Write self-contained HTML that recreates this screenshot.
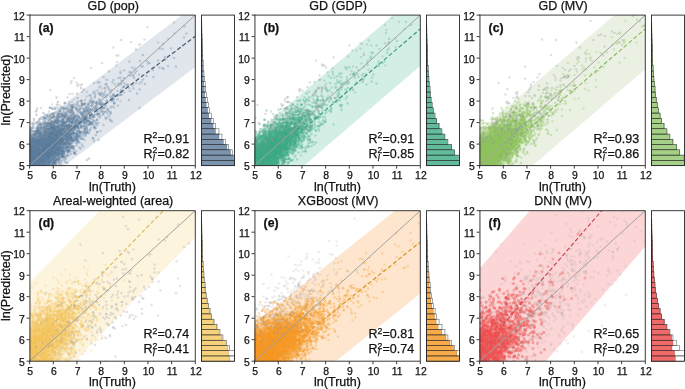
<!DOCTYPE html><html><head><meta charset="utf-8"><style>html,body{margin:0;padding:0;background:#fff;overflow:hidden}svg{display:block;will-change:transform}text{font-family:"Liberation Sans", sans-serif;stroke:#111;stroke-width:0.25px}</style></head><body>
<svg width="685" height="389" viewBox="0 0 685 389">
<rect width="685" height="389" fill="#fff"/>
<clipPath id="c0"><rect x="29.60" y="15.10" width="165.70" height="150.50"/></clipPath>
<g clip-path="url(#c0)">
<polygon points="5.9,147.8 219.0,-12.6 219.0,49.3 5.9,209.8" fill="#e1e5ec"/>
<line x1="5.93" y1="178.80" x2="195.30" y2="36.21" stroke="#44576b" stroke-width="1.20" stroke-dasharray="4.2,2.3"/>
<path d="M162 202h0m19-2h0m2 6h0m11 0h0m-69 10h0m2 6h0m49 0h0m-89 4h0m32 4h0m5-3h0m5 4h0m1 0h0m2-3h0m3 2h0m28-1h0m16-4h0m-80 7h0m9 1h0m23 2h0m9-3h0m32 5h0m-106 9h0m43-5h0m5 5h0m4-4h0m8 4h0m3 0h0m5-6h0m10 4h0m12 2h0m15-6h0m8 2h0m-129 11h0m18-5h0m20 7h0m5-4h0m3-3h0m3 3h0m4 2h0m14-1h0m2-2h0m4 0h0m4-1h0m2 1h0m0 0h0m7 4h0m-81 4h0m6 1h0m16 4h0m4 0h0m2-7h0m7 2h0m15-1h0m4 0h0m6 0h0m0-1h0m6 6h0m0 0h0m7 1h0m14-4h0m3-3h0m4 0h0m-89 10h0m2 5h0m4-2h0m4-2h0m10 3h0m0-3h0m14-2h0m0 5h0m5 1h0m4-6h0m1 3h0m1 3h0m9-2h0m9 2h0m0 0h0m5-6h0m9 3h0m14 0h0m-86 11h0m8-6h0m0 6h0m5-6h0m0 6h0m6 0h0m2-6h0m0 6h0m5-1h0m4 1h0m3-4h0m1 0h0m0 4h0m0-1h0m1-1h0m2-2h0m2 3h0m1-3h0m3 4h0m1-1h0m0-6h0m1 1h0m0 1h0m3-2h0m2 6h0m2 1h0m5-5h0m6 3h0m0-1h0m5-3h0m4 2h0m18 1h0m9 2h0m-113 9h0m5-6h0m3 5h0m2-1h0m0 1h0m2 0h0m2-5h0m0-1h0m2 4h0m6 0h0m2-1h0m0 3h0m2 1h0m2-4h0m1-3h0m1 4h0m2-1h0m1 3h0m1-5h0m5 5h0m3-5h0m2 5h0m3-4h0m0-1h0m5 6h0m0-2h0m1 2h0m4-2h0m3-5h0m2 4h0m1-2h0m3 3h0m3 2h0m14-2h0m2-3h0m1 5h0m-86 8h0m0-5h0m0 2h0m0 3h0m1 0h0m1 0h0m1-1h0m1 0h0m3 0h0m2 1h0m0-6h0m0 0h0m1 2h0m0 4h0m0-3h0m1 3h0m2 0h0m0-3h0m3 3h0m0 0h0m0-2h0m1 2h0m1-1h0m1-1h0m0 2h0m0-3h0m1 1h0m1 2h0m4-4h0m1-2h0m1 6h0m1-7h0m1 6h0m0-4h0m2 4h0m1-2h0m0 3h0m1-2h0m1-4h0m3 4h0m2-1h0m1 3h0m4 0h0m1-1h0m0-1h0m2 2h0m0-4h0m0 1h0m7 2h0m0-1h0m2-3h0m2-2h0m3 7h0m0-6h0m5-1h0m1 5h0m2-2h0m3 2h0m1 1h0m4 1h0m5-2h0m0-3h0m10 4h0m4-1h0m-95 9h0m1 0h0m1 0h0m1-2h0m0 2h0m1-3h0m0 1h0m2-3h0m2 6h0m2-4h0m0-3h0m3 0h0m1 2h0m1-1h0m0 5h0m1 1h0m0-1h0m1-3h0m0-3h0m1 1h0m0 6h0m1-4h0m0 4h0m1-2h0m0 2h0m0-5h0m2 1h0m0 0h0m3-1h0m4 0h0m1 5h0m5-2h0m0 2h0m1-6h0m4 2h0m2-3h0m0 6h0m2-6h0m6 2h0m0 5h0m1-3h0m0-1h0m0-3h0m2 6h0m6-4h0m1-2h0m1 4h0m0 1h0m8-5h0m0 6h0m2-3h0m2 3h0m7-6h0m4 7h0m2-3h0m-86 7h0m7 3h0m1 0h0m1-2h0m0 1h0m2 2h0m3-7h0m5 1h0m2 3h0m0 2h0m0-2h0m1 0h0m0-1h0m2-1h0m0 4h0m1-5h0m1 6h0m1 0h0m1 0h0m2-7h0m0 0h0m2 6h0m1 0h0m4-5h0m4 3h0m0 1h0m1-1h0m3-1h0m1 1h0m0 3h0m2-1h0m3-2h0m3 1h0m4-5h0m1 2h0m0 3h0m7-5h0m9 1h0m-77 8h0m1 6h0m0-5h0m1 1h0m2 2h0m0 1h0m2-3h0m2-2h0m0 4h0m0-1h0m1-1h0m2 4h0m1-2h0m0-5h0m3 1h0m2 0h0m0 2h0m2 3h0m2-5h0m1 5h0m2-4h0m1 0h0m2 1h0m0-3h0m2 0h0m2 5h0m2 1h0m1 1h0m2-4h0m0-1h0m0-1h0m0 5h0m1 0h0m5-3h0m1-1h0m4 4h0m2-5h0m1-1h0m2 0h0m1 4h0m0-3h0m1-1h0m1 1h0m3 4h0m0-3h0m6 5h0m-64 6h0m0-1h0m1-4h0m0 6h0m3-3h0m2-2h0m1 4h0m0 1h0m0 0h0m2-1h0m0-5h0m1 0h0m1 0h0m2 4h0m2 0h0m1 2h0m2 0h0m3-4h0m0 1h0m1-3h0m0 1h0m1-1h0m3 6h0m1-3h0m1-2h0m2 5h0m2-3h0m3-2h0m1 5h0m0-6h0m2 4h0m7 0h0m3-2h0m3-1h0m2-1h0m4 0h0m1 7h0m1-2h0m2-4h0m22 4h0m2 1h0m-81 6h0m2-2h0m0 5h0m3-4h0m1 1h0m0 1h0m1-2h0m0-2h0m1 3h0m0-4h0m0 3h0m1-2h0m3 3h0m6-2h0m2 1h0m2 0h0m1 0h0m0-2h0m1 2h0m0-1h0m1-1h0m1 4h0m1-4h0m8 0h0m2-1h0m0 5h0m2-5h0m4 2h0m2 4h0m0 0h0m5-3h0m19 0h0m-72 9h0m1-2h0m0 1h0m6-3h0m0 2h0m3-2h0m2 0h0m2 3h0m1-1h0m0 1h0m5-3h0m1 0h0m7 1h0m5 1h0m23 0h0" stroke="#57799a" stroke-opacity="0.33" stroke-width="5.2" stroke-linecap="round" fill="none" transform="scale(.5)"/>
<path d="M155 209h0m-12 11h0m29-4h0m-78 14h0m14 1h0m39-5h0m63-2h0m-120 12h0m7-2h0m15 5h0m7-5h0m11-2h0m9 4h0m2 0h0m44-3h0m-87 13h0m4-1h0m12-3h0m3-2h0m23 3h0m6-1h0m2-1h0m19 2h0m-91 11h0m30 0h0m2-5h0m15 1h0m2 1h0m2-2h0m5 5h0m9 1h0m6-6h0m8 5h0m-93 2h0m3 7h0m3 0h0m5 0h0m3-4h0m0 3h0m7-3h0m15 0h0m6 3h0m10-5h0m1 4h0m1-4h0m3 6h0m1-2h0m4 1h0m3-1h0m1-1h0m3-2h0m7 2h0m3-2h0m1 1h0m3-2h0m2 3h0m27 1h0m-123 6h0m1 4h0m14-1h0m3 0h0m4-3h0m3 3h0m1-6h0m0 2h0m3 1h0m2 1h0m0 0h0m0-2h0m3 5h0m2-4h0m0 0h0m6 3h0m1 1h0m6-1h0m5-1h0m1-5h0m5 6h0m3-5h0m1 2h0m6 3h0m0-3h0m0 1h0m8 0h0m16 0h0m2-3h0m12-1h0m10 0h0m4 3h0m-120 12h0m12-3h0m4 3h0m1 0h0m7-5h0m1-1h0m1 1h0m0 4h0m2-2h0m2 0h0m0 0h0m4 1h0m10 1h0m1-1h0m3-2h0m3 3h0m5 1h0m1-1h0m3-2h0m2-3h0m0-1h0m7 0h0m1 6h0m13 1h0m1-7h0m6 5h0m12-5h0m4 0h0m-104 10h0m6-1h0m4 3h0m0 0h0m2 1h0m1-2h0m1-1h0m0 1h0m1-1h0m1-1h0m1 3h0m0 1h0m2-2h0m1 3h0m2-4h0m0-1h0m0 5h0m1 1h0m1-7h0m3 5h0m2 0h0m3 2h0m2-3h0m5 1h0m0-3h0m1 5h0m7-6h0m1 2h0m0-1h0m0-1h0m4 1h0m0-1h0m1 1h0m0-2h0m4 5h0m1 1h0m1-3h0m1-2h0m1 4h0m3-5h0m1 0h0m9 7h0m16-2h0m1 0h0m0-1h0m7-4h0m4 4h0m-105 5h0m6 5h0m1-4h0m1 2h0m0 2h0m0-1h0m3 1h0m2-3h0m0-3h0m1 2h0m0 3h0m2 2h0m1-1h0m0 0h0m3 0h0m0 1h0m3-1h0m1-6h0m4 3h0m0 4h0m1-6h0m0-1h0m2 3h0m2 3h0m0 0h0m1-1h0m1-4h0m0 6h0m0-1h0m0-4h0m2 5h0m3-6h0m2 1h0m0 1h0m0 2h0m1 2h0m4-7h0m3 5h0m0 1h0m1 1h0m3-6h0m1 0h0m1 6h0m1-5h0m1 2h0m0 2h0m2-3h0m1 3h0m1-3h0m1-3h0m12 5h0m6 2h0m8-6h0m-89 13h0m1 0h0m2-5h0m1-1h0m0 7h0m2-1h0m0-5h0m0 1h0m2 2h0m3-1h0m3 1h0m1-1h0m1-2h0m1 6h0m3-3h0m1 2h0m1-2h0m1-1h0m2 4h0m0-6h0m0 0h0m1-1h0m1 0h0m1 2h0m0-2h0m1 7h0m6 0h0m1-7h0m2 2h0m0 2h0m0-4h0m2 0h0m2 3h0m0-2h0m6 4h0m2-3h0m1-1h0m5-1h0m0 3h0m0 4h0m1-1h0m1 0h0m0-5h0m1 1h0m1-1h0m2 2h0m5-3h0m9 7h0m5-7h0m6 6h0m-89 2h0m0 0h0m1 5h0m1-1h0m0 2h0m1 1h0m3-3h0m0-2h0m1 1h0m1-2h0m6 3h0m0 1h0m0 1h0m0-2h0m1-1h0m0 1h0m2 0h0m1-3h0m0 4h0m2-2h0m4-2h0m0 6h0m0-6h0m1 4h0m0 2h0m1-6h0m1 1h0m1 2h0m1 2h0m0-6h0m2 7h0m0-3h0m1 2h0m4 1h0m0-1h0m1 0h0m1 1h0m1-1h0m0 0h0m0 0h0m4-4h0m0 3h0m2-3h0m1 0h0m2 1h0m1 3h0m1-1h0m1 2h0m3-7h0m4 7h0m1-1h0m1 1h0m0-4h0m3 1h0m0 0h0m2 2h0m10-2h0m2 3h0m-76 2h0m1 2h0m3-3h0m1 1h0m0-1h0m2 0h0m1 3h0m4 4h0m0-7h0m0 5h0m4-4h0m0-1h0m1 2h0m1 2h0m0-1h0m1 0h0m0 1h0m0 2h0m4-3h0m5-1h0m3 5h0m1-1h0m5-4h0m0 2h0m0-4h0m1 0h0m1 2h0m1 3h0m1-1h0m0 1h0m0-5h0m2 7h0m0-4h0m1-1h0m1 0h0m3 2h0m2-3h0m4 6h0m2-5h0m1 5h0m-57 6h0m1 1h0m0-4h0m1 5h0m0-5h0m1-1h0m3 1h0m0 5h0m1-6h0m0 5h0m5-4h0m1-1h0m1 6h0m2-7h0m0 1h0m1 5h0m2 1h0m3-1h0m2 1h0m0-2h0m0 0h0m0 1h0m1-6h0m3 3h0m2 1h0m1-3h0m1 3h0m4 2h0m0-6h0m5 1h0m6 2h0m1 4h0m0-5h0m8 4h0m1-1h0m8-5h0m-66 9h0m0 6h0m1-3h0m0-4h0m1 3h0m2 1h0m0 0h0m1 3h0m1-2h0m0-5h0m2 0h0m1 2h0m3 5h0m1-5h0m2 0h0m1-2h0m0 6h0m3-3h0m1-1h0m0-2h0m1 1h0m4 2h0m2-3h0m2 0h0m2 7h0m3-3h0m0 1h0m3 0h0m1 2h0m0-2h0m2-5h0m2 7h0m5-4h0m4 3h0m4-6h0m-54 11h0m3-3h0m3 3h0m2-1h0m3-1h0m4-1h0m1 1h0m0 1h0m1-1h0m7 1h0m2-2h0m1 2h0m2-1h0" stroke="#57799a" stroke-opacity="0.33" stroke-width="5.2" stroke-linecap="round" fill="none" transform="scale(.5)"/>
<path d="M129 206h0m34-4h0m-19 13h0m-40 1h0m15 7h0m25-1h0m26 1h0m-61 3h0m4-1h0m4 3h0m1-4h0m7 6h0m2-3h0m-40 12h0m28-6h0m12 6h0m19 0h0m6-2h0m16 2h0m1-4h0m2 2h0m23 2h0m-91 3h0m9 0h0m7 5h0m4-6h0m8 5h0m7-5h0m26 0h0m10 5h0m1-4h0m-94 6h0m8 6h0m2-5h0m1 3h0m11-4h0m4 7h0m2-2h0m8-2h0m0 2h0m3 2h0m7-2h0m8 2h0m2 0h0m6-4h0m8 1h0m5-1h0m-78 10h0m16-1h0m6 3h0m3-5h0m2 5h0m0-2h0m3 1h0m6-3h0m0-2h0m2 5h0m5-6h0m4 5h0m2-1h0m11 3h0m1-7h0m2 7h0m-82 3h0m12 3h0m5-3h0m0 0h0m1 2h0m4 1h0m7 1h0m0 1h0m1-3h0m4-4h0m4 1h0m1 0h0m5 0h0m2 1h0m3 3h0m2-2h0m3-2h0m2 4h0m5 0h0m0-3h0m1 3h0m4 1h0m3-2h0m3 2h0m1-2h0m0 2h0m3-5h0m0-1h0m6 6h0m2-5h0m0 5h0m0-3h0m4-1h0m-91 6h0m0 2h0m3-2h0m5 3h0m2 2h0m4-2h0m2 4h0m0-2h0m2 1h0m3-4h0m1 2h0m4 0h0m0-3h0m1-1h0m4 7h0m1-1h0m1-3h0m1 3h0m0-3h0m1 3h0m8-4h0m0 0h0m1 1h0m1-2h0m1-1h0m0 6h0m5-2h0m1-2h0m1-1h0m2 0h0m2-1h0m1 2h0m0-2h0m2 7h0m3-4h0m1 4h0m2-1h0m1-2h0m2 3h0m3-6h0m4 0h0m1 4h0m3-2h0m4 0h0m1 0h0m-91 10h0m5 2h0m1-5h0m8 1h0m1 0h0m1-2h0m1 4h0m0-5h0m1 4h0m3-2h0m1 2h0m2 2h0m0-4h0m4 2h0m1 2h0m3-4h0m4-1h0m1 5h0m5-5h0m1 1h0m1 0h0m7-2h0m1 5h0m1-2h0m4-1h0m2 1h0m3 1h0m6-2h0m1 3h0m1-4h0m2 1h0m1-2h0m3 3h0m8 0h0m3 0h0m17-1h0m-104 7h0m1 1h0m0-1h0m1 5h0m1 0h0m1 0h0m1-5h0m1 1h0m1 3h0m1 0h0m0-1h0m0 1h0m1-4h0m0-1h0m1 4h0m0 3h0m8-2h0m1-2h0m0 4h0m1-4h0m1-2h0m0 6h0m0-5h0m1 4h0m1-4h0m0 2h0m1-2h0m3 5h0m0-4h0m1 0h0m2 0h0m1-1h0m2-2h0m0 4h0m1-3h0m1-1h0m0 1h0m1-1h0m2 5h0m1-4h0m1-1h0m2 0h0m0 0h0m1 1h0m4 0h0m5 1h0m1 3h0m1 1h0m0 0h0m1-5h0m3 5h0m1-3h0m0-3h0m9 6h0m1-1h0m-68 10h0m4-5h0m1 3h0m5-3h0m1-2h0m0 3h0m0 2h0m2-1h0m5 3h0m0-7h0m1 7h0m1 0h0m2-1h0m0 1h0m2-3h0m0-1h0m1-2h0m1 1h0m2-2h0m0 4h0m2 1h0m1 0h0m1-2h0m2 2h0m1-1h0m0-3h0m1 1h0m1 2h0m0 1h0m1 1h0m1-1h0m0-5h0m7 1h0m0 2h0m2 3h0m0-6h0m2 7h0m1-3h0m4 3h0m0-3h0m1-3h0m5 6h0m4-6h0m8 0h0m-74 8h0m3-1h0m4 1h0m3 2h0m0-3h0m3 1h0m1 2h0m1 3h0m2-1h0m3 0h0m0 2h0m1-1h0m0 1h0m1-1h0m0-3h0m0-1h0m1 5h0m1-6h0m2 2h0m2 3h0m2-1h0m2 2h0m0-4h0m2 3h0m0-5h0m1-1h0m2 7h0m3-5h0m0 4h0m5 0h0m2-2h0m0-2h0m0 1h0m1-3h0m0 5h0m3 1h0m9-1h0m3-4h0m36 1h0m-99 8h0m0-1h0m1 6h0m1-2h0m2 2h0m1 0h0m3 0h0m0-2h0m2-1h0m0 0h0m1 1h0m2-2h0m0-2h0m2-1h0m1 6h0m1-6h0m1 6h0m2-1h0m1 0h0m0-5h0m4 4h0m1-1h0m0 2h0m3-1h0m3 3h0m1-1h0m1-3h0m0 2h0m1 1h0m1-4h0m1 1h0m0 4h0m0 0h0m4-6h0m1-1h0m1 2h0m2-1h0m1 2h0m0 4h0m14-6h0m1 6h0m7-2h0m1-2h0m6-2h0m-73 12h0m1-4h0m0 5h0m1-4h0m0 4h0m1 0h0m0-2h0m1 1h0m2-2h0m1 1h0m1 1h0m0 1h0m2-5h0m0 0h0m4 6h0m0-6h0m4 5h0m0-5h0m0 4h0m3 1h0m0-4h0m2-2h0m3 0h0m1 5h0m0-5h0m1 6h0m5-5h0m5-1h0m7 3h0m1 2h0m10 0h0m3 2h0m8-2h0m3 0h0m-71 3h0m1 0h0m1 3h0m1 0h0m0-3h0m1 2h0m0-2h0m1 4h0m1-4h0m1 2h0m1-1h0m0 3h0m1-3h0m3 0h0m0 5h0m0 0h0m2 0h0m3-2h0m1-2h0m11 3h0m2-1h0m1-1h0m4 3h0m2-1h0m5-2h0m7 1h0m3-3h0m1 0h0m2 5h0m-57 5h0m2 1h0m2-4h0m1 3h0m4 0h0m0-3h0m2 4h0m1-1h0m0-3h0m3 3h0m3 1h0m9-2h0m5-2h0m6 1h0m10-1h0m3 4h0" stroke="#57799a" stroke-opacity="0.33" stroke-width="5.2" stroke-linecap="round" fill="none" transform="scale(.5)"/>
<path d="M223 181h0m-123 35h0m114 2h0m-108 9h0m10 2h0m2-1h0m15 0h0m30-4h0m13 3h0m-91 10h0m15 2h0m6-4h0m8 3h0m0-4h0m2 5h0m2-4h0m25-3h0m21 7h0m0-4h0m1 1h0m1 1h0m21-2h0m-95 11h0m7-4h0m1 5h0m4-2h0m4 0h0m9-3h0m6 3h0m1 2h0m3-4h0m7-3h0m10 3h0m5 0h0m18 3h0m-111 5h0m10 0h0m13 4h0m23 0h0m10-2h0m2 0h0m9-5h0m3 7h0m2-1h0m5-4h0m6 3h0m2 0h0m14 1h0m27-6h0m3 1h0m-134 7h0m22 6h0m5-3h0m1-3h0m6 3h0m2-3h0m0 2h0m3 4h0m0-1h0m2 1h0m1 1h0m20-3h0m3-1h0m1 0h0m2 0h0m20-2h0m17 6h0m13-3h0m-112 4h0m13 3h0m17 2h0m3-1h0m2-4h0m0 3h0m7 1h0m1-4h0m1 3h0m2 0h0m0-1h0m5-2h0m4 1h0m2-1h0m0 0h0m7 4h0m6 0h0m0 2h0m1-2h0m2-4h0m2 0h0m16 5h0m47-5h0m-145 10h0m7-2h0m2 6h0m0-1h0m6-2h0m2 1h0m1 3h0m5-2h0m2-3h0m5 2h0m0 1h0m0-1h0m0-2h0m5 4h0m11-1h0m1-4h0m1 4h0m3 2h0m0-5h0m0-1h0m0 4h0m1-3h0m5 3h0m4 0h0m5 2h0m1-4h0m6 1h0m11-1h0m4-2h0m1 3h0m2 2h0m2-3h0m0-1h0m7 4h0m-99 2h0m1 2h0m2 1h0m2 2h0m10-4h0m1 5h0m0 1h0m2-6h0m1 2h0m1 1h0m0-4h0m0 2h0m1-2h0m5 4h0m1-1h0m0-1h0m0-2h0m0 1h0m1 6h0m0-6h0m0 4h0m0-1h0m1-4h0m1 4h0m2 2h0m5-2h0m1-4h0m0 5h0m1 2h0m1-2h0m0 1h0m1-5h0m5 1h0m1 5h0m2-2h0m0 0h0m1 0h0m1-3h0m0 4h0m2-1h0m3-5h0m0 4h0m3 0h0m4-1h0m1 1h0m0 0h0m4-3h0m2 5h0m1 0h0m3-4h0m0 0h0m1 2h0m-74 4h0m3 3h0m1 2h0m2 2h0m1-1h0m1-5h0m3 3h0m1-4h0m0 0h0m2 3h0m4 3h0m5 0h0m1-6h0m0 3h0m1 4h0m0-4h0m1 3h0m4-2h0m3 0h0m0 0h0m1-1h0m0 0h0m1-2h0m1 5h0m2 1h0m2-7h0m1 0h0m1 3h0m1-2h0m0 3h0m10-4h0m1 1h0m4 2h0m3 2h0m5 0h0m1-5h0m3 6h0m7-6h0m5 5h0m3 1h0m1-5h0m6 5h0m-94 9h0m1-6h0m1 0h0m0 0h0m4-1h0m1 5h0m0-3h0m1 3h0m1-4h0m0 5h0m1-2h0m0-1h0m1 0h0m3 2h0m1-3h0m7-2h0m2 2h0m1 5h0m0-4h0m3 2h0m2-4h0m0 0h0m0 6h0m0-1h0m3 1h0m0-4h0m4 4h0m1-3h0m0-3h0m1 0h0m0 3h0m3 3h0m2-4h0m1 2h0m0 2h0m2-7h0m3 3h0m0 3h0m0-3h0m3 0h0m2-1h0m3-2h0m6 3h0m2 1h0m8 1h0m10 1h0m13 1h0m-97 8h0m1-5h0m0 0h0m0 4h0m1-1h0m3-4h0m0 5h0m1-2h0m1 2h0m2-4h0m0 2h0m1 2h0m0-2h0m0 0h0m0 3h0m3-7h0m2 0h0m0 1h0m0 6h0m1-3h0m1 1h0m2 0h0m0-2h0m1 3h0m5 0h0m1 0h0m0-5h0m2 3h0m1-2h0m2 4h0m2 0h0m0 0h0m1-6h0m2 4h0m0 1h0m1-3h0m0 3h0m1 0h0m3 0h0m5 2h0m0-6h0m0 1h0m1 0h0m1-2h0m2 2h0m3-1h0m0 4h0m1-3h0m1-1h0m2 1h0m5-2h0m4 1h0m5 5h0m1-3h0m0 0h0m-66 6h0m1 6h0m0-2h0m2 1h0m0-6h0m0 6h0m2-2h0m1 0h0m2-3h0m1 4h0m0 1h0m2-3h0m1-2h0m0 5h0m1-3h0m0 1h0m1-4h0m2 6h0m0-5h0m0-1h0m3 3h0m2-1h0m1 1h0m4 0h0m0-2h0m1 2h0m2-2h0m2 3h0m5-2h0m0 0h0m5 5h0m0-2h0m1-3h0m6 0h0m6 4h0m2 1h0m-62 2h0m1 1h0m2 0h0m2 0h0m1 3h0m0-4h0m2 2h0m0 4h0m0-7h0m1 2h0m2-2h0m1 5h0m0-1h0m1 1h0m1-5h0m1 5h0m0 0h0m3 0h0m0-2h0m2-3h0m2 0h0m1 0h0m1 7h0m0-3h0m5 1h0m0-4h0m2 1h0m2 5h0m3-7h0m1 3h0m2 2h0m1-4h0m2-1h0m1 2h0m3-2h0m5 3h0m5 2h0m6 2h0m4-4h0m-65 9h0m1-1h0m4-1h0m1 1h0m2 1h0m1-1h0m0 2h0m0 1h0m2-6h0m1 4h0m3 0h0m3 1h0m1-5h0m0 0h0m2 3h0m0-2h0m3 1h0m0 3h0m1-3h0m4-1h0m3 0h0m1 6h0m1-7h0m5 0h0m1 7h0m4-5h0m1 0h0m4-1h0m0 2h0m1 4h0m7-5h0m5 4h0m-63 2h0m3 2h0m1 0h0m1 1h0m1 1h0m3-2h0m0 0h0m0-2h0m2 1h0m3-1h0m1 1h0m1-1h0m0 1h0m1 2h0m1-3h0m3 1h0m4 0h0m2 2h0m24 0h0" stroke="#57799a" stroke-opacity="0.33" stroke-width="5.2" stroke-linecap="round" fill="none" transform="scale(.5)"/>
<path d="M248 156h0m-61 47h0m-73 6h0m8 5h0m13-1h0m58-5h0m-55 15h0m2-3h0m3-4h0m28 0h0m-48 11h0m7 4h0m12-6h0m-74 13h0m25-3h0m12 0h0m2 0h0m18 4h0m1-6h0m9 1h0m14-1h0m10 2h0m-58 11h0m10-5h0m1 5h0m3 1h0m12 0h0m9-7h0m6 5h0m2-2h0m13-3h0m1 2h0m-92 13h0m10-3h0m4-3h0m3 1h0m0 3h0m13-2h0m7 3h0m1-1h0m1-3h0m2-1h0m8 5h0m13-1h0m9-3h0m0 4h0m1-4h0m5 4h0m13 1h0m16-2h0m16 2h0m-122 1h0m6 6h0m2-2h0m1-2h0m0 4h0m6-2h0m5 0h0m0 3h0m6-1h0m4-1h0m1-3h0m2 1h0m0-1h0m5 2h0m3 1h0m0 0h0m0-3h0m3-1h0m0 5h0m12 1h0m2-4h0m3-1h0m7 4h0m2-3h0m22 0h0m2 4h0m-100 5h0m12 3h0m5 0h0m4-2h0m6 1h0m2-5h0m1 0h0m5 2h0m2 2h0m3-2h0m2-1h0m5 1h0m0 0h0m4-1h0m8 3h0m0-2h0m6 4h0m0-2h0m0-3h0m5-1h0m1 3h0m2-3h0m9 2h0m-87 5h0m4 5h0m3-5h0m4 3h0m2 1h0m6-3h0m1 1h0m2 2h0m1-1h0m0 2h0m0-5h0m6 5h0m5 1h0m0-5h0m2 1h0m0-2h0m1 7h0m3-3h0m0 1h0m1-3h0m2-1h0m2 5h0m3-2h0m5 1h0m1 1h0m0 0h0m2 0h0m1 0h0m1-6h0m2 1h0m0 0h0m4 6h0m0-4h0m0-1h0m0 2h0m2 1h0m1-2h0m2-2h0m4 4h0m1-4h0m5 6h0m10-4h0m11-2h0m6 4h0m5 0h0m-112 6h0m6-3h0m0 2h0m1-1h0m1 6h0m1 0h0m1-3h0m3-1h0m2 0h0m2 3h0m0-4h0m2-2h0m1 0h0m0 5h0m0 0h0m1-4h0m3 1h0m0 2h0m1-2h0m2-2h0m2 7h0m0-6h0m0 0h0m8 5h0m1-3h0m1-1h0m4 5h0m1-5h0m0 4h0m3-5h0m0 5h0m1-1h0m2-3h0m0-2h0m1 7h0m1-2h0m1-5h0m1 7h0m0-2h0m1 1h0m1-3h0m5-3h0m1 1h0m0 6h0m4-5h0m2 2h0m1-1h0m3 0h0m9-3h0m14 0h0m7 2h0m-100 7h0m0 5h0m0 0h0m1-2h0m0 1h0m2 1h0m2-5h0m0 5h0m0-5h0m1 0h0m1 0h0m2 5h0m1-1h0m0-2h0m2 1h0m1-4h0m5 0h0m0 1h0m3 3h0m1-1h0m1-3h0m2 6h0m1-4h0m0 2h0m1 0h0m0 1h0m0-4h0m3 6h0m1-4h0m1-1h0m0 3h0m1-2h0m1-3h0m0 2h0m1 0h0m2 1h0m1-2h0m4 3h0m1-1h0m1 1h0m3 0h0m0 0h0m2 0h0m3-3h0m1 6h0m1-3h0m0-3h0m1 1h0m1-1h0m10 6h0m5-6h0m1-1h0m11 6h0m1-3h0m5 1h0m8-1h0m-102 12h0m1-4h0m1 2h0m1 2h0m1-1h0m2-1h0m0-2h0m2 1h0m0-4h0m1 3h0m1-3h0m1 0h0m1 6h0m2-1h0m0 1h0m5 1h0m1-6h0m1 1h0m0 2h0m1 2h0m2 0h0m0-4h0m3 1h0m0 4h0m2-3h0m1-2h0m0 1h0m1 1h0m1 2h0m1-3h0m3 4h0m0-5h0m2 2h0m2 1h0m0 2h0m3-5h0m0 4h0m2-1h0m11 2h0m5-2h0m2-2h0m2-1h0m1 5h0m4-5h0m4 3h0m2 0h0m2 1h0m1 1h0m10-7h0m7 2h0m-94 8h0m1 3h0m0-2h0m2 2h0m4-2h0m1-1h0m2 3h0m1-2h0m0-2h0m2 5h0m1-1h0m1 2h0m0-7h0m0 6h0m1-3h0m0 3h0m3-3h0m1 2h0m1 2h0m2-2h0m2-2h0m1 2h0m5-1h0m0 2h0m2-5h0m0 0h0m3 4h0m4 0h0m5 2h0m3-7h0m1 6h0m2-2h0m1-4h0m5 3h0m6 4h0m9-2h0m4-3h0m8 5h0m-85 5h0m2-3h0m1 2h0m1 2h0m2-2h0m3 1h0m0 1h0m1-5h0m0 0h0m2 4h0m1-1h0m1 2h0m3 0h0m0 1h0m3 0h0m2-1h0m1-1h0m0-2h0m2 0h0m1 2h0m1-1h0m1-2h0m5 6h0m2-1h0m3-3h0m5 3h0m3-6h0m1 5h0m1-5h0m8 1h0m9 5h0m1-1h0m2-2h0m-69 8h0m2 2h0m1-2h0m0 1h0m4 1h0m1 0h0m3-3h0m0 4h0m0-3h0m1 1h0m1-1h0m1 2h0m1 0h0m2-1h0m0 1h0m2-1h0m0-1h0m0-1h0m1-2h0m2 4h0m0-2h0m1 3h0m1-4h0m0 0h0m0 0h0m1 2h0m5-1h0m6 0h0m1 5h0m2 0h0m1-1h0m4 1h0m2-3h0m7 0h0m2-4h0m3 4h0m2 1h0m7 1h0m-68 4h0m2-2h0m0 6h0m2 1h0m3-6h0m1 4h0m1 0h0m0-5h0m1 0h0m3 4h0m0-3h0m1 5h0m0 0h0m1-5h0m2-1h0m0 0h0m0 7h0m2-5h0m0 3h0m1-1h0m1 0h0m0-2h0m3 4h0m1 1h0m0-1h0m2-3h0m1 0h0m1 1h0m1-1h0m7-1h0m1 4h0m4-6h0m2 7h0m3-3h0m4-2h0m9-1h0m10 3h0m-70 4h0m5 0h0m0 3h0m5-1h0m1 0h0m2-1h0m1-1h0m13 3h0" stroke="#57799a" stroke-opacity="0.33" stroke-width="5.2" stroke-linecap="round" fill="none" transform="scale(.5)"/>
<path d="M215 173h0m-16 15h0m-99 27h0m10 0h0m55-5h0m-93 13h0m33-5h0m24-1h0m15 4h0m11 0h0m13-2h0m28-2h0m-65 14h0m1-6h0m1 1h0m19 5h0m11-5h0m-75 9h0m14 0h0m20 0h0m4 2h0m3-2h0m5 3h0m4-3h0m10 2h0m2-4h0m4 1h0m-78 10h0m13 1h0m5 2h0m2-1h0m20-4h0m5-1h0m7 6h0m3 0h0m1-4h0m10 1h0m1 1h0m10-1h0m4 1h0m40 1h0m-120 3h0m12 4h0m2 2h0m0-6h0m3 6h0m1-5h0m0 3h0m7 2h0m2 0h0m8-4h0m5 2h0m5 0h0m11-1h0m5-1h0m4-1h0m6 4h0m7-1h0m-96 3h0m2 4h0m8 3h0m2 0h0m2-7h0m2 0h0m16 5h0m6-3h0m0 3h0m6-4h0m4 2h0m1-1h0m6 4h0m1 0h0m2-2h0m1-4h0m4 4h0m5-3h0m55-1h0m-124 15h0m13-3h0m2 2h0m1 1h0m2-6h0m3 2h0m1 1h0m0-4h0m10 7h0m2-5h0m3 1h0m2-1h0m1-2h0m5 5h0m4-2h0m3-2h0m0 3h0m2-2h0m5-2h0m6 2h0m2 2h0m2 1h0m0 1h0m1 0h0m7-1h0m5 1h0m0 0h0m0-4h0m3 5h0m9-5h0m-101 9h0m5 4h0m0-1h0m5-1h0m1-2h0m3 2h0m4 0h0m13-2h0m1 3h0m2-6h0m2 5h0m3-1h0m7 1h0m1 1h0m1 1h0m1-6h0m1 5h0m2-6h0m3 1h0m1-1h0m4 3h0m0-3h0m8 4h0m2-1h0m3 4h0m7-6h0m16 5h0m6-5h0m33 3h0m-129 6h0m2 0h0m2-1h0m1 2h0m1-2h0m1 4h0m3 2h0m1-7h0m0 3h0m2 1h0m0-2h0m7-1h0m1 0h0m8 1h0m1 1h0m2 2h0m2-4h0m1 2h0m1-3h0m0 0h0m2 1h0m0 5h0m1-4h0m2-2h0m1 3h0m2-1h0m0 2h0m2-4h0m6 1h0m4 4h0m1-5h0m1 2h0m1-1h0m3 1h0m7 5h0m3-1h0m1-4h0m2 1h0m0 1h0m1 2h0m1-4h0m-83 12h0m2-1h0m1-4h0m3 6h0m1 0h0m0-5h0m6 0h0m2 4h0m2-2h0m1-4h0m1 6h0m2-6h0m2 2h0m2 2h0m0-4h0m0 4h0m3 3h0m0-3h0m1-3h0m1 2h0m1-2h0m3 2h0m0 0h0m5 4h0m1-2h0m0-5h0m1 3h0m1 1h0m2 3h0m0-7h0m1 7h0m1-2h0m1 2h0m4-6h0m0-1h0m4 7h0m2-1h0m1-6h0m0 1h0m2 5h0m0-1h0m2-5h0m1 6h0m2 1h0m6-7h0m-71 9h0m1 2h0m1 1h0m4 1h0m0 0h0m2-2h0m0 0h0m1 0h0m1 1h0m4 1h0m2-4h0m0-1h0m0 3h0m2 3h0m0-2h0m0 1h0m3-2h0m0-2h0m1 6h0m2-4h0m0 1h0m0 1h0m0 2h0m2-6h0m1 1h0m1 1h0m0 4h0m3-4h0m0 3h0m1-2h0m2-3h0m0 2h0m3 2h0m0-4h0m0 4h0m1-4h0m1 6h0m5-1h0m1-1h0m0-2h0m1 4h0m0-1h0m3-2h0m1-1h0m0-3h0m1 1h0m2 0h0m0 4h0m2-2h0m1 0h0m2 0h0m1 4h0m0-5h0m5-1h0m1-1h0m1 3h0m1 2h0m4-5h0m3 6h0m17-5h0m5 0h0m-96 12h0m2 1h0m0-6h0m1 3h0m1-1h0m1-1h0m2 5h0m1-4h0m1 5h0m0-1h0m0-3h0m1 2h0m0-3h0m1 1h0m2-2h0m0 5h0m2-4h0m0 2h0m1-4h0m2 7h0m0-4h0m1-2h0m1 1h0m0 0h0m3-2h0m1 7h0m1 0h0m3-3h0m8 1h0m1-5h0m1 3h0m1 0h0m2-1h0m7-1h0m1 2h0m1 0h0m1 0h0m8-2h0m2 1h0m4 2h0m9 1h0m0-1h0m17 0h0m-91 6h0m2 3h0m1-2h0m1 3h0m3-6h0m1 6h0m0-2h0m1 3h0m1-1h0m2 1h0m0-3h0m1 2h0m0 0h0m1-6h0m2 6h0m1-6h0m0 0h0m0 2h0m1 5h0m0-3h0m2 3h0m1-4h0m1-2h0m0 0h0m0 3h0m0 1h0m3 1h0m0-1h0m1-4h0m1-1h0m1 1h0m1 3h0m2 1h0m0-2h0m1 4h0m3-5h0m1 1h0m1-2h0m1 4h0m1-1h0m4-4h0m4 0h0m15 0h0m2 0h0m16 6h0m3-6h0m-83 13h0m2 1h0m2-6h0m0 5h0m1-3h0m1 1h0m2-2h0m0 0h0m2 2h0m1 3h0m2-1h0m1-3h0m2-2h0m0 7h0m1-5h0m0 5h0m1 0h0m3-2h0m0-1h0m1 3h0m0-5h0m0-2h0m1 7h0m0-4h0m1-1h0m1 0h0m2-1h0m0 3h0m1 1h0m0 1h0m3-6h0m0 5h0m2-2h0m0 0h0m0 3h0m2 0h0m0-5h0m7 4h0m3-3h0m1-1h0m5 2h0m1-2h0m5 5h0m16-5h0m-73 8h0m0 5h0m2-3h0m3 4h0m0-4h0m2 4h0m0-6h0m1 3h0m3 0h0m1 3h0m1-6h0m1 2h0m2 3h0m1-4h0m1-1h0m3-1h0m3 1h0m2 0h0m4 5h0m7-6h0m0 5h0m6-3h0m1 0h0m-42 7h0m2 3h0m1-2h0m2-2h0m3 0h0m2 0h0m2 1h0m1 1h0m4 0h0m4-1h0m9-1h0" stroke="#57799a" stroke-opacity="0.33" stroke-width="5.2" stroke-linecap="round" fill="none" transform="scale(.5)"/>
<path d="M143 211h0m6-2h0m28 1h0m-44 8h0m26 4h0m17-5h0m3 2h0m12 3h0m-92 6h0m3 0h0m41-1h0m4 1h0m25 1h0m-75 10h0m17-4h0m21 3h0m8 0h0m31 1h0m0-7h0m-79 14h0m14 1h0m3-2h0m5-2h0m2 1h0m21 2h0m14-6h0m22 2h0m10-2h0m-136 8h0m3 5h0m5-1h0m23-2h0m7 0h0m12 0h0m2 3h0m2-4h0m3 6h0m28-4h0m7 0h0m-82 12h0m14 0h0m2-6h0m4 5h0m7 1h0m5 0h0m1-6h0m2 1h0m4-2h0m7 5h0m3-4h0m3 4h0m4 1h0m16-3h0m2 2h0m16-3h0m20-1h0m-96 11h0m4-3h0m8 0h0m1-1h0m5 0h0m7 7h0m4-5h0m1-2h0m1 1h0m1 4h0m0-1h0m1 1h0m1-5h0m0 5h0m1 1h0m3 1h0m2-1h0m1-4h0m0 1h0m1 3h0m4 1h0m0-5h0m2 2h0m2 3h0m6-2h0m2-4h0m0 4h0m1-3h0m0 2h0m1 3h0m1-5h0m4 3h0m15-1h0m17 1h0m3-5h0m-123 10h0m8 3h0m3 1h0m6-5h0m1 0h0m0 2h0m3 2h0m2 2h0m10-4h0m2 3h0m0-1h0m2-4h0m4 3h0m0 0h0m2-1h0m6-1h0m5 5h0m7-5h0m2 4h0m1-4h0m1 1h0m0 1h0m3 2h0m6-1h0m2-1h0m1 1h0m1-4h0m1 6h0m1-4h0m2-3h0m1 2h0m9 5h0m-93 1h0m1 2h0m2-2h0m0 7h0m1 0h0m5-4h0m0 2h0m2-1h0m0 3h0m1-3h0m3-2h0m3 4h0m4-5h0m2 0h0m0 6h0m3-2h0m2-1h0m1 2h0m0-4h0m3 5h0m0-1h0m1-2h0m3 2h0m1-5h0m0 6h0m2-7h0m3 2h0m0-1h0m4 3h0m1-2h0m1-1h0m1 3h0m3 2h0m2-1h0m8-1h0m1 2h0m2-1h0m3 2h0m3-3h0m9 1h0m16-5h0m-97 8h0m1 3h0m0 4h0m2 0h0m4-2h0m6 2h0m1-4h0m0 0h0m3 3h0m6-2h0m2 2h0m0 1h0m0-6h0m1 3h0m1 2h0m2-4h0m0 2h0m2 0h0m2-4h0m2 7h0m0-5h0m1 0h0m1 2h0m0-2h0m3 1h0m1-1h0m0 1h0m2-1h0m0 2h0m1 1h0m2-4h0m0 3h0m0 2h0m0-4h0m2 1h0m1 1h0m3-2h0m0 5h0m3-6h0m7 4h0m2 2h0m1-1h0m6-5h0m2 6h0m-72 6h0m0-4h0m0 1h0m4 0h0m1 1h0m0 4h0m2-6h0m3 5h0m0 1h0m2-2h0m1-5h0m1 4h0m2-1h0m0 4h0m2-7h0m0 2h0m1 2h0m3 3h0m2-5h0m1 5h0m1 0h0m0-2h0m1-4h0m3-1h0m1 3h0m3 0h0m0-2h0m1 2h0m2-2h0m1 2h0m1-3h0m3 1h0m1 6h0m1 0h0m1-3h0m0-3h0m0 1h0m5-2h0m0 0h0m1 2h0m1 5h0m0-1h0m2-6h0m8 4h0m1 2h0m3-5h0m3 5h0m5 1h0m12-3h0m1-1h0m-87 11h0m2 1h0m1-4h0m0-3h0m0 4h0m1-4h0m0 7h0m1-1h0m4 0h0m0-1h0m2 0h0m1-1h0m1-1h0m1 2h0m2 0h0m2 0h0m3-4h0m0 0h0m2 5h0m0-5h0m2 3h0m1-2h0m0 4h0m1-5h0m1 1h0m1-2h0m2 5h0m0-1h0m3 1h0m1-5h0m1 1h0m0 4h0m1-3h0m0-1h0m1-1h0m1 1h0m0 5h0m1-3h0m4 2h0m1-3h0m0 3h0m0-3h0m2 4h0m1-3h0m2-3h0m1 2h0m0-2h0m2 7h0m2-2h0m3-3h0m13 0h0m6 0h0m-78 11h0m0-5h0m0 6h0m1-3h0m1 0h0m0 4h0m1-6h0m1-1h0m0 4h0m1 1h0m2-4h0m1 0h0m1 3h0m1-2h0m0 5h0m0-4h0m5-2h0m0 0h0m0 6h0m1-2h0m0-5h0m3 0h0m1 0h0m1 2h0m1 0h0m1-1h0m0 5h0m0 0h0m1-6h0m0 4h0m3-1h0m0 1h0m1 3h0m1-3h0m0 1h0m4-5h0m0 5h0m1-5h0m0 3h0m4 1h0m11-3h0m6 6h0m4-7h0m2 1h0m1 0h0m3-1h0m13 3h0m-75 5h0m1 1h0m2-1h0m2 2h0m2-1h0m0 2h0m0 1h0m1 1h0m4 0h0m2 2h0m0-5h0m1 4h0m1-6h0m1 3h0m4-2h0m3 5h0m1-1h0m0 2h0m1-1h0m1-5h0m4 4h0m0-2h0m1 2h0m1-2h0m1 0h0m0 2h0m1-1h0m1-2h0m7 2h0m2-1h0m1 0h0m6-2h0m0 0h0m5 3h0m1-2h0m-59 11h0m0 2h0m1 0h0m1-6h0m2 6h0m4-7h0m0 2h0m0 1h0m2 0h0m0 3h0m4-3h0m0 4h0m0 0h0m1-3h0m4-2h0m0 2h0m1-2h0m2 4h0m1-5h0m1 5h0m1-5h0m1 0h0m1 5h0m0-1h0m1 1h0m3-5h0m3 1h0m11 0h0m2-2h0m6 3h0m9 3h0m-63 2h0m3 0h0m2 4h0m1 0h0m1-4h0m0 0h0m0 3h0m0-1h0m2-2h0m3 1h0m2 0h0m3 3h0m0-2h0m4 1h0m1 1h0m0-1h0m7 1h0m6-1h0" stroke="#57799a" stroke-opacity="0.33" stroke-width="5.2" stroke-linecap="round" fill="none" transform="scale(.5)"/>
<path d="M143 212h0m1-1h0m4 3h0m25-1h0m36 2h0m-100 3h0m17-1h0m33 2h0m10 0h0m-63 10h0m19 2h0m14-7h0m5 7h0m-34 3h0m6 4h0m25-1h0m-68 9h0m5-4h0m8 4h0m18-2h0m23 1h0m5 0h0m3-3h0m0-1h0m0 2h0m1 0h0m4-1h0m4 3h0m33-3h0m-82 9h0m8 4h0m0-4h0m2 1h0m1 3h0m9-4h0m3 2h0m1 1h0m12-2h0m21-4h0m15 4h0m-90 10h0m13-3h0m6 1h0m4 3h0m9-7h0m0 2h0m0 4h0m3-4h0m0 2h0m11-4h0m1 4h0m2-2h0m13 1h0m10-3h0m-97 13h0m9-1h0m9 1h0m3-3h0m6 2h0m4-3h0m4 6h0m0-6h0m5-1h0m1 3h0m1 4h0m2-3h0m5 3h0m1-4h0m1-2h0m3 4h0m1 2h0m6-5h0m1 2h0m0-2h0m1 0h0m5 0h0m9 0h0m10 1h0m4 0h0m5-1h0m16-2h0m-113 14h0m4 1h0m18 0h0m5 0h0m3-4h0m11-1h0m4 3h0m1 0h0m0-3h0m0 0h0m4 2h0m2 2h0m0 1h0m0-5h0m1 3h0m1-2h0m0 3h0m1-1h0m3-2h0m3 4h0m3-3h0m1-4h0m1 3h0m0 4h0m2 0h0m4-1h0m12-3h0m9 1h0m12-1h0m30 2h0m-135 6h0m2 4h0m1 0h0m1-4h0m3 0h0m3 2h0m1 0h0m4-4h0m2 3h0m0-2h0m0 3h0m6-1h0m0-2h0m4 5h0m2 0h0m1 0h0m1-3h0m1-4h0m0 3h0m0-2h0m1 6h0m1-5h0m2 2h0m2-4h0m0 6h0m1-6h0m0 6h0m2-2h0m0-3h0m1 4h0m0 0h0m1-2h0m2 3h0m1 0h0m0-6h0m1 6h0m0 0h0m0-2h0m2 0h0m0-2h0m1 0h0m1 5h0m3-7h0m0 7h0m1-3h0m0 1h0m3-4h0m9 3h0m0-4h0m4 5h0m3-1h0m1-1h0m0 1h0m1-4h0m2 7h0m9-2h0m1-3h0m20 3h0m-108 4h0m1-1h0m2 5h0m3-1h0m0 2h0m1-4h0m0 1h0m4 2h0m0-5h0m1 6h0m0-1h0m3 1h0m1 0h0m0-6h0m0 3h0m1 0h0m1 4h0m1-7h0m1 1h0m0 3h0m3 0h0m0 2h0m0-3h0m0 1h0m1 2h0m0-1h0m0-4h0m4 6h0m0-6h0m5 6h0m2 0h0m2 0h0m2-3h0m0 2h0m1-5h0m3 0h0m1 2h0m0-2h0m2 1h0m5 3h0m1 2h0m0-3h0m0-1h0m1 3h0m4 0h0m0-1h0m3 2h0m3-7h0m0 4h0m0 0h0m1-4h0m2 3h0m9 2h0m1 1h0m3-5h0m1 6h0m7-6h0m1 2h0m-86 12h0m3-5h0m1 3h0m0-4h0m0 4h0m2 2h0m1-1h0m3-4h0m0 2h0m1-1h0m2 0h0m2-2h0m2 5h0m1-6h0m0 7h0m1 0h0m6-3h0m1-1h0m1 4h0m1-2h0m1-2h0m2-1h0m0 3h0m0-2h0m2 1h0m1 1h0m0-1h0m2 2h0m2-3h0m1-3h0m1 7h0m4-2h0m1-1h0m2-1h0m2-2h0m0 6h0m1-1h0m0-6h0m1 6h0m1 1h0m1-3h0m2 3h0m0-4h0m1-2h0m3-1h0m1 0h0m2 4h0m3-1h0m10 4h0m6-3h0m-84 9h0m0-5h0m3 5h0m0-3h0m1 3h0m0 1h0m1-6h0m1 2h0m1-2h0m1 7h0m0-7h0m0 3h0m4 2h0m2-5h0m0 3h0m1-2h0m1 0h0m1 2h0m1-3h0m2 0h0m0 4h0m1-4h0m2 6h0m3 0h0m0-6h0m1 2h0m0-1h0m1 3h0m1 2h0m1-5h0m1 3h0m1-3h0m0 4h0m1-3h0m1-2h0m1 0h0m1 5h0m0-4h0m1 0h0m2 6h0m5-5h0m2-1h0m1 6h0m2-7h0m0 2h0m8 3h0m4-3h0m6 4h0m0-3h0m7 3h0m1-5h0m2-1h0m-77 11h0m2 3h0m2-5h0m2 4h0m1-4h0m0 2h0m1-3h0m1 3h0m1 4h0m0-2h0m1-3h0m5 4h0m1 1h0m1 0h0m0-4h0m1-1h0m1 3h0m2 0h0m1 1h0m1-2h0m1-4h0m1 3h0m0 1h0m1-3h0m1 0h0m1 5h0m2-6h0m0 7h0m3-3h0m0-3h0m1 1h0m8 5h0m0-4h0m1 3h0m1-2h0m1 2h0m1-6h0m1 3h0m3 4h0m1-2h0m9-2h0m2 1h0m10-3h0m-73 12h0m1-2h0m0 3h0m1-3h0m2 3h0m2-4h0m0 2h0m0 2h0m2-5h0m4 3h0m1 2h0m0-3h0m0-2h0m1 3h0m0-3h0m2 3h0m1 0h0m1-4h0m3 7h0m0-5h0m0 4h0m1-4h0m1 4h0m1-6h0m0 1h0m0 6h0m1-2h0m1-2h0m2 0h0m0 1h0m2-2h0m2-2h0m2 4h0m1 1h0m0-2h0m2 1h0m0 0h0m1 3h0m1-7h0m1 0h0m0 3h0m1-1h0m1 3h0m8 1h0m6-6h0m14 1h0m54-1h0m-124 12h0m0 3h0m3-1h0m0-6h0m1 3h0m0 4h0m1-2h0m0 0h0m1 0h0m0-1h0m1-3h0m1 0h0m1 4h0m1-2h0m0-1h0m2 1h0m1-2h0m4 5h0m0-3h0m2 2h0m0-3h0m0 2h0m2-2h0m2-2h0m0 5h0m0-3h0m1 5h0m0-6h0m0 4h0m1-3h0m5 0h0m5-1h0m5 4h0m0-1h0m31-1h0m-71 8h0m0-3h0m3 2h0m6-1h0m10-1h0m1 0h0m4 0h0m1 0h0" stroke="#57799a" stroke-opacity="0.33" stroke-width="5.2" stroke-linecap="round" fill="none" transform="scale(.5)"/>
<path d="M155 196h0m-39 8h0m23 5h0m5 6h0m-23 3h0m16-1h0m-22 13h0m10 1h0m56-1h0m5 1h0m8-2h0m-103 7h0m3-4h0m10 3h0m8 4h0m17-4h0m1-1h0m14 4h0m1-2h0m2 2h0m10-3h0m15-1h0m-67 9h0m3 2h0m1-1h0m16 0h0m21 2h0m6-4h0m2-2h0m6 3h0m-80 12h0m3-6h0m1 6h0m4-7h0m5 5h0m4 0h0m0 2h0m2-7h0m1 5h0m6 2h0m3-3h0m1 0h0m5 1h0m9-5h0m1 3h0m3-3h0m2 3h0m5 1h0m3 1h0m19-4h0m3 1h0m2 3h0m-105 8h0m5 2h0m3-1h0m11 0h0m7-5h0m9 0h0m8 6h0m2-5h0m1 2h0m4-4h0m2 2h0m6 4h0m5-5h0m1 6h0m3-6h0m0 0h0m7 2h0m2 1h0m5 0h0m7-3h0m9 6h0m-87 7h0m9-6h0m5 6h0m1-1h0m1-3h0m8-2h0m1 2h0m6 4h0m1 0h0m0-6h0m1 7h0m3-7h0m2 5h0m6 2h0m2-6h0m1 1h0m1-1h0m4 0h0m3 1h0m4 2h0m10 1h0m28-1h0m3-4h0m-106 15h0m1 0h0m2-5h0m2 1h0m0 1h0m15 3h0m1 0h0m13-6h0m1 5h0m1 0h0m7-3h0m0-3h0m5 6h0m1 1h0m0-3h0m2-1h0m1 4h0m4 0h0m1-1h0m4-3h0m4 2h0m4 2h0m2-5h0m5 3h0m11-3h0m1-1h0m-97 14h0m6 0h0m1-2h0m2-4h0m1 2h0m1 4h0m1-2h0m2-3h0m3-1h0m3 6h0m1-2h0m1-5h0m4 3h0m1 4h0m2-1h0m0 0h0m6-1h0m6 0h0m1-4h0m5 1h0m0 2h0m0 1h0m8 0h0m3 0h0m1-5h0m5 3h0m3 3h0m14-4h0m10 5h0m5-6h0m-97 12h0m4-2h0m0-2h0m1 6h0m1-6h0m2 1h0m2 0h0m0-1h0m2 3h0m1 3h0m1-3h0m3-1h0m0-1h0m3-1h0m0 1h0m0 3h0m1 0h0m1 1h0m0-6h0m3 7h0m0-1h0m1-5h0m4 4h0m2 1h0m1-5h0m2-1h0m3 7h0m4 0h0m4-4h0m1 1h0m1 3h0m1-6h0m1 5h0m0-3h0m2-1h0m4-1h0m0 4h0m2 2h0m0-7h0m1 3h0m2-2h0m0 2h0m5 0h0m0 4h0m8 0h0m2-3h0m5-2h0m3 3h0m12 2h0m-95 4h0m4 4h0m0 0h0m0-5h0m2 4h0m0-1h0m3-4h0m0 5h0m2-3h0m1 2h0m0-1h0m0-2h0m1-2h0m1 4h0m2-1h0m0 1h0m4 0h0m0-2h0m1 4h0m0 1h0m1-7h0m4 6h0m1 1h0m0 0h0m3-7h0m1 4h0m0-2h0m2 3h0m0-5h0m1 5h0m1-4h0m2 3h0m2-1h0m0-2h0m1 0h0m0 2h0m2-3h0m2 3h0m2-2h0m1-1h0m3 6h0m0-4h0m1 5h0m0-6h0m5 3h0m0-4h0m1 0h0m0 2h0m1 5h0m4-6h0m3 0h0m1 2h0m0 3h0m23 1h0m2-7h0m-89 15h0m1-1h0m3-6h0m0 7h0m0-4h0m3 4h0m0-6h0m0 3h0m1-1h0m4-1h0m2-2h0m1 7h0m0-3h0m2 0h0m2 3h0m0-2h0m1 1h0m4-6h0m0 1h0m0 4h0m2-3h0m1 2h0m0-4h0m4 0h0m2 3h0m1 4h0m0-7h0m1 3h0m0 3h0m6 1h0m0-7h0m0 2h0m1 2h0m0-1h0m1-1h0m4-1h0m5 4h0m0-2h0m0 4h0m2-7h0m2 1h0m0 2h0m8 2h0m3-1h0m2-4h0m26 2h0m-99 6h0m3 3h0m2 1h0m1 1h0m0 1h0m1-1h0m4 2h0m1-6h0m0 5h0m0-1h0m1 1h0m0-2h0m0 3h0m1 0h0m0-5h0m0 4h0m1-6h0m1 6h0m0-4h0m0 1h0m1-1h0m0 3h0m1 1h0m1-3h0m3 1h0m0-1h0m3 1h0m1-1h0m0-1h0m2 1h0m1-2h0m1 4h0m5-1h0m0 0h0m0-4h0m1 6h0m1 0h0m0-3h0m3-1h0m0 4h0m1-2h0m4 0h0m1 0h0m3-1h0m1-2h0m2 4h0m3 2h0m0 0h0m1-2h0m4-2h0m9 1h0m7-3h0m-75 9h0m1 3h0m2-3h0m1 1h0m0 3h0m0 0h0m1 1h0m4-5h0m1 3h0m0 2h0m0-6h0m0 1h0m2 1h0m0-2h0m0 2h0m2 4h0m1-4h0m1 2h0m2-5h0m1 0h0m0 7h0m0-6h0m1 2h0m1 1h0m2-1h0m2-2h0m1 2h0m0-3h0m1 2h0m0-1h0m1 3h0m1 3h0m1-4h0m3 2h0m7 0h0m1-5h0m0 5h0m1-1h0m1-2h0m3 2h0m8 3h0m3-2h0m2-2h0m-60 7h0m2-2h0m1 5h0m2 2h0m1-1h0m0-4h0m2 2h0m0 0h0m2 1h0m1 2h0m1-7h0m2 6h0m1-6h0m2 0h0m1 4h0m1 2h0m1-6h0m0 5h0m2-3h0m0-2h0m0 6h0m1-3h0m5-1h0m1 4h0m2-1h0m3 2h0m2-6h0m1-1h0m1 0h0m1 7h0m0-2h0m1-4h0m22 2h0m5-1h0m-66 7h0m0 2h0m2-1h0m3 2h0m5 0h0m0-3h0m2 2h0m5-3h0m7 2h0m4 0h0m21-2h0" stroke="#57799a" stroke-opacity="0.33" stroke-width="5.2" stroke-linecap="round" fill="none" transform="scale(.5)"/>
<path d="M189 183h0m-31 29h0m-85 18h0m57-4h0m17-2h0m-68 14h0m22-1h0m20-4h0m47 3h0m-89 11h0m17-1h0m7 1h0m4-3h0m18-3h0m2 1h0m25 4h0m39 1h0m-127 8h0m17 0h0m7 0h0m11-7h0m2 6h0m7-4h0m3 4h0m18 0h0m1 1h0m3-1h0m1-4h0m0 3h0m29 2h0m31-5h0m-132 6h0m11 7h0m2-5h0m13 0h0m1 5h0m2 0h0m0-3h0m1-1h0m3 0h0m0 4h0m4-6h0m6 3h0m1-3h0m3 0h0m8 1h0m1 3h0m2-2h0m7 0h0m2 4h0m1-7h0m15 4h0m0-1h0m-84 11h0m6-1h0m1 2h0m11-4h0m1-2h0m1 5h0m3 0h0m0-1h0m0 0h0m6-5h0m2 6h0m3-1h0m7-2h0m1-3h0m1 3h0m0 4h0m1 0h0m5-2h0m3 1h0m0-1h0m6-4h0m0 3h0m4 3h0m13-6h0m3 3h0m0 1h0m-86 7h0m6 0h0m1 3h0m0-5h0m3 4h0m4-1h0m3-5h0m2 3h0m3 2h0m2 1h0m1 1h0m3 0h0m3-1h0m2-4h0m1 1h0m1 0h0m2 3h0m0-2h0m0 0h0m3-4h0m0 2h0m0 1h0m1 4h0m1-4h0m1 2h0m0 0h0m3-5h0m1 4h0m2-1h0m1 0h0m2 2h0m0-2h0m2-1h0m1 3h0m1-3h0m2 3h0m0-1h0m6-3h0m1 4h0m7-4h0m1 4h0m2 2h0m1-1h0m8-2h0m3 1h0m21-1h0m-108 4h0m1 3h0m3 2h0m3-2h0m3 2h0m1 2h0m1-3h0m0 2h0m0 1h0m5-5h0m0 2h0m2 0h0m2 3h0m4-5h0m2 1h0m2-1h0m0 3h0m0 0h0m1 0h0m0 2h0m1 0h0m0-2h0m0-1h0m3 3h0m2-5h0m3-1h0m1-1h0m1 7h0m3-3h0m1 1h0m0 1h0m1 1h0m1-4h0m3 0h0m7-1h0m2 3h0m1-2h0m2 2h0m1-4h0m2 4h0m1 0h0m1 2h0m0-7h0m2 1h0m0 5h0m2 0h0m1-5h0m5 4h0m2-1h0m8-2h0m1 5h0m3-5h0m-94 11h0m7-1h0m1 1h0m4-3h0m1 4h0m0 0h0m2-4h0m1-1h0m1 4h0m5-3h0m3 1h0m4-1h0m1 4h0m1-5h0m1-1h0m0 4h0m3 2h0m3-3h0m0-1h0m1-2h0m1 5h0m2-1h0m3-2h0m1-1h0m3 6h0m1-2h0m3-5h0m1 3h0m1 3h0m1-3h0m1 1h0m3-2h0m7 4h0m3-3h0m2 0h0m10 3h0m-82 8h0m1-1h0m0 0h0m1-2h0m1 4h0m1-1h0m0-6h0m1 7h0m0-3h0m0-3h0m4-1h0m2 7h0m0-4h0m0 4h0m2-4h0m0-2h0m0 4h0m1-5h0m1 3h0m0-1h0m3-2h0m3 3h0m1 2h0m0-1h0m0-4h0m1 4h0m1 3h0m4 0h0m1-6h0m2 1h0m1 5h0m1 0h0m0-6h0m1 3h0m0 0h0m1-3h0m1-1h0m2 7h0m1-4h0m0 3h0m2-6h0m5 4h0m0 0h0m1-2h0m6 2h0m1 3h0m5-6h0m2 3h0m2-4h0m4 3h0m4-1h0m1-1h0m6 0h0m4 3h0m-82 11h0m0-6h0m0 4h0m1 1h0m2-6h0m1 4h0m0-2h0m1 5h0m0 0h0m1-4h0m1-1h0m0 4h0m1-1h0m1-4h0m1-1h0m1 3h0m0 3h0m0-5h0m0 3h0m1 3h0m1-5h0m3 3h0m0 2h0m1-1h0m0-5h0m1-1h0m2 6h0m0-2h0m1 1h0m3-1h0m0 3h0m3-1h0m1-4h0m2 4h0m3-6h0m1 0h0m2 3h0m1-3h0m0 4h0m1 0h0m2-3h0m1-1h0m1 3h0m1-2h0m2 2h0m1-3h0m3 5h0m6-4h0m3 1h0m0 1h0m7-1h0m5 1h0m3-2h0m8 5h0m6-6h0m14 4h0m-98 11h0m1-2h0m3-2h0m1-3h0m1 2h0m1 4h0m2-3h0m1 1h0m1 0h0m1-1h0m1 0h0m1-3h0m1 4h0m2 1h0m0 1h0m2 0h0m1-5h0m1 1h0m0-1h0m1 2h0m0-3h0m1 7h0m3 0h0m0-1h0m0-2h0m2 3h0m3-5h0m0-1h0m0 2h0m2-2h0m0 4h0m1-4h0m2 1h0m0 4h0m3-2h0m0 2h0m1-6h0m2 4h0m2 2h0m1-6h0m0 2h0m1 0h0m15 5h0m0-1h0m0 0h0m3-5h0m1 4h0m5-5h0m5 0h0m4 3h0m-77 12h0m1-3h0m0 3h0m1-6h0m0 4h0m4-5h0m0 4h0m2 0h0m3-3h0m1 3h0m0-2h0m1-2h0m1 5h0m3-3h0m0 1h0m0-2h0m1 1h0m3 0h0m1 4h0m1 0h0m5-4h0m0 1h0m1 3h0m0-4h0m2 5h0m1-4h0m4-1h0m2-2h0m0 5h0m1-1h0m1-4h0m2 6h0m12-3h0m-58 12h0m0-5h0m2-2h0m3 0h0m1 5h0m2 0h0m0-3h0m3-1h0m0 0h0m0 1h0m1 1h0m0-2h0m3 1h0m0-1h0m1 3h0m0-3h0m0 6h0m2-3h0m0 0h0m0 0h0m5-4h0m2 6h0m3-5h0m1-1h0m1 4h0m2-2h0m3-2h0m2 3h0m3 1h0m1-2h0m3 0h0m11 1h0m3 4h0m-57 1h0m3 0h0m1 2h0m0 0h0m9-2h0m1 1h0m5 0h0m0-1h0m3 3h0" stroke="#57799a" stroke-opacity="0.33" stroke-width="5.2" stroke-linecap="round" fill="none" transform="scale(.5)"/>
<path d="M218 143h0m30-2h0m-21 19h0m18 3h0m34 4h0m-68 2h0m26 2h0m8 4h0m-50 6h0m45 5h0m1 3h0m-77 17h0m49-5h0m45-1h0m-83 13h0m8-1h0m25-2h0m4 1h0m16 4h0m-59 7h0m5-2h0m5-2h0m5 2h0m13-2h0m-30 13h0m31-3h0m1-3h0m-108 14h0m39-5h0m20-2h0m16 7h0m0-4h0m12 2h0m4 1h0m-72 6h0m34 2h0m10-6h0m2 6h0m5-1h0m-53 5h0m22 5h0m3-1h0m14-2h0m-45 6h0m6 3h0m4 0h0m3 1h0m20-5h0m16 1h0m50 4h0m-102 3h0m19 4h0m5-5h0m3 4h0m3 0h0m6 1h0m25-3h0m9 0h0m-64 11h0m4-2h0m9 2h0m22-5h0m2 2h0m15-1h0m-36 13h0m5-6h0m18 0h0m4 2h0m-29 9h0m13-1h0m-12 8h0m1 4h0m2-2h0m6-3h0m-16 12h0m10 1h0m-16 6h0m11 4h0" stroke="#57799a" stroke-opacity="0.30" stroke-width="5.2" stroke-linecap="round" fill="none" transform="scale(.5)"/>
<path d="M373 67h0m-54 30h0m-39 25h0m6 11h0m33 2h0m-58 16h0m17-2h0m-41 18h0m11 6h0m-31 4h0m-63 10h0m36 1h0m0 7h0m22-1h0m9-2h0m2 6h0m-53 9h0m11-4h0m5 1h0m8 7h0m15-2h0m15 4h0m-33 4h0m17-1h0m9 6h0m-56 4h0m15 3h0m46-4h0m-86 8h0m22 0h0m14 3h0m-26 9h0m17-2h0m3-1h0m16 5h0m3-2h0m3-3h0m6-2h0m-71 12h0m26 3h0m2-7h0m29 1h0m-62 13h0m4-3h0m16-3h0m35 2h0m-74 10h0m13-1h0m4 4h0m17-1h0m7-1h0m5 0h0m3-3h0m-36 13h0m7-5h0m12 1h0m2-3h0m0 5h0m1 1h0m21 1h0m-44 5h0m5 3h0m4-7h0m2 4h0m12 3h0m4-2h0m15 2h0m-18 8h0m31-2h0m-52 9h0m-24 2h0m11 1h0m22 2h0m-29 12h0m34 0h0" stroke="#57799a" stroke-opacity="0.30" stroke-width="5.2" stroke-linecap="round" fill="none" transform="scale(.5)"/>
<path d="M369 53h0m-97 46h0m70-2h0m-11 22h0m-49 14h0m-23 11h0m11 2h0m-29 9h0m45 4h0m-14 7h0m-16 6h0m-94 4h0m19 15h0m46 7h0m1-6h0m-67 22h0m7-5h0m10 6h0m24-7h0m-70 9h0m11 3h0m17-3h0m8 5h0m20-3h0m4-1h0m9 0h0m-48 12h0m28 5h0m5-1h0m25 1h0m-98 6h0m16 4h0m5-1h0m7-4h0m9 3h0m5 0h0m6-1h0m21 3h0m0 0h0m-64 4h0m22 3h0m4 1h0m11-1h0m5-4h0m3 4h0m15-2h0m-85 12h0m25-1h0m7-3h0m9 0h0m34-1h0m11 3h0m-73 8h0m1 1h0m37-4h0m13 5h0m-48 14h0m9 3h0m3-6h0m14 5h0m5-6h0m4 2h0m-32 7h0m9 1h0m15 4h0m5-1h0m5 0h0m18-4h0m-46 12h0m9-1h0m0-1h0m-32 11h0m23-5h0m17 4h0m-45 12h0m24 0h0" stroke="#57799a" stroke-opacity="0.30" stroke-width="5.2" stroke-linecap="round" fill="none" transform="scale(.5)"/>
<path d="M399 50h0m-103 94h0m-59 12h0m56-4h0m14 2h0m-77 15h0m36 2h0m-47 9h0m24 0h0m-57 6h0m19 1h0m21 3h0m4 1h0m18-6h0m-69 19h0m6-1h0m-22 5h0m25 6h0m14-5h0m5 0h0m-29 14h0m16-2h0m12-5h0m10 3h0m-74 12h0m4-3h0m23-1h0m11-3h0m3 2h0m0 1h0m14 1h0m18-1h0m-91 5h0m14 6h0m11-3h0m8-2h0m43 2h0m-62 9h0m15-1h0m6 0h0m65 0h0m-102 9h0m29-3h0m18 2h0m4 4h0m5-7h0m5 0h0m7 5h0m-69 4h0m6 3h0m11-3h0m7 4h0m11-1h0m1-4h0m-56 10h0m5-2h0m21 2h0m5 4h0m22-2h0m40-4h0m-88 9h0m6 5h0m2-4h0m27 1h0m7 0h0m4 3h0m-61 5h0m97-1h0m-52 6h0m-38 9h0m29 5h0m6-4h0m-38 13h0m24-4h0m8 0h0m-27 10h0m6-3h0m18-1h0m-37 11h0m2-1h0m15 15h0" stroke="#57799a" stroke-opacity="0.30" stroke-width="5.2" stroke-linecap="round" fill="none" transform="scale(.5)"/>
<path d="M330 114h0m6 18h0m-30 8h0m-44 5h0m-37 20h0m17 3h0m11 2h0m14 7h0m-70 9h0m24-1h0m18 5h0m4-6h0m-8 8h0m-70 18h0m38-1h0m33 2h0m-100 12h0m10-7h0m58 6h0m-63 2h0m25 2h0m30 2h0m-55 10h0m28-5h0m51 6h0m-109 5h0m22 1h0m28 1h0m13-4h0m17 0h0m-66 7h0m23 3h0m4-1h0m2 0h0m1 2h0m1-3h0m1-2h0m6 3h0m-56 6h0m3 4h0m23 1h0m1-4h0m7 4h0m4-6h0m6 5h0m-62 10h0m2-4h0m11 0h0m7 3h0m3 0h0m6 0h0m5-4h0m9 3h0m28-2h0m-76 6h0m3 2h0m10 0h0m25 1h0m1-3h0m11 2h0m17-1h0m5 5h0m5-7h0m-65 14h0m10 1h0m15-4h0m10-3h0m21 5h0m45-5h0m-104 14h0m9-6h0m23 0h0m5 1h0m6 5h0m-38 3h0m40 4h0m-48 8h0m17 1h0m8-2h0m-3 7h0m-12 5h0m7 5h0" stroke="#57799a" stroke-opacity="0.30" stroke-width="5.2" stroke-linecap="round" fill="none" transform="scale(.5)"/>
<path d="M279 89h0m47-1h0m22 28h0m-52 11h0m20-6h0m-43 21h0m-32 4h0m26 6h0m1 4h0m-80 10h0m11 9h0m11 8h0m25-1h0m44-3h0m-100 12h0m23-2h0m24 2h0m1-3h0m-15 4h0m17 1h0m-29 13h0m28 1h0m-107 15h0m8-5h0m24 2h0m3-1h0m9-1h0m7 6h0m14-2h0m10-3h0m-41 13h0m11-4h0m12-1h0m9 5h0m-49 7h0m22 0h0m37-5h0m-85 10h0m10 0h0m59 2h0m-76 8h0m25-1h0m8-1h0m5 4h0m0-1h0m6-5h0m2-1h0m20 1h0m36 1h0m-99 13h0m9-1h0m9 1h0m2 0h0m5 0h0m9-4h0m28-1h0m-25 8h0m2 0h0m10-2h0m-53 12h0m38 2h0m10 0h0m-29 3h0m2 2h0m8 3h0m10-4h0m26-2h0m-75 12h0m24 9h0m19 0h0m-33 6h0m11 2h0m2-2h0m19-2h0m-37 11h0m4-4h0m2 0h0m-4 10h0m10-2h0m-19 19h0" stroke="#57799a" stroke-opacity="0.30" stroke-width="5.2" stroke-linecap="round" fill="none" transform="scale(.5)"/>
<path d="M368 75h0m-109 48h0m93 10h0m-25 5h0m-120 16h0m-11 11h0m47-4h0m40 3h0m-41 18h0m-33 6h0m-26 8h0m7-4h0m32 3h0m1 0h0m-66 8h0m13-3h0m23 3h0m8 0h0m16 0h0m7-2h0m-41 11h0m19-1h0m-50 7h0m21 4h0m9-3h0m-56 12h0m37-2h0m41-5h0m3 5h0m12 2h0m-102 2h0m39 4h0m12-5h0m11 4h0m-30 4h0m21 0h0m0 5h0m1 0h0m9 0h0m5-1h0m8 2h0m-41 4h0m22 0h0m0 3h0m14 0h0m-95 9h0m41-2h0m13 0h0m2-4h0m31 5h0m10-4h0m-58 7h0m0 0h0m23 3h0m18-3h0m3 2h0m-72 8h0m7 2h0m1 3h0m12-3h0m12 2h0m2-1h0m14-4h0m14-1h0m-43 13h0m8 1h0m14-5h0m-40 21h0m12-3h0m6 2h0m3-3h0m10-2h0m25 1h0m-62 9h0m13-1h0m-11 11h0m28-3h0m-30 14h0m13-3h0m18-1h0" stroke="#57799a" stroke-opacity="0.30" stroke-width="5.2" stroke-linecap="round" fill="none" transform="scale(.5)"/>
<path d="M325 98h0m-26 28h0m-30 11h0m16 14h0m-36 16h0m-36 1h0m43 1h0m-49 22h0m8-1h0m8 11h0m6 4h0m-66 7h0m2-4h0m39 7h0m3-7h0m14 7h0m-84 4h0m54-2h0m13 0h0m-86 11h0m4 0h0m51-1h0m5-1h0m4 5h0m8-2h0m30-5h0m1 3h0m-105 9h0m28 1h0m7-2h0m11 2h0m6-4h0m5-1h0m7 3h0m35 0h0m-102 10h0m14-5h0m23 7h0m21-2h0m-79 10h0m11-6h0m22 2h0m24 1h0m28-3h0m-38 7h0m1 6h0m6 1h0m-55 8h0m4-4h0m4 1h0m37 2h0m0-6h0m4 6h0m9 1h0m4-2h0m7-2h0m13-2h0m19 5h0m-58 8h0m5 1h0m3-5h0m1 4h0m28-6h0m-66 11h0m16-2h0m4-1h0m30 5h0m-55 4h0m23 0h0m5-1h0m12 0h0m-35 13h0m-10 4h0m9 4h0m13 3h0m9 2h0m-42 10h0m11 5h0" stroke="#57799a" stroke-opacity="0.30" stroke-width="5.2" stroke-linecap="round" fill="none" transform="scale(.5)"/>
<path d="M266 150h0m-56 26h0m50 6h0m-58 3h0m72 2h0m-161 8h0m114 4h0m-58 8h0m20-1h0m8 1h0m2-4h0m0-3h0m26 1h0m-79 10h0m7 4h0m32-6h0m7 6h0m-73 7h0m57-1h0m31 2h0m6 0h0m-123 7h0m69-5h0m6 6h0m3-7h0m-80 10h0m51 5h0m7-3h0m25-1h0m2 0h0m39 3h0m-96 8h0m53 0h0m3-3h0m1-2h0m3 0h0m3 4h0m-77 6h0m36-1h0m16 2h0m7 3h0m8-1h0m-72 4h0m4 3h0m16-4h0m5 4h0m19-2h0m16-3h0m13 6h0m4-4h0m-52 6h0m2 5h0m54-3h0m-65 8h0m2 5h0m19 0h0m4-3h0m14 0h0m2-3h0m5-1h0m-71 9h0m17 0h0m6 1h0m14 2h0m10-4h0m-35 12h0m1-2h0m6 1h0m6-2h0m13 0h0m33 6h0m-68 6h0m28-4h0m4 6h0m29-1h0m-51 5h0m11 1h0m-18 9h0m3-2h0m18 3h0m9-2h0m54 1h0m-76 8h0m-7 10h0m14 1h0" stroke="#57799a" stroke-opacity="0.30" stroke-width="5.2" stroke-linecap="round" fill="none" transform="scale(.5)"/>
<path d="M366 91h0m-80 19h0m8 12h0m-30 13h0m61 1h0m-77 38h0m42-6h0m-32 8h0m-58 14h0m43 0h0m-44 9h0m6-6h0m19 4h0m11 2h0m-105 7h0m24-1h0m22 2h0m17-1h0m0-1h0m11 0h0m9-2h0m16 4h0m-77 8h0m40-3h0m7-3h0m-25 10h0m8 2h0m12 1h0m85-6h0m-131 15h0m16-2h0m30-2h0m7 4h0m5-3h0m-80 9h0m11-2h0m10-1h0m1 5h0m20-7h0m1 5h0m20-4h0m-75 13h0m9-2h0m5 0h0m28-1h0m1 1h0m0 0h0m8-1h0m2 0h0m54-2h0m-110 13h0m27-5h0m14 5h0m11 1h0m22-7h0m-56 9h0m10 2h0m14-3h0m6 6h0m32-6h0m-86 15h0m5 0h0m25-4h0m19 3h0m6-6h0m8 4h0m-27 4h0m11 7h0m-42 5h0m30 1h0m-15 6h0m-28 12h0m37 0h0m-34 2h0m0 3h0m12-1h0m37 0h0m-65 25h0" stroke="#57799a" stroke-opacity="0.30" stroke-width="5.2" stroke-linecap="round" fill="none" transform="scale(.5)"/>
<path d="M234 124h0m-79 48h0m49 5h0m-69 18h0m50 6h0m-66 9h0m19-1h0m-28 9h0m70 10h0m-50 7h0m12 1h0m-70 11h0m19-3h0m49 8h0m-63 6h0m9 1h0m8 2h0m-38 7h0" stroke="#8c9096" stroke-opacity="0.28" stroke-width="5.2" stroke-linecap="round" fill="none" transform="scale(.5)"/>
<path d="M182 136h0m59 7h0m-29 16h0m29 9h0m-68 25h0m-28 21h0m9-5h0m9 8h0m-59 11h0m28 2h0m-49 4h0m-15 8h0m21 0h0m26-1h0m-51 28h0m27-1h0m-41 44h0m10 23h0" stroke="#8c9096" stroke-opacity="0.28" stroke-width="5.2" stroke-linecap="round" fill="none" transform="scale(.5)"/>
<path d="M257 150h0m-115 16h0m58-1h0m-96 44h0m-6 14h0m2 8h0m44-2h0m-70 15h0m16 2h0m-6 9h0m-5 8h0m18-1h0m20-2h0m-56 10h0m23 1h0m9-6h0m43 12h0m-83 17h0m6 4h0" stroke="#8c9096" stroke-opacity="0.28" stroke-width="5.2" stroke-linecap="round" fill="none" transform="scale(.5)"/>
<path d="M242 80h0m20 4h0m-106 85h0m53 8h0m-45 7h0m-49 30h0m55-5h0m-88 7h0m60 5h0m-38 10h0m41-6h0m-64 20h0m18 1h0m-34 2h0m23 5h0m16 9h0m-35 12h0m11 20h0" stroke="#8c9096" stroke-opacity="0.28" stroke-width="5.2" stroke-linecap="round" fill="none" transform="scale(.5)"/>
<path d="M336 78h0m-20 7h0m-89 10h0m-63 74h0m4 11h0m6 4h0m-26 15h0m-4 5h0m19-3h0m-18 11h0m11 10h0m-51 5h0m35 11h0m-81 6h0m38-3h0m38 16h0m-4 11h0m-68 5h0m89 1h0" stroke="#8c9096" stroke-opacity="0.28" stroke-width="5.2" stroke-linecap="round" fill="none" transform="scale(.5)"/>
<path d="M233 131h0m-80 34h0m-13 49h0m-66 2h0m20 13h0m14 2h0m7 0h0m-29 3h0m35-1h0m7 20h0m39-4h0m-88 9h0m35 0h0m-44 19h0m34-5h0m15 12h0" stroke="#8c9096" stroke-opacity="0.28" stroke-width="5.2" stroke-linecap="round" fill="none" transform="scale(.5)"/>
<path d="M289 79h0m-52 32h0m-94 51h0m24 17h0m-28 9h0m37 21h0m8-1h0m-65 11h0m15 3h0m10-1h0m-17 8h0m-46 8h0m54 2h0m11-5h0m-40 11h0m23 3h0m-38 12h0m16 10h0" stroke="#8c9096" stroke-opacity="0.28" stroke-width="5.2" stroke-linecap="round" fill="none" transform="scale(.5)"/>
<path d="M295 54h0m-62 57h0m-29 15h0m-8 38h0m-95 16h0m38 24h0m-11 10h0m42-6h0m8 0h0m-104 12h0m53-2h0m-10 8h0m-13 17h0m5-3h0m-19 12h0m37 13h0m-65 11h0m15 1h0m-16 7h0m21 12h0" stroke="#8c9096" stroke-opacity="0.28" stroke-width="5.2" stroke-linecap="round" fill="none" transform="scale(.5)"/>
<path d="M348 45h0m-200 111h0m67 4h0m-54 10h0m80 32h0m-105 22h0m19 1h0m-75 14h0m19-7h0m-37 15h0m49-3h0m22 17h0m30 2h0m-96 5h0m26 16h0m-36 8h0" stroke="#8c9096" stroke-opacity="0.28" stroke-width="5.2" stroke-linecap="round" fill="none" transform="scale(.5)"/>
<path d="M349 66h0m-148 106h0m-56 16h0m-31 29h0m30 2h0m57 2h0m-62 7h0m40-4h0m-33 11h0m8 8h0m-58 5h0m-38 14h0m23 1h0m11-4h0m4 4h0m15 12h0" stroke="#8c9096" stroke-opacity="0.28" stroke-width="5.2" stroke-linecap="round" fill="none" transform="scale(.5)"/>
</g>
<line x1="29.60" y1="165.60" x2="195.30" y2="15.10" stroke="#a2a2a2" stroke-width="1.0"/>
<path d="M29.15 15.10H195.30V165.60H29.15" fill="none" stroke="#262626" stroke-width="0.9"/>
<path d="M29.95 14.65V166.05" fill="none" stroke="#2a2a2a" stroke-width="0.95"/>
<path d="M29.60 165.60v3M29.60 165.60h-3M53.27 165.60v3M29.60 144.10h-3M76.94 165.60v3M29.60 122.60h-3M100.61 165.60v3M29.60 101.10h-3M124.29 165.60v3M29.60 79.60h-3M147.96 165.60v3M29.60 58.10h-3M171.63 165.60v3M29.60 36.60h-3M195.30 165.60v3M29.60 15.10h-3" stroke="#262626" stroke-width="0.9" fill="none"/>
<text x="30.20" y="179.00" font-size="10.4" text-anchor="middle" fill="#111">5</text>
<text x="24.70" y="170.00" font-size="10.4" text-anchor="end" fill="#111">5</text>
<text x="53.87" y="179.00" font-size="10.4" text-anchor="middle" fill="#111">6</text>
<text x="24.70" y="148.50" font-size="10.4" text-anchor="end" fill="#111">6</text>
<text x="77.54" y="179.00" font-size="10.4" text-anchor="middle" fill="#111">7</text>
<text x="24.70" y="127.00" font-size="10.4" text-anchor="end" fill="#111">7</text>
<text x="101.21" y="179.00" font-size="10.4" text-anchor="middle" fill="#111">8</text>
<text x="24.70" y="105.50" font-size="10.4" text-anchor="end" fill="#111">8</text>
<text x="124.89" y="179.00" font-size="10.4" text-anchor="middle" fill="#111">9</text>
<text x="24.70" y="84.00" font-size="10.4" text-anchor="end" fill="#111">9</text>
<text x="148.56" y="179.00" font-size="10.4" text-anchor="middle" fill="#111">10</text>
<text x="24.70" y="62.50" font-size="10.4" text-anchor="end" fill="#111">10</text>
<text x="172.23" y="179.00" font-size="10.4" text-anchor="middle" fill="#111">11</text>
<text x="24.70" y="41.00" font-size="10.4" text-anchor="end" fill="#111">11</text>
<text x="195.90" y="179.00" font-size="10.4" text-anchor="middle" fill="#111">12</text>
<text x="24.70" y="19.50" font-size="10.4" text-anchor="end" fill="#111">12</text>
<text x="113.15" y="9.50" font-size="12.5" text-anchor="middle" fill="#111">GD (pop)</text>
<text x="112.45" y="190.70" font-size="12.5" text-anchor="middle" fill="#111">ln(Truth)</text>
<text transform="translate(9.60 90.05) rotate(-90)" font-size="12.5" text-anchor="middle" fill="#111">ln(Predicted)</text>
<text x="38.60" y="31.50" font-size="12.2" font-weight="bold" fill="#111">(a)</text>
<text x="189.10" y="142.60" font-size="12.5" text-anchor="end" fill="#111">R<tspan font-size="8.7" dy="-4.6">2</tspan><tspan dy="4.6">=0.91</tspan></text>
<text x="189.10" y="157.80" font-size="12.5" text-anchor="end" fill="#111">R<tspan font-size="8.7" dy="-4.6">2</tspan><tspan font-size="8.7" font-style="italic" dx="-4.6" dy="7.4">l</tspan><tspan dx="2.7" dy="-2.8">=0.82</tspan></text>
<g fill="#7c94ae" stroke="#4e6379" stroke-width="0.4"><rect x="201.50" y="160.35" width="32.67" height="5.25"/><rect x="201.50" y="155.09" width="32.01" height="5.25"/><rect x="201.50" y="149.84" width="29.04" height="5.25"/><rect x="201.50" y="144.58" width="25.41" height="5.25"/><rect x="201.50" y="139.33" width="21.78" height="5.25"/><rect x="201.50" y="134.07" width="17.49" height="5.25"/><rect x="201.50" y="128.82" width="13.86" height="5.25"/><rect x="201.50" y="123.56" width="11.55" height="5.25"/><rect x="201.50" y="118.31" width="9.57" height="5.25"/><rect x="201.50" y="113.05" width="7.26" height="5.25"/><rect x="201.50" y="107.80" width="5.94" height="5.25"/><rect x="201.50" y="102.54" width="4.62" height="5.25"/><rect x="201.50" y="97.29" width="3.96" height="5.25"/><rect x="201.50" y="92.04" width="2.97" height="5.25"/><rect x="201.50" y="86.78" width="2.64" height="5.25"/><rect x="201.50" y="81.53" width="2.19" height="5.25"/><rect x="201.50" y="76.27" width="1.82" height="5.25"/><rect x="201.50" y="71.02" width="1.51" height="5.25"/><rect x="201.50" y="65.76" width="1.25" height="5.25"/><rect x="201.50" y="60.51" width="1.04" height="5.25"/><rect x="201.50" y="55.25" width="0.86" height="5.25"/><rect x="201.50" y="50.00" width="0.72" height="5.25"/><rect x="201.50" y="44.74" width="0.59" height="5.25"/><rect x="201.50" y="39.49" width="0.49" height="5.25"/><rect x="201.50" y="34.24" width="0.41" height="5.25"/><rect x="201.50" y="28.98" width="0.34" height="5.25"/></g>
<g fill="none" stroke="#2a2a2a" stroke-width="0.42"><rect x="201.50" y="160.35" width="33.00" height="5.25"/><rect x="201.50" y="155.09" width="33.00" height="5.25"/><rect x="201.50" y="149.84" width="30.69" height="5.25"/><rect x="201.50" y="144.58" width="27.06" height="5.25"/><rect x="201.50" y="139.33" width="24.09" height="5.25"/><rect x="201.50" y="134.07" width="20.46" height="5.25"/><rect x="201.50" y="128.82" width="17.49" height="5.25"/><rect x="201.50" y="123.56" width="13.86" height="5.25"/><rect x="201.50" y="118.31" width="12.21" height="5.25"/><rect x="201.50" y="113.05" width="9.90" height="5.25"/><rect x="201.50" y="107.80" width="8.25" height="5.25"/><rect x="201.50" y="102.54" width="6.93" height="5.25"/><rect x="201.50" y="97.29" width="5.94" height="5.25"/><rect x="201.50" y="92.04" width="4.95" height="5.25"/><rect x="201.50" y="86.78" width="4.29" height="5.25"/><rect x="201.50" y="81.53" width="3.63" height="5.25"/><rect x="201.50" y="76.27" width="2.97" height="5.25"/><rect x="201.50" y="71.02" width="2.48" height="5.25"/><rect x="201.50" y="65.76" width="1.98" height="5.25"/><rect x="201.50" y="60.51" width="1.65" height="5.25"/><rect x="201.50" y="55.25" width="1.32" height="5.25"/><rect x="201.50" y="50.00" width="1.09" height="5.25"/><rect x="201.50" y="44.74" width="0.89" height="5.25"/><rect x="201.50" y="39.49" width="0.73" height="5.25"/><rect x="201.50" y="34.24" width="0.59" height="5.25"/><rect x="201.50" y="28.98" width="0.46" height="5.25"/><rect x="201.50" y="23.73" width="0.38" height="5.25"/><rect x="201.50" y="18.47" width="0.32" height="5.25"/></g>
<rect x="201.50" y="15.10" width="33.00" height="150.50" fill="none" stroke="#262626" stroke-width="0.9"/>
<clipPath id="c1"><rect x="254.60" y="15.10" width="165.70" height="150.50"/></clipPath>
<g clip-path="url(#c1)">
<polygon points="230.9,154.3 444.0,-28.4 444.0,45.6 230.9,228.3" fill="#d3efe5"/>
<line x1="230.93" y1="191.27" x2="420.30" y2="28.90" stroke="#3b9a80" stroke-width="1.20" stroke-dasharray="4.2,2.3"/>
<path d="M576 204h0m5 8h0m22-2h0m-46 9h0m5-1h0m31 3h0m10 1h0m12 1h0m-61 8h0m63-4h0m-51 12h0m0-5h0m9-2h0m13 7h0m23 0h0m7-5h0m3 5h0m-61 1h0m11 4h0m24-3h0m1-1h0m3 2h0m7 3h0m8 2h0m-69 2h0m4-1h0m11 4h0m0 3h0m2-5h0m1 3h0m3 0h0m3 0h0m3 2h0m1-5h0m4 4h0m1-5h0m13 6h0m1-7h0m5 3h0m2 2h0m13-5h0m7 3h0m-92 10h0m15 2h0m5 0h0m1-7h0m2 0h0m4 7h0m0-1h0m1-3h0m4 0h0m0 4h0m1 0h0m6-2h0m1 2h0m2-4h0m2 2h0m8-1h0m0-3h0m4 3h0m1-3h0m16 0h0m9 0h0m3 1h0m1 1h0m-95 12h0m19-3h0m7-2h0m6 5h0m4-5h0m0-1h0m0 0h0m5 0h0m2 2h0m1-1h0m5 2h0m1 2h0m1 1h0m1-3h0m1 2h0m2-1h0m3-1h0m1 1h0m0 2h0m0-1h0m1 1h0m6-7h0m2 1h0m4 5h0m0-3h0m-80 9h0m1-1h0m6 1h0m1-4h0m11 4h0m4 3h0m9-7h0m0 2h0m1 4h0m1 0h0m1 0h0m2-1h0m2 1h0m2-2h0m4 3h0m1-7h0m8 6h0m0-3h0m2-3h0m2 3h0m11 3h0m4-3h0m0-3h0m9 3h0m8 2h0m7 2h0m2-5h0m10-1h0m-111 10h0m1 0h0m3 3h0m14-1h0m3-5h0m5 6h0m1-2h0m1-4h0m1 3h0m2 3h0m1-5h0m3-1h0m1 6h0m1 0h0m2-6h0m1 4h0m0-3h0m1 2h0m5 1h0m0-4h0m2 7h0m1-5h0m2-2h0m1 5h0m1-2h0m1-1h0m0 4h0m0 1h0m3-1h0m2-6h0m1 5h0m9-3h0m3 5h0m8-3h0m3-4h0m3 4h0m-80 8h0m5-2h0m3-1h0m2 6h0m1-7h0m3 0h0m1 2h0m1 1h0m1-3h0m1 0h0m3 6h0m2 0h0m0 0h0m0-6h0m2 1h0m5 3h0m0-2h0m0-1h0m2 2h0m3 4h0m2 0h0m1 0h0m0-3h0m1 2h0m1-6h0m1 0h0m4 1h0m0 0h0m0 0h0m4 4h0m0 2h0m4-2h0m3-5h0m1 0h0m3 6h0m1-4h0m13 3h0m0-5h0m3 5h0m-88 7h0m3 0h0m1-4h0m3 4h0m1-2h0m0 5h0m1-1h0m1 1h0m0-6h0m1 6h0m1-2h0m1 0h0m1-4h0m1 4h0m1 2h0m5-3h0m0 1h0m1-2h0m0 2h0m5-4h0m0-1h0m2 4h0m0-2h0m1 0h0m0-2h0m1 5h0m0 1h0m1-4h0m1-1h0m0 5h0m3 1h0m1-5h0m1-1h0m2 1h0m1 0h0m1 0h0m0 0h0m4 4h0m3 1h0m2-2h0m1 1h0m1 1h0m3-4h0m3 2h0m1 0h0m6-4h0m5 4h0m1-5h0m5 0h0m2 2h0m2-1h0m6 3h0m1 1h0m19 1h0m-110 3h0m1 2h0m0 3h0m2-1h0m0 1h0m1 0h0m5-2h0m1 2h0m2-3h0m3-3h0m0 2h0m6 4h0m2-2h0m2 1h0m1 2h0m0 0h0m1-3h0m1 0h0m1 2h0m0-4h0m1 0h0m2 3h0m0 2h0m2-6h0m0 5h0m4-3h0m0-3h0m1 4h0m1 1h0m1-1h0m0 0h0m1-2h0m1 2h0m1 1h0m2-2h0m3-3h0m4 5h0m1-2h0m1-3h0m2 3h0m1-1h0m1-2h0m1 1h0m4 3h0m1-3h0m0-1h0m3 7h0m-67 3h0m1 3h0m4-2h0m1 4h0m1 0h0m1-6h0m0 2h0m0-2h0m2 6h0m1-2h0m0 2h0m1-4h0m0 4h0m1-1h0m0 1h0m0-7h0m1 0h0m3 4h0m1-2h0m0-1h0m2 3h0m0-3h0m2 5h0m0-1h0m1 2h0m1-3h0m0-1h0m0-3h0m1 7h0m0-5h0m1 5h0m1-7h0m1 7h0m3-2h0m2-3h0m0-1h0m1 4h0m1 2h0m3-5h0m6-1h0m1 5h0m2 1h0m1-5h0m1 5h0m3-5h0m3 1h0m3 1h0m1 0h0m1 1h0m0-4h0m1 2h0m2 1h0m1-4h0m3 5h0m0-4h0m9 4h0m-76 4h0m1 5h0m0 1h0m0-4h0m0-2h0m4-1h0m0 1h0m3 1h0m4 4h0m2-5h0m0 3h0m1 1h0m0-5h0m1 4h0m2-1h0m0 2h0m1-5h0m4 2h0m1 2h0m2-4h0m1 7h0m3-4h0m1-2h0m2 3h0m0 3h0m3-3h0m1-4h0m0 1h0m1 3h0m2 0h0m6-2h0m0 5h0m0-4h0m1 2h0m4-5h0m3 6h0m10-5h0m16 1h0m-81 9h0m0 3h0m3-2h0m4-2h0m0 1h0m1 0h0m0 0h0m3 4h0m1-3h0m2-3h0m1 6h0m0-6h0m0 5h0m0-4h0m3 4h0m1-4h0m0 4h0m1-4h0m3 1h0m0-1h0m0 2h0m1-4h0m0 0h0m5 6h0m0-3h0m0 0h0m0-3h0m3 2h0m4-1h0m3-1h0m3 7h0m1-7h0m0 1h0m7-1h0m1 4h0m1-2h0m1 0h0m22 0h0m-75 8h0m0-1h0m1 1h0m1 2h0m1-3h0m0 0h0m5 2h0m2-2h0m2 0h0m2-1h0m1 0h0m5 2h0m3 1h0m4-2h0m5 0h0m0 0h0m2 0h0m10 0h0" stroke="#3aa884" stroke-opacity="0.35" stroke-width="5.2" stroke-linecap="round" fill="none" transform="scale(.5)"/>
<path d="M654 181h0m-8 18h0m-35 5h0m7-2h0m18-1h0m-41 8h0m-12 9h0m-12 13h0m8-4h0m7 4h0m32-6h0m-66 14h0m36 0h0m15-5h0m8-2h0m6 7h0m3 0h0m1 0h0m-70 5h0m21 3h0m2-1h0m2-6h0m15 7h0m3-1h0m0-5h0m5 1h0m6-2h0m-45 12h0m2-3h0m4 0h0m10 0h0m13 6h0m1-4h0m1 1h0m23-2h0m9 2h0m-81 5h0m1 1h0m13 5h0m8-4h0m2 4h0m10-6h0m5 4h0m3 1h0m15-4h0m5 5h0m13-5h0m1-2h0m2 5h0m-115 8h0m27-3h0m7 3h0m1-2h0m0 4h0m9-1h0m2-5h0m1 3h0m2 0h0m2-1h0m2 4h0m4-3h0m5 0h0m0 1h0m3-4h0m0 1h0m20-1h0m1 2h0m1-1h0m3 3h0m5-1h0m1-2h0m-87 7h0m3 4h0m2 0h0m0-2h0m14 3h0m2-2h0m5-4h0m0 3h0m1 4h0m2-5h0m2-2h0m1 2h0m6 1h0m3 3h0m8-6h0m0 7h0m3-2h0m0 0h0m3 2h0m1-3h0m1-4h0m2 7h0m2 0h0m2-6h0m3 1h0m10-2h0m2 1h0m12 2h0m2-2h0m-104 10h0m2 2h0m6 0h0m6 1h0m5 0h0m3-3h0m1 2h0m11-5h0m0 4h0m2-2h0m0 0h0m1 1h0m1-1h0m2 2h0m0 3h0m1-1h0m1 0h0m1-2h0m2-2h0m2-1h0m1 0h0m2-1h0m1 1h0m4 5h0m2-5h0m4 1h0m0 1h0m1-2h0m3 6h0m2-4h0m3 1h0m1-4h0m6 4h0m7-2h0m3 0h0m1 5h0m8-6h0m19 0h0m0 6h0m15-2h0m-130 7h0m5-2h0m0 1h0m4 3h0m6-3h0m3 1h0m0 3h0m1-1h0m0-1h0m2 0h0m1 1h0m1-1h0m4 1h0m0-5h0m2 0h0m1 4h0m4 0h0m1 1h0m0-4h0m0 0h0m5 1h0m0 3h0m1 1h0m1-2h0m1-5h0m1 4h0m0 1h0m1-1h0m1-3h0m1 6h0m1 0h0m1-1h0m0-2h0m1-4h0m2 1h0m2 5h0m1-2h0m1-1h0m2 2h0m1 0h0m4-2h0m0-3h0m1 3h0m2-1h0m2 0h0m1 0h0m1 0h0m2-2h0m8 1h0m7 4h0m3-5h0m3 2h0m8 4h0m-99 6h0m5-4h0m0 4h0m1-3h0m2 5h0m3-6h0m0 0h0m2 1h0m2 1h0m1 0h0m2-1h0m0 4h0m2-2h0m1 2h0m0 2h0m2-3h0m3-4h0m1 5h0m0 1h0m2-1h0m0 0h0m2-3h0m0 3h0m0 0h0m1-5h0m0 1h0m0 5h0m3 1h0m1-7h0m1 1h0m1 3h0m1 2h0m0-5h0m1 2h0m2-3h0m0 5h0m0-4h0m1 2h0m3-1h0m2 1h0m1-3h0m0 7h0m4-2h0m1-3h0m0 3h0m3 0h0m1 0h0m1-2h0m4 3h0m1-2h0m1-1h0m0 1h0m4-2h0m-71 13h0m1-7h0m0 2h0m0 1h0m1 3h0m0 0h0m0-1h0m0-3h0m1 4h0m1-4h0m1 0h0m0 3h0m1-1h0m1 0h0m2 2h0m0-1h0m2-2h0m3 2h0m0-5h0m1 7h0m0 0h0m2-7h0m1 4h0m1 1h0m1-4h0m1-1h0m0 2h0m2 0h0m1 4h0m1-5h0m3 2h0m2-1h0m4 3h0m0-3h0m2 1h0m1 3h0m2-1h0m0-3h0m1 3h0m0-1h0m1 3h0m1-4h0m1-2h0m1-1h0m3 0h0m1 7h0m1-5h0m0 0h0m2-2h0m5 1h0m4 2h0m4 2h0m8-1h0m-74 4h0m0 2h0m1-2h0m1 3h0m0 0h0m1 0h0m1-3h0m2 2h0m0-1h0m1 0h0m1 0h0m1 6h0m4-3h0m0-1h0m1 4h0m0 0h0m1-2h0m1-1h0m1-2h0m1 3h0m1-5h0m4 5h0m2 0h0m1-5h0m2 4h0m1-3h0m0 0h0m2-1h0m1 4h0m6 0h0m4-2h0m1-2h0m1 4h0m6-4h0m0 1h0m1 0h0m1 6h0m4-6h0m0 4h0m13 2h0m3-7h0m-71 11h0m2-1h0m2 4h0m1-3h0m3-3h0m1 7h0m1-4h0m2-2h0m0-1h0m0 2h0m0 3h0m1-2h0m4-2h0m0 1h0m1 0h0m2 4h0m0-6h0m2 0h0m2 4h0m1 3h0m0-4h0m0 2h0m0 2h0m2-2h0m4-5h0m1 0h0m3 2h0m0-2h0m1 4h0m1-2h0m6 0h0m2 4h0m3-6h0m2 7h0m5-5h0m3 0h0m4 1h0m2-3h0m3 3h0m-68 11h0m2-4h0m0 0h0m0 3h0m1 0h0m0 0h0m2-2h0m0-2h0m2 1h0m0 1h0m0 4h0m2-4h0m0-1h0m1 0h0m0 1h0m2-1h0m0 2h0m1-3h0m2-1h0m2 5h0m2 2h0m1-5h0m1-1h0m0 2h0m1 2h0m1-1h0m0 3h0m1-1h0m0 0h0m1-6h0m2 0h0m1 3h0m2 0h0m2-3h0m1 7h0m3-4h0m0-3h0m7 6h0m1-5h0m8-1h0m14 0h0m-65 10h0m1-2h0m2 1h0m10 2h0m0 0h0m4-2h0m1-1h0m1 3h0m1-1h0m0 0h0m3-1h0m0 2h0m8-3h0m3 1h0m13 1h0m17-2h0" stroke="#3aa884" stroke-opacity="0.35" stroke-width="5.2" stroke-linecap="round" fill="none" transform="scale(.5)"/>
<path d="M643 191h0m-51 23h0m-59 7h0m87 1h0m-32 2h0m3 7h0m16-5h0m6 5h0m10-5h0m-62 12h0m6 1h0m8-2h0m8-1h0m4 0h0m2 0h0m10 0h0m3 3h0m5-3h0m32-3h0m-66 10h0m0 2h0m18 0h0m7-3h0m7 4h0m41-5h0m-117 11h0m13 2h0m7-1h0m7-4h0m0 2h0m3-3h0m5 4h0m2 3h0m6-3h0m19-3h0m14 1h0m15 5h0m-96 8h0m4-5h0m20 4h0m8-1h0m8-2h0m2-1h0m8 2h0m2 0h0m1 2h0m4-4h0m0-1h0m5 3h0m8 2h0m0-6h0m1 2h0m10 1h0m-88 12h0m10-2h0m11 1h0m5-2h0m6-1h0m1-1h0m3 3h0m0 2h0m0 0h0m3-1h0m1-4h0m3-2h0m1 1h0m0 3h0m0-1h0m3 4h0m0 0h0m2-6h0m0 6h0m0-3h0m0-3h0m1 3h0m3 0h0m3 0h0m1 0h0m0 1h0m2-3h0m2 2h0m7-1h0m11-3h0m9 1h0m0 6h0m18-3h0m-115 10h0m8-5h0m1 6h0m7-3h0m4 3h0m5-7h0m0 2h0m2 4h0m2-4h0m1 5h0m8-6h0m0 1h0m3 4h0m1-5h0m0 0h0m1 0h0m3 4h0m1-5h0m1 2h0m0 2h0m3 2h0m1-3h0m1 1h0m2 0h0m3 0h0m3 0h0m3-2h0m0-2h0m4 3h0m4 0h0m18 0h0m11-3h0m-95 9h0m1 5h0m6-6h0m2 4h0m2 3h0m1-6h0m2 5h0m0-6h0m7 5h0m0-3h0m0-2h0m1 1h0m4 5h0m9-6h0m1 3h0m1 4h0m0 0h0m2-2h0m3-4h0m2-1h0m1 4h0m1 1h0m1 1h0m0-4h0m1 3h0m3-5h0m1 2h0m2 0h0m3 1h0m0-2h0m15 1h0m-86 9h0m1 3h0m5 1h0m2-4h0m1 3h0m1-3h0m0 1h0m1 1h0m1-5h0m5 6h0m2-3h0m3-1h0m0 5h0m3-4h0m2-1h0m0 5h0m1-1h0m1-5h0m2 3h0m2 0h0m1-3h0m1-1h0m0 3h0m1-3h0m1 4h0m5-4h0m1 2h0m0 4h0m0 0h0m0 0h0m0 1h0m3-3h0m0-4h0m3 5h0m0 2h0m1-3h0m2 0h0m2 2h0m1-6h0m4 4h0m2-4h0m2 0h0m6 1h0m2 6h0m9-7h0m10 0h0m1 4h0m4 0h0m-95 10h0m4-1h0m0 1h0m8-5h0m0 6h0m1-3h0m1-2h0m3-2h0m4 4h0m2 2h0m2-5h0m0 6h0m1-7h0m2 6h0m1-6h0m0 7h0m1-6h0m0 4h0m3-4h0m3 6h0m1-3h0m1-1h0m0 3h0m1-6h0m2 3h0m0 3h0m2-4h0m1 2h0m4 0h0m1 1h0m5-2h0m4 4h0m2-4h0m3 4h0m2-2h0m0-1h0m0-2h0m0 4h0m2 1h0m1-7h0m1 5h0m0-2h0m3 2h0m3-4h0m15 3h0m-89 5h0m1 6h0m2-5h0m1 4h0m2-2h0m1-1h0m0 1h0m1-3h0m0 6h0m0-7h0m5 6h0m1 0h0m0-2h0m3 1h0m1-4h0m1 6h0m0-3h0m2-3h0m2 3h0m0-3h0m5-1h0m1 7h0m1-6h0m0-1h0m0 6h0m0-3h0m1 2h0m0-1h0m1 0h0m2-2h0m1 3h0m2-3h0m0-2h0m2 0h0m3 4h0m1 0h0m1 1h0m0-1h0m2 3h0m0-6h0m2 4h0m3 2h0m1-7h0m3 3h0m0 1h0m3 2h0m0-1h0m2-3h0m0 0h0m4-1h0m1 0h0m3 4h0m3-4h0m5 3h0m8 0h0m6 3h0m-91 6h0m0-1h0m2 1h0m2-1h0m2 2h0m1-5h0m1 1h0m1 0h0m0 4h0m3-4h0m1 1h0m1 4h0m1-6h0m0 5h0m1 1h0m1-4h0m0 4h0m1-6h0m1 6h0m2-1h0m0-5h0m2 2h0m1 1h0m0-3h0m0 5h0m0-5h0m3 5h0m0-2h0m2 3h0m2-4h0m1-1h0m1 5h0m1-7h0m1 5h0m1-1h0m0-3h0m2-1h0m4 6h0m2-1h0m0-1h0m2 3h0m1-4h0m0 4h0m8-1h0m1-3h0m9-2h0m3 2h0m10 3h0m-78 2h0m1 7h0m0-3h0m1 0h0m2-3h0m0 1h0m1 2h0m1 2h0m0 0h0m1-3h0m2-1h0m1 1h0m0 1h0m0-3h0m1 3h0m1-2h0m1-2h0m1 5h0m0-2h0m0 3h0m1-5h0m0 5h0m2 0h0m0-5h0m2 5h0m1-6h0m0 6h0m3 0h0m1-4h0m0 4h0m1 0h0m0 1h0m2-1h0m1-4h0m2 1h0m2 3h0m0-3h0m1-2h0m5 0h0m1 3h0m2-4h0m3 1h0m6 1h0m3 0h0m2-2h0m1 2h0m11 3h0m1-4h0m-63 10h0m0 3h0m1-1h0m0-4h0m1 6h0m0-5h0m2 4h0m0-5h0m0-1h0m2 5h0m2 0h0m2-1h0m0-1h0m0 1h0m1 3h0m0-3h0m2 0h0m0 0h0m1 3h0m1-7h0m2 4h0m1-4h0m0 7h0m1-6h0m1 6h0m1-3h0m1-2h0m0 4h0m3-2h0m1-3h0m1 3h0m0 1h0m1 0h0m1-3h0m2 1h0m3 1h0m2-3h0m0 6h0m0-3h0m11 1h0m6 1h0m2 0h0m8-3h0m-68 7h0m9 0h0m2 1h0m0-2h0m0 2h0m1-3h0m1 3h0m4 0h0m2-1h0m3 1h0m1-3h0m2 2h0m0 1h0m1-1h0m5-2h0" stroke="#3aa884" stroke-opacity="0.35" stroke-width="5.2" stroke-linecap="round" fill="none" transform="scale(.5)"/>
<path d="M606 200h0m5 1h0m68 0h0m-70 13h0m30 0h0m-42 7h0m35-5h0m30 5h0m-96 9h0m15-5h0m2 6h0m9-7h0m9 4h0m21 2h0m21-2h0m-114 11h0m54 0h0m10-1h0m14-6h0m-50 8h0m12 5h0m14-1h0m2-4h0m11 6h0m4 1h0m-72 4h0m5 0h0m7-1h0m15-1h0m11 3h0m2-1h0m3 4h0m2-7h0m7 3h0m5 4h0m3-2h0m2-5h0m1 4h0m10 1h0m0 2h0m7-4h0m2-2h0m0 6h0m1-6h0m-70 13h0m4 1h0m8-6h0m1 0h0m1-1h0m2 4h0m9-4h0m6 0h0m3 2h0m2 0h0m2 3h0m2-1h0m15-1h0m7 2h0m9-5h0m-110 14h0m17-6h0m9 1h0m10-1h0m1 1h0m8 5h0m1 0h0m1-4h0m1 5h0m4-2h0m2-1h0m2 2h0m9 0h0m1-2h0m2 3h0m1-2h0m0-5h0m1 6h0m1-6h0m1 0h0m2 5h0m1-2h0m0 0h0m4 3h0m5 1h0m1-7h0m27 4h0m-111 10h0m17-6h0m5 0h0m1 3h0m1 4h0m4-7h0m2 4h0m5-2h0m0 0h0m1 1h0m2-2h0m0 6h0m1-1h0m2-2h0m0-4h0m2 2h0m1-2h0m0 6h0m3 0h0m1-3h0m0 4h0m1-7h0m6 6h0m3-6h0m1 3h0m0 3h0m0-6h0m2 5h0m0-2h0m0 1h0m6 3h0m3-6h0m3 1h0m0 2h0m1 3h0m1-7h0m11 7h0m1-1h0m2-5h0m1 0h0m2 1h0m3-2h0m-86 11h0m15-1h0m1-1h0m2 6h0m2 0h0m2-7h0m1 4h0m1-2h0m0 2h0m1 0h0m1 3h0m2-3h0m3 2h0m0-5h0m3-1h0m1 3h0m4 1h0m0 0h0m5 3h0m3-2h0m0 0h0m0-2h0m1-2h0m1 1h0m6 0h0m3-2h0m1 1h0m2 3h0m3-1h0m4 2h0m4-2h0m2-1h0m10-1h0m5-1h0m3 3h0m22 1h0m-117 8h0m5-2h0m1 1h0m0-1h0m1 5h0m2-3h0m1 2h0m3 1h0m1-5h0m0 2h0m0-3h0m0 1h0m1 0h0m1 4h0m1 1h0m1 0h0m2-2h0m1-1h0m1 0h0m0 3h0m2-3h0m0 2h0m3-2h0m0-2h0m1 4h0m2-1h0m2-3h0m2 0h0m1 5h0m4-5h0m2 3h0m0-5h0m3 7h0m1-5h0m0-2h0m0 5h0m0-1h0m1 0h0m0 2h0m2-2h0m6-2h0m6 2h0m1 0h0m7 2h0m-73 8h0m0-2h0m4-4h0m1 6h0m2 0h0m0 1h0m1-2h0m1-4h0m1 0h0m1-1h0m3 5h0m1-1h0m3 0h0m1-2h0m0 1h0m0 4h0m3-2h0m2-4h0m1 1h0m0 4h0m0-6h0m2 3h0m1 1h0m1-2h0m1 1h0m0 0h0m1 0h0m4 4h0m0-2h0m2 1h0m1 1h0m1 0h0m0 0h0m0-1h0m0 1h0m3-2h0m0 0h0m1-1h0m0-2h0m0 1h0m2-3h0m1 3h0m0 4h0m1-6h0m2 3h0m0 3h0m2-5h0m1-1h0m1 4h0m0-3h0m2-1h0m2 5h0m0-5h0m1 2h0m2-1h0m3 1h0m3-1h0m7 3h0m8-2h0m-83 11h0m6 1h0m0-7h0m1 5h0m3-1h0m0-2h0m2-1h0m1 0h0m2-1h0m1 3h0m1-2h0m0 1h0m2-2h0m0 4h0m0 2h0m0-6h0m0 0h0m1 1h0m0 6h0m1-6h0m3 4h0m1-1h0m0 3h0m4-5h0m0 5h0m1-6h0m0 3h0m1 3h0m0-3h0m1-4h0m0 2h0m6 5h0m5-5h0m2 1h0m0-2h0m1 5h0m1 1h0m0-7h0m1 6h0m0-6h0m1 1h0m4 1h0m0-1h0m4 0h0m2 4h0m-60 10h0m3-2h0m0 0h0m1-2h0m1-1h0m1 3h0m1 0h0m0-5h0m1 3h0m1 2h0m1-3h0m1 0h0m0 1h0m1 3h0m0-2h0m3 2h0m2-2h0m0 3h0m0-5h0m0 4h0m1 0h0m2-4h0m0 1h0m0 3h0m0-5h0m0 2h0m1 2h0m2 1h0m0-6h0m2 5h0m0-1h0m1 1h0m1-2h0m1 4h0m1-7h0m0 2h0m0 1h0m0-3h0m2 3h0m1 4h0m2-5h0m0 1h0m3 1h0m2 0h0m1-2h0m1 4h0m0-2h0m0-4h0m1 0h0m2 5h0m5-1h0m1-2h0m0-2h0m11 5h0m-62 3h0m0 3h0m3-1h0m1-1h0m0 6h0m1-6h0m0 1h0m2 0h0m0 3h0m0-1h0m1-4h0m0 5h0m0 2h0m1-2h0m0 0h0m0-4h0m2 2h0m1-2h0m2 3h0m0 1h0m4-3h0m5 3h0m2-1h0m0 3h0m1-3h0m1-4h0m1 2h0m0 0h0m2 2h0m0-4h0m9 1h0m0 5h0m1-5h0m2 3h0m1 3h0m2 0h0m0-2h0m0-4h0m8 2h0m2 3h0m0-3h0m2 1h0m13 0h0m-70 7h0m1-3h0m2 1h0m0-1h0m1 0h0m0 6h0m1 0h0m2-2h0m0 1h0m1-3h0m0 2h0m2-3h0m1-1h0m2 0h0m2 5h0m3-5h0m0 2h0m1 4h0m0-2h0m0 3h0m0-5h0m1 3h0m0-4h0m1 5h0m2-3h0m2 0h0m2 0h0m1 4h0m0-1h0m2 0h0m6-6h0m1 5h0m1 2h0m1-4h0m0 1h0m3 1h0m2-3h0m3-2h0m1 2h0m-45 6h0m0 2h0m4 2h0m3-2h0m10 0h0m1-1h0m3 0h0m1 3h0m0-3h0m0 1h0m6 0h0m4 1h0m4-1h0m2 2h0m1-4h0m2 0h0m2 3h0" stroke="#3aa884" stroke-opacity="0.35" stroke-width="5.2" stroke-linecap="round" fill="none" transform="scale(.5)"/>
<path d="M613 187h0m-18 15h0m25 8h0m6 4h0m-57 3h0m6 0h0m29 2h0m17 4h0m-49 2h0m13 3h0m4 2h0m26-2h0m12 0h0m2 2h0m-59 7h0m10 2h0m6-2h0m14 0h0m1 0h0m7-5h0m4 5h0m0 1h0m5-6h0m1 3h0m2-2h0m19 1h0m-69 9h0m4 1h0m10 0h0m0 1h0m7 0h0m9-2h0m2 4h0m-67 5h0m6 1h0m13-1h0m2 3h0m17-4h0m16 4h0m1-1h0m8-2h0m7 2h0m5-6h0m-78 13h0m6 1h0m1-3h0m2 1h0m1-1h0m2 3h0m10 1h0m8 0h0m6-1h0m1 0h0m12-5h0m4 0h0m6 1h0m4 0h0m0 2h0m8-3h0m13 4h0m8-3h0m-88 11h0m1-3h0m7 3h0m2-4h0m1 4h0m2-5h0m6 7h0m7-4h0m1-3h0m0 4h0m3 3h0m1-4h0m4-1h0m1-2h0m0 2h0m4 2h0m3 2h0m0-3h0m1 0h0m8 1h0m3-3h0m4-1h0m3 6h0m1-6h0m-87 15h0m0-3h0m2 1h0m1-2h0m9-3h0m4 0h0m4 3h0m0 4h0m2-1h0m6-3h0m0 1h0m0 1h0m2-4h0m1 1h0m2-1h0m1 5h0m2-3h0m7-2h0m4 6h0m1-1h0m1 1h0m6-5h0m2-1h0m2 4h0m3 1h0m3-6h0m2 3h0m1 2h0m3 1h0m2-5h0m0 6h0m5-5h0m7 3h0m1 0h0m-89 5h0m4 1h0m0 0h0m11 0h0m0 0h0m4 2h0m2 2h0m2-6h0m1 2h0m1-2h0m5 6h0m2-4h0m1 2h0m1 1h0m1-3h0m2 1h0m3 1h0m0-5h0m0 1h0m3 2h0m0 1h0m4 3h0m2-2h0m2-2h0m0-3h0m1 7h0m10 0h0m6-2h0m4 0h0m5 1h0m5 1h0m-90 3h0m4 3h0m3 0h0m1-4h0m3 6h0m0-6h0m8 4h0m2 1h0m0-3h0m0 3h0m3-4h0m0 5h0m1-4h0m2-2h0m4-1h0m0 7h0m1-1h0m1-3h0m0 2h0m0-4h0m1 6h0m0-6h0m1 6h0m0-4h0m1 2h0m1-1h0m1-1h0m0 4h0m1-3h0m2 0h0m0-2h0m2 5h0m1-1h0m1-5h0m8 5h0m1-1h0m1-4h0m1 1h0m3 2h0m0-4h0m0 6h0m1-5h0m1-1h0m1 5h0m2-4h0m1 5h0m1-2h0m0-1h0m0 1h0m1 2h0m10-4h0m2 1h0m1 0h0m11-3h0m5 0h0m20 6h0m-114 9h0m1-1h0m1-5h0m6 1h0m0 5h0m5-4h0m1 2h0m0-2h0m2 2h0m1 2h0m0-5h0m1 5h0m0-4h0m2-3h0m3 4h0m2-2h0m0 3h0m4-4h0m0 3h0m2 3h0m1-6h0m1 1h0m1-1h0m0-1h0m3 7h0m2-6h0m2 2h0m4 0h0m0 0h0m0 3h0m1-5h0m1 6h0m0-3h0m2-1h0m4-3h0m4 6h0m3-1h0m0 1h0m5-6h0m3 3h0m1-2h0m0-1h0m2 2h0m31 5h0m-103 6h0m2-3h0m0-2h0m1 7h0m1-3h0m0 2h0m1-1h0m0-4h0m5 3h0m1 2h0m1 0h0m2 0h0m0-6h0m2 4h0m1 0h0m5 0h0m1-4h0m1 2h0m0 3h0m2-1h0m1-1h0m0 3h0m1-4h0m1 1h0m3 0h0m0 3h0m2-1h0m0-2h0m0 4h0m4-4h0m0-3h0m3 1h0m0 1h0m1-2h0m3 6h0m1 1h0m1-6h0m2 0h0m1-1h0m0 4h0m1-1h0m3-1h0m7 1h0m5 3h0m6-5h0m2 5h0m-76 2h0m2 0h0m0 0h0m2 0h0m1 3h0m0 3h0m2-5h0m4 6h0m3-5h0m1 0h0m1 1h0m1-3h0m1 5h0m0-2h0m1 4h0m1-3h0m0-1h0m0-2h0m6 3h0m1-1h0m2-2h0m0 3h0m0-3h0m2 5h0m2-3h0m1-1h0m2 5h0m2-3h0m0 1h0m0-4h0m3 0h0m0 6h0m0-6h0m1-1h0m4 4h0m1-4h0m1 1h0m0 6h0m3-3h0m6-1h0m0 1h0m4-2h0m1-1h0m2-1h0m7 1h0m2 5h0m3 0h0m18 1h0m-94 1h0m1 1h0m1 1h0m0 3h0m0 2h0m1-2h0m6-4h0m1 3h0m1-3h0m1 5h0m2-1h0m1 1h0m3-1h0m0-4h0m0 6h0m1-2h0m1-1h0m1-2h0m2-2h0m1 3h0m1 4h0m0-5h0m0 5h0m1-6h0m2 1h0m3 2h0m2 2h0m0-6h0m3 0h0m0 3h0m1 3h0m1-2h0m1 1h0m1-4h0m2-1h0m5 7h0m1-4h0m3 3h0m0-5h0m0 3h0m1 1h0m0-3h0m16-1h0m-68 8h0m1 5h0m0-6h0m0 5h0m1-5h0m1 5h0m0-2h0m2 4h0m1-2h0m0-3h0m3 4h0m0 0h0m1-4h0m0 0h0m0 4h0m0-4h0m1 0h0m0 0h0m0 2h0m1-1h0m1 0h0m0 0h0m0-1h0m0-2h0m1 5h0m2-2h0m1-1h0m0 1h0m1-1h0m2-1h0m0 6h0m1-1h0m2-1h0m1-3h0m1 5h0m2-3h0m3-4h0m0 7h0m1-2h0m0-2h0m0-3h0m3 5h0m3-4h0m5 0h0m3 5h0m5-6h0m-50 11h0m3-1h0m3-1h0m1 1h0m3 1h0m2-3h0m3 2h0m0 1h0m1 0h0m2-3h0m2 2h0m4-1h0m0-1h0m1 0h0m0 0h0m1 1h0m2 2h0m1-1h0m1 0h0m3-2h0m43 0h0" stroke="#3aa884" stroke-opacity="0.35" stroke-width="5.2" stroke-linecap="round" fill="none" transform="scale(.5)"/>
<path d="M665 144h0m-30 55h0m23 4h0m-64 11h0m30-1h0m-45 8h0m10-3h0m-13 8h0m9 1h0m2 4h0m4-4h0m6 3h0m10-5h0m-38 14h0m-3 7h0m9 1h0m4-1h0m7 1h0m3-3h0m40-4h0m-84 10h0m8 5h0m8-2h0m10-1h0m6 3h0m7-7h0m9 3h0m3 3h0m7-2h0m34 0h0m4-2h0m-102 7h0m6 6h0m1 0h0m1-2h0m3 0h0m10-4h0m1 2h0m6 2h0m3 0h0m1 2h0m0-2h0m6 1h0m6-4h0m4 4h0m0-4h0m1-2h0m0 0h0m4 4h0m3 2h0m1-4h0m-94 9h0m38-3h0m1 4h0m2 3h0m1-6h0m7 2h0m4-1h0m1 3h0m0-2h0m2 3h0m1-4h0m1 0h0m2 1h0m0-3h0m1 4h0m1 2h0m0-5h0m0 3h0m1 1h0m10 2h0m0-7h0m1 4h0m1-1h0m9 1h0m3 0h0m6-2h0m9 1h0m-94 11h0m5 1h0m8-6h0m7 3h0m2 3h0m18-2h0m4-3h0m1 2h0m4-3h0m1-1h0m10 2h0m3 1h0m5-2h0m6 0h0m8 2h0m-86 7h0m13-2h0m3 7h0m5-2h0m0 1h0m2-6h0m3 4h0m3 1h0m0 2h0m1 0h0m3-2h0m4 2h0m1 0h0m5-4h0m2 1h0m2 0h0m3 0h0m1 3h0m0 0h0m0-3h0m0 3h0m0-7h0m3 0h0m3 5h0m2 1h0m5-2h0m0-4h0m1 6h0m0-3h0m0-2h0m6 1h0m5 5h0m17-6h0m0 5h0m8-5h0m-106 7h0m4 6h0m0-2h0m5 0h0m3 2h0m2-4h0m2 3h0m3 0h0m2-3h0m4 4h0m0-5h0m0 6h0m9 0h0m0-5h0m1 5h0m0 0h0m0-3h0m3 2h0m2 1h0m1-3h0m1-4h0m2 1h0m0 0h0m2 0h0m1 1h0m0 5h0m0-3h0m1-4h0m0 6h0m1-3h0m2 4h0m1 0h0m0-3h0m1-3h0m1 6h0m0 0h0m2-4h0m0 0h0m1 4h0m1-6h0m1 6h0m2-3h0m0 2h0m0-4h0m4-2h0m2 3h0m4-2h0m2 5h0m1 1h0m5-1h0m1 1h0m1-5h0m2 0h0m20-1h0m-100 12h0m1 2h0m2-4h0m3 1h0m1-1h0m0 2h0m2-5h0m0 1h0m3 6h0m5-5h0m2 5h0m1-2h0m1-2h0m2-2h0m1 4h0m0 2h0m1-7h0m0 7h0m0-7h0m1 5h0m0-4h0m0 4h0m2 2h0m1-1h0m1-6h0m0 1h0m3 3h0m0-1h0m1-3h0m0 1h0m0 3h0m2-1h0m1 1h0m0 0h0m1-1h0m2 1h0m1-3h0m0 2h0m2 1h0m3 1h0m1-4h0m0-1h0m2 6h0m2-3h0m0 1h0m1 0h0m0 3h0m0-3h0m8 1h0m6 0h0m2-4h0m3 2h0m6 1h0m6 0h0m16-3h0m-102 14h0m1-6h0m2 5h0m1 0h0m2-3h0m1 2h0m1-1h0m2-4h0m0 7h0m2-6h0m1 4h0m2-2h0m2 1h0m1 3h0m1-4h0m1 2h0m0-3h0m1-2h0m1 2h0m1 3h0m1-4h0m1 0h0m1 6h0m2-1h0m0-4h0m2-2h0m0 0h0m3 3h0m1-2h0m0 4h0m0 1h0m2-4h0m5 0h0m0 0h0m2 3h0m1-2h0m2-3h0m3 0h0m2 2h0m6-1h0m1 5h0m2-6h0m0 0h0m3 7h0m2 0h0m8-3h0m11-1h0m-85 7h0m1-1h0m3 3h0m1 2h0m1-1h0m0-4h0m2 4h0m1-4h0m0 4h0m1 1h0m2-6h0m1 2h0m0 4h0m1-2h0m1 2h0m0-2h0m3 3h0m0-7h0m2 4h0m0 0h0m0-1h0m3-1h0m0-1h0m4 0h0m1-1h0m6 0h0m0 5h0m2-1h0m1-1h0m2 2h0m1-4h0m0 1h0m2 4h0m0 0h0m1-6h0m1 4h0m0 3h0m2-2h0m1-2h0m1 4h0m0 0h0m1-2h0m5 0h0m2-1h0m11 1h0m1-1h0m0 1h0m-67 8h0m0-5h0m1 2h0m1 3h0m0-3h0m1 3h0m2 0h0m3 0h0m1 0h0m2-4h0m2 6h0m0-4h0m1-3h0m3 3h0m1-2h0m0 3h0m1-4h0m1 7h0m1-4h0m1-3h0m0 0h0m1 4h0m0 2h0m0 0h0m2-3h0m0-2h0m0 0h0m1 4h0m1 0h0m4-5h0m2 1h0m0 5h0m1-6h0m0 6h0m0-3h0m4-3h0m6 4h0m4-1h0m4-1h0m3 5h0m0-2h0m8 2h0m22-7h0m-85 14h0m0-3h0m1 3h0m1 0h0m1-4h0m1 3h0m0-3h0m0 5h0m1-1h0m0-6h0m1 5h0m2 1h0m1-6h0m2 0h0m2 7h0m2-6h0m1-1h0m0 5h0m2-5h0m1 2h0m0 5h0m0-1h0m0-3h0m1 1h0m0 0h0m1-3h0m3 0h0m1 6h0m1-7h0m6 6h0m0 0h0m1-5h0m1 2h0m2 1h0m1-4h0m0 5h0m3-3h0m0 4h0m3 1h0m2-7h0m0 3h0m0-3h0m1 7h0m4-4h0m-51 7h0m0-1h0m9 2h0m1-2h0m0 1h0m0-1h0m0 1h0m1 2h0m3-1h0m1-1h0m0 0h0m0-1h0m2 0h0m2-1h0m0 3h0m4-2h0m3-1h0m0 3h0m4 1h0m2-1h0m2 0h0" stroke="#3aa884" stroke-opacity="0.35" stroke-width="5.2" stroke-linecap="round" fill="none" transform="scale(.5)"/>
<path d="M586 210h0m17-1h0m32 3h0m-36 11h0m12-3h0m-59 17h0m23 1h0m25-2h0m3-2h0m6 3h0m2 2h0m1 0h0m1-2h0m-84 3h0m20 5h0m9 0h0m4-5h0m16 5h0m4 2h0m2 0h0m11-7h0m2 0h0m11 2h0m2 3h0m2 0h0m17 0h0m22-1h0m-132 4h0m9 2h0m25 3h0m8-4h0m1 3h0m11 1h0m22-1h0m3 3h0m1-7h0m24 7h0m7-5h0m-92 11h0m0-1h0m14-1h0m1 1h0m5 1h0m10-5h0m9 3h0m0 2h0m1-1h0m2 2h0m2-1h0m1 0h0m1 2h0m0-6h0m4 0h0m3 2h0m0 4h0m12-4h0m20 1h0m-105 8h0m1 3h0m9-3h0m4 0h0m0-4h0m6 5h0m3-5h0m1 3h0m4-2h0m3-1h0m1 5h0m2-5h0m6 3h0m1 3h0m1-4h0m0 5h0m1-3h0m2 0h0m5-2h0m0 0h0m2 1h0m1-2h0m3 5h0m6-4h0m1-2h0m2 4h0m5-3h0m1-1h0m2 0h0m1 6h0m4-1h0m17-3h0m-92 10h0m5-4h0m3 1h0m0 6h0m3-3h0m3-3h0m2 4h0m5 0h0m3-3h0m2 5h0m0-2h0m0-4h0m1 3h0m0 1h0m2-3h0m1 4h0m2-2h0m3-2h0m1-2h0m2 1h0m5 0h0m1 4h0m1 1h0m5-5h0m2 2h0m4 4h0m7 0h0m1 0h0m0-4h0m13 1h0m4-1h0m-96 11h0m1-1h0m7-5h0m1 4h0m1-2h0m1 3h0m1-2h0m4 4h0m0-6h0m1 5h0m1 1h0m2 0h0m0-6h0m6 6h0m0-2h0m1-3h0m0 4h0m2-3h0m1-2h0m1 5h0m0-3h0m3 2h0m0-4h0m1 6h0m1-2h0m1-4h0m3 0h0m3 3h0m1-2h0m1 5h0m1-4h0m4-1h0m2-1h0m4 6h0m0-5h0m2 4h0m1-4h0m1-1h0m0 2h0m1 2h0m0-5h0m2 0h0m0 4h0m2-3h0m1 3h0m0 2h0m2-3h0m0 2h0m12-3h0m2 1h0m0-2h0m4 0h0m4 3h0m-95 8h0m2-3h0m1-1h0m6 6h0m2 0h0m3-6h0m2 6h0m2-2h0m0-3h0m1 0h0m1-1h0m1 7h0m3-5h0m0 5h0m0-5h0m2 0h0m0 0h0m0-1h0m3 4h0m2-2h0m1 3h0m0 0h0m0-6h0m0 2h0m1 3h0m1 0h0m4-1h0m6 1h0m2-1h0m0 1h0m1-3h0m4 0h0m2 2h0m1-2h0m2 3h0m2-5h0m1 5h0m3-1h0m0 3h0m1-1h0m2 1h0m2-7h0m1 0h0m1 6h0m2-2h0m1-1h0m1 0h0m3 0h0m3-1h0m3 1h0m3 1h0m1-1h0m5 4h0m11-2h0m-102 7h0m1 1h0m7-1h0m1 1h0m1 2h0m0 0h0m1-4h0m3 1h0m1-3h0m0 6h0m1-4h0m1-1h0m1-2h0m1 0h0m1 4h0m0 3h0m3-5h0m3 0h0m0-1h0m0-1h0m2 2h0m1 4h0m1-1h0m3 1h0m4 1h0m2-5h0m0 4h0m2-6h0m0 2h0m3 2h0m2-2h0m2 1h0m0 1h0m0-3h0m2 1h0m2 1h0m0 4h0m3-3h0m6 0h0m3-3h0m2 1h0m3 0h0m8-1h0m34 6h0m-111 2h0m0 3h0m2 2h0m4-5h0m0 0h0m0 1h0m1-2h0m1 4h0m1-4h0m1 7h0m0-2h0m0-3h0m1-1h0m1 2h0m1-2h0m0 4h0m0-2h0m5 4h0m0-5h0m0 5h0m2 0h0m0-2h0m2-3h0m2 0h0m1 0h0m0 3h0m0-5h0m2 0h0m1 6h0m0-6h0m0 1h0m1 2h0m0-1h0m1-1h0m1 2h0m0-2h0m0 0h0m0 3h0m1 3h0m1-5h0m1-2h0m2 4h0m1 3h0m1-2h0m1-3h0m8 3h0m0 0h0m0-3h0m1-2h0m4 5h0m1 2h0m1-1h0m3 0h0m0-1h0m4 2h0m1-6h0m4 3h0m1-2h0m9-2h0m20 1h0m-97 13h0m1-1h0m0-4h0m1 0h0m0 3h0m3 3h0m1-1h0m1-5h0m1-1h0m0 5h0m0 1h0m0 0h0m1-1h0m2-2h0m0 4h0m2-3h0m1 3h0m1-4h0m0 3h0m1-4h0m1-2h0m0 4h0m0-2h0m0 5h0m1-5h0m3-2h0m1 7h0m1-7h0m1 1h0m2 1h0m1 2h0m2 2h0m0 0h0m1-4h0m1 0h0m1-2h0m1 2h0m0 3h0m0 2h0m2-6h0m3 5h0m1 0h0m2-1h0m1-1h0m7-1h0m3-2h0m1 4h0m1-4h0m1 0h0m3 2h0m4-1h0m17 2h0m-78 11h0m2-5h0m0 5h0m0-3h0m1-3h0m0 3h0m1-3h0m1 4h0m0-2h0m1 1h0m2 2h0m1 1h0m0-4h0m1 1h0m2 3h0m0-7h0m1 6h0m3-4h0m0 0h0m1 2h0m1 3h0m2-3h0m1 1h0m3-4h0m0 3h0m2-3h0m3-1h0m1 5h0m0-1h0m1-2h0m0 2h0m0-2h0m1 2h0m0-3h0m3 4h0m4-4h0m2 5h0m0-4h0m0 3h0m2-2h0m7 3h0m1 1h0m2-4h0m23 2h0m-74 3h0m3 0h0m2 3h0m1 3h0m1-4h0m0 0h0m7-1h0m1 0h0m0 2h0m1 4h0m1-3h0m5 3h0m2-3h0m1 0h0m1-3h0m0 0h0m1 4h0m0 1h0m2-4h0m0 3h0m4-2h0m2-2h0m2 2h0m1 3h0m1-3h0m0-3h0m3 6h0m5-1h0m2-3h0m3 2h0m6 0h0m-59 5h0m0 2h0m1-3h0m2 0h0m0 0h0m2 2h0m0 1h0m2 0h0m1-1h0m1-2h0m4 0h0m1 2h0m3-2h0m11 2h0m0 0h0m4-1h0m11 1h0m8-1h0m4 2h0m1-1h0m7-2h0" stroke="#3aa884" stroke-opacity="0.35" stroke-width="5.2" stroke-linecap="round" fill="none" transform="scale(.5)"/>
<path d="M662 197h0m-63 5h0m-2 20h0m9-5h0m-32 10h0m22 3h0m15-1h0m2-3h0m-60 10h0m13 2h0m13-2h0m5 0h0m1 0h0m0 3h0m11-5h0m2 4h0m33-2h0m14-2h0m-91 13h0m0 0h0m5-3h0m3 2h0m11 0h0m1-3h0m9 4h0m0-1h0m0-6h0m1 4h0m5-4h0m7 5h0m11 2h0m-71 4h0m6 1h0m14-4h0m3 4h0m4 1h0m12-4h0m1 2h0m3 3h0m14-2h0m5 3h0m2-3h0m3 0h0m5 3h0m16-4h0m-113 11h0m19 0h0m5 0h0m10-3h0m4 2h0m2 0h0m1-5h0m1 6h0m6-5h0m3 2h0m5 2h0m1-3h0m4-1h0m0 3h0m0 3h0m3-5h0m9 5h0m1-5h0m2 5h0m1-3h0m2 1h0m7 2h0m14-6h0m-98 11h0m15 0h0m3 1h0m3-4h0m0 5h0m9 0h0m7-2h0m3 2h0m3-3h0m6 4h0m1 0h0m0-4h0m0-2h0m6 1h0m2 0h0m4 0h0m3 4h0m4-5h0m1 1h0m1 3h0m1-5h0m1 6h0m3 0h0m16-5h0m3 6h0m-96 6h0m9-3h0m3 0h0m2 4h0m6-2h0m2 3h0m4-2h0m0-4h0m1 2h0m0 4h0m3-7h0m3 6h0m4-2h0m1 3h0m1-2h0m3-4h0m1 5h0m2-6h0m3 6h0m3-4h0m3-1h0m0-1h0m1 4h0m6-2h0m2 4h0m1-2h0m1-1h0m7-3h0m0 7h0m3-4h0m10-2h0m1 0h0m1-1h0m19 7h0m-110 6h0m6-5h0m2 7h0m4 0h0m0-2h0m2-1h0m1-3h0m4 4h0m8-2h0m0-3h0m2 0h0m1 6h0m5-6h0m2 1h0m0 3h0m2-3h0m6 2h0m8 4h0m1-5h0m1 0h0m1-2h0m1 0h0m9 0h0m1 3h0m2-2h0m1 4h0m0-2h0m1 1h0m1 2h0m3-6h0m0 3h0m0-2h0m0 2h0m8 2h0m12-1h0m-98 6h0m0 2h0m5 2h0m1 0h0m2 0h0m0-3h0m0 0h0m2 2h0m1-5h0m0 6h0m2 1h0m1-5h0m1 5h0m0-2h0m1-1h0m1 0h0m0 0h0m0 0h0m0 3h0m2-1h0m0-1h0m4 2h0m0 0h0m0 0h0m1-5h0m0 5h0m2-5h0m2 2h0m1-1h0m3-3h0m0 6h0m1-2h0m2-2h0m3 1h0m0 0h0m1 0h0m4 3h0m3-1h0m1 1h0m1 0h0m1 0h0m3-4h0m1 1h0m2-3h0m0 4h0m2-4h0m15 5h0m4-2h0m3-2h0m29 4h0m4-1h0m-116 4h0m1 4h0m1-4h0m1 1h0m0-1h0m1 6h0m0-3h0m1 2h0m1-2h0m2-3h0m0 0h0m1 2h0m4-1h0m2 2h0m1-3h0m4 2h0m1 3h0m2 0h0m3-2h0m0-3h0m1 1h0m2 0h0m3 0h0m0 6h0m2 0h0m0-6h0m3 0h0m1 1h0m0 5h0m1-7h0m0 2h0m1 5h0m0-1h0m0 0h0m0-6h0m3 3h0m0 2h0m0-2h0m1 0h0m1 2h0m3 0h0m2-5h0m2 1h0m1 0h0m0 6h0m2-3h0m2 1h0m0 2h0m3-6h0m3 3h0m6-3h0m3-1h0m0 0h0m0 4h0m5-2h0m7 4h0m1-6h0m2 0h0m-84 8h0m3 3h0m2 4h0m0-6h0m2 4h0m0 2h0m4 0h0m0-2h0m3-5h0m3 6h0m0 1h0m1-7h0m0 5h0m1 2h0m0 0h0m1-2h0m1 0h0m1 0h0m3-4h0m2 5h0m4 1h0m1-3h0m1-4h0m1 1h0m1 6h0m3-3h0m2 2h0m0 0h0m1-4h0m3-2h0m1 5h0m1-3h0m1-1h0m2 1h0m2-2h0m3 6h0m3 0h0m3 1h0m6-5h0m0 3h0m5-5h0m1 2h0m12-2h0m-87 12h0m2-4h0m1 2h0m1 4h0m1-3h0m1-3h0m1 5h0m3-3h0m5 5h0m1 0h0m1-7h0m3 2h0m0 0h0m2 3h0m0-1h0m2 1h0m0-4h0m2 4h0m0 2h0m1 0h0m0-1h0m0-4h0m2 0h0m3 1h0m1-3h0m0 7h0m1-4h0m1 3h0m0-6h0m1 1h0m2-1h0m0 7h0m3-7h0m1 0h0m2 0h0m2 0h0m1 4h0m3 3h0m4-3h0m5-4h0m7 2h0m5 5h0m-71 2h0m1 5h0m4-5h0m1 0h0m0 4h0m1-4h0m1 6h0m0-1h0m0-4h0m0 5h0m1-1h0m0-1h0m0-5h0m2 4h0m1 1h0m2-1h0m3-2h0m1 5h0m0-4h0m1-1h0m0-1h0m1 4h0m0 2h0m0-6h0m1-1h0m0 2h0m2 5h0m2-4h0m1 3h0m1-5h0m0 4h0m1 1h0m0 0h0m0-2h0m9 2h0m1-4h0m2 1h0m0 2h0m0-1h0m1 2h0m11-5h0m0 4h0m0 1h0m1-3h0m14-2h0m1 3h0m0 1h0m14-4h0m-82 10h0m0-2h0m1 6h0m2-6h0m0 0h0m1 6h0m0-2h0m1-1h0m0 1h0m2-5h0m5 3h0m1 3h0m1-5h0m0 2h0m2-1h0m0 4h0m0-5h0m1 2h0m0 1h0m1 3h0m1-5h0m4 0h0m2 2h0m1 1h0m6-1h0m3 0h0m4 2h0m2-3h0m2 1h0m2-1h0m5-3h0m13 6h0m7-2h0m-71 4h0m1 4h0m0-4h0m1 0h0m3 3h0m0-1h0m4 1h0m0-3h0m2 1h0m0 0h0m2-1h0m1 2h0m3-1h0m0 2h0m0-2h0m1-1h0m1 3h0m4-3h0m3 2h0m17-1h0m12 2h0m11-3h0" stroke="#3aa884" stroke-opacity="0.35" stroke-width="5.2" stroke-linecap="round" fill="none" transform="scale(.5)"/>
<path d="M631 213h0m-49 9h0m0-3h0m33 2h0m-34 8h0m17-2h0m7 4h0m13-2h0m-61 10h0m29-5h0m13 1h0m5 3h0m0-5h0m14 6h0m10-3h0m6-1h0m-67 12h0m18-1h0m1 0h0m2 0h0m10-5h0m-56 8h0m15 5h0m5 0h0m5-2h0m4 3h0m1-2h0m8 1h0m0 1h0m0-4h0m3-3h0m11 3h0m11 4h0m31-3h0m-109 9h0m4-4h0m16 4h0m5-4h0m8 0h0m0 5h0m8-6h0m1 5h0m6 2h0m4-5h0m7 3h0m3-2h0m0 4h0m1-4h0m3 2h0m0 2h0m2-5h0m3-2h0m20 5h0m1 2h0m2-6h0m-95 8h0m3 4h0m9-3h0m3 3h0m10-1h0m6-1h0m4 0h0m2 4h0m0-6h0m1 1h0m8 2h0m1 0h0m2-2h0m1-1h0m7 0h0m1 6h0m6-7h0m17 3h0m-101 7h0m14 3h0m2-1h0m2 2h0m1-4h0m4 3h0m3-4h0m1 0h0m1 1h0m0 1h0m2 3h0m1 0h0m1 0h0m7-6h0m2 2h0m0 2h0m2 1h0m2-4h0m1 5h0m10-1h0m0 0h0m1-2h0m3 3h0m2 0h0m1-4h0m4 4h0m0 1h0m0-4h0m2-1h0m1 3h0m2 1h0m3-5h0m0 2h0m1 0h0m8 3h0m18 1h0m12 0h0m-111 2h0m7 2h0m7-2h0m0 4h0m1-4h0m1 4h0m12-1h0m0 3h0m0-2h0m1 0h0m2-1h0m0-4h0m1 2h0m2 2h0m1 0h0m3 3h0m2-1h0m0 0h0m1 0h0m1-3h0m3 3h0m1-5h0m0-1h0m0 7h0m1-7h0m5 5h0m0-1h0m4-1h0m4-1h0m4 5h0m2-6h0m5 4h0m0-3h0m1 5h0m10-4h0m1-2h0m10-1h0m-98 11h0m2 4h0m1-6h0m1 6h0m3 0h0m1-4h0m4-3h0m2 6h0m9-6h0m1 3h0m0-3h0m1 1h0m2 2h0m2 4h0m2-6h0m1 2h0m1 0h0m3 4h0m0-3h0m0-1h0m1 3h0m3-1h0m1-2h0m1 2h0m0-2h0m4 0h0m0 2h0m1-3h0m3-2h0m1 5h0m2-2h0m3 2h0m2 1h0m2 0h0m0 1h0m1-6h0m2 6h0m4-3h0m2 2h0m1-6h0m8 4h0m2 1h0m4-1h0m-79 7h0m1 2h0m0 0h0m2 0h0m0 2h0m2-7h0m1 5h0m0 0h0m1-3h0m0 0h0m1 4h0m2-5h0m3 0h0m1 6h0m0-2h0m2 2h0m4-3h0m1 0h0m1 1h0m2-1h0m1 1h0m2 1h0m0-1h0m3-2h0m0 2h0m2-2h0m2 1h0m1 0h0m2 1h0m1 0h0m3 1h0m0-6h0m1 2h0m1 5h0m1-5h0m2 1h0m2 2h0m3 2h0m2-6h0m8 4h0m5-4h0m3 0h0m2 1h0m3 1h0m0-1h0m-81 10h0m2 0h0m0 1h0m2 0h0m0-1h0m2 3h0m1-6h0m1 6h0m4-1h0m1-2h0m0 2h0m1-3h0m2 4h0m0-2h0m1 1h0m1-5h0m0 1h0m3 3h0m0-3h0m0 3h0m1 2h0m0 0h0m0-2h0m2-3h0m4 5h0m0-2h0m3 1h0m1-1h0m0-1h0m2 0h0m0-3h0m3 3h0m0 1h0m4-3h0m3 3h0m5-2h0m1 4h0m3-7h0m4 4h0m1-4h0m0 0h0m1 1h0m2 5h0m3-2h0m0-4h0m1 3h0m3-1h0m4 0h0m-74 6h0m0 3h0m1-3h0m0 6h0m3-1h0m0-3h0m0 0h0m0 4h0m1-6h0m1 0h0m1 0h0m0 4h0m3 1h0m0 0h0m1-4h0m0 1h0m2-1h0m1-1h0m1 4h0m0-3h0m3 2h0m0 3h0m0 1h0m2-7h0m1 3h0m0-2h0m1 2h0m3-1h0m1-1h0m1 0h0m1 1h0m2-1h0m1 3h0m1 2h0m2-3h0m1-1h0m1 0h0m2 4h0m1-3h0m0-1h0m0 5h0m0 0h0m0-4h0m1-1h0m2-2h0m0 0h0m1 1h0m1 6h0m3-7h0m2 1h0m0-1h0m0 2h0m4 1h0m1-2h0m3 5h0m0-4h0m0-1h0m7-1h0m-62 10h0m2-2h0m1 4h0m0 3h0m1-7h0m0 0h0m2 4h0m1 3h0m2-6h0m1 4h0m1-3h0m1 3h0m1-2h0m0 2h0m1 2h0m3-4h0m0 4h0m2-4h0m3-2h0m1 1h0m1-1h0m1-1h0m2 1h0m1 2h0m5-3h0m0 4h0m0-4h0m1 1h0m1 2h0m3 2h0m1 2h0m1-1h0m1-6h0m-43 9h0m1 4h0m2 1h0m0 1h0m0-3h0m1-1h0m2 2h0m0-1h0m0-3h0m2 4h0m0 1h0m3-5h0m0 6h0m1-7h0m1 5h0m1-2h0m0-2h0m1 6h0m0-7h0m3 1h0m1 6h0m1-3h0m0-1h0m0-2h0m2 1h0m0 0h0m0-2h0m2 4h0m1 2h0m0 1h0m2 0h0m2 0h0m1-7h0m0 2h0m1 2h0m2-1h0m0 1h0m1-4h0m1 6h0m6-6h0m0 7h0m2-3h0m3-1h0m11-3h0m6 1h0m-63 9h0m1 1h0m2-1h0m0-2h0m0 1h0m1 0h0m1 2h0m0 0h0m1-2h0m13 0h0m3 0h0m4 0h0m5 1h0m0-2h0m3 3h0m7-2h0m0-1h0m1 2h0" stroke="#3aa884" stroke-opacity="0.35" stroke-width="5.2" stroke-linecap="round" fill="none" transform="scale(.5)"/>
<path d="M613 199h0m42-3h0m-21 19h0m3-4h0m47-1h0m-82 9h0m13 2h0m-62 9h0m39-6h0m5 6h0m7-1h0m-40 10h0m6-1h0m9-4h0m2 3h0m9-1h0m6 1h0m8 0h0m11-5h0m-51 14h0m3-2h0m15 0h0m7 2h0m2-5h0m5 0h0m2 2h0m3-3h0m0 3h0m0 1h0m18 0h0m31-1h0m-105 8h0m19 4h0m1-2h0m12-5h0m3 4h0m24 1h0m39-5h0m-136 11h0m14-1h0m30 0h0m1 5h0m20-1h0m2-1h0m2-4h0m9 1h0m4-2h0m1 1h0m2 1h0m2-1h0m3 3h0m2-3h0m10 4h0m-89 6h0m6 4h0m1 0h0m2-7h0m2 6h0m7-6h0m5 4h0m13 2h0m3-6h0m2 0h0m1 4h0m1 2h0m6-2h0m1 2h0m0 1h0m6-7h0m2 2h0m1-1h0m2 1h0m0-1h0m8 2h0m1-3h0m0 5h0m4-2h0m6 0h0m-81 9h0m4-4h0m0 4h0m8-3h0m2 1h0m3 4h0m1-2h0m0 2h0m2-5h0m8 5h0m7-6h0m0 1h0m2-1h0m1 2h0m2 2h0m0 0h0m2 2h0m0-2h0m3-2h0m3-1h0m2 1h0m0 3h0m3-4h0m0-1h0m0 6h0m4-2h0m1 3h0m0-6h0m2 3h0m1 3h0m0-7h0m0 5h0m3-4h0m3 2h0m9 4h0m12-3h0m-98 4h0m3 5h0m1-4h0m7 5h0m5-2h0m0 0h0m0 3h0m5-1h0m1-3h0m7 4h0m1-3h0m0-1h0m2 4h0m1-6h0m3 3h0m1-3h0m2 5h0m1-1h0m1-5h0m1 0h0m0 1h0m2 1h0m2-2h0m4 1h0m0 3h0m1 0h0m1-2h0m1 4h0m5-6h0m1 3h0m2 1h0m6 1h0m2-1h0m1-4h0m0 0h0m4 6h0m3 1h0m2 0h0m2-3h0m-84 11h0m6-7h0m0 1h0m4 4h0m1 2h0m3-2h0m1-4h0m0-1h0m1 5h0m1 2h0m0-5h0m1 5h0m2-6h0m2-1h0m1 1h0m0 4h0m1-4h0m2 0h0m4 5h0m1-2h0m0 1h0m0 1h0m1 1h0m2-3h0m0 1h0m4-4h0m0 1h0m3-1h0m1 5h0m1-3h0m2 4h0m2-5h0m0 0h0m1 0h0m0-1h0m3 2h0m0-3h0m5 1h0m1-1h0m2 3h0m6 1h0m1-3h0m1-1h0m1 7h0m9-6h0m10 1h0m1 4h0m5-4h0m-96 10h0m1 3h0m3-2h0m7-1h0m1 3h0m1 0h0m1-3h0m1-2h0m0 3h0m2 2h0m0-2h0m1-2h0m2 0h0m1 3h0m3-6h0m1 0h0m0 1h0m0 4h0m0-2h0m1 3h0m0-6h0m3 0h0m4 4h0m0 3h0m4-6h0m1 4h0m0-4h0m0 5h0m1-2h0m3 0h0m1 2h0m1-5h0m0 5h0m0 0h0m0-5h0m2 5h0m2-4h0m4 1h0m0 3h0m0-5h0m0 0h0m1 5h0m0-4h0m0 1h0m5-1h0m2 3h0m1-2h0m2-3h0m2 2h0m4 0h0m3 3h0m1-4h0m11 3h0m11-4h0m-93 14h0m1 0h0m1-5h0m3 5h0m0-6h0m1 7h0m0 0h0m1-2h0m0 2h0m1-5h0m2 4h0m0-4h0m0-1h0m3 2h0m2 4h0m1-2h0m1-3h0m0 5h0m0-1h0m1 1h0m0-3h0m0-2h0m3 2h0m0 2h0m0-1h0m0 2h0m1-6h0m1 2h0m1-1h0m2-1h0m0 2h0m1 4h0m4-2h0m2 1h0m1-4h0m0 3h0m2 0h0m2-2h0m5 4h0m0 0h0m2-5h0m1 4h0m2-5h0m2 1h0m2 0h0m3 3h0m3-3h0m0 2h0m9 2h0m2-6h0m3 7h0m4-6h0m-78 11h0m2 2h0m2 0h0m0-3h0m0 0h0m5 2h0m1-4h0m0 3h0m0-1h0m2-3h0m1 6h0m0 1h0m0-4h0m2-2h0m1 5h0m0-2h0m2-1h0m1 2h0m0-3h0m1 3h0m0-3h0m0 4h0m3-6h0m1 5h0m0 0h0m0-2h0m1-1h0m0-1h0m2 0h0m3 0h0m4 3h0m0-1h0m2 1h0m2-1h0m9 1h0m1 0h0m0 1h0m2 1h0m2-2h0m0 0h0m2 3h0m0-2h0m4-2h0m1 4h0m4-3h0m15 3h0m-81 2h0m1 2h0m3 1h0m0 2h0m2-5h0m4 2h0m0 1h0m1 3h0m0-6h0m0 1h0m0 5h0m2 0h0m2-4h0m0 0h0m1 1h0m2 2h0m0 1h0m3 0h0m1-5h0m3 4h0m1 0h0m1-6h0m1 7h0m0-6h0m0 1h0m1-2h0m1 0h0m8 7h0m1-5h0m1 3h0m1 1h0m8-5h0m2 1h0m0 4h0m1-6h0m2 4h0m-54 9h0m2-2h0m0 2h0m2-3h0m0 0h0m1-1h0m0 1h0m2-2h0m1 4h0m1 1h0m0-3h0m0 5h0m1 0h0m1-6h0m2 3h0m0-3h0m1 2h0m0-2h0m1 2h0m1 2h0m1 2h0m3 0h0m2 0h0m1-2h0m1-2h0m0-3h0m1 2h0m4-2h0m1 1h0m1 4h0m2-5h0m2 1h0m1 2h0m1 3h0m6 1h0m2-7h0m1 5h0m5-1h0m6 3h0m10-3h0m1 2h0m-67 3h0m1-1h0m8 0h0m4 0h0m1 3h0m1-2h0m1 0h0m0 2h0m2-3h0m7 3h0m20 0h0m1-3h0m1 1h0" stroke="#3aa884" stroke-opacity="0.35" stroke-width="5.2" stroke-linecap="round" fill="none" transform="scale(.5)"/>
<path d="M777 87h0m-70 61h0m40 1h0m-90 3h0m29 15h0m39-3h0m-82 11h0m34 5h0m13 7h0m-61 19h0m4 0h0m-18 3h0m2 13h0m-3 3h0m24 3h0m-17 10h0m9-4h0m-47 12h0m16-2h0m-26 9h0m6 2h0m10-5h0m36 4h0m-51 6h0m25 3h0m20-3h0m10-2h0m-56 7h0m22 4h0m2-3h0m-42 11h0m4-2h0m14 3h0m11 0h0m2-5h0m3 5h0m8-3h0m-57 5h0m18 4h0m3 12h0m-10 20h0m4 2h0m0-5h0" stroke="#3aa884" stroke-opacity="0.30" stroke-width="5.2" stroke-linecap="round" fill="none" transform="scale(.5)"/>
<path d="M822 50h0m-57 76h0m-75 9h0m19 10h0m1 6h0m21-3h0m-62 7h0m-9 11h0m17-2h0m4 3h0m-56 25h0m28 7h0m-14 13h0m11-3h0m4 1h0m4 11h0m-22 14h0m-57 7h0m14 5h0m21 7h0m1-2h0m24 0h0m-56 5h0m16 1h0m5 0h0m2 1h0m-35 10h0m11-3h0m10 3h0m-21 8h0m-1 3h0m8 4h0m-28 4h0m5 0h0m-4 22h0m4-1h0m7 5h0m-18 10h0" stroke="#3aa884" stroke-opacity="0.30" stroke-width="5.2" stroke-linecap="round" fill="none" transform="scale(.5)"/>
<path d="M758 132h0m-84 21h0m35 2h0m-15 5h0m19 5h0m-20 3h0m-2 11h0m2 3h0m-58 17h0m32 8h0m-19 2h0m33 2h0m-86 12h0m50-1h0m18-5h0m-1 7h0m-29 11h0m-34 10h0m12-4h0m2-1h0m-11 8h0m17 4h0m1-2h0m-32 10h0m3-2h0m47 3h0m-72 3h0m4 2h0m9-1h0m10 3h0m25-3h0m-52 11h0m12 4h0m17 0h0m-33 14h0m11 9h0m0 2h0m12-1h0m-13 21h0m9 1h0m-30 3h0" stroke="#3aa884" stroke-opacity="0.30" stroke-width="5.2" stroke-linecap="round" fill="none" transform="scale(.5)"/>
<path d="M734 125h0m-40 10h0m41-5h0m-18 10h0m-11 8h0m-17 17h0m-5 9h0m-52 7h0m51-2h0m23 1h0m-30 7h0m-31 7h0m16 5h0m-15 8h0m-2 6h0m-48 3h0m58 1h0m-53 7h0m25 6h0m24-3h0m-62 8h0m3 2h0m-15 6h0m2 2h0m43-5h0m-30 12h0m2 2h0m74-5h0m-88 13h0m15-1h0m15 2h0m-18 8h0m40 0h0m-90 4h0m75-3h0m-74 8h0m48 6h0m30-1h0m-41 4h0m-25 43h0m4-4h0" stroke="#3aa884" stroke-opacity="0.30" stroke-width="5.2" stroke-linecap="round" fill="none" transform="scale(.5)"/>
<path d="M743 105h0m31 1h0m-17 17h0m-60 43h0m-26 2h0m10 6h0m2-4h0m50-1h0m-33 12h0m-91 14h0m67-2h0m-29 8h0m-37 24h0m-29 12h0m20-3h0m29-2h0m21 7h0m-38 1h0m4 6h0m-9 3h0m-56 12h0m19-2h0m25-3h0m-15 22h0m3-1h0m4-5h0m6 5h0m2-5h0m-22 12h0m49 0h0m-50 7h0m0-1h0m-3 10h0m19-4h0m-41 27h0m4 3h0" stroke="#3aa884" stroke-opacity="0.30" stroke-width="5.2" stroke-linecap="round" fill="none" transform="scale(.5)"/>
<path d="M753 91h0m-7 15h0m-67 41h0m36 2h0m-40 16h0m6-3h0m-56 43h0m16 3h0m21 8h0m-61 10h0m17 4h0m-44 17h0m51 0h0m-53 8h0m4-1h0m32-1h0m22 1h0m-52 5h0m4 4h0m10-1h0m23-1h0m17 1h0m-51 8h0m-40 9h0m26-1h0m20-2h0m24-2h0m7-1h0m-74 7h0m1 15h0m57-2h0m5 2h0m-30 8h0m-6 8h0m-31 4h0m16 9h0m-8 6h0" stroke="#3aa884" stroke-opacity="0.30" stroke-width="5.2" stroke-linecap="round" fill="none" transform="scale(.5)"/>
<path d="M699 135h0m14 0h0m43-6h0m-29 29h0m-12 8h0m-62 12h0m26 0h0m17-2h0m-17 13h0m-59 6h0m14 6h0m11 0h0m21 3h0m-64 5h0m1 1h0m14 20h0m21-4h0m-28 8h0m40 0h0m-29 8h0m-57 12h0m11-2h0m32-3h0m-60 7h0m85 5h0m-72 6h0m11 0h0m-19 8h0m22 2h0m-14 8h0m23-2h0m-40 5h0m24 7h0m-20 23h0m-2 6h0m3 12h0" stroke="#3aa884" stroke-opacity="0.30" stroke-width="5.2" stroke-linecap="round" fill="none" transform="scale(.5)"/>
<path d="M794 82h0m-53 35h0m0-1h0m-58 31h0m10 17h0m-18 27h0m3 5h0m5-2h0m-10 10h0m22 3h0m-53 8h0m-46 4h0m19 0h0m10 3h0m12 0h0m8-5h0m-35 14h0m43-7h0m-59 11h0m24 1h0m12 2h0m1-1h0m-24 8h0m5-2h0m2 12h0m-24 3h0m47-1h0m-45 8h0m11 7h0m-54 14h0m7-3h0m4 2h0m-19 6h0m28-2h0m1 1h0m18-2h0m-24 14h0m47-5h0m-76 13h0m51-6h0m-13 14h0m-7 4h0m9 3h0" stroke="#3aa884" stroke-opacity="0.30" stroke-width="5.2" stroke-linecap="round" fill="none" transform="scale(.5)"/>
<path d="M778 78h0m-3 22h0m-33 13h0m27 10h0m-107 33h0m32-1h0m50 0h0m-1 8h0m10 4h0m-61 30h0m2-4h0m-49 18h0m35 0h0m-51 12h0m-9 5h0m-34 10h0m25-6h0m21 5h0m5 1h0m-48 2h0m-37 8h0m37 7h0m8 0h0m-39 10h0m15 4h0m15-1h0m6 1h0m15-2h0m1 0h0m-55 12h0m36-2h0m24 1h0m-26 9h0m-29 7h0m4-3h0m8-2h0m4 2h0m-5 5h0m2 10h0m-38 20h0" stroke="#3aa884" stroke-opacity="0.30" stroke-width="5.2" stroke-linecap="round" fill="none" transform="scale(.5)"/>
<path d="M812 44h0m-104 105h0m9 5h0m-47 21h0m-11 6h0m15-1h0m4 4h0m-43 9h0m-6 9h0m54 18h0m-84 4h0m27 2h0m-23 13h0m-55 6h0m10 1h0m44-3h0m5 1h0m8-2h0m6-1h0m2 0h0m15 3h0m3 2h0m-52 4h0m10 4h0m21 0h0m26-5h0m-71 13h0m29-1h0m3-3h0m-40 9h0m11-2h0m24 0h0m-17 8h0m1 0h0m8 0h0m-29 8h0m4 12h0m11 2h0m43-3h0m5-3h0m-80 29h0m3-5h0m-1 13h0" stroke="#3aa884" stroke-opacity="0.30" stroke-width="5.2" stroke-linecap="round" fill="none" transform="scale(.5)"/>
<path d="M781 28h0m3 8h0m-63 50h0m13 3h0m-102 32h0m20 14h0m85 4h0m-98 21h0m58 4h0m-45 11h0m-52 3h0m44 3h0m61-4h0m-75 8h0m34 1h0m46-1h0m-78 20h0m-70 3h0m10 19h0m13 1h0m22 0h0m15 0h0m-65 7h0m10 12h0m4-5h0m-51 21h0m11 1h0m-18 16h0m19 6h0m13-6h0m15 36h0m-35 20h0" stroke="#8c9096" stroke-opacity="0.28" stroke-width="5.2" stroke-linecap="round" fill="none" transform="scale(.5)"/>
<path d="M791 77h0m-67 11h0m-11 13h0m46-3h0m-36 29h0m13-7h0m-91 11h0m58 11h0m-37 7h0m13 3h0m-27 15h0m-2 10h0m-7 8h0m-26 10h0m19-1h0m33 2h0m-84 13h0m2 14h0m-26 8h0m2-2h0m43 0h0m-61 15h0m4 2h0m16-6h0m32 4h0m-69 5h0m18 6h0m38 1h0m-26 9h0m-13 16h0m39 0h0m4 14h0m14 16h0m-36 11h0" stroke="#8c9096" stroke-opacity="0.28" stroke-width="5.2" stroke-linecap="round" fill="none" transform="scale(.5)"/>
<path d="M832 24h0m-89 67h0m48 3h0m-70 3h0m57 0h0m-54 54h0m1 2h0m-40 15h0m-41 11h0m-70 16h0m-4 8h0m71-2h0m8 1h0m-18 9h0m9 1h0m43 3h0m-100 1h0m32 8h0m-72 15h0m5 0h0m31-7h0m56 0h0m-90 8h0m-37 15h0m80-4h0m32 3h0m4-3h0m-87 6h0m-10 13h0m1 12h0m61 32h0" stroke="#8c9096" stroke-opacity="0.28" stroke-width="5.2" stroke-linecap="round" fill="none" transform="scale(.5)"/>
<path d="M773 60h0m-3 26h0m3 5h0m-77 22h0m-47 18h0m57 2h0m22 1h0m-54 26h0m-48 30h0m-10 10h0m-42 36h0m2-4h0m1 1h0m1 1h0m1 0h0m-61 12h0m18-3h0m-13 20h0m63 3h0m-82 10h0m62-3h0m-29 8h0m84-1h0m-91 13h0m8-4h0" stroke="#8c9096" stroke-opacity="0.28" stroke-width="5.2" stroke-linecap="round" fill="none" transform="scale(.5)"/>
<path d="M639 151h0m-7 32h0m-2 8h0m-50 14h0m-65 5h0m70-2h0m5 5h0m-48 10h0m30-7h0m65 7h0m-91 5h0m13-3h0m17 20h0m-69 3h0m84 14h0m0-5h0m19 1h0m-105 21h0m6-6h0m33 6h0m2-2h0m67-1h0m-107 21h0m85 4h0m-24 25h0" stroke="#8c9096" stroke-opacity="0.28" stroke-width="5.2" stroke-linecap="round" fill="none" transform="scale(.5)"/>
<path d="M798 44h0m-26 22h0m6 18h0m-113 53h0m61 24h0m-90 14h0m9 1h0m-51 18h0m33 4h0m-53 16h0m70 1h0m-74 4h0m0-1h0m22 1h0m8-3h0m-7 14h0m24-2h0m-81 17h0m57-5h0m-52 33h0m-28 17h0m18 35h0m18 7h0m-18 7h0" stroke="#8c9096" stroke-opacity="0.28" stroke-width="5.2" stroke-linecap="round" fill="none" transform="scale(.5)"/>
<path d="M738 81h0m-39 10h0m-32 24h0m104 16h0m-116 14h0m46 4h0m25-1h0m-97 16h0m21 8h0m-18 10h0m6-6h0m17 7h0m-37 1h0m-9 37h0m10 1h0m-11 3h0m26 11h0m-12 9h0m-81 10h0m9 3h0m-21 7h0m19-1h0m11 10h0m-34 24h0m51 13h0" stroke="#8c9096" stroke-opacity="0.28" stroke-width="5.2" stroke-linecap="round" fill="none" transform="scale(.5)"/>
<path d="M809 58h0m-104 43h0m23 9h0m37 3h0m-145 52h0m43 10h0m-6 17h0m14 5h0m-71 3h0m-34 10h0m44-1h0m-32 14h0m7-6h0m27 4h0m-17 15h0m-32 10h0m49-3h0m-78 12h0m26 1h0m15 1h0m-56 21h0m51 1h0m-67 4h0m11 1h0m1 9h0m3 10h0" stroke="#8c9096" stroke-opacity="0.28" stroke-width="5.2" stroke-linecap="round" fill="none" transform="scale(.5)"/>
<path d="M693 139h0m-53 20h0m43-4h0m-34 6h0m-51 19h0m7 1h0m-35 17h0m6-4h0m95 2h0m-63 9h0m25 2h0m-69 5h0m36 6h0m6 13h0m-57 2h0m98 12h0m-111 9h0m7-4h0m25 6h0m17 4h0m18-4h0m17 7h0m-108 1h0m68 0h0m5 12h0m-26 10h0m-17 5h0" stroke="#8c9096" stroke-opacity="0.28" stroke-width="5.2" stroke-linecap="round" fill="none" transform="scale(.5)"/>
<path d="M770 50h0m-42 57h0m-6 7h0m-77 15h0m-30 45h0m58 0h0m-73 9h0m36-5h0m-9 9h0m4 1h0m-56 16h0m66-2h0m-5 9h0m-62 7h0m62 2h0m-105 8h0m42-1h0m-62 9h0m39-3h0m29 5h0m-48 11h0m19 1h0m13 5h0m18-5h0m-27 10h0m57-4h0m-50 13h0m-30 12h0m-23 15h0m4 0h0m53 5h0" stroke="#8c9096" stroke-opacity="0.28" stroke-width="5.2" stroke-linecap="round" fill="none" transform="scale(.5)"/>
</g>
<line x1="254.60" y1="165.60" x2="420.30" y2="15.10" stroke="#a2a2a2" stroke-width="1.0"/>
<path d="M254.15 15.10H420.30V165.60H254.15" fill="none" stroke="#262626" stroke-width="0.9"/>
<path d="M254.95 14.65V166.05" fill="none" stroke="#2a2a2a" stroke-width="0.95"/>
<path d="M254.60 165.60v3M254.60 165.60h-3M278.27 165.60v3M254.60 144.10h-3M301.94 165.60v3M254.60 122.60h-3M325.61 165.60v3M254.60 101.10h-3M349.29 165.60v3M254.60 79.60h-3M372.96 165.60v3M254.60 58.10h-3M396.63 165.60v3M254.60 36.60h-3M420.30 165.60v3M254.60 15.10h-3" stroke="#262626" stroke-width="0.9" fill="none"/>
<text x="255.20" y="179.00" font-size="10.4" text-anchor="middle" fill="#111">5</text>
<text x="249.70" y="170.00" font-size="10.4" text-anchor="end" fill="#111">5</text>
<text x="278.87" y="179.00" font-size="10.4" text-anchor="middle" fill="#111">6</text>
<text x="249.70" y="148.50" font-size="10.4" text-anchor="end" fill="#111">6</text>
<text x="302.54" y="179.00" font-size="10.4" text-anchor="middle" fill="#111">7</text>
<text x="249.70" y="127.00" font-size="10.4" text-anchor="end" fill="#111">7</text>
<text x="326.21" y="179.00" font-size="10.4" text-anchor="middle" fill="#111">8</text>
<text x="249.70" y="105.50" font-size="10.4" text-anchor="end" fill="#111">8</text>
<text x="349.89" y="179.00" font-size="10.4" text-anchor="middle" fill="#111">9</text>
<text x="249.70" y="84.00" font-size="10.4" text-anchor="end" fill="#111">9</text>
<text x="373.56" y="179.00" font-size="10.4" text-anchor="middle" fill="#111">10</text>
<text x="249.70" y="62.50" font-size="10.4" text-anchor="end" fill="#111">10</text>
<text x="397.23" y="179.00" font-size="10.4" text-anchor="middle" fill="#111">11</text>
<text x="249.70" y="41.00" font-size="10.4" text-anchor="end" fill="#111">11</text>
<text x="420.90" y="179.00" font-size="10.4" text-anchor="middle" fill="#111">12</text>
<text x="249.70" y="19.50" font-size="10.4" text-anchor="end" fill="#111">12</text>
<text x="338.15" y="9.50" font-size="12.5" text-anchor="middle" fill="#111">GD (GDP)</text>
<text x="337.45" y="190.70" font-size="12.5" text-anchor="middle" fill="#111">ln(Truth)</text>
<text x="263.60" y="31.50" font-size="12.2" font-weight="bold" fill="#111">(b)</text>
<text x="414.10" y="142.60" font-size="12.5" text-anchor="end" fill="#111">R<tspan font-size="8.7" dy="-4.6">2</tspan><tspan dy="4.6">=0.91</tspan></text>
<text x="414.10" y="157.80" font-size="12.5" text-anchor="end" fill="#111">R<tspan font-size="8.7" dy="-4.6">2</tspan><tspan font-size="8.7" font-style="italic" dx="-4.6" dy="7.4">l</tspan><tspan dx="2.7" dy="-2.8">=0.85</tspan></text>
<g fill="#62bc9c" stroke="#3a8a6e" stroke-width="0.4"><rect x="426.50" y="160.35" width="33.00" height="5.25"/><rect x="426.50" y="155.09" width="32.01" height="5.25"/><rect x="426.50" y="149.84" width="28.05" height="5.25"/><rect x="426.50" y="144.58" width="25.08" height="5.25"/><rect x="426.50" y="139.33" width="20.79" height="5.25"/><rect x="426.50" y="134.07" width="18.15" height="5.25"/><rect x="426.50" y="128.82" width="14.85" height="5.25"/><rect x="426.50" y="123.56" width="12.54" height="5.25"/><rect x="426.50" y="118.31" width="10.23" height="5.25"/><rect x="426.50" y="113.05" width="7.92" height="5.25"/><rect x="426.50" y="107.80" width="6.60" height="5.25"/><rect x="426.50" y="102.54" width="5.28" height="5.25"/><rect x="426.50" y="97.29" width="4.29" height="5.25"/><rect x="426.50" y="92.04" width="3.63" height="5.25"/><rect x="426.50" y="86.78" width="3.01" height="5.25"/><rect x="426.50" y="81.53" width="2.50" height="5.25"/><rect x="426.50" y="76.27" width="2.08" height="5.25"/><rect x="426.50" y="71.02" width="1.72" height="5.25"/><rect x="426.50" y="65.76" width="1.43" height="5.25"/><rect x="426.50" y="60.51" width="1.19" height="5.25"/><rect x="426.50" y="55.25" width="0.99" height="5.25"/><rect x="426.50" y="50.00" width="0.82" height="5.25"/><rect x="426.50" y="44.74" width="0.68" height="5.25"/><rect x="426.50" y="39.49" width="0.56" height="5.25"/><rect x="426.50" y="34.24" width="0.47" height="5.25"/><rect x="426.50" y="28.98" width="0.39" height="5.25"/><rect x="426.50" y="23.73" width="0.32" height="5.25"/></g>
<g fill="none" stroke="#2a2a2a" stroke-width="0.42"><rect x="426.50" y="160.35" width="33.00" height="5.25"/><rect x="426.50" y="155.09" width="33.00" height="5.25"/><rect x="426.50" y="149.84" width="27.72" height="5.25"/><rect x="426.50" y="144.58" width="25.08" height="5.25"/><rect x="426.50" y="139.33" width="21.45" height="5.25"/><rect x="426.50" y="134.07" width="18.48" height="5.25"/><rect x="426.50" y="128.82" width="15.51" height="5.25"/><rect x="426.50" y="123.56" width="12.54" height="5.25"/><rect x="426.50" y="118.31" width="10.23" height="5.25"/><rect x="426.50" y="113.05" width="8.58" height="5.25"/><rect x="426.50" y="107.80" width="6.93" height="5.25"/><rect x="426.50" y="102.54" width="5.94" height="5.25"/><rect x="426.50" y="97.29" width="4.95" height="5.25"/><rect x="426.50" y="92.04" width="4.29" height="5.25"/><rect x="426.50" y="86.78" width="3.63" height="5.25"/><rect x="426.50" y="81.53" width="2.97" height="5.25"/><rect x="426.50" y="76.27" width="2.48" height="5.25"/><rect x="426.50" y="71.02" width="1.98" height="5.25"/><rect x="426.50" y="65.76" width="1.65" height="5.25"/><rect x="426.50" y="60.51" width="1.32" height="5.25"/><rect x="426.50" y="55.25" width="1.09" height="5.25"/><rect x="426.50" y="50.00" width="0.89" height="5.25"/><rect x="426.50" y="44.74" width="0.73" height="5.25"/><rect x="426.50" y="39.49" width="0.59" height="5.25"/><rect x="426.50" y="34.24" width="0.46" height="5.25"/><rect x="426.50" y="28.98" width="0.38" height="5.25"/><rect x="426.50" y="23.73" width="0.32" height="5.25"/></g>
<rect x="426.50" y="15.10" width="33.00" height="150.50" fill="none" stroke="#262626" stroke-width="0.9"/>
<clipPath id="c2"><rect x="479.60" y="15.10" width="165.70" height="150.50"/></clipPath>
<g clip-path="url(#c2)">
<polygon points="455.9,151.0 669.0,-31.7 669.0,48.7 455.9,231.4" fill="#eaf1e3"/>
<line x1="455.93" y1="191.16" x2="645.30" y2="28.80" stroke="#86b85a" stroke-width="1.10" stroke-dasharray="4.2,2.3"/>
<path d="M1054 207h0m-13 2h0m16 3h0m6 2h0m36-1h0m-77 5h0m10-2h0m7 2h0m6-1h0m-22 7h0m4 2h0m13 4h0m4-1h0m3 0h0m6-4h0m1 2h0m40 0h0m0 3h0m-86 3h0m2 6h0m18-6h0m15 4h0m2-1h0m4 0h0m-87 5h0m8 5h0m33-6h0m1 6h0m3-1h0m0-2h0m9-1h0m0 0h0m15-1h0m13 0h0m5 3h0m1-1h0m-84 12h0m28-5h0m5 5h0m10-3h0m4-2h0m0-1h0m1 0h0m2 3h0m1-1h0m12-2h0m1 4h0m3 2h0m6-7h0m1 1h0m5 5h0m3-4h0m3 0h0m7 3h0m4-2h0m-82 6h0m3 0h0m3 0h0m0 3h0m1 3h0m2-7h0m1 1h0m3 1h0m2-1h0m8 3h0m3 3h0m3-6h0m6 4h0m2-2h0m1-2h0m2-1h0m6 3h0m2 4h0m8-2h0m1-3h0m9 2h0m15 0h0m-94 5h0m2 2h0m0-1h0m6 4h0m4-4h0m1-2h0m3 1h0m5 3h0m0 1h0m5-1h0m0 0h0m1 1h0m0-5h0m2 7h0m2-7h0m8 7h0m4-7h0m2 7h0m4 0h0m0-4h0m0-2h0m3 3h0m3 1h0m3-4h0m4 5h0m0-1h0m5 1h0m11-4h0m5-2h0m-97 15h0m1-7h0m2 3h0m1 1h0m2 3h0m1 0h0m2-1h0m0-3h0m1 3h0m3-1h0m8 2h0m10-3h0m0-3h0m5-1h0m1 6h0m1 1h0m4-6h0m1 5h0m0-4h0m4 0h0m1 4h0m0 0h0m3-3h0m1 2h0m1-4h0m0-1h0m4 0h0m0 1h0m1 3h0m0 1h0m1-5h0m1 4h0m0 2h0m1 0h0m6-3h0m2 3h0m2-1h0m2-4h0m10 3h0m10-3h0m3 5h0m-94 6h0m0 1h0m0-5h0m4 4h0m1-2h0m0 3h0m1 1h0m1-1h0m5 1h0m1-6h0m1 2h0m0 2h0m0-3h0m0 4h0m1 2h0m1 0h0m1-5h0m2 3h0m2 0h0m1-2h0m0 3h0m2-1h0m0 1h0m3 0h0m0-6h0m0 3h0m2-3h0m3 3h0m0 0h0m2-3h0m3 5h0m2-1h0m0-3h0m0 1h0m0 2h0m2-2h0m1 0h0m2 3h0m2-4h0m1 1h0m0 3h0m0 2h0m1-4h0m3 4h0m2-2h0m5-4h0m0 1h0m3 4h0m0-6h0m3 2h0m6-1h0m0 4h0m1-2h0m0 4h0m1-4h0m6-1h0m5 3h0m6-1h0m10 0h0m-103 8h0m0-1h0m2-1h0m1 5h0m1-2h0m1 0h0m4 0h0m0 0h0m5 0h0m1-1h0m1-3h0m3 4h0m0-1h0m0-4h0m1 4h0m0 1h0m1 2h0m3-6h0m2 6h0m3-6h0m1 2h0m1-2h0m0 5h0m1-1h0m1-1h0m7-4h0m0 5h0m1 1h0m2 1h0m1-2h0m1 1h0m0-4h0m1 1h0m3 0h0m2 1h0m1-3h0m2 0h0m1 1h0m0-2h0m3 2h0m10 3h0m4-5h0m2 6h0m6-4h0m3 4h0m-84 8h0m1 1h0m2-7h0m0 6h0m2-2h0m1 3h0m2-4h0m1-3h0m0 1h0m1 3h0m1 0h0m2-3h0m0 5h0m1-2h0m0-3h0m1 2h0m0 4h0m3 0h0m0 0h0m2-5h0m0 1h0m0-2h0m2 1h0m0 0h0m1 0h0m1 2h0m0 0h0m0-1h0m1 2h0m1-2h0m2 1h0m1 0h0m2-3h0m2 6h0m0 0h0m1-7h0m1 1h0m1 3h0m1-4h0m0 2h0m0 5h0m2-5h0m0 4h0m1-2h0m0-1h0m1 4h0m2-2h0m1-2h0m1 0h0m1-3h0m2 1h0m1 2h0m2-2h0m0 6h0m1-4h0m1 4h0m4-6h0m9 4h0m1-1h0m1-4h0m2 5h0m3-4h0m1 2h0m3 1h0m6 0h0m8-3h0m7 2h0m-97 9h0m0 3h0m4-5h0m1 1h0m0 4h0m0 0h0m1-4h0m0-1h0m0 3h0m0 0h0m1 2h0m0-2h0m2-5h0m5 6h0m3-1h0m0 1h0m1-4h0m1 4h0m1 1h0m4 0h0m0-4h0m1-2h0m0 0h0m1 5h0m1-3h0m1 4h0m0-1h0m0-6h0m1 2h0m1-2h0m0 2h0m2 0h0m1 5h0m0-6h0m2 2h0m0 1h0m1-4h0m1 0h0m0 5h0m0 1h0m1-4h0m1-2h0m1 5h0m3-4h0m1 5h0m0-3h0m1 1h0m1 3h0m1-6h0m2 2h0m4 2h0m1-2h0m1 0h0m2-3h0m2 0h0m3 3h0m5-3h0m2 4h0m8-1h0m-78 11h0m1 0h0m2 0h0m0-6h0m2 6h0m1-5h0m2 3h0m2-2h0m1 5h0m1-1h0m1-6h0m1 4h0m1 3h0m0-1h0m1-3h0m2 2h0m0 2h0m1-4h0m0 0h0m0 2h0m2-5h0m2 2h0m1 3h0m1-5h0m1 7h0m1-3h0m1 1h0m1-1h0m1-2h0m3 5h0m2-1h0m0-6h0m2 7h0m2 0h0m1-3h0m2 3h0m0 0h0m2-3h0m0 3h0m4-2h0m0-2h0m3-3h0m0 1h0m7 3h0m2-1h0m3-3h0m0 3h0m6-2h0m3 3h0m2-1h0m0-2h0m-74 13h0m0-4h0m0 2h0m0 0h0m2-1h0m1 4h0m0-3h0m1-3h0m1 0h0m4 4h0m1-5h0m1 1h0m0 4h0m1 2h0m4-2h0m1-4h0m0 1h0m0 0h0m1 4h0m2-6h0m1 3h0m0 2h0m1-3h0m1 3h0m0-5h0m0 1h0m1 6h0m1-1h0m1-5h0m0-1h0m0 0h0m0 0h0m1 1h0m2 3h0m0 2h0m1-3h0m3 0h0m3 0h0m1-2h0m0 3h0m2 1h0m1-2h0m1-3h0m0 6h0m3-5h0m5 5h0m6 1h0m-55 6h0m2-4h0m0 5h0m1-3h0m1-1h0m1 2h0m0-4h0m3 0h0m1 0h0m1 7h0m2-3h0m0-3h0m3 6h0m0-1h0m2-4h0m0 1h0m4-1h0m2 0h0m2 4h0m0-1h0m1-1h0m2 0h0m1-4h0m0 4h0m5-2h0m3 5h0m7-6h0m0 0h0m5 4h0m2 2h0m6-1h0m-57 2h0m3 3h0m8 1h0m2-1h0m1 0h0m1-2h0m6 1h0m2 0h0m3-2h0m1 2h0m8 1h0m11-2h0" stroke="#8cc25c" stroke-opacity="0.36" stroke-width="5.2" stroke-linecap="round" fill="none" transform="scale(.5)"/>
<path d="M1018 206h0m16 1h0m-1 6h0m7 1h0m27 1h0m-82 2h0m105 4h0m-77 8h0m25 1h0m3-2h0m3 1h0m5-5h0m-63 14h0m20-5h0m2 2h0m4-1h0m29 4h0m0-1h0m4-4h0m5 4h0m25-1h0m1 0h0m11 2h0m-96 6h0m9-4h0m0 0h0m3 5h0m0-3h0m2-2h0m3 5h0m11-5h0m2 6h0m2-3h0m9 4h0m1-1h0m12-6h0m-74 15h0m7 0h0m4-4h0m8 4h0m3-6h0m0 6h0m1-7h0m13 0h0m2 7h0m2-1h0m9 0h0m5 0h0m12-1h0m3 0h0m4 1h0m39-2h0m-124 4h0m0 4h0m10-1h0m15 4h0m6-1h0m2-2h0m11-4h0m2 6h0m1 0h0m12-1h0m3-4h0m9 0h0m2 2h0m4 2h0m4-4h0m28-1h0m0 5h0m24-2h0m-125 11h0m4-3h0m10-2h0m2 0h0m1 1h0m3 1h0m4 1h0m0-1h0m2 4h0m7-3h0m1-2h0m1-1h0m2 0h0m3 5h0m3-6h0m2 1h0m1 3h0m0-3h0m2 2h0m7 3h0m0-3h0m1 0h0m5 4h0m3-3h0m3 0h0m0 2h0m3-4h0m4 0h0m3-2h0m5 2h0m2 3h0m1-1h0m-91 8h0m10 0h0m1 2h0m0-3h0m1-1h0m3 4h0m0 1h0m1 0h0m0-1h0m1-5h0m0 2h0m0 2h0m2-2h0m4 4h0m1 0h0m0-5h0m2 5h0m1-2h0m2-4h0m0 2h0m3 4h0m5-2h0m1-2h0m1 1h0m2-2h0m3-2h0m1 7h0m4-7h0m0 1h0m6 2h0m3 4h0m1 0h0m3-4h0m1 2h0m1 2h0m2-7h0m2 0h0m11 7h0m1-3h0m-91 7h0m6 4h0m1 0h0m1-7h0m1 7h0m2-4h0m2 0h0m3 4h0m4-4h0m0 4h0m4-2h0m3-2h0m5-2h0m1 3h0m0-4h0m5 5h0m4 0h0m4-1h0m2-3h0m1 4h0m1 2h0m1-2h0m2 0h0m1-4h0m1 1h0m1 2h0m2 1h0m0 2h0m0-4h0m2-1h0m3 2h0m1-3h0m0 6h0m1-5h0m7 5h0m1-5h0m5 2h0m1-3h0m9 2h0m2 1h0m2 0h0m25-2h0m-113 11h0m3-5h0m1 6h0m5-1h0m1-2h0m3-1h0m1 2h0m1 1h0m1 2h0m0-4h0m1 1h0m1-1h0m2 3h0m0-5h0m0 2h0m2 2h0m3-1h0m2-2h0m0 4h0m1-4h0m1 1h0m2 2h0m2 0h0m2-4h0m0 4h0m0-3h0m2-2h0m1 7h0m1-6h0m1 5h0m2-2h0m3-3h0m2 6h0m1-3h0m8 1h0m3 2h0m6-6h0m1 3h0m1 2h0m6-6h0m2 4h0m3-3h0m-80 8h0m3 6h0m1-6h0m2 3h0m0 2h0m0-5h0m3 6h0m2-7h0m0 4h0m1 1h0m1-2h0m2 2h0m0-1h0m0-2h0m5 4h0m2 1h0m1-1h0m1-3h0m0 2h0m0-2h0m0 1h0m1 3h0m1 0h0m2 0h0m0-1h0m0-6h0m1 3h0m2-3h0m2 0h0m1 3h0m3-1h0m1 4h0m1-6h0m1 3h0m1-2h0m0 4h0m5-2h0m4 0h0m0-2h0m1 4h0m1 0h0m0 0h0m1-4h0m2 0h0m0 3h0m2 3h0m1 0h0m0-7h0m0 4h0m17-4h0m7 1h0m-82 9h0m0-2h0m2 5h0m2-4h0m0 4h0m2-3h0m1 0h0m0 0h0m3-1h0m0 4h0m1-3h0m1 3h0m2-2h0m0 4h0m0-7h0m1 5h0m1 0h0m3 2h0m3 0h0m0-4h0m1-2h0m2 1h0m0 1h0m3 1h0m1-1h0m0-3h0m2 3h0m1-2h0m0 3h0m2-4h0m0 5h0m2-2h0m0 2h0m0-2h0m1 0h0m1 2h0m1-3h0m0 5h0m2-2h0m0 0h0m0 1h0m0 1h0m3-4h0m3-3h0m2 3h0m0-2h0m0 0h0m1-1h0m1 3h0m2 3h0m3-5h0m1 2h0m0 4h0m1-1h0m0-2h0m1-3h0m2 5h0m3-2h0m1-2h0m9 2h0m-76 5h0m1 5h0m0-3h0m0 0h0m0 1h0m1-1h0m3 1h0m0 0h0m1-1h0m2-2h0m1 5h0m1-1h0m1 2h0m0-1h0m1-4h0m0 3h0m5 2h0m0-4h0m0 2h0m2-2h0m0 4h0m1-7h0m1 2h0m1 2h0m1-4h0m1 7h0m1-5h0m2 1h0m0 2h0m0 1h0m0-4h0m1 5h0m1-4h0m0 2h0m1-2h0m3 2h0m2-2h0m0 2h0m1 1h0m0-1h0m0 2h0m2-5h0m0 1h0m0 3h0m1-1h0m2-3h0m5-2h0m0 5h0m3-2h0m1-3h0m13 7h0m1-7h0m20 1h0m2 0h0m-83 8h0m2 5h0m0-1h0m2 2h0m2-5h0m0 4h0m0-2h0m0-1h0m1 2h0m0-2h0m1-1h0m1 4h0m1-6h0m1 0h0m0 7h0m0-7h0m2 3h0m0-2h0m4 5h0m0 0h0m1-2h0m0-2h0m1 3h0m1-5h0m0 5h0m0-3h0m1-1h0m0 1h0m2 0h0m0 4h0m1-4h0m2 5h0m0-6h0m1 1h0m2 5h0m1-6h0m1 6h0m2-7h0m5 0h0m2 2h0m0-2h0m1 3h0m9 4h0m14-1h0m2-3h0m-69 11h0m1-2h0m0 1h0m0-4h0m1 6h0m1 0h0m0 0h0m6-3h0m0-3h0m2 5h0m1-1h0m1 0h0m0-2h0m1 4h0m0-6h0m2 0h0m0-1h0m4 6h0m1-6h0m1 0h0m1 0h0m2 4h0m1 1h0m0 1h0m1-4h0m1 0h0m1-1h0m1 0h0m7 6h0m0-7h0m2 7h0m3-7h0m0 0h0m-40 12h0m0-4h0m1 2h0m1 1h0m1-2h0m2 2h0m1-1h0m2-2h0m4 1h0m1 0h0m2 0h0m14 1h0m1 0h0m2-1h0" stroke="#8cc25c" stroke-opacity="0.36" stroke-width="5.2" stroke-linecap="round" fill="none" transform="scale(.5)"/>
<path d="M1097 196h0m-50 14h0m14 5h0m8 0h0m-15 6h0m-68 5h0m21-1h0m7 1h0m14-1h0m6 3h0m11 3h0m2-5h0m22 0h0m1 5h0m-88 8h0m8-2h0m18 0h0m15 1h0m0-4h0m4 2h0m6 3h0m12-2h0m1 2h0m1-6h0m3 6h0m-27 6h0m3 0h0m0-4h0m4 1h0m3 2h0m4 3h0m5 0h0m0 0h0m45-3h0m-119 9h0m14 2h0m6-1h0m2-5h0m8-1h0m3 1h0m1-1h0m0 2h0m4-2h0m3 7h0m2-3h0m1 1h0m11-1h0m1-1h0m1 2h0m9-1h0m4 1h0m5-1h0m2-4h0m5 0h0m16 2h0m-105 9h0m9 0h0m2 1h0m7-3h0m2 2h0m2-1h0m5 4h0m3 0h0m1-5h0m2 5h0m1 0h0m0-5h0m2-1h0m1 5h0m2-1h0m2-1h0m0 3h0m1-1h0m7-4h0m1-1h0m1 1h0m2-1h0m6 3h0m7 1h0m1 2h0m1-1h0m1-3h0m5 4h0m9-1h0m0-2h0m2 2h0m3-3h0m7 4h0m4-5h0m-107 14h0m15-2h0m0-2h0m15-2h0m1 1h0m0 2h0m1 0h0m0-1h0m1 2h0m0 0h0m1 0h0m1 1h0m12-6h0m2 1h0m1 0h0m1-1h0m2 0h0m0 4h0m2-2h0m0 2h0m3-1h0m1-1h0m4 2h0m0 0h0m5-1h0m1-3h0m3 6h0m0 1h0m10-3h0m0 1h0m16 1h0m3-4h0m1 2h0m1 3h0m4-5h0m-100 6h0m6 4h0m4 3h0m2-6h0m3 6h0m5-6h0m3 1h0m0 3h0m1 1h0m2-2h0m2 0h0m5-1h0m3 3h0m1 1h0m0-4h0m2-1h0m2 3h0m1-1h0m2 2h0m1 0h0m3 0h0m1-1h0m2-3h0m0 3h0m1-2h0m1 4h0m1-2h0m1-5h0m0 4h0m0-3h0m8 5h0m17 1h0m-80 5h0m4 3h0m8-4h0m1-1h0m0 2h0m1-3h0m0 5h0m1 0h0m3-4h0m1 5h0m2-6h0m3 2h0m3 2h0m1 2h0m1 0h0m0-7h0m2 0h0m0 7h0m0-2h0m1-4h0m0 1h0m0 3h0m1-4h0m0-1h0m4 2h0m0 3h0m1-3h0m0-2h0m0 7h0m2-7h0m1 3h0m6-1h0m2 0h0m2-1h0m0 0h0m1 0h0m0 1h0m6 0h0m0 4h0m1-1h0m1-1h0m1-1h0m1-1h0m4-1h0m0 1h0m5 0h0m2-1h0m2 5h0m3-5h0m7-1h0m-87 14h0m0 0h0m1-2h0m2 1h0m0 1h0m2-6h0m2 3h0m2 0h0m1 2h0m2-4h0m1 4h0m4-3h0m3 4h0m0-1h0m0-1h0m0 1h0m0-3h0m3 0h0m1 1h0m1 3h0m1-4h0m1 5h0m0-5h0m0 0h0m1 1h0m1-2h0m1 1h0m1 0h0m0 2h0m2 2h0m4-5h0m0 5h0m1 0h0m1 0h0m3-6h0m1 0h0m1 2h0m2 0h0m3 4h0m2-4h0m4-1h0m3 3h0m8 2h0m5 0h0m9-3h0m13-3h0m1 1h0m-102 14h0m0-5h0m1 1h0m0 4h0m0 0h0m4-7h0m0 1h0m4 6h0m1-1h0m0 1h0m2-7h0m0 1h0m3 1h0m0-1h0m2 5h0m1 0h0m1-6h0m1 3h0m0 4h0m5-4h0m0-2h0m1-1h0m1 6h0m2 0h0m1 0h0m0-6h0m0 3h0m1-2h0m0 4h0m1 2h0m0-4h0m0-3h0m1 2h0m1 5h0m2-4h0m0 2h0m1 0h0m0-5h0m2 3h0m0-3h0m2 6h0m1-5h0m2 4h0m3-3h0m2 4h0m3-1h0m2-4h0m1 6h0m5-1h0m1 0h0m0-4h0m4 2h0m5-2h0m1-2h0m0 6h0m5-6h0m3 5h0m2 2h0m-80 5h0m0-3h0m0 2h0m1-2h0m2-1h0m1 0h0m5 1h0m1 0h0m0 3h0m2 3h0m0-6h0m1 2h0m2 4h0m2-6h0m1 4h0m3-4h0m0-1h0m2 5h0m1-2h0m4-1h0m0 1h0m3-3h0m0 7h0m0-4h0m1-3h0m0 4h0m1 3h0m1 0h0m1-4h0m0 4h0m1-2h0m2 1h0m1 0h0m2-2h0m2 0h0m1 2h0m2-1h0m0-5h0m8 0h0m2 6h0m1-2h0m1-3h0m7 5h0m17-1h0m14-4h0m-96 9h0m1 1h0m1-1h0m2 1h0m0-1h0m1 1h0m1-1h0m1-1h0m1 6h0m0-4h0m0-2h0m4 5h0m0-5h0m3 6h0m0-5h0m0 4h0m1-2h0m1 2h0m1-3h0m1 4h0m1-3h0m1 1h0m0-3h0m1 4h0m1-1h0m1 0h0m4-1h0m2-1h0m1-2h0m0 2h0m2 1h0m2-3h0m0-1h0m1 2h0m4 0h0m4-2h0m2 0h0m5 5h0m5-4h0m4 6h0m7-1h0m4 1h0m-71 5h0m1-2h0m1 5h0m0-3h0m1 3h0m0-3h0m1-2h0m1 0h0m1 2h0m2 2h0m0-3h0m1-3h0m0 4h0m0-1h0m0 3h0m0-6h0m1 0h0m1 4h0m1 1h0m0-3h0m1 1h0m1 4h0m0-2h0m2 1h0m0-1h0m2-3h0m2-2h0m0 5h0m1-4h0m1 6h0m1-6h0m0-1h0m0 6h0m1-1h0m2-4h0m2 3h0m1-1h0m1-2h0m0 6h0m1-1h0m1-2h0m0 0h0m1-3h0m2 2h0m0 3h0m3-4h0m1 4h0m2-5h0m0 5h0m4-4h0m4 0h0m6 0h0m0-2h0m11 7h0m1-3h0m-68 9h0m0-4h0m3-1h0m0 7h0m1-6h0m1 3h0m0-3h0m0 6h0m1-5h0m0 3h0m1-1h0m0 0h0m1 3h0m1-4h0m1 4h0m1-2h0m7-3h0m0-2h0m0 7h0m1-6h0m1 5h0m4-6h0m0 4h0m3 3h0m2-4h0m1-2h0m2 5h0m5 0h0m1-4h0m1 4h0m1-5h0m2 0h0m1 0h0m5 6h0m10-1h0m14 1h0m-68 1h0m7 3h0m2-1h0m1 2h0m2-2h0m5-2h0m3 3h0m1-3h0m8 3h0m2-3h0m1 1h0m1 0h0m11 0h0m8 0h0m7 0h0" stroke="#8cc25c" stroke-opacity="0.36" stroke-width="5.2" stroke-linecap="round" fill="none" transform="scale(.5)"/>
<path d="M1064 196h0m30 0h0m-64 6h0m-6 12h0m26-3h0m-28 9h0m-11 8h0m1 4h0m3 4h0m11 0h0m-33 6h0m19-1h0m12 1h0m4-1h0m1 1h0m2 1h0m53-2h0m-119 14h0m27-6h0m11 0h0m6 2h0m10 1h0m0-4h0m3 2h0m8-1h0m12 2h0m12 1h0m5 3h0m7-4h0m10 0h0m-91 8h0m5-1h0m2 5h0m3-2h0m10-2h0m0-2h0m1-1h0m3 4h0m0-1h0m2 1h0m3-4h0m0 3h0m0 0h0m5-3h0m0 7h0m0-3h0m4 0h0m0 3h0m9-3h0m1 1h0m22-1h0m26-3h0m-115 11h0m8-4h0m0 4h0m1 0h0m1 0h0m1 3h0m10-2h0m2-3h0m1 1h0m1 2h0m7-2h0m2-3h0m5 1h0m0 0h0m1 1h0m1 3h0m0 2h0m2-1h0m1-3h0m7 2h0m3 1h0m0 1h0m0 0h0m5-2h0m3-1h0m3-2h0m5 2h0m7 1h0m4 2h0m31-2h0m-126 9h0m12 1h0m0-4h0m2 4h0m2-1h0m1-6h0m5 7h0m1-3h0m0 0h0m1 1h0m4-1h0m1-2h0m0-2h0m1 0h0m1 7h0m3-2h0m1 2h0m0-2h0m0-5h0m1 5h0m2 0h0m2-2h0m0-2h0m1 3h0m1 1h0m2 1h0m1-6h0m1 6h0m0-6h0m2 1h0m1-1h0m3 1h0m2 5h0m3 0h0m0-1h0m1-3h0m1 2h0m0-1h0m1 0h0m1-3h0m8 0h0m6 2h0m8 2h0m7 2h0m0-6h0m18 5h0m-109 5h0m1 2h0m8 1h0m0 1h0m5-1h0m1-2h0m1 0h0m3 3h0m1 0h0m1-3h0m1-2h0m0 5h0m1-4h0m5 4h0m2-2h0m6 2h0m10-6h0m1 4h0m1-3h0m1 1h0m0-2h0m0 4h0m1 2h0m1-2h0m2 3h0m1-5h0m1 1h0m0-3h0m2 5h0m1-5h0m3 3h0m2 1h0m2-1h0m1-1h0m3 0h0m7-1h0m18 5h0m10 1h0m-105 7h0m0-4h0m0-1h0m6 6h0m1-2h0m1-2h0m2-2h0m0 4h0m1-3h0m1 2h0m1-2h0m1-2h0m2 6h0m1 1h0m3-3h0m1 1h0m1 0h0m0-3h0m4 1h0m1 4h0m0-6h0m0 2h0m3 4h0m0 0h0m2-5h0m0-2h0m1 6h0m2 0h0m1-6h0m1 6h0m1-1h0m0 0h0m1-1h0m0-3h0m0 4h0m0 2h0m1-7h0m1 6h0m1-6h0m0 2h0m3-1h0m2 4h0m2-4h0m5 3h0m1-1h0m1 4h0m1-5h0m0 0h0m1 3h0m3-3h0m2 1h0m3-3h0m0 2h0m0 2h0m1 0h0m7 0h0m1 0h0m11-3h0m3 6h0m32-5h0m-119 8h0m2 4h0m1-6h0m2 1h0m1 6h0m0-7h0m2 0h0m0 3h0m0-1h0m0 1h0m2-1h0m1 1h0m2 1h0m2 2h0m1-6h0m1 1h0m0 2h0m1 4h0m7-5h0m0 3h0m1-4h0m0 5h0m2-6h0m3 6h0m0 0h0m0-5h0m1 3h0m1-4h0m0 3h0m1 3h0m3-4h0m1 4h0m1 0h0m1-1h0m2-5h0m0 4h0m2-3h0m0 0h0m3-1h0m0 7h0m6-1h0m1 1h0m3-7h0m1 5h0m1-1h0m2 3h0m9-1h0m2-6h0m8 0h0m14 7h0m-94 8h0m0-4h0m1-3h0m4 3h0m0 1h0m1-2h0m4-1h0m1 0h0m0 5h0m2-4h0m1-1h0m1 1h0m2 0h0m1 5h0m0-7h0m1 4h0m0 1h0m0 0h0m2-3h0m1 4h0m0-4h0m2-1h0m0 1h0m1 1h0m0 2h0m0-2h0m0 3h0m1-2h0m4-3h0m2-1h0m0 6h0m2-5h0m0 4h0m1-5h0m0 0h0m3 5h0m2 2h0m0-7h0m0 4h0m2-1h0m0 2h0m3-5h0m3 6h0m0-5h0m1 3h0m2 0h0m0 2h0m0 0h0m0-3h0m1-2h0m5 1h0m2 1h0m1-2h0m2 1h0m6-1h0m1 1h0m14-2h0m20 3h0m-105 10h0m2-2h0m0-1h0m2 2h0m1 1h0m0-3h0m0 4h0m5-5h0m3-1h0m0 4h0m2 3h0m0-3h0m0 2h0m2-5h0m2 2h0m1-3h0m3 4h0m3-4h0m1 7h0m1-6h0m0 4h0m2-3h0m0-2h0m1 0h0m1 6h0m3 0h0m0-2h0m2-2h0m0-1h0m1 3h0m0 1h0m2-4h0m2 6h0m2-5h0m0-1h0m0 2h0m3 1h0m0-3h0m0-1h0m2 3h0m2 0h0m2 3h0m7-5h0m-60 9h0m0-2h0m3 7h0m0-5h0m0 2h0m3-2h0m3-2h0m0 1h0m1 4h0m1 1h0m1-3h0m0-2h0m1 6h0m2-3h0m0 0h0m1 2h0m0 1h0m0-6h0m0-1h0m0 3h0m1 2h0m1-4h0m0 0h0m2-1h0m0 4h0m2 1h0m0-3h0m3-2h0m0 1h0m1 2h0m0-2h0m2 5h0m1-1h0m0 0h0m1-4h0m2 6h0m0-6h0m1 0h0m1-1h0m3 0h0m0 2h0m1 4h0m1-5h0m2 1h0m0-1h0m2 3h0m1-4h0m0 6h0m6 0h0m12-2h0m2-1h0m17 0h0m-81 11h0m0-6h0m2 4h0m1-1h0m1 1h0m0 2h0m2-4h0m1 2h0m0-2h0m1 5h0m1-7h0m1 7h0m1-5h0m1 2h0m1-1h0m1 0h0m1 3h0m0-6h0m1 6h0m1-6h0m2 7h0m1-7h0m1 1h0m2 3h0m0 3h0m3-2h0m1 2h0m1-7h0m1 3h0m3 2h0m0-2h0m1-3h0m2 7h0m8-2h0m0-1h0m5-1h0m3-3h0m1 7h0m3-5h0m17 0h0m-68 6h0m0 0h0m6 0h0m0 3h0m0 1h0m4-2h0m1-2h0m2 2h0m3 0h0m0-1h0m0 1h0m1-2h0m11 2h0m21-1h0" stroke="#8cc25c" stroke-opacity="0.36" stroke-width="5.2" stroke-linecap="round" fill="none" transform="scale(.5)"/>
<path d="M1089 179h0m-7 15h0m-45 10h0m45-2h0m-53 9h0m22 0h0m4 4h0m1-7h0m25 4h0m-59 6h0m16 4h0m36-1h0m-68 10h0m15 0h0m5-1h0m31-2h0m-73 6h0m22 3h0m29-5h0m7 5h0m46-4h0m-94 7h0m1 6h0m15-3h0m5-3h0m1 7h0m2-4h0m2 4h0m18-5h0m5-2h0m3 5h0m3 1h0m0-5h0m9 4h0m0 2h0m4-2h0m1-3h0m12 4h0m-96 7h0m11-3h0m0-1h0m10 6h0m1-1h0m6-3h0m5 2h0m8-4h0m0 4h0m1-5h0m1 1h0m11 1h0m8-2h0m15 5h0m7 1h0m10-6h0m-111 9h0m3 6h0m12 0h0m9 0h0m2 0h0m1-6h0m5 2h0m1-1h0m0 5h0m1-2h0m1-5h0m7 0h0m1 4h0m2 2h0m0-4h0m4 4h0m1 0h0m2 0h0m2-5h0m1 4h0m3 0h0m1-5h0m1 6h0m6-3h0m1 2h0m3 2h0m7-1h0m4-4h0m6 3h0m1-3h0m3 4h0m1-1h0m-100 7h0m7 0h0m14-2h0m3 5h0m1-1h0m0 1h0m9-7h0m0 2h0m1 3h0m1-4h0m1-1h0m2 2h0m4 3h0m4-5h0m2 6h0m4 0h0m2-3h0m1 2h0m1-1h0m3-3h0m4 1h0m3 4h0m0 1h0m3-5h0m2 2h0m12 0h0m5-1h0m2 0h0m0 0h0m2 4h0m15-6h0m34 0h0m-141 9h0m2 1h0m1-2h0m1-1h0m2 4h0m0-4h0m3 6h0m1 1h0m2-3h0m2 3h0m4-2h0m2-2h0m2 4h0m4-2h0m0-5h0m0 7h0m1-3h0m0-4h0m3 5h0m3-2h0m1-2h0m0 6h0m6-1h0m4-1h0m0-2h0m1-1h0m3 4h0m0-2h0m1 2h0m0-4h0m2 3h0m4 1h0m2-6h0m0 2h0m3-2h0m0 1h0m2 4h0m4-3h0m3-2h0m4 5h0m1-3h0m7-2h0m3 7h0m7-6h0m5 0h0m-96 14h0m3-1h0m5-6h0m1 6h0m5 1h0m4-2h0m4 1h0m0 1h0m1-1h0m3 1h0m0-6h0m0 4h0m1-5h0m3 3h0m1-1h0m1 1h0m1-1h0m0 3h0m2 2h0m2 0h0m0-3h0m10 1h0m0 0h0m0-4h0m1 1h0m1 4h0m0 0h0m2 0h0m3-2h0m4 0h0m1 0h0m1 3h0m1-7h0m4 7h0m2-6h0m2 0h0m8 0h0m1 5h0m0-6h0m0 1h0m4 0h0m1 2h0m1 1h0m18 0h0m-104 8h0m0-4h0m1 0h0m1 6h0m2-5h0m1 1h0m5 1h0m0 3h0m3 0h0m1-6h0m1 1h0m1 1h0m6-2h0m0 5h0m0 1h0m0 1h0m2-3h0m1-2h0m0-2h0m1 0h0m2 7h0m1-4h0m2 0h0m1 4h0m1-3h0m0 3h0m1-7h0m1 5h0m2-2h0m0 4h0m0-6h0m2-1h0m0 5h0m2 1h0m1-2h0m2-1h0m1 3h0m0 1h0m2-2h0m2-1h0m0-1h0m1-3h0m1 6h0m0-2h0m1 3h0m2-7h0m2 3h0m1 1h0m2 1h0m0-5h0m1 5h0m1-1h0m10-1h0m2 4h0m1-7h0m13 2h0m22-2h0m-112 12h0m0 3h0m1 0h0m1-1h0m2 0h0m3-2h0m0 2h0m0-6h0m0 5h0m1 2h0m1-7h0m1 3h0m1 4h0m1 0h0m2-6h0m0 1h0m1 5h0m2-7h0m2 2h0m2-2h0m1 5h0m0 1h0m1 0h0m0-1h0m0 1h0m1-5h0m0 2h0m0 4h0m2-2h0m1-1h0m0-3h0m0 6h0m1 0h0m2-6h0m0 2h0m2 2h0m1-2h0m1-1h0m0 2h0m0-4h0m0 4h0m2 1h0m3-1h0m1 2h0m1-2h0m1-3h0m2 3h0m0 3h0m2-7h0m1 3h0m2-3h0m3 6h0m1 0h0m1-4h0m2 3h0m1-4h0m1-1h0m1 6h0m0-1h0m1-4h0m1 4h0m1 1h0m6-2h0m13-3h0m0 5h0m-79 7h0m0-4h0m1 5h0m0-6h0m2 4h0m0 3h0m1-2h0m1 1h0m2-2h0m1 3h0m1-3h0m0 0h0m1 0h0m0 2h0m1 1h0m2-1h0m0-3h0m0-2h0m1 4h0m0-4h0m0 2h0m0 4h0m1-5h0m0 5h0m1-7h0m0 4h0m2 3h0m1-7h0m1 0h0m1 1h0m1 5h0m0-1h0m0 2h0m1-6h0m0 0h0m0 3h0m1 3h0m0-1h0m1-3h0m1 0h0m2 4h0m0-5h0m1-2h0m0 7h0m2-5h0m2 1h0m1 2h0m4-4h0m0 0h0m2 0h0m0 6h0m0-6h0m1 6h0m2 0h0m0 0h0m2-3h0m2-1h0m4 4h0m0-5h0m3-2h0m4 7h0m1-5h0m1 5h0m-62 4h0m0 1h0m1 0h0m0 3h0m1-7h0m0 3h0m4 1h0m0-1h0m1 2h0m3-2h0m1 2h0m1-2h0m1-2h0m1 6h0m0-5h0m1 2h0m1-2h0m1 3h0m0-5h0m1 3h0m3-1h0m6 4h0m0-6h0m1 2h0m2-1h0m0 3h0m0-2h0m1 1h0m1 1h0m1-1h0m1 1h0m2 1h0m1-3h0m0-1h0m2 6h0m0-6h0m1 1h0m1-2h0m8 6h0m3-5h0m6 5h0m1 1h0m3-3h0m1-4h0m4 7h0m7-6h0m-74 11h0m1-3h0m1 4h0m1-1h0m0-4h0m1 0h0m1 5h0m1-2h0m3-1h0m0-1h0m0-1h0m1 2h0m1-1h0m0 1h0m1 2h0m0-3h0m3 0h0m0-1h0m1 6h0m3-4h0m1 4h0m0-1h0m0-1h0m1-4h0m1 5h0m0-1h0m3-4h0m2 4h0m1 3h0m1-6h0m1 1h0m2-2h0m0 1h0m1 2h0m3 2h0m3-3h0m1 2h0m0-1h0m2-1h0m1 5h0m2-3h0m20-4h0m-65 15h0m0-5h0m1 4h0m1-5h0m0 3h0m0 0h0m1 0h0m1-3h0m1 5h0m0-6h0m1 4h0m0 3h0m4-7h0m0 1h0m1 2h0m0 2h0m0-2h0m0 3h0m0-4h0m1-2h0m1 6h0m0-6h0m0 1h0m2 4h0m2 2h0m0 0h0m0 0h0m1-3h0m1 1h0m0-5h0m3 4h0m3 2h0m2-4h0m2-1h0m4-1h0m1 6h0m4-3h0m0 4h0m1-4h0m2-3h0m8 0h0m19 0h0m-68 11h0m2-3h0m1 0h0m1 4h0m1-4h0m1 0h0m4 3h0m0-3h0m3 0h0m0 1h0m0-1h0m5 3h0m3-2h0m0 0h0m3 2h0m2 0h0m5-2h0m4 1h0m8-1h0m5 2h0m14 0h0m4-3h0" stroke="#8cc25c" stroke-opacity="0.36" stroke-width="5.2" stroke-linecap="round" fill="none" transform="scale(.5)"/>
<path d="M1082 207h0m-69 8h0m18-1h0m36-5h0m2 6h0m4 0h0m-70 1h0m2 4h0m25-3h0m24 1h0m1 2h0m7-4h0m-44 12h0m1 3h0m7-6h0m6 4h0m66 2h0m8-3h0m-80 4h0m0 6h0m28-6h0m-95 8h0m7 5h0m35-5h0m3 3h0m11-2h0m11 0h0m4-1h0m2 6h0m36-6h0m14 6h0m-96 3h0m4 5h0m7-2h0m1 1h0m2-3h0m7 1h0m9 4h0m0-2h0m4-3h0m1 3h0m12 0h0m7-5h0m10 6h0m-72 5h0m3 3h0m1-3h0m0 4h0m2-1h0m0-3h0m3-2h0m9 0h0m1 2h0m2-1h0m15 4h0m2 1h0m3 0h0m0-1h0m4 0h0m4 1h0m1-3h0m14 1h0m1 1h0m2-3h0m20 2h0m12-4h0m-115 13h0m5-3h0m8 2h0m4-1h0m6-2h0m2 5h0m0 0h0m1 0h0m1-5h0m3-2h0m2 1h0m3 3h0m2 1h0m1 1h0m3-6h0m0 0h0m1 4h0m0-1h0m4 1h0m1 0h0m2 2h0m0-2h0m0 0h0m3 3h0m0-1h0m2-1h0m4-4h0m1 3h0m0-1h0m6 1h0m1 0h0m3-4h0m5 7h0m7-2h0m-87 9h0m3-2h0m4-1h0m8 0h0m0-3h0m4 5h0m1 0h0m0 0h0m2-2h0m0-1h0m13-2h0m1 0h0m0 5h0m3-2h0m2-3h0m2 1h0m2 2h0m3 1h0m1 0h0m6-1h0m0 2h0m1 0h0m0 1h0m1-3h0m8-2h0m6 1h0m7 1h0m2-2h0m21 1h0m7-2h0m-113 12h0m2-1h0m3-2h0m5 5h0m4 0h0m0-2h0m1 0h0m2 1h0m3-4h0m3 6h0m1-7h0m2 7h0m1-3h0m0 3h0m0-6h0m3 5h0m0-5h0m3 4h0m1-1h0m0 0h0m0-2h0m0 2h0m1 2h0m4-5h0m3 0h0m0 2h0m2-1h0m1-1h0m2 3h0m1-3h0m1-1h0m4 5h0m0 2h0m1-3h0m3 0h0m0-2h0m3 3h0m0 2h0m1-3h0m1 2h0m2-6h0m1 5h0m7 2h0m8 0h0m2-2h0m0-1h0m4 0h0m-87 5h0m3 4h0m1-3h0m0-2h0m4 4h0m0 3h0m1-4h0m1 0h0m2-1h0m3-2h0m2 3h0m4 2h0m1-3h0m1 5h0m0 0h0m1-7h0m0 1h0m1 2h0m4 2h0m1-1h0m0 3h0m2-2h0m0-2h0m6-2h0m0 2h0m2 3h0m1-1h0m0-4h0m0 2h0m1-3h0m1 0h0m2 0h0m0 1h0m2 2h0m5 2h0m3 1h0m1-4h0m2-1h0m1 0h0m2 4h0m1-1h0m3 3h0m0-3h0m6 3h0m2-2h0m4 0h0m3-3h0m7-2h0m1 4h0m14-2h0m-100 10h0m1-1h0m2-1h0m0-1h0m1 3h0m1 3h0m3-2h0m0 2h0m2-3h0m0 3h0m2-5h0m2 3h0m1 1h0m0-1h0m0-3h0m0 0h0m2 4h0m0-3h0m0-2h0m0 1h0m0 3h0m4 0h0m2-5h0m0 2h0m1 0h0m0-1h0m2 3h0m0 0h0m0-3h0m1 4h0m0 0h0m0-2h0m1 0h0m1 0h0m1 0h0m1 0h0m1 4h0m2-5h0m1-1h0m0 6h0m1-2h0m2 0h0m1-3h0m2-2h0m1 4h0m0-2h0m0 4h0m2-3h0m3 2h0m0-4h0m2 0h0m0 2h0m1 2h0m1 1h0m5-2h0m0-2h0m4 5h0m7-6h0m2 1h0m0 2h0m3-3h0m5-1h0m11 3h0m-90 11h0m0-6h0m0 5h0m1 2h0m1 0h0m1-5h0m2 2h0m0-4h0m1 0h0m1 3h0m1-2h0m2 0h0m0 4h0m1-3h0m1 4h0m3-3h0m0 1h0m1 2h0m0-2h0m1 2h0m2-2h0m0-1h0m0-3h0m1 6h0m1-5h0m1 6h0m0-7h0m0 2h0m6 3h0m1-2h0m0 4h0m1-1h0m0-4h0m1 4h0m0 1h0m1-2h0m1-1h0m1 1h0m0 2h0m1-1h0m1 1h0m1-7h0m1 4h0m0-2h0m2 5h0m2-5h0m3-1h0m1 1h0m1 4h0m1 0h0m1-3h0m3 1h0m5-3h0m0 3h0m9-1h0m5 0h0m4 3h0m0-2h0m2-3h0m8 6h0m-82 8h0m0-5h0m1 4h0m0-2h0m1-2h0m0-2h0m0 0h0m1 7h0m1-3h0m1 1h0m2-5h0m0 3h0m1-3h0m3 4h0m1 0h0m1-4h0m0 2h0m0 0h0m1 3h0m0-2h0m2 3h0m1-6h0m0 3h0m1 1h0m1-4h0m1 6h0m1-1h0m0-4h0m0 0h0m1 0h0m0 4h0m0-4h0m1 2h0m2-3h0m2 4h0m0-2h0m0 4h0m1-6h0m1 7h0m3-5h0m1 4h0m1 0h0m0-6h0m1 2h0m1-2h0m3 0h0m2 2h0m3 3h0m2-3h0m1-2h0m1 2h0m1-2h0m3 1h0m14 3h0m14 3h0m-83 4h0m1 3h0m3-1h0m0-4h0m1 6h0m1-6h0m0 2h0m0 3h0m1 0h0m1-2h0m1-4h0m2 2h0m5 5h0m1-3h0m0 2h0m3-2h0m5-2h0m0-2h0m1 4h0m2 0h0m2 3h0m0-3h0m3 2h0m0-6h0m1 4h0m1 0h0m2-4h0m0 7h0m0-2h0m1-3h0m0 1h0m1-3h0m1 1h0m0 4h0m1 1h0m4-4h0m8-2h0m5 2h0m7-1h0m0 5h0m2-3h0m4 1h0m-70 8h0m1 2h0m2-3h0m1-2h0m0 5h0m3-6h0m0 1h0m1 3h0m0-1h0m1-1h0m0-1h0m1 3h0m1-2h0m0-1h0m2 0h0m0 2h0m1 1h0m1-1h0m0-2h0m0 3h0m1-4h0m4 5h0m1-2h0m0 1h0m0-4h0m0 3h0m0 1h0m3-4h0m5 4h0m1 0h0m0-3h0m1 0h0m1 1h0m0 2h0m1 0h0m1 1h0m0-3h0m5 1h0m4 1h0m7 3h0m-51 1h0m2 4h0m1-4h0m1 0h0m0 0h0m0 2h0m0-1h0m8 2h0m2 1h0m3-3h0m1 2h0m6 1h0m0 0h0m10-2h0m5-1h0m8-1h0m11 1h0" stroke="#8cc25c" stroke-opacity="0.36" stroke-width="5.2" stroke-linecap="round" fill="none" transform="scale(.5)"/>
<path d="M1066 206h0m20-4h0m-21 6h0m-21 15h0m3-6h0m13 5h0m-60 5h0m30-3h0m10 4h0m20 2h0m-50 5h0m9-1h0m24-2h0m0 1h0m2 6h0m9-5h0m1-2h0m17 4h0m-87 10h0m10 1h0m3-5h0m6 3h0m3-4h0m5 0h0m8 2h0m13-1h0m7-2h0m0 5h0m1 1h0m6-2h0m-82 4h0m21 4h0m11 0h0m4 0h0m7-4h0m11 4h0m0-4h0m2 2h0m11 1h0m5 0h0m8 4h0m1-7h0m6 3h0m11 2h0m-82 5h0m7 5h0m14-5h0m1-1h0m5-1h0m7 2h0m3 1h0m3 3h0m2-5h0m0 3h0m2 2h0m14-5h0m8 4h0m-90 8h0m10 0h0m1 2h0m0-2h0m13-5h0m1 2h0m1 5h0m7-5h0m0 2h0m1-2h0m1 3h0m0-4h0m3 1h0m5-1h0m2 2h0m2-3h0m1 7h0m1-2h0m4-1h0m1-2h0m0 5h0m0 0h0m1-6h0m0 5h0m0-1h0m3 2h0m2-3h0m8-2h0m1-2h0m4 0h0m1 7h0m1-4h0m1 0h0m1 3h0m62-2h0m-145 5h0m3 2h0m5 3h0m5 1h0m6-2h0m2-2h0m2 0h0m5 2h0m2-3h0m2 4h0m5-4h0m0 3h0m1-4h0m0 5h0m1 0h0m0 1h0m1-7h0m0 4h0m0-1h0m0 3h0m1-3h0m1-2h0m5 4h0m1 1h0m0-4h0m1-1h0m1 6h0m4-5h0m3 0h0m0 0h0m0-1h0m1 4h0m2-4h0m1 4h0m1 2h0m1-5h0m0 0h0m2-1h0m7 5h0m3-1h0m0-3h0m2 0h0m6 2h0m24 3h0m-105 1h0m6 6h0m2-3h0m3-1h0m1 0h0m0 4h0m1-2h0m1-2h0m1 4h0m1-3h0m3-3h0m1 5h0m1-4h0m1 6h0m0-5h0m3-1h0m0 0h0m1-1h0m1 6h0m1-4h0m2 5h0m3-6h0m2 4h0m3-3h0m0 3h0m2-2h0m0 1h0m1-1h0m1 4h0m2-3h0m1-4h0m0 5h0m2-3h0m0-2h0m2 2h0m2 4h0m0 1h0m2-3h0m0-2h0m1 3h0m2-1h0m2 1h0m3 1h0m0-1h0m2 2h0m12-1h0m5-3h0m7 0h0m10 0h0m1-3h0m9 0h0m7 0h0m-116 11h0m7 3h0m2-1h0m0 1h0m0-3h0m2-3h0m3 5h0m0-4h0m3 4h0m2 0h0m1 2h0m0-6h0m3 1h0m1 4h0m0 0h0m0-2h0m1 2h0m1-1h0m0-5h0m1 4h0m1-1h0m0 3h0m2-5h0m0-1h0m2 7h0m1-5h0m0-2h0m6 7h0m0 0h0m2-6h0m1 6h0m1-6h0m0 0h0m1 4h0m3-1h0m3 3h0m2-3h0m2-3h0m2 0h0m3 4h0m0 0h0m5-2h0m1 4h0m0-7h0m8 1h0m3 4h0m4-5h0m3 2h0m1 0h0m2 3h0m-87 3h0m1 1h0m0 2h0m1 4h0m0-4h0m4 3h0m1-5h0m1 1h0m2 5h0m1-4h0m1-2h0m1 2h0m0-3h0m0 5h0m1 1h0m0-6h0m1 7h0m0-5h0m1 5h0m2-2h0m1 1h0m3-3h0m1 0h0m1-3h0m2 4h0m2 3h0m3-3h0m1 1h0m1-1h0m2-2h0m0-2h0m1 4h0m1 3h0m2-2h0m7-5h0m2 4h0m3-2h0m1 5h0m1-6h0m3 5h0m1-1h0m2 2h0m0-6h0m2 4h0m8 1h0m4-4h0m1 1h0m10-3h0m5 4h0m1 0h0m-87 11h0m0-1h0m1-4h0m0-1h0m0 5h0m1 1h0m0-4h0m1 3h0m0-2h0m1 3h0m1-1h0m1-1h0m0 1h0m2-2h0m0-1h0m0 2h0m1 1h0m1 0h0m0 0h0m0-2h0m1 2h0m1 1h0m0-4h0m0 1h0m2 1h0m2-2h0m1 2h0m0-4h0m1 3h0m1 0h0m1 1h0m0 2h0m1-4h0m3-2h0m0 4h0m0 2h0m2-3h0m1-2h0m0 2h0m0 3h0m3 0h0m1-7h0m1 6h0m0-2h0m1-3h0m3 6h0m1-7h0m1 7h0m0 0h0m2-6h0m1 3h0m2 0h0m0-2h0m3 2h0m0 3h0m0-3h0m1-3h0m2 0h0m3 4h0m1-2h0m0 0h0m1 2h0m2-4h0m1 3h0m5-4h0m1 2h0m6 0h0m12-1h0m-84 13h0m2-3h0m1-1h0m1-2h0m1 6h0m0-3h0m1-2h0m1 3h0m1 1h0m1 0h0m0-1h0m5-3h0m1 1h0m0-2h0m0 1h0m3 5h0m2-2h0m1 3h0m1-3h0m1 0h0m0-4h0m0 5h0m2-4h0m1 5h0m1-3h0m2-3h0m0 6h0m0-1h0m2-5h0m0 7h0m1-7h0m1 4h0m4-1h0m1 4h0m1-1h0m0-3h0m1 0h0m1-2h0m3 5h0m1 0h0m3 1h0m2 0h0m3-7h0m0 4h0m16-4h0m6 0h0m17 3h0m-92 9h0m1 0h0m2 3h0m0-3h0m0 3h0m1-2h0m1-5h0m2 5h0m2-4h0m0 1h0m0-1h0m0 1h0m2-2h0m1 7h0m7 0h0m1-6h0m3 1h0m5 4h0m4-4h0m2 0h0m0 0h0m1 2h0m0-4h0m1 1h0m3 1h0m4 0h0m4 2h0m0 2h0m0-2h0m3 1h0m2 2h0m1-2h0m9-5h0m5 1h0m5 0h0m20 5h0m-90 2h0m4 0h0m1 3h0m0 0h0m1 0h0m2 3h0m1 0h0m1 0h0m1 1h0m0-5h0m2 5h0m1-5h0m1-1h0m1 2h0m1-1h0m1-2h0m1 2h0m0 2h0m2 3h0m4-7h0m3 7h0m1 0h0m3 0h0m1-5h0m0-1h0m1 4h0m4 1h0m4-4h0m6 0h0m25-1h0m-74 10h0m2-1h0m1-1h0m3 1h0m1 0h0m1 0h0m2 0h0m1 1h0m1 0h0m2-2h0m0 1h0m2-1h0m2-1h0m1 1h0m4 2h0m1 0h0m14 0h0m3 0h0m18-3h0" stroke="#8cc25c" stroke-opacity="0.36" stroke-width="5.2" stroke-linecap="round" fill="none" transform="scale(.5)"/>
<path d="M1039 210h0m29 3h0m-34 6h0m7 3h0m45-1h0m-57 7h0m1-2h0m-29 12h0m19-6h0m26 7h0m0-3h0m2 0h0m12 1h0m9-5h0m13 6h0m-66 9h0m8-2h0m4 0h0m10 1h0m11 1h0m3-1h0m8-3h0m23-2h0m-100 14h0m2-3h0m4 2h0m3-4h0m1 4h0m1-4h0m1 2h0m12 2h0m1 1h0m0 0h0m15-5h0m0-1h0m3 6h0m7 0h0m7-5h0m12 5h0m15-2h0m-109 3h0m17 1h0m5 0h0m2 2h0m6-3h0m2 5h0m1-4h0m4 6h0m2 0h0m6-3h0m2 3h0m3 0h0m0-2h0m1 0h0m6 1h0m0-4h0m2 3h0m2-1h0m0 1h0m4 0h0m5 1h0m1 1h0m8-5h0m3-1h0m1 3h0m73 0h0m-161 11h0m1-7h0m1 6h0m10-5h0m15-1h0m1 1h0m1 6h0m8-3h0m7-2h0m2 2h0m1-1h0m1-3h0m0 2h0m3 5h0m0-3h0m0-1h0m1 3h0m8-2h0m3 3h0m1-5h0m15 3h0m7-3h0m4 0h0m1-2h0m1 1h0m15 5h0m42 0h0m-147 4h0m13 4h0m6 0h0m3 1h0m1-7h0m6 0h0m1 6h0m2 0h0m1-3h0m4 4h0m0-3h0m3-3h0m2 2h0m4-1h0m5-1h0m1-1h0m0 3h0m1 0h0m1 3h0m0-4h0m7 0h0m2 0h0m0 0h0m0 3h0m9-5h0m1 2h0m2-1h0m6 1h0m2 1h0m13 2h0m9-3h0m4 1h0m-111 8h0m0 1h0m2-1h0m4 1h0m5 0h0m0-1h0m2 2h0m0 0h0m1-2h0m5 2h0m1-1h0m1 3h0m1-6h0m0 6h0m0-2h0m3 2h0m1-4h0m0 1h0m1-4h0m2 5h0m0-5h0m2 3h0m2 3h0m1 1h0m1 0h0m0-4h0m1 1h0m1-1h0m2 4h0m1 0h0m1-5h0m2 5h0m1-1h0m0-6h0m1 6h0m3-1h0m0 0h0m1-1h0m0 2h0m1-6h0m1 0h0m0 0h0m2 4h0m0-1h0m2 4h0m1-1h0m1-1h0m0-3h0m1-2h0m0 7h0m8-7h0m9 1h0m2 6h0m0-6h0m1 3h0m0 3h0m1-1h0m5-5h0m1 2h0m2-2h0m3 5h0m-92 6h0m1 2h0m2-6h0m2 2h0m2 0h0m1-2h0m2 5h0m2 0h0m0-2h0m1 2h0m0-2h0m1 4h0m7-6h0m1 0h0m2 5h0m1-5h0m4-1h0m1 1h0m0 3h0m4-3h0m2 5h0m1-1h0m1 0h0m1-5h0m0 7h0m1-7h0m0 1h0m5 1h0m0-1h0m0 0h0m2 4h0m4-3h0m0 5h0m0-7h0m0 3h0m1 1h0m5 0h0m0 3h0m4-3h0m0-2h0m4 5h0m1-3h0m4 3h0m1-5h0m3 4h0m-74 4h0m5 1h0m1 4h0m1 0h0m1-3h0m1-2h0m0 2h0m1-3h0m4 6h0m0-7h0m1 1h0m0 2h0m3 1h0m0 1h0m0 2h0m0-7h0m1 4h0m0 1h0m1 2h0m0-7h0m2 0h0m0 6h0m1 0h0m1-1h0m0-4h0m4 3h0m1 0h0m0-2h0m1 1h0m2-3h0m1 4h0m0 1h0m1 2h0m2-5h0m6 0h0m0 1h0m1 4h0m1-5h0m0 1h0m0 0h0m1-1h0m0-2h0m0 3h0m2 1h0m0 3h0m1-3h0m1 3h0m1-5h0m0 2h0m3 0h0m2-3h0m0 4h0m2-5h0m0 3h0m0 3h0m2-2h0m0 0h0m0-4h0m1 6h0m6 1h0m1-1h0m2-6h0m1 1h0m0 2h0m2 2h0m2-4h0m4 3h0m-79 6h0m1 2h0m1 3h0m0-6h0m1 6h0m1 0h0m2-5h0m0 0h0m0 0h0m2 3h0m1 0h0m1 0h0m0 2h0m1-7h0m2 1h0m2 4h0m1 2h0m0-1h0m1-1h0m3 2h0m1-4h0m3 1h0m3-3h0m1 3h0m0-2h0m0 0h0m1 1h0m2 2h0m2-3h0m0 5h0m0 0h0m1-1h0m0-4h0m1 5h0m0-4h0m3 4h0m1 0h0m2-5h0m0 4h0m1-6h0m0 0h0m2 4h0m3-1h0m3 0h0m1 4h0m2-6h0m2 4h0m1-5h0m0 2h0m5 2h0m4 1h0m5 2h0m1-7h0m-70 11h0m1 2h0m1-2h0m1 4h0m1-5h0m0 1h0m4 2h0m0 2h0m0-6h0m1 3h0m1 3h0m1-6h0m0 5h0m0-4h0m0 1h0m2-1h0m0 4h0m1-4h0m2-1h0m0 2h0m0-1h0m0-2h0m4 1h0m0 4h0m0-3h0m2-1h0m0 4h0m1 2h0m1-6h0m2 4h0m0-1h0m1 3h0m2-3h0m1-4h0m1 2h0m1 0h0m1 4h0m1-4h0m0 0h0m4 4h0m1-6h0m2 0h0m1 6h0m0-5h0m2 0h0m1 2h0m1-1h0m1 2h0m4 3h0m0-5h0m11 0h0m2 2h0m3-2h0m1 1h0m1 1h0m-70 6h0m1 5h0m1-4h0m1 4h0m1-2h0m0-2h0m1 4h0m0-2h0m1 2h0m2 0h0m6 0h0m1-6h0m1 3h0m1 3h0m0 0h0m2 0h0m0-4h0m1-3h0m1 1h0m0 6h0m0-7h0m0 6h0m0-5h0m1 2h0m1 2h0m1-1h0m1-3h0m3 0h0m1 2h0m0-1h0m2 3h0m1 2h0m2 0h0m4-1h0m1-6h0m2 3h0m2 3h0m0-6h0m2 0h0m1 7h0m2-2h0m1-3h0m9-1h0m18 5h0m7-3h0m-83 11h0m1-4h0m2-1h0m1 1h0m4 4h0m0 1h0m1-7h0m0 6h0m2-2h0m1 0h0m2-3h0m0 1h0m0 1h0m1 0h0m1-3h0m0 5h0m5-2h0m2 1h0m2 0h0m0 3h0m1-6h0m0 3h0m1-2h0m0-1h0m1 1h0m4 5h0m2-3h0m3 1h0m1-1h0m0 0h0m2-2h0m2 1h0m1 1h0m1-1h0m1-3h0m10 4h0m3-4h0m2 4h0m-59 6h0m3 2h0m1-1h0m4-2h0m1 0h0m0 0h0m2 0h0m1 1h0m2-1h0m1 2h0m3-2h0m0 0h0m3 2h0m11-1h0m3-2h0" stroke="#8cc25c" stroke-opacity="0.36" stroke-width="5.2" stroke-linecap="round" fill="none" transform="scale(.5)"/>
<path d="M1077 180h0m33 26h0m-57 4h0m2 4h0m10-6h0m-37 13h0m14-4h0m-8 8h0m12 2h0m10 1h0m12 3h0m-76 7h0m28 0h0m4-1h0m7-4h0m2-1h0m4 6h0m26-4h0m13-1h0m-100 14h0m31-6h0m26-1h0m8 3h0m4-2h0m4 2h0m3 1h0m-53 8h0m4 1h0m6-3h0m1 5h0m3-1h0m7-6h0m4 2h0m5 2h0m9-4h0m1 4h0m3-2h0m8 2h0m2-3h0m26 1h0m1 2h0m6-1h0m-117 6h0m9 4h0m4-5h0m2 1h0m2 0h0m2 4h0m0-4h0m0 4h0m7-5h0m11 1h0m0 6h0m3 0h0m6-7h0m1 1h0m2 5h0m9-3h0m7 2h0m3 0h0m4-5h0m13 2h0m4 5h0m6-1h0m-95 5h0m1-1h0m8 5h0m3-5h0m1-2h0m1 4h0m0-4h0m3 7h0m4-4h0m4 4h0m0-2h0m2 1h0m4-4h0m0-2h0m4 2h0m3 3h0m0-3h0m1 4h0m0-5h0m4 1h0m8 3h0m1 1h0m3-1h0m7 1h0m3-2h0m0 0h0m3-1h0m2 2h0m6 1h0m6 1h0m19 0h0m-118 3h0m1 4h0m2-1h0m12-2h0m0 4h0m4-1h0m5-6h0m3 5h0m1-1h0m3 2h0m0-5h0m2 5h0m1-2h0m3 1h0m0 0h0m1-3h0m2 0h0m8 5h0m2-6h0m1 6h0m2-4h0m0 4h0m1 0h0m7-5h0m1 0h0m1 2h0m1-1h0m5 4h0m3 0h0m1-7h0m3 6h0m3-4h0m5 3h0m7 1h0m7-1h0m2 1h0m8-3h0m-107 6h0m2 6h0m6 0h0m2-5h0m2 1h0m1 4h0m3-2h0m8 2h0m1-4h0m1-2h0m0 6h0m1-7h0m2 0h0m4 4h0m1 3h0m0-3h0m1-1h0m0 4h0m0-3h0m2-3h0m2 3h0m0-1h0m1 3h0m0-2h0m3 1h0m0-4h0m1 5h0m0 1h0m3-4h0m1 2h0m2-1h0m2 0h0m2 2h0m2-5h0m1 6h0m4-4h0m3 4h0m0-6h0m2 1h0m0 0h0m0-2h0m1 5h0m1-5h0m8 7h0m0-4h0m16 2h0m3-5h0m10 3h0m10 4h0m5-7h0m-116 15h0m1-4h0m1 0h0m1 2h0m0 2h0m0-3h0m2 0h0m1 0h0m3 2h0m3-4h0m2 5h0m1-7h0m3 4h0m4 2h0m4-4h0m1 0h0m1-2h0m0 2h0m2 3h0m0-4h0m2 4h0m1-5h0m0 7h0m4-7h0m1 4h0m0 3h0m2-4h0m0 2h0m1-2h0m2 3h0m1-5h0m2 1h0m1 2h0m2 0h0m3-2h0m3 0h0m2 2h0m1 3h0m0-2h0m1-2h0m2 2h0m6-5h0m7 0h0m4 0h0m1 7h0m2-3h0m-86 8h0m1 0h0m1-4h0m4 0h0m0 3h0m1-2h0m0 3h0m1 2h0m2-2h0m2 3h0m1-4h0m1-2h0m0 1h0m0 3h0m1-3h0m1-2h0m1 7h0m0-7h0m1 6h0m1 1h0m1-4h0m0 2h0m0-5h0m3 4h0m0 3h0m0-6h0m1 3h0m0-1h0m0 4h0m2-4h0m1 4h0m3 0h0m0-4h0m2-1h0m2 0h0m1-2h0m0 0h0m1 3h0m1 1h0m3 2h0m2 1h0m2-5h0m3 2h0m1-3h0m1 4h0m0-1h0m4-3h0m4 6h0m4-2h0m2 2h0m2-6h0m3 6h0m8-6h0m7 6h0m-84 3h0m1 3h0m1-2h0m2-3h0m3 3h0m6 3h0m1-6h0m3 6h0m1-3h0m0-1h0m1 4h0m0-2h0m2-4h0m0 3h0m0-2h0m0 3h0m3 0h0m0 0h0m1 3h0m0-5h0m1 0h0m1-2h0m1 7h0m0-5h0m1 3h0m2 2h0m0 0h0m2-4h0m1 2h0m1-5h0m1 3h0m1-2h0m2 2h0m4 0h0m1-1h0m3-2h0m0 1h0m1 6h0m2-2h0m2-4h0m3 3h0m3-2h0m3 5h0m12-5h0m9 2h0m22-4h0m-104 12h0m0 3h0m0-4h0m6 0h0m1 3h0m0-4h0m1 1h0m0-1h0m0 0h0m1 4h0m0-5h0m1 3h0m2 3h0m1 0h0m0-5h0m1 4h0m4-6h0m0 6h0m1 1h0m0-4h0m1 0h0m0-1h0m0-1h0m0 1h0m3 4h0m3-6h0m5 2h0m2 1h0m0 4h0m0-4h0m1-1h0m3 3h0m0-3h0m4 5h0m2-5h0m1 2h0m1 2h0m1-2h0m3-4h0m1 7h0m3-2h0m6-5h0m4 1h0m-63 10h0m0-2h0m1 1h0m2 0h0m1 2h0m5-3h0m1 6h0m2 0h0m0-7h0m0 3h0m0-1h0m0 5h0m1-3h0m0 3h0m2-3h0m1-2h0m1 0h0m0-1h0m0 0h0m0 5h0m1-5h0m1 2h0m3-3h0m0 2h0m0 5h0m1-7h0m0 3h0m0 3h0m1-4h0m3-1h0m2 2h0m1 4h0m3-7h0m0 5h0m1-3h0m1 1h0m1 3h0m3-6h0m0 1h0m3 1h0m1 2h0m2 3h0m0-6h0m2-1h0m2 3h0m1-3h0m0 3h0m11-3h0m-60 8h0m0 4h0m0 2h0m1-2h0m3-2h0m0 4h0m2-2h0m2 0h0m2 1h0m5 2h0m0-4h0m3 1h0m1-2h0m2-2h0m1 3h0m1 2h0m2-2h0m0-2h0m0 3h0m2-1h0m3 2h0m2 0h0m4-2h0m1 2h0m0-3h0m0 1h0m8 2h0m9 0h0m0-2h0m-54 5h0m2 2h0m0-1h0m6 1h0m2-1h0m3 3h0m3-3h0m1 2h0m7-3h0m1 0h0m2 0h0m2 3h0m0-2h0m4 1h0m2 0h0m3-2h0m11 0h0" stroke="#8cc25c" stroke-opacity="0.36" stroke-width="5.2" stroke-linecap="round" fill="none" transform="scale(.5)"/>
<path d="M1110 190h0m-28 2h0m-23 29h0m-54 8h0m16-1h0m17 2h0m11-4h0m11 5h0m0-7h0m4 5h0m-67 10h0m4-4h0m18 4h0m9 0h0m17-7h0m-79 9h0m28 5h0m15-3h0m0 0h0m6 4h0m2-4h0m4-1h0m2 3h0m1-2h0m4 0h0m3 2h0m3-3h0m5 5h0m3-7h0m6 5h0m0 0h0m0-2h0m11-3h0m-85 8h0m8 4h0m5 1h0m0-3h0m15 2h0m1 2h0m10 1h0m2-6h0m2 2h0m0 4h0m4-3h0m8-3h0m2 3h0m5-3h0m7 4h0m1-5h0m9 1h0m5 0h0m-91 13h0m5 1h0m4-7h0m4 3h0m3-2h0m9 4h0m0-2h0m5 2h0m1-5h0m1 5h0m2 2h0m6-6h0m2 5h0m5 1h0m4-1h0m2-2h0m1-2h0m1 3h0m2 1h0m3-4h0m0 0h0m2 3h0m1-1h0m5-3h0m3-1h0m6 2h0m33 0h0m-115 7h0m5 4h0m2-4h0m8 2h0m4 3h0m7-1h0m2 2h0m1-7h0m0 0h0m3 0h0m3 4h0m0 3h0m1-5h0m0-2h0m1 7h0m0-3h0m1-1h0m1-2h0m2 1h0m0 3h0m0 0h0m16-4h0m0 1h0m1-2h0m3 4h0m1-4h0m7 7h0m4 0h0m5-5h0m9-1h0m2-1h0m-101 11h0m7 4h0m6-2h0m1-5h0m5 1h0m3 4h0m1 0h0m0-3h0m1 2h0m6 3h0m0 0h0m0-5h0m2 1h0m3-1h0m1 5h0m1-7h0m0 4h0m3 1h0m0-3h0m0 3h0m2-5h0m1 4h0m0 2h0m0-6h0m1 6h0m1-2h0m0 2h0m1-5h0m1 6h0m2 0h0m1-4h0m1 3h0m7-2h0m3 0h0m6 0h0m1-2h0m1 4h0m1 0h0m3 0h0m1-4h0m1 1h0m7 1h0m11-4h0m-87 8h0m2 3h0m3 3h0m6 1h0m1-4h0m2 3h0m2-6h0m4 1h0m2 0h0m1 5h0m0-4h0m1 4h0m1 1h0m0-5h0m5-2h0m1 6h0m1-3h0m1 1h0m2 0h0m2 1h0m0-5h0m0 6h0m3-4h0m0 5h0m0-7h0m0 7h0m2 0h0m0-7h0m1 0h0m0 2h0m1 2h0m1 0h0m0-1h0m1 1h0m0 0h0m1 1h0m1 2h0m2-6h0m2 4h0m4-1h0m5-2h0m2-2h0m5 5h0m0-4h0m6-1h0m5 1h0m1-1h0m4 2h0m9-2h0m-99 9h0m4-1h0m2 1h0m3 3h0m3-2h0m2 4h0m0 0h0m2-5h0m1 0h0m1 0h0m2 1h0m1-1h0m2 3h0m1-3h0m1 2h0m4-2h0m0 0h0m4 5h0m1-3h0m1 0h0m0-1h0m2 0h0m0 3h0m1-5h0m0 7h0m2 0h0m0-2h0m2 1h0m0-4h0m0 5h0m2-1h0m0-6h0m1 6h0m0-4h0m2 1h0m0-1h0m2 0h0m1 5h0m1-4h0m0-2h0m1-1h0m0 3h0m1-2h0m3 4h0m0 1h0m3-1h0m2-1h0m0-4h0m1 1h0m1 0h0m1 0h0m4 1h0m1 5h0m1-1h0m2-5h0m4 2h0m2 3h0m2-5h0m2 0h0m3 6h0m3-3h0m33 0h0m-120 5h0m1 4h0m5 1h0m0-1h0m0-3h0m5 2h0m1-4h0m0 7h0m1-5h0m0 2h0m0 3h0m2-5h0m0 3h0m3-1h0m2 2h0m0-5h0m1 2h0m0 1h0m2-2h0m1 0h0m3 2h0m0 0h0m1 3h0m0-1h0m1-1h0m0-2h0m1 4h0m2-4h0m1-3h0m0 6h0m2-1h0m0 0h0m0-5h0m0 4h0m1-3h0m2 0h0m1 3h0m0 0h0m1 1h0m2-2h0m1 4h0m0-7h0m0 1h0m3 6h0m0-5h0m1 0h0m0-1h0m1 1h0m1 1h0m5 0h0m6-1h0m1 3h0m4-4h0m12 5h0m7-5h0m-84 11h0m1-3h0m2 3h0m3-2h0m0 3h0m1 0h0m2-1h0m1 3h0m1-7h0m0 2h0m2-2h0m0 3h0m1-1h0m1-1h0m0 2h0m2 3h0m1 1h0m2-7h0m2 7h0m4-2h0m2 2h0m1-1h0m0-5h0m1 2h0m2 1h0m1-2h0m1 3h0m0-5h0m2 2h0m2 2h0m2-2h0m0 4h0m1-4h0m1 5h0m1-6h0m1 0h0m1 1h0m1 5h0m0-4h0m4-2h0m0 5h0m2 1h0m6-7h0m2 6h0m0-3h0m4-1h0m1-1h0m6 2h0m3 3h0m1-6h0m4 0h0m2 5h0m-81 4h0m1-1h0m0 7h0m3-1h0m1 1h0m2-6h0m4 2h0m0-1h0m0 3h0m4-1h0m0 1h0m0-1h0m2-2h0m1-2h0m0 5h0m1-1h0m2-3h0m0 3h0m0 2h0m5 0h0m1 1h0m0-2h0m1-3h0m3 5h0m1-1h0m0 0h0m1-3h0m1 4h0m2-1h0m0-1h0m7-5h0m1 0h0m0 4h0m0 2h0m2-6h0m3 3h0m2-1h0m7 0h0m2 5h0m4-4h0m-65 11h0m2-6h0m0 5h0m2 0h0m0-4h0m1 2h0m0-3h0m1 3h0m0-3h0m1 3h0m0-3h0m2 2h0m0 1h0m0 3h0m2-4h0m1 3h0m1-4h0m1 6h0m1-5h0m3-2h0m3 1h0m0 2h0m1-2h0m2 2h0m0 3h0m0-3h0m1 4h0m2-2h0m0 1h0m1-1h0m1-3h0m1 0h0m0 1h0m2 0h0m0 4h0m2-3h0m0 3h0m0-2h0m1-1h0m1-3h0m0 1h0m1 3h0m2-3h0m6 0h0m0 0h0m3-2h0m3 1h0m0 5h0m18-2h0m-67 6h0m2 1h0m1 3h0m1-3h0m2 3h0m0-2h0m0-4h0m1 2h0m0-1h0m1-1h0m0 0h0m3 7h0m0-4h0m1 1h0m0 2h0m2-1h0m0-5h0m1 5h0m0 0h0m1-2h0m0 1h0m1-4h0m0 3h0m3-3h0m1 1h0m0-1h0m1 6h0m0-6h0m2 7h0m0-5h0m1 4h0m1-2h0m3-3h0m5 6h0m2-5h0m2 4h0m1-3h0m9-1h0m15 3h0m-65 6h0m5-2h0m5 2h0m5-2h0m1 1h0m2-1h0m1 2h0m1-3h0m1 0h0m4 0h0m2 3h0m11 0h0m4-3h0m4 1h0m16-1h0m9 1h0" stroke="#8cc25c" stroke-opacity="0.36" stroke-width="5.2" stroke-linecap="round" fill="none" transform="scale(.5)"/>
<path d="M1233 87h0m-97 39h0m29 13h0m31 3h0m-62 32h0m5-3h0m-4 9h0m14 2h0m21-4h0m-57 8h0m-63 19h0m26-3h0m-11 19h0m1-1h0m74 0h0m-44 19h0m-73 5h0m3-3h0m24 4h0m3-2h0m26-3h0m-30 13h0m7-3h0m-20 10h0m48-3h0m-7 12h0m-60 4h0m6 4h0m29 5h0m-46 11h0m13-1h0m20 0h0m-27 5h0m-6 20h0" stroke="#8cc25c" stroke-opacity="0.30" stroke-width="5.2" stroke-linecap="round" fill="none" transform="scale(.5)"/>
<path d="M1251 42h0m22 43h0m-48 5h0m-18 44h0m-71 18h0m35 13h0m-47 15h0m53 1h0m-56 3h0m23 2h0m-63 29h0m31-2h0m55 4h0m-87 7h0m15 1h0m-52 16h0m6 3h0m13 0h0m-3 11h0m3-2h0m3 0h0m-70 7h0m27 3h0m19-1h0m-16 7h0m1 4h0m3 1h0m-13 13h0m11-2h0m2-2h0m4-1h0m1-1h0m-23 13h0m14-4h0m-11 11h0m-2 5h0m12-1h0m-37 21h0" stroke="#8cc25c" stroke-opacity="0.30" stroke-width="5.2" stroke-linecap="round" fill="none" transform="scale(.5)"/>
<path d="M1274 39h0m15 12h0m-51 33h0m10-1h0m-91 40h0m82 2h0m-126 55h0m9 3h0m18-2h0m-47 12h0m4 0h0m27 5h0m3-3h0m-6 12h0m9-5h0m-26 10h0m-60 4h0m68 7h0m12-4h0m-65 12h0m51-7h0m-83 17h0m31-1h0m11 8h0m-62 8h0m25 3h0m0-2h0m8 4h0m3-1h0m-29 10h0m3 0h0m25-4h0m14-2h0m6 5h0m-43 3h0m1 7h0m21-7h0m-56 9h0m42 6h0m-2 6h0m-20 5h0m-4 17h0m36-3h0m-27 8h0" stroke="#8cc25c" stroke-opacity="0.30" stroke-width="5.2" stroke-linecap="round" fill="none" transform="scale(.5)"/>
<path d="M1224 74h0m24 11h0m-55 19h0m-13 13h0m69-1h0m-52 9h0m-43 18h0m38 31h0m-93 12h0m2 1h0m-22 12h0m11-6h0m12 5h0m17 2h0m-37 13h0m15 4h0m-37 9h0m29-2h0m-42 21h0m16-3h0m19 3h0m-64 6h0m2 6h0m3 3h0m1 1h0m20-3h0m51 2h0m-81 8h0m38-2h0m-29 8h0m1 5h0m-6 4h0m7 3h0m2-5h0m-15 20h0m-1 4h0m39 4h0m-45 4h0m6 2h0m1-3h0" stroke="#8cc25c" stroke-opacity="0.30" stroke-width="5.2" stroke-linecap="round" fill="none" transform="scale(.5)"/>
<path d="M1284 53h0m-112 70h0m-8 8h0m-53 29h0m6 26h0m4 3h0m28 9h0m-17 8h0m-75 4h0m33 0h0m-61 20h0m27-5h0m19-1h0m6 4h0m7 2h0m-46 3h0m82-1h0m-85 13h0m3-2h0m39-1h0m-31 7h0m3 6h0m-27 8h0m22-7h0m32 5h0m-47 4h0m7 6h0m9-4h0m-42 8h0m39-1h0m2-2h0m-16 27h0m-28 7h0m-11 10h0m15 1h0m7 3h0m-23 13h0" stroke="#8cc25c" stroke-opacity="0.30" stroke-width="5.2" stroke-linecap="round" fill="none" transform="scale(.5)"/>
<path d="M1240 67h0m-5 19h0m-62 15h0m-19 26h0m28 21h0m-61 26h0m27-3h0m2 0h0m-27 9h0m34 17h0m-74 10h0m-29 12h0m35-3h0m27 2h0m-59 23h0m5 4h0m1-4h0m6 6h0m6-3h0m19 3h0m-65 7h0m-25 4h0m14 0h0m16-2h0m-23 13h0m16-4h0m17 3h0m0-3h0m26 1h0m-67 16h0m16 1h0m10 2h0m25-3h0m-22 13h0m-15 3h0m-19 21h0" stroke="#8cc25c" stroke-opacity="0.30" stroke-width="5.2" stroke-linecap="round" fill="none" transform="scale(.5)"/>
<path d="M1239 65h0m-50 70h0m2 10h0m-64 24h0m23 2h0m-47 9h0m16 1h0m25 0h0m-51 32h0m24-4h0m-68 13h0m-5 4h0m11-2h0m22 2h0m1-2h0m8 7h0m17 0h0m-69 8h0m28 8h0m25 0h0m9-2h0m-21 4h0m16 1h0m-53 7h0m12 0h0m2-1h0m22 3h0m-43 7h0m5 6h0m-8 8h0m1 3h0m0-2h0m-17 13h0m20-4h0m-29 8h0m7 1h0m10-2h0" stroke="#8cc25c" stroke-opacity="0.30" stroke-width="5.2" stroke-linecap="round" fill="none" transform="scale(.5)"/>
<path d="M1249 80h0m-21 19h0m-49 9h0m-11 27h0m4 4h0m-46 9h0m2 6h0m20 11h0m-29 25h0m-15 9h0m21-2h0m-39 18h0m7 3h0m6 3h0m-47 7h0m1 2h0m1 0h0m12 0h0m40-3h0m-58 7h0m29 5h0m-22 4h0m14 1h0m7 10h0m-39 2h0m6 7h0m-16 1h0m29 2h0m1 3h0m5-4h0m-39 13h0m15 0h0m14-5h0m-54 13h0m23 0h0m-11 4h0m-6 29h0m3 1h0m-9 15h0" stroke="#8cc25c" stroke-opacity="0.30" stroke-width="5.2" stroke-linecap="round" fill="none" transform="scale(.5)"/>
<path d="M1201 106h0m-75 30h0m23 14h0m-18 2h0m61 8h0m-82 17h0m11 5h0m-20 9h0m0-2h0m30 2h0m-94 7h0m55-4h0m24 5h0m1-5h0m-27 19h0m4-1h0m4 6h0m-60 7h0m12 14h0m22-1h0m-37 7h0m35-5h0m4 6h0m-55 8h0m-19 3h0m21 6h0m-24 7h0m69-1h0m-17 4h0m1 4h0m-60 4h0m33 6h0m7-6h0m20 3h0m-31 8h0m-15 20h0m3 1h0m28-1h0m-17 10h0m-20 9h0" stroke="#8cc25c" stroke-opacity="0.30" stroke-width="5.2" stroke-linecap="round" fill="none" transform="scale(.5)"/>
<path d="M1293 59h0m-54 26h0m-25 20h0m-33 10h0m-11 36h0m-21 20h0m-53 5h0m-13 30h0m47 2h0m-63 11h0m27-2h0m8 2h0m-74 6h0m18 6h0m12-2h0m7 1h0m37-6h0m4 1h0m-59 10h0m5-3h0m26 7h0m6-6h0m-23 9h0m33-2h0m11 3h0m-41 6h0m12 2h0m6-1h0m-83 12h0m39-4h0m-2 7h0m5 0h0m-37 7h0m21 0h0m7 4h0m-3 6h0m-1 9h0m-11 18h0m16-1h0m-19 17h0" stroke="#8cc25c" stroke-opacity="0.30" stroke-width="5.2" stroke-linecap="round" fill="none" transform="scale(.5)"/>
<path d="M1160 95h0m-30 45h0m4 16h0m-6 15h0m-113 7h0m77 9h0m28-3h0m-23 11h0m-40 10h0m36-3h0m-88 23h0m82 1h0m-70 12h0m-20 6h0m35-2h0m17 5h0m-34 5h0m56 3h0m-11 4h0m-93 19h0m47 30h0m-39 29h0" stroke="#8c9096" stroke-opacity="0.28" stroke-width="5.2" stroke-linecap="round" fill="none" transform="scale(.5)"/>
<path d="M1245 80h0m-87 36h0m-79 32h0m57 2h0m-86 7h0m78-2h0m-34 12h0m-16 5h0m-52 41h0m29-5h0m-21 24h0m-19 17h0m59 3h0m-84 10h0m14-2h0m12 0h0m-53 10h0m37 7h0m1 34h0m-4 10h0m-24 12h0" stroke="#8c9096" stroke-opacity="0.28" stroke-width="5.2" stroke-linecap="round" fill="none" transform="scale(.5)"/>
<path d="M1145 171h0m-59 9h0m4-3h0m59 1h0m-80 12h0m40-4h0m2 9h0m7-1h0m-104 9h0m5 26h0m61-3h0m-60 8h0m13 2h0m-40 8h0m-15 11h0m10-7h0m16 11h0m28 0h0m-1 6h0m-79 8h0m7 5h0m13-4h0m-11 9h0m4 1h0m-15 10h0m69 4h0m29-1h0m-30 20h0m5 15h0m-67 8h0" stroke="#8c9096" stroke-opacity="0.28" stroke-width="5.2" stroke-linecap="round" fill="none" transform="scale(.5)"/>
<path d="M1266 32h0m-22 58h0m-95 42h0m3 6h0m-133 17h0m104 1h0m15-3h0m-141 13h0m97 9h0m21-1h0m-11 2h0m-70 13h0m67 2h0m-77 34h0m-38 13h0m94 3h0m-118 14h0m49-6h0m52 0h0m-68 8h0m7 13h0m11 15h0m0 23h0m6 0h0m-17 29h0" stroke="#8c9096" stroke-opacity="0.28" stroke-width="5.2" stroke-linecap="round" fill="none" transform="scale(.5)"/>
<path d="M1222 28h0m-35 52h0m-85 30h0m-35 54h0m27 17h0m-83 8h0m48 3h0m32 3h0m-72 28h0m21-2h0m30-5h0m-38 20h0m14-2h0m17 5h0m-69 4h0m6-2h0m14 3h0m-41 11h0m38 6h0m12-3h0m-43 14h0m2 4h0m65-1h0m-62 12h0" stroke="#8c9096" stroke-opacity="0.28" stroke-width="5.2" stroke-linecap="round" fill="none" transform="scale(.5)"/>
<path d="M1280 43h0m-78 26h0m-49 16h0m52 24h0m1 2h0m-52 7h0m2-4h0m-106 19h0m61 22h0m25-1h0m-85 38h0m19 0h0m-13 15h0m28 10h0m-71 16h0m65 2h0m-50 7h0m-43 11h0m36-3h0m7 15h0m16 1h0m-80 7h0m56 14h0m48-2h0" stroke="#8c9096" stroke-opacity="0.28" stroke-width="5.2" stroke-linecap="round" fill="none" transform="scale(.5)"/>
<path d="M1224 63h0m-27 8h0m-113 8h0m28 1h0m26 62h0m-30 8h0m-73 34h0m21 1h0m48 5h0m-71 5h0m63 4h0m9-4h0m-53 18h0m37 0h0m-94 23h0m26-4h0m-37 14h0m6 0h0m43 12h0m2 4h0m-58 20h0m11 0h0m36-1h0m-17 19h0m8-3h0m21 7h0m-31 12h0m7-1h0" stroke="#8c9096" stroke-opacity="0.28" stroke-width="5.2" stroke-linecap="round" fill="none" transform="scale(.5)"/>
<path d="M1229 66h0m-19 6h0m-38 45h0m-110 52h0m-3 11h0m1-3h0m-28 9h0m-5 10h0m-14 10h0m3 1h0m55 8h0m-45 10h0m48 1h0m-34 6h0m47 2h0m-96 20h0m10 3h0m16 1h0m17 2h0m-39 10h0m35 4h0m-9 16h0m12 10h0" stroke="#8c9096" stroke-opacity="0.28" stroke-width="5.2" stroke-linecap="round" fill="none" transform="scale(.5)"/>
<path d="M1288 52h0m-79 41h0m-39 13h0m2 2h0m1 0h0m10 13h0m-42 18h0m-20 22h0m-59 12h0m24 13h0m-51 8h0m81 7h0m-82 15h0m6 15h0m-19 2h0m10 15h0m13 6h0m-35 12h0m12-1h0m20 4h0m-75 9h0m54-1h0m-58 14h0" stroke="#8c9096" stroke-opacity="0.28" stroke-width="5.2" stroke-linecap="round" fill="none" transform="scale(.5)"/>
<path d="M1181 42h0m54 26h0m-121 64h0m-39 23h0m55-2h0m-9 17h0m19 12h0m-46 4h0m17 34h0m-42 5h0m13 5h0m-18 4h0m20-1h0m14-1h0m-90 8h0m5 11h0m25 4h0m5-3h0m-13 5h0m23 1h0m-30 11h0m-49 6h0m44 4h0m56-3h0m-117 10h0m13-3h0" stroke="#8c9096" stroke-opacity="0.28" stroke-width="5.2" stroke-linecap="round" fill="none" transform="scale(.5)"/>
</g>
<line x1="479.60" y1="165.60" x2="645.30" y2="15.10" stroke="#a2a2a2" stroke-width="1.0"/>
<path d="M479.15 15.10H645.30V165.60H479.15" fill="none" stroke="#262626" stroke-width="0.9"/>
<path d="M479.95 14.65V166.05" fill="none" stroke="#2a2a2a" stroke-width="0.95"/>
<path d="M479.60 165.60v3M479.60 165.60h-3M503.27 165.60v3M479.60 144.10h-3M526.94 165.60v3M479.60 122.60h-3M550.61 165.60v3M479.60 101.10h-3M574.29 165.60v3M479.60 79.60h-3M597.96 165.60v3M479.60 58.10h-3M621.63 165.60v3M479.60 36.60h-3M645.30 165.60v3M479.60 15.10h-3" stroke="#262626" stroke-width="0.9" fill="none"/>
<text x="480.20" y="179.00" font-size="10.4" text-anchor="middle" fill="#111">5</text>
<text x="474.70" y="170.00" font-size="10.4" text-anchor="end" fill="#111">5</text>
<text x="503.87" y="179.00" font-size="10.4" text-anchor="middle" fill="#111">6</text>
<text x="474.70" y="148.50" font-size="10.4" text-anchor="end" fill="#111">6</text>
<text x="527.54" y="179.00" font-size="10.4" text-anchor="middle" fill="#111">7</text>
<text x="474.70" y="127.00" font-size="10.4" text-anchor="end" fill="#111">7</text>
<text x="551.21" y="179.00" font-size="10.4" text-anchor="middle" fill="#111">8</text>
<text x="474.70" y="105.50" font-size="10.4" text-anchor="end" fill="#111">8</text>
<text x="574.89" y="179.00" font-size="10.4" text-anchor="middle" fill="#111">9</text>
<text x="474.70" y="84.00" font-size="10.4" text-anchor="end" fill="#111">9</text>
<text x="598.56" y="179.00" font-size="10.4" text-anchor="middle" fill="#111">10</text>
<text x="474.70" y="62.50" font-size="10.4" text-anchor="end" fill="#111">10</text>
<text x="622.23" y="179.00" font-size="10.4" text-anchor="middle" fill="#111">11</text>
<text x="474.70" y="41.00" font-size="10.4" text-anchor="end" fill="#111">11</text>
<text x="645.90" y="179.00" font-size="10.4" text-anchor="middle" fill="#111">12</text>
<text x="474.70" y="19.50" font-size="10.4" text-anchor="end" fill="#111">12</text>
<text x="563.15" y="9.50" font-size="12.5" text-anchor="middle" fill="#111">GD (MV)</text>
<text x="562.45" y="190.70" font-size="12.5" text-anchor="middle" fill="#111">ln(Truth)</text>
<text x="488.60" y="31.50" font-size="12.2" font-weight="bold" fill="#111">(c)</text>
<text x="639.10" y="142.60" font-size="12.5" text-anchor="end" fill="#111">R<tspan font-size="8.7" dy="-4.6">2</tspan><tspan dy="4.6">=0.93</tspan></text>
<text x="639.10" y="157.80" font-size="12.5" text-anchor="end" fill="#111">R<tspan font-size="8.7" dy="-4.6">2</tspan><tspan font-size="8.7" font-style="italic" dx="-4.6" dy="7.4">l</tspan><tspan dx="2.7" dy="-2.8">=0.86</tspan></text>
<g fill="#a6d088" stroke="#5c8646" stroke-width="0.4"><rect x="651.50" y="160.35" width="33.00" height="5.25"/><rect x="651.50" y="155.09" width="32.34" height="5.25"/><rect x="651.50" y="149.84" width="28.38" height="5.25"/><rect x="651.50" y="144.58" width="25.08" height="5.25"/><rect x="651.50" y="139.33" width="21.45" height="5.25"/><rect x="651.50" y="134.07" width="18.15" height="5.25"/><rect x="651.50" y="128.82" width="15.18" height="5.25"/><rect x="651.50" y="123.56" width="12.54" height="5.25"/><rect x="651.50" y="118.31" width="10.23" height="5.25"/><rect x="651.50" y="113.05" width="8.58" height="5.25"/><rect x="651.50" y="107.80" width="6.93" height="5.25"/><rect x="651.50" y="102.54" width="5.61" height="5.25"/><rect x="651.50" y="97.29" width="4.62" height="5.25"/><rect x="651.50" y="92.04" width="3.96" height="5.25"/><rect x="651.50" y="86.78" width="3.29" height="5.25"/><rect x="651.50" y="81.53" width="2.73" height="5.25"/><rect x="651.50" y="76.27" width="2.26" height="5.25"/><rect x="651.50" y="71.02" width="1.88" height="5.25"/><rect x="651.50" y="65.76" width="1.56" height="5.25"/><rect x="651.50" y="60.51" width="1.29" height="5.25"/><rect x="651.50" y="55.25" width="1.07" height="5.25"/><rect x="651.50" y="50.00" width="0.89" height="5.25"/><rect x="651.50" y="44.74" width="0.74" height="5.25"/><rect x="651.50" y="39.49" width="0.61" height="5.25"/><rect x="651.50" y="34.24" width="0.51" height="5.25"/><rect x="651.50" y="28.98" width="0.42" height="5.25"/><rect x="651.50" y="23.73" width="0.35" height="5.25"/></g>
<g fill="none" stroke="#2a2a2a" stroke-width="0.42"><rect x="651.50" y="160.35" width="33.00" height="5.25"/><rect x="651.50" y="155.09" width="33.00" height="5.25"/><rect x="651.50" y="149.84" width="27.72" height="5.25"/><rect x="651.50" y="144.58" width="25.08" height="5.25"/><rect x="651.50" y="139.33" width="21.45" height="5.25"/><rect x="651.50" y="134.07" width="18.48" height="5.25"/><rect x="651.50" y="128.82" width="15.51" height="5.25"/><rect x="651.50" y="123.56" width="12.54" height="5.25"/><rect x="651.50" y="118.31" width="10.23" height="5.25"/><rect x="651.50" y="113.05" width="8.58" height="5.25"/><rect x="651.50" y="107.80" width="6.93" height="5.25"/><rect x="651.50" y="102.54" width="5.94" height="5.25"/><rect x="651.50" y="97.29" width="4.95" height="5.25"/><rect x="651.50" y="92.04" width="4.29" height="5.25"/><rect x="651.50" y="86.78" width="3.63" height="5.25"/><rect x="651.50" y="81.53" width="2.97" height="5.25"/><rect x="651.50" y="76.27" width="2.48" height="5.25"/><rect x="651.50" y="71.02" width="1.98" height="5.25"/><rect x="651.50" y="65.76" width="1.65" height="5.25"/><rect x="651.50" y="60.51" width="1.32" height="5.25"/><rect x="651.50" y="55.25" width="1.09" height="5.25"/><rect x="651.50" y="50.00" width="0.89" height="5.25"/><rect x="651.50" y="44.74" width="0.73" height="5.25"/><rect x="651.50" y="39.49" width="0.59" height="5.25"/><rect x="651.50" y="34.24" width="0.46" height="5.25"/><rect x="651.50" y="28.98" width="0.38" height="5.25"/><rect x="651.50" y="23.73" width="0.32" height="5.25"/></g>
<rect x="651.50" y="15.10" width="33.00" height="150.50" fill="none" stroke="#262626" stroke-width="0.9"/>
<clipPath id="c3"><rect x="29.60" y="210.70" width="165.70" height="150.50"/></clipPath>
<g clip-path="url(#c3)">
<polygon points="5.9,307.1 219.0,87.8 219.0,213.0 5.9,432.2" fill="#fdf4de"/>
<line x1="5.93" y1="372.55" x2="195.30" y2="177.68" stroke="#d9bd62" stroke-width="1.20" stroke-dasharray="4.2,2.3"/>
<path d="M140 549h0m20 18h0m34-3h0m-103 7h0m-10 12h0m43-1h0m10 1h0m28 2h0m11-1h0m7 5h0m-104 10h0m36-3h0m8-4h0m5 7h0m8-3h0m5-1h0m17 0h0m-83 12h0m17-1h0m6-1h0m3-2h0m13 3h0m1-1h0m17 1h0m2-2h0m37 1h0m14-4h0m-98 13h0m14-4h0m12 3h0m7 1h0m6-2h0m31 1h0m-67 9h0m12 1h0m1-7h0m9 0h0m0 7h0m7-1h0m2-2h0m1 1h0m3-2h0m13 1h0m2-2h0m7 0h0m7-2h0m3 4h0m14 3h0m6-3h0m7-2h0m-130 13h0m39-3h0m4 0h0m5 2h0m0-6h0m0 2h0m2 2h0m9 1h0m6 1h0m4-5h0m0 3h0m8 0h0m12-1h0m1 3h0m4-4h0m1 4h0m2-2h0m29 0h0m-100 8h0m1-4h0m3 4h0m19-3h0m2 6h0m2-5h0m2 3h0m1 0h0m10-4h0m1 6h0m5-2h0m9-4h0m2 5h0m7-5h0m5 5h0m9-4h0m-103 11h0m12-2h0m1 3h0m4-6h0m5 3h0m2-2h0m4-1h0m2 3h0m2-1h0m5 2h0m0 0h0m1-4h0m6 1h0m9 6h0m1-2h0m0 2h0m3-3h0m4-2h0m8-1h0m0 0h0m5 1h0m4 0h0m4-1h0m1 1h0m3 5h0m12-5h0m2-1h0m17 3h0m13 3h0m-127 8h0m4-5h0m9-1h0m5 6h0m11-5h0m0 1h0m6-3h0m5 3h0m0-1h0m0 2h0m5 1h0m3-1h0m4 2h0m1 1h0m5-2h0m0 2h0m1-2h0m6-2h0m0-2h0m2 3h0m3-3h0m4-1h0m4 2h0m18 1h0m3 4h0m-91 8h0m5-2h0m3 1h0m3-5h0m1 2h0m2 4h0m0-4h0m2 0h0m4 4h0m3-2h0m0-1h0m0-1h0m2 1h0m2-3h0m1 0h0m2 4h0m3-5h0m0 1h0m1-1h0m1 6h0m2-1h0m8 0h0m0 2h0m4-6h0m3 5h0m1-1h0m2-4h0m1 4h0m5-4h0m0 3h0m3-4h0m5 5h0m1 2h0m4-7h0m0 2h0m2 2h0m16 3h0m-105 6h0m1 2h0m0 0h0m2-6h0m4 0h0m6 5h0m4-6h0m0 5h0m2-4h0m0 5h0m5 1h0m0-7h0m0 6h0m0-5h0m2 4h0m6-3h0m3 1h0m3 0h0m1-2h0m2 0h0m2 0h0m5 6h0m0-7h0m2 1h0m1 3h0m4 0h0m3 2h0m3-3h0m7-1h0m1 1h0m2-1h0m1-1h0m1-1h0m7 5h0m6-5h0m2 0h0m1 3h0m8 0h0m14 3h0m-110 3h0m0 6h0m1-5h0m0 0h0m0 0h0m5 2h0m0 3h0m8-4h0m1 4h0m2 0h0m2-4h0m0 4h0m0-3h0m0 3h0m1-4h0m0-2h0m3-1h0m0 7h0m2-7h0m2 7h0m0-3h0m5 3h0m1-7h0m8 0h0m1 2h0m3 1h0m1-2h0m3 4h0m2 2h0m4-2h0m0 1h0m2-5h0m1 0h0m0-1h0m2 6h0m9 0h0m2-3h0m1 3h0m3-4h0m5 1h0m26 3h0m7-1h0m-113 9h0m1-1h0m4 1h0m0 0h0m1-3h0m5-3h0m4 6h0m0-5h0m2 5h0m1-5h0m0 3h0m0-1h0m0 4h0m3 0h0m4-3h0m7-3h0m0-1h0m0 1h0m2 4h0m3-2h0m3 3h0m5 1h0m2 0h0m0 0h0m1-7h0m1 5h0m1-3h0m2-1h0m4 4h0m5 2h0m5-5h0m7 5h0m2-3h0m1-3h0m4-1h0m1 4h0m6 0h0m8 2h0m18-6h0m-114 10h0m2 1h0m2 3h0m3 0h0m2 0h0m1-5h0m5 6h0m1 0h0m9-6h0m7 4h0m0 0h0m5-1h0m3 0h0m0-2h0m4-2h0m2 1h0m0 5h0m1-3h0m3 0h0m1 4h0m4-3h0m0 2h0m9-1h0m8-5h0m8 0h0m0 1h0m10 6h0m-90 8h0m2 0h0m0-2h0m0-1h0m1 0h0m6 0h0m0 0h0m3-3h0m1-1h0m1 7h0m0-2h0m1-5h0m2 5h0m16 0h0m2-4h0m5 4h0m1-3h0m0 3h0m1-2h0m2 2h0m0 0h0m2-3h0m0 4h0m7-4h0m3 2h0m23 1h0m13-4h0m-92 13h0m2 1h0m2-5h0m1 5h0m1-1h0m7 0h0m0 1h0m0-3h0m1 2h0m0-3h0m5-1h0m1-1h0m1 4h0m0-2h0m4-2h0m0 4h0m4 2h0m0-1h0m1-6h0m5 4h0m1-3h0m2 0h0m1 6h0m0-2h0m1 0h0m3 2h0m1-1h0m1 0h0m6 0h0m9-1h0m12 2h0m19 0h0m1-2h0m-92 5h0m1 1h0m0 3h0m5-2h0m2-1h0m3 2h0m2-2h0m3 2h0m0-1h0m1 3h0m0-4h0m0 2h0m2 1h0m1-5h0m2-1h0m9 1h0m2 4h0m7-3h0m1-2h0m1 1h0m10 4h0m0-2h0m16 4h0m-67 8h0m0 0h0m0-7h0m2 4h0m2-1h0m1 0h0m1-1h0m0 3h0m2-1h0m0 1h0m1 2h0m4 0h0m2 0h0m1 0h0m1-7h0m1 3h0m1 4h0m5-6h0m2 0h0m2-1h0m1 0h0m2 7h0m0-1h0m1-3h0m1 0h0m15 3h0m0-4h0m1 4h0m0-6h0m1 0h0m2 4h0m6 1h0m6 1h0m20-6h0m-82 11h0m0-3h0m8 3h0m6 0h0m19 0h0m6-1h0m46 1h0" stroke="#f3c14f" stroke-opacity="0.25" stroke-width="5.2" stroke-linecap="round" fill="none" transform="scale(.5)"/>
<path d="M131 539h0m45 0h0m-53 10h0m50-2h0m41 2h0m-107 6h0m88 12h0m7-5h0m-19 9h0m-30 11h0m32 1h0m22-5h0m-93 9h0m29-1h0m7-2h0m20 0h0m3 3h0m22 1h0m-81 7h0m11-2h0m-51 10h0m6-1h0m20-1h0m28 2h0m7-2h0m4-1h0m13 3h0m17-2h0m-99 14h0m21-6h0m30-1h0m3 1h0m3 2h0m58 1h0m1 1h0m5 1h0m-134 6h0m12-1h0m2-1h0m12 4h0m10-6h0m5 3h0m2 1h0m8-1h0m3 0h0m14 4h0m2-5h0m16-1h0m2 3h0m11-3h0m1 2h0m6-2h0m-101 12h0m2-4h0m3 4h0m5 1h0m7-4h0m2 4h0m21 1h0m5 0h0m10-5h0m4 4h0m3-2h0m6-1h0m1-1h0m1 3h0m3-4h0m1 3h0m3-3h0m5-1h0m1 4h0m2-2h0m24 0h0m-116 8h0m4 5h0m5-6h0m11 0h0m9 5h0m9-1h0m6 0h0m4 1h0m1-3h0m1 2h0m3-4h0m2 2h0m5-2h0m7 0h0m4 6h0m0-6h0m2 3h0m3-1h0m4 0h0m1 0h0m2 0h0m3 4h0m5-4h0m1 0h0m1 3h0m3-1h0m4 1h0m-97 8h0m14-1h0m11 2h0m1-7h0m3 2h0m1 1h0m3 3h0m2-3h0m1 0h0m2-3h0m0 1h0m4 3h0m4 3h0m2-2h0m1-4h0m1 0h0m6-1h0m2 6h0m1-6h0m1 7h0m8-7h0m3 2h0m0 3h0m5-2h0m4 0h0m4 2h0m6-2h0m6-1h0m18-1h0m-116 13h0m13 1h0m1 0h0m4-7h0m2 0h0m11 3h0m0 0h0m4-2h0m0 0h0m4 2h0m4 3h0m0-4h0m1 5h0m0-3h0m6-3h0m1 5h0m4 0h0m2-3h0m2-3h0m0 1h0m3 0h0m0 3h0m3-3h0m1 2h0m2-2h0m4 4h0m5-1h0m5 0h0m3-1h0m20 4h0m2-5h0m7 5h0m-118 6h0m4 1h0m6-2h0m9 3h0m5-3h0m1-1h0m3 4h0m8-4h0m3-3h0m3 2h0m2-1h0m1 1h0m3 4h0m1-2h0m0-4h0m4 6h0m3-4h0m5 4h0m1-4h0m0 2h0m1 0h0m1-2h0m0 0h0m1-1h0m0 1h0m5 3h0m4-4h0m5 1h0m14 3h0m4-4h0m22 2h0m1 2h0m-116 4h0m0 0h0m6 0h0m2-1h0m4 3h0m1-1h0m5 3h0m6-1h0m5-4h0m1 3h0m2-3h0m4 2h0m1 5h0m2 0h0m0-5h0m0 1h0m2 1h0m0-1h0m0-2h0m2 3h0m5 3h0m2-2h0m3-2h0m3 3h0m11-1h0m2-4h0m1 4h0m2-4h0m3 3h0m0-3h0m2 4h0m4-5h0m-85 11h0m6-2h0m2 6h0m8-5h0m1 5h0m1-4h0m1 3h0m1-3h0m1-2h0m3 4h0m0-2h0m2-3h0m0 1h0m3 4h0m2-3h0m1 2h0m2-3h0m4 6h0m4-1h0m7-6h0m5 6h0m9-2h0m0 1h0m9-5h0m17 5h0m16 2h0m17-2h0m-118 7h0m2 1h0m1-1h0m1-1h0m0-1h0m1 3h0m0-4h0m2 4h0m6-5h0m2 0h0m1 7h0m1-3h0m1-2h0m2 4h0m1-2h0m0-3h0m2-1h0m1 0h0m2 3h0m3-2h0m1 0h0m4 2h0m2 4h0m1-2h0m0-5h0m2 6h0m2-6h0m0 0h0m2 6h0m2-2h0m1-1h0m1-1h0m8 2h0m3 3h0m0-2h0m1 1h0m1-4h0m3 4h0m4-5h0m0 2h0m2 0h0m2-3h0m18 1h0m1 5h0m-95 4h0m1 5h0m0-3h0m1-3h0m1 5h0m3-2h0m1 2h0m1-3h0m7 4h0m3 0h0m1-7h0m3 7h0m0-7h0m0 4h0m1 3h0m0-4h0m1 0h0m1 0h0m0-1h0m3 1h0m0 1h0m2 1h0m6-1h0m1-3h0m1 1h0m0-1h0m8 3h0m4-3h0m3 1h0m3-1h0m2 6h0m4-3h0m18-4h0m-80 12h0m2-4h0m4 4h0m2 3h0m4-7h0m3 4h0m2-4h0m0 6h0m3-4h0m1 2h0m0 1h0m2 0h0m0 2h0m2-3h0m2-1h0m2 4h0m0-3h0m1-1h0m7-2h0m1 0h0m0 3h0m1-3h0m0 2h0m3-3h0m3 6h0m9 1h0m2-4h0m1-1h0m9-1h0m1 4h0m3 1h0m6 1h0m2-3h0m12-4h0m2 2h0m-92 8h0m3 2h0m5-3h0m1 2h0m1 1h0m2 1h0m0 2h0m1-7h0m2 4h0m0 2h0m0 1h0m1-2h0m1 2h0m0-7h0m1 3h0m3 2h0m11-1h0m0 2h0m0-6h0m5 2h0m1 0h0m5-2h0m8 6h0m1 0h0m2-6h0m7 2h0m6-1h0m8 3h0m-72 11h0m0-3h0m1-2h0m0 2h0m1 0h0m2-2h0m2 5h0m1 0h0m0-5h0m1 1h0m0 4h0m1-3h0m1 3h0m2-6h0m4 5h0m8 0h0m0 1h0m9-3h0m2 2h0m0-5h0m1 5h0m1 1h0m3-4h0m0 3h0m6-2h0m6 2h0m1-2h0m8 0h0m-64 10h0m1-5h0m1 3h0m1-1h0m1 1h0m1 2h0m4-4h0m2 2h0m7-3h0m7 0h0m0 5h0m0 1h0m2-6h0m2 3h0m3-4h0m1 1h0m3 4h0m3-1h0m6 1h0m1-3h0m3 1h0m5 3h0m0-3h0m2 4h0m7 0h0m18-5h0m0 0h0m4 0h0m-86 9h0m5 0h0m6-3h0m0 3h0m1-1h0m2 0h0m0-1h0m18 0h0m20 1h0m4-2h0m2 1h0m2 0h0m0 1h0m6-2h0" stroke="#f3c14f" stroke-opacity="0.25" stroke-width="5.2" stroke-linecap="round" fill="none" transform="scale(.5)"/>
<path d="M156 562h0m19 10h0m30 2h0m-91 2h0m33 4h0m-71 5h0m41-1h0m1 6h0m16-4h0m11 2h0m5-4h0m23 5h0m-56 8h0m0-5h0m23 0h0m2 2h0m56 0h0m-82 7h0m3 3h0m1-1h0m18-3h0m2 2h0m53 3h0m31-4h0m-163 14h0m35-2h0m18 0h0m1-4h0m0 4h0m23-1h0m13 1h0m5-4h0m5 0h0m10 3h0m1-4h0m0 7h0m5-1h0m9-3h0m-94 9h0m23 3h0m5-3h0m11-1h0m22 2h0m4-2h0m9 3h0m5-3h0m35-1h0m-137 6h0m2 7h0m10-4h0m6-1h0m6-1h0m13 2h0m9 2h0m1-5h0m8 0h0m6 0h0m7 3h0m11-3h0m5 2h0m4-1h0m18 4h0m-118 10h0m4 0h0m4-2h0m22 2h0m4-5h0m0-2h0m1 5h0m3-5h0m2 6h0m3 1h0m0-7h0m5 2h0m1-1h0m5 2h0m3-2h0m6 1h0m0 2h0m1-1h0m0 1h0m2-1h0m0 3h0m4-2h0m2 0h0m6 2h0m8-3h0m5-2h0m2 0h0m3 6h0m3-7h0m7 7h0m22-4h0m10 2h0m-144 5h0m1 3h0m14 0h0m6-2h0m4 0h0m1-3h0m2 0h0m4 6h0m11-5h0m0 6h0m3 0h0m1-5h0m2 1h0m5 4h0m0-1h0m2-6h0m0 1h0m7 3h0m17 0h0m4-2h0m7 4h0m25 0h0m27-4h0m-138 12h0m1-1h0m1-5h0m12 4h0m2-4h0m4 2h0m3 0h0m2-1h0m1 6h0m0-4h0m0-3h0m6 3h0m2-1h0m5 0h0m8 3h0m0-3h0m3 2h0m11-2h0m1 3h0m1-5h0m3 1h0m5 4h0m4-3h0m4-1h0m15 1h0m15 0h0m25-2h0m-138 15h0m3-5h0m1-2h0m9 4h0m1-4h0m1 5h0m2-1h0m2-3h0m2 4h0m3 0h0m3-4h0m4 2h0m0-1h0m14 4h0m3-3h0m1 3h0m2-6h0m1 2h0m0 4h0m3-4h0m1 2h0m0 3h0m0-7h0m4 5h0m2-3h0m0 5h0m3-3h0m7 0h0m13-3h0m9 0h0m-94 13h0m5-1h0m0-3h0m3 3h0m10-1h0m1 1h0m9-2h0m0 0h0m5 3h0m2-1h0m1-4h0m3 5h0m1 0h0m0 1h0m0 0h0m0 0h0m3-2h0m1 0h0m0-4h0m1 3h0m0 0h0m7 0h0m1 1h0m2 2h0m5-2h0m5 1h0m6-1h0m1-5h0m4 0h0m2 5h0m5 0h0m1 0h0m12 2h0m0-6h0m9 4h0m-107 8h0m6-1h0m8 1h0m0 0h0m0 1h0m3-3h0m1-3h0m1 1h0m1 5h0m3-1h0m1-1h0m1-2h0m7 4h0m3-3h0m1-2h0m2 3h0m0 3h0m4-5h0m0 4h0m2-2h0m2-3h0m3 4h0m0 2h0m0-6h0m2 1h0m0 2h0m3 3h0m0-3h0m5-4h0m5 1h0m2 2h0m0 3h0m5-4h0m5 3h0m5-1h0m0-4h0m4 2h0m69-2h0m-147 13h0m3 0h0m1-1h0m0-3h0m5 3h0m0-2h0m1 2h0m1-4h0m3 0h0m7 0h0m2 2h0m3-1h0m10 4h0m1 1h0m2-3h0m7 3h0m1-2h0m1-3h0m1-1h0m0 5h0m8-5h0m9 3h0m9-3h0m4 0h0m25 5h0m21-5h0m-129 13h0m2 1h0m3-6h0m4 4h0m1 2h0m1-6h0m3 6h0m1-1h0m3-4h0m0 5h0m3-2h0m0 3h0m5 0h0m1-3h0m0 3h0m1-4h0m0 1h0m1 3h0m0-6h0m0 3h0m17 0h0m1-2h0m3 0h0m3 1h0m9 0h0m1 3h0m2 1h0m0-3h0m4-3h0m0 4h0m1-5h0m0 3h0m4-3h0m7 1h0m-83 12h0m1-5h0m1 2h0m4 4h0m1-2h0m1 1h0m4-3h0m2 1h0m0-1h0m1 0h0m0-1h0m1 2h0m4 1h0m5 1h0m3-4h0m3-1h0m7 2h0m1 0h0m5 5h0m1-3h0m0 2h0m0-5h0m0 4h0m2 2h0m0-7h0m3 6h0m5-1h0m4 2h0m8-6h0m3-1h0m1 6h0m5-6h0m8 1h0m6 6h0m7-6h0m22 5h0m-112 2h0m6 1h0m1 2h0m0-2h0m2-1h0m1 3h0m0-3h0m2 5h0m1-3h0m0 0h0m1-1h0m3 1h0m1 2h0m3 3h0m1 0h0m2-6h0m1 4h0m1 0h0m3-1h0m4-3h0m2 3h0m2 2h0m13-3h0m0 4h0m10-2h0m29-1h0m1 2h0m-97 2h0m1 6h0m1-3h0m1 0h0m5 0h0m5-3h0m1 1h0m5-1h0m0 2h0m0 5h0m1-1h0m0 0h0m3-3h0m3 0h0m2 4h0m2-7h0m1 5h0m2-2h0m3 1h0m3 1h0m2-4h0m4 1h0m1 4h0m13-6h0m6 5h0m33-4h0m9 6h0m-107 7h0m1-5h0m2 3h0m0 3h0m0-2h0m0 1h0m3-2h0m2 0h0m9-1h0m1 2h0m0-4h0m2 6h0m2-3h0m1-1h0m2 2h0m1 1h0m1-4h0m0 1h0m2 2h0m2-5h0m1 6h0m2-1h0m1-5h0m3 2h0m0-1h0m4 5h0m0-6h0m2 7h0m4-1h0m5-6h0m0 4h0m12-3h0m25 3h0m-85 5h0m17 0h0m1 1h0m5 0h0m2 0h0m1-2h0m29 3h0m11-3h0" stroke="#f3c14f" stroke-opacity="0.25" stroke-width="5.2" stroke-linecap="round" fill="none" transform="scale(.5)"/>
<path d="M168 535h0m2 24h0m-37 7h0m11 1h0m2-3h0m61 11h0m-73 4h0m31 0h0m5 2h0m-94 7h0m56-2h0m3 5h0m3-3h0m6-1h0m1 4h0m5-6h0m-72 11h0m49 1h0m27-2h0m-83 11h0m24-2h0m1-2h0m24 1h0m3 2h0m3-4h0m14 6h0m2-2h0m18 2h0m-106 1h0m23 7h0m1-7h0m0 5h0m36 1h0m9-4h0m13 2h0m14-2h0m8 5h0m8-5h0m17 1h0m-103 7h0m2 1h0m9-3h0m3 4h0m3-1h0m4-1h0m1 3h0m3 0h0m17-4h0m2 3h0m15 0h0m6 3h0m0-1h0m12-4h0m3 5h0m2-3h0m30-3h0m-120 14h0m1-6h0m2 0h0m0 0h0m2 5h0m12-6h0m1 4h0m6 2h0m3 1h0m2 0h0m10-2h0m5-1h0m6 2h0m1-5h0m4 1h0m5 1h0m5 0h0m20 0h0m22 3h0m-128 4h0m14-1h0m16 3h0m2 0h0m9 3h0m0-3h0m6 0h0m14-4h0m3 4h0m0 0h0m1 2h0m5 0h0m3-1h0m3-3h0m2 4h0m2-3h0m21 0h0m17 0h0m-117 8h0m12 4h0m0-2h0m6 1h0m12-4h0m1 0h0m3 5h0m0-6h0m1 1h0m13-2h0m2 5h0m2 0h0m1 2h0m2-2h0m15 1h0m5-4h0m6 2h0m-64 6h0m4 0h0m5 2h0m4 2h0m2 0h0m5 0h0m1-1h0m3 2h0m3-7h0m6 0h0m3 5h0m0-3h0m0-2h0m3 5h0m1 1h0m3-4h0m3-2h0m7 1h0m0 4h0m1 0h0m1 2h0m2 0h0m1-1h0m1 0h0m1-1h0m3-2h0m1 3h0m0 0h0m1 1h0m1-3h0m4-4h0m1 3h0m1 0h0m8 3h0m17-2h0m-112 11h0m2 0h0m2-1h0m4-5h0m6 5h0m0 0h0m0 1h0m4-1h0m2-5h0m4 6h0m0-6h0m4 5h0m0-5h0m3 4h0m3-3h0m1 5h0m1 0h0m15-2h0m0 2h0m5-3h0m6 3h0m16-4h0m0-2h0m4 5h0m39-6h0m2 4h0m-120 4h0m2 2h0m4-2h0m1 0h0m8 2h0m2-1h0m6 6h0m5-6h0m0-1h0m1 6h0m2 1h0m1-5h0m0 2h0m3-4h0m4 2h0m0 0h0m2 2h0m2 3h0m1-6h0m0 3h0m2 0h0m2 2h0m3-1h0m2-3h0m2-1h0m7-1h0m1 5h0m1-3h0m1 4h0m4-4h0m2 5h0m1-4h0m1 3h0m4-1h0m2-3h0m0 2h0m2 3h0m5-2h0m1-1h0m12-3h0m1-1h0m5 3h0m11 4h0m-122 3h0m2 0h0m0 1h0m1-1h0m4-1h0m1 6h0m2-4h0m6-3h0m2 7h0m0-3h0m1 0h0m4 0h0m4-1h0m3 0h0m3 3h0m1-3h0m2 3h0m0-3h0m0 3h0m3-1h0m2-1h0m0-2h0m5 4h0m1 1h0m11-5h0m0 2h0m5-4h0m1 4h0m0-3h0m2 4h0m2-3h0m11 3h0m3 0h0m2-4h0m2 2h0m3-1h0m0-1h0m5 3h0m2-2h0m18 4h0m-107 3h0m5 1h0m1 1h0m4 3h0m0-3h0m5-3h0m2 1h0m0 2h0m3-2h0m7 3h0m1-4h0m2 1h0m5 1h0m0-1h0m1 4h0m5 0h0m2 1h0m3-4h0m1 3h0m0-4h0m8 1h0m1 3h0m0-3h0m3 2h0m5-1h0m3-1h0m1 2h0m17-2h0m12 0h0m-105 8h0m1 5h0m0 0h0m2-5h0m4 1h0m2 0h0m0 1h0m3 1h0m1-3h0m2 4h0m1 0h0m2 1h0m0 0h0m2-7h0m2 1h0m11 3h0m1-2h0m3 1h0m3-3h0m3 7h0m0-7h0m2 3h0m1-3h0m2 1h0m1 0h0m0 1h0m1 3h0m0-5h0m2 5h0m1 1h0m0-2h0m2 3h0m0-6h0m4 6h0m2-7h0m7 5h0m9 0h0m8-2h0m14 1h0m-97 10h0m1-1h0m0 2h0m1 0h0m0-7h0m3 3h0m3-2h0m0 2h0m7 4h0m2-3h0m1 3h0m3-1h0m0-5h0m1 6h0m0-5h0m3 5h0m1-5h0m3 3h0m0 0h0m0-5h0m1 1h0m2 5h0m2 0h0m0-6h0m2 4h0m2-4h0m0 6h0m1 0h0m2 0h0m3-4h0m9 1h0m18-1h0m-72 7h0m1 3h0m0-1h0m1-3h0m0 1h0m2 5h0m1 0h0m3-2h0m1-1h0m4-1h0m1 2h0m0-1h0m4-3h0m0 6h0m0 1h0m1-1h0m2-3h0m0 2h0m1-2h0m1 3h0m1-4h0m1 2h0m0-4h0m1 1h0m1 4h0m3 0h0m0-3h0m1 3h0m0-4h0m0 5h0m1-1h0m3 2h0m0-6h0m9 4h0m1-5h0m2 5h0m1 0h0m3-2h0m1 2h0m1 1h0m3-6h0m7 2h0m1 1h0m14-2h0m16 1h0m-94 10h0m3-1h0m0 0h0m1 4h0m1-6h0m0 6h0m5 0h0m1-1h0m2-6h0m3 5h0m0-3h0m1-1h0m0 4h0m3-4h0m0 5h0m1-3h0m1 2h0m9-1h0m0-4h0m0 3h0m2-3h0m2 5h0m1 2h0m0-7h0m0 2h0m6 5h0m1-1h0m1-1h0m0 0h0m2 2h0m2-7h0m3 6h0m2-2h0m15-2h0m-69 10h0m2-4h0m0 4h0m1-4h0m3 0h0m4 6h0m1-5h0m1 2h0m10 2h0m0 0h0m1-2h0m2 4h0m7-2h0m7 2h0m8-2h0m14-4h0m1 4h0m2-2h0m1-3h0m-49 10h0m5-1h0m1 2h0m1-2h0m53 1h0" stroke="#f3c14f" stroke-opacity="0.25" stroke-width="5.2" stroke-linecap="round" fill="none" transform="scale(.5)"/>
<path d="M175 550h0m-57 15h0m6 6h0m33-3h0m14 0h0m-89 14h0m95 0h0m-79 6h0m4-1h0m10 0h0m6 3h0m-43 8h0m9-3h0m15-3h0m27 4h0m24-3h0m0 2h0m6-1h0m17 2h0m22-1h0m-94 8h0m9 2h0m7-1h0m24-1h0m5 2h0m1 2h0m1-6h0m0 3h0m-26 7h0m14 2h0m12 2h0m1-1h0m10-2h0m1 0h0m-75 11h0m9-6h0m8 0h0m8 6h0m8-2h0m21-5h0m3 1h0m24 0h0m-114 11h0m1-2h0m18 3h0m5 2h0m18-4h0m1 3h0m2 1h0m2-6h0m2-1h0m1 6h0m1-3h0m2 3h0m9-2h0m5-2h0m0 1h0m0 4h0m10-7h0m5 3h0m3-3h0m0 6h0m1-2h0m5 3h0m2-2h0m43-2h0m10 3h0m-127 8h0m7 1h0m13-2h0m1-3h0m4 1h0m0-1h0m1 3h0m9 1h0m2-5h0m8 5h0m3-6h0m3 0h0m1 1h0m6 1h0m2 3h0m1-5h0m1 2h0m4 2h0m7 2h0m1-2h0m3 0h0m1-1h0m7 3h0m1-2h0m-89 8h0m16-3h0m2 0h0m8 3h0m3 1h0m4 0h0m1-3h0m0 5h0m2-7h0m0 0h0m0 7h0m2-5h0m3 1h0m1-1h0m6 5h0m4-2h0m5-2h0m6 0h0m16-3h0m12 7h0m3-4h0m-110 11h0m1 0h0m2-1h0m3 1h0m6 1h0m14-4h0m2 2h0m1-4h0m14 3h0m8 2h0m0 0h0m2-4h0m1 2h0m4-3h0m0 6h0m1-6h0m6 0h0m2 0h0m9 5h0m3-4h0m4-1h0m10 5h0m17-4h0m2 0h0m35 5h0m-144 8h0m1-2h0m2-1h0m14 3h0m1-1h0m1-6h0m3 4h0m2-1h0m4 4h0m3-5h0m0 0h0m2-2h0m0 0h0m1 6h0m5 1h0m2-1h0m1-1h0m0 0h0m5 1h0m0 0h0m2-4h0m12 2h0m2 3h0m4-7h0m1 0h0m2 0h0m0 4h0m1 2h0m4-6h0m13 1h0m2 6h0m33-5h0m-128 12h0m1 0h0m0-6h0m17 3h0m8-2h0m3 6h0m3-5h0m2 1h0m2-1h0m0 2h0m2 3h0m4-4h0m1 3h0m2-3h0m0 1h0m3-3h0m5 4h0m1-1h0m3-4h0m1 7h0m2-4h0m0 2h0m3-5h0m2 2h0m2 5h0m5-4h0m4 4h0m2-6h0m2 5h0m1-6h0m11 5h0m2-3h0m9-2h0m2 0h0m-103 14h0m2-3h0m2-1h0m3 2h0m2 2h0m0-2h0m3 1h0m1-4h0m3 2h0m1-3h0m0 7h0m0-1h0m2-3h0m2 2h0m0 1h0m4-3h0m1 4h0m5-1h0m0 0h0m2 1h0m0 0h0m2-6h0m1 0h0m3 1h0m1 2h0m5 0h0m3 0h0m1-2h0m0-1h0m5 6h0m1-6h0m2 0h0m3 0h0m0 2h0m11 1h0m5 1h0m3-1h0m17 0h0m42-1h0m-139 6h0m0 0h0m1 1h0m0 0h0m0 4h0m3 0h0m1-6h0m2 5h0m2 2h0m3 0h0m0-6h0m2 2h0m3-2h0m2 2h0m7 0h0m0 3h0m6-6h0m2 7h0m3-5h0m2-1h0m1 3h0m1-1h0m7 4h0m0-7h0m1 2h0m5 4h0m3-5h0m3 2h0m1 0h0m2 4h0m2-1h0m4 0h0m1-4h0m6 4h0m3-4h0m2-1h0m0-1h0m0 5h0m13-1h0m-91 6h0m3 0h0m1 4h0m1 1h0m1-6h0m2-1h0m3 5h0m3-5h0m1 4h0m0-3h0m1-1h0m1 1h0m2 1h0m1-2h0m2 1h0m1 5h0m3 1h0m0-7h0m6 4h0m3 0h0m0 3h0m2-1h0m1 0h0m3-6h0m1 7h0m1-3h0m1-3h0m6 2h0m5 2h0m6-4h0m16 3h0m7-4h0m2 0h0m26 3h0m-116 12h0m1 0h0m0-5h0m1 3h0m5 0h0m2-2h0m2-2h0m0-1h0m1 1h0m0 0h0m2 4h0m3 0h0m0-4h0m1 2h0m1-2h0m0 6h0m1-2h0m0-2h0m0 2h0m1-2h0m1 3h0m2-1h0m1-3h0m0 0h0m0-1h0m1 1h0m2 0h0m2-2h0m1 5h0m8-3h0m0 0h0m13-1h0m8 5h0m2-2h0m1-3h0m9 0h0m1 1h0m7 0h0m8 0h0m-85 13h0m0-2h0m3-4h0m3 3h0m1-4h0m5 3h0m0-2h0m0 2h0m4 4h0m1 0h0m1-4h0m0-1h0m2 5h0m2-4h0m1 1h0m11-1h0m0 2h0m1-5h0m3 5h0m8 0h0m0-3h0m8-1h0m2 2h0m6-2h0m-64 10h0m2 2h0m1 2h0m2-5h0m0 5h0m2-2h0m1-5h0m2 6h0m1-4h0m0-1h0m1 1h0m3-1h0m1 3h0m2-2h0m1-2h0m2 0h0m8 2h0m3 5h0m3-2h0m1 2h0m7-6h0m7 4h0m1-5h0m1 6h0m1-6h0m8 0h0m26 3h0m10-3h0m-95 8h0m1 6h0m1-2h0m9-3h0m1 1h0m1 4h0m1-5h0m1 5h0m6-5h0m0 6h0m2-7h0m2 3h0m7 1h0m1-4h0m1 3h0m0 2h0m4-2h0m8-1h0m5 4h0m2-6h0m8 0h0m4 3h0m21-3h0m-88 9h0m1 0h0m4 2h0m0-1h0m1-2h0m8 2h0m6-1h0m4 1h0m1-1h0m0 0h0m6 0h0m1 0h0m0 0h0m5 1h0m2-2h0m21 2h0" stroke="#f3c14f" stroke-opacity="0.25" stroke-width="5.2" stroke-linecap="round" fill="none" transform="scale(.5)"/>
<path d="M244 525h0m-173 42h0m63-4h0m22-1h0m92-1h0m-184 14h0m100-4h0m33 4h0m-58 1h0m-18 11h0m7-3h0m-7 13h0m81-5h0m-122 13h0m6-5h0m9 0h0m22 4h0m6-2h0m0 1h0m38 4h0m2-1h0m12-1h0m19-1h0m-98 10h0m3-1h0m6 2h0m0-2h0m0-5h0m8 1h0m1 2h0m4 1h0m10 2h0m5-4h0m8 4h0m11-2h0m18-3h0m17 4h0m2-3h0m-138 9h0m29 4h0m6-5h0m8 4h0m5-2h0m12 1h0m14 2h0m4-2h0m8-4h0m0 0h0m1 5h0m3-2h0m5 3h0m12-7h0m6 3h0m35-1h0m-125 11h0m7 1h0m1-2h0m18 3h0m8 0h0m15-3h0m0 3h0m15 0h0m11-5h0m3 3h0m-84 6h0m9 1h0m19 1h0m0-4h0m4 3h0m1-2h0m0 5h0m6-1h0m1 1h0m11-2h0m3 1h0m4 1h0m3-1h0m1-6h0m7 3h0m7 1h0m0 0h0m2 3h0m-91 7h0m26-1h0m4 1h0m5-2h0m3 3h0m2-1h0m1-6h0m0 6h0m1-6h0m0 0h0m2 7h0m21-1h0m0-1h0m1 1h0m4-6h0m1 2h0m5 5h0m9-4h0m0 0h0m6 1h0m-95 6h0m4-1h0m11 3h0m7-1h0m4 3h0m6-1h0m3-2h0m1 0h0m7 0h0m2 4h0m6-4h0m5 0h0m5-3h0m6 4h0m9 2h0m2-1h0m4-1h0m1-1h0m4 3h0m1-4h0m4 1h0m3-3h0m1 7h0m14-7h0m-106 15h0m0-3h0m1 0h0m2-4h0m1 3h0m8 1h0m1 2h0m2 1h0m0-3h0m3 1h0m1-2h0m3 0h0m0 3h0m1-4h0m0 2h0m2 2h0m1-6h0m1 4h0m1 0h0m1 3h0m1-3h0m0 1h0m1 1h0m2-1h0m0-4h0m1 3h0m0-3h0m2 4h0m0-1h0m8 2h0m1 0h0m3-4h0m3-2h0m1 7h0m3-1h0m8-6h0m3 3h0m9-2h0m0 3h0m2 3h0m20-1h0m14-6h0m-114 12h0m6-3h0m8 6h0m0-6h0m2 3h0m4 3h0m7 0h0m0-1h0m6-3h0m4 4h0m2-6h0m3 5h0m7-6h0m8 3h0m5-2h0m2 0h0m4 3h0m5 0h0m11 3h0m12-4h0m0 1h0m2-4h0m6 6h0m-97 9h0m12-6h0m1 4h0m6-1h0m2 2h0m3-5h0m0-1h0m0 1h0m4 0h0m1 5h0m0-2h0m1-3h0m0-1h0m0 2h0m1-1h0m2 6h0m1-6h0m1 1h0m0 2h0m1 0h0m1-1h0m3 0h0m0 1h0m4 3h0m1-6h0m2 3h0m6-1h0m1 3h0m2-5h0m22 4h0m5 0h0m0-5h0m3 2h0m28 3h0m-118 4h0m1 3h0m1-4h0m0 5h0m1-4h0m3 4h0m2 1h0m2-4h0m2-2h0m1 6h0m2-3h0m2-2h0m1 1h0m1 2h0m0 1h0m1-3h0m10-1h0m1 1h0m2-1h0m3 4h0m5-3h0m3 1h0m7 0h0m0 3h0m0-2h0m1-2h0m1 2h0m0 3h0m3-5h0m2 1h0m2-1h0m2 5h0m1-6h0m1 5h0m4-2h0m5 0h0m63-3h0m-140 11h0m2 3h0m2-5h0m5 4h0m1-4h0m1 4h0m1-1h0m1-3h0m4 3h0m0-5h0m1 4h0m2 2h0m2 0h0m0 1h0m1-7h0m1 1h0m7-1h0m1 7h0m0 0h0m2-5h0m0 2h0m0 2h0m1-2h0m0-1h0m0-1h0m1 1h0m0-1h0m6 0h0m3-2h0m3 5h0m0-3h0m2 1h0m0 2h0m4 2h0m3-2h0m3 1h0m0-4h0m6 3h0m3-1h0m7-3h0m7 6h0m12-7h0m19 2h0m1-2h0m-115 9h0m0 6h0m6-7h0m2 6h0m0 1h0m1-3h0m1-1h0m7 4h0m0 0h0m1-6h0m0 5h0m1 0h0m1 0h0m0-3h0m5-1h0m2 4h0m1-6h0m1 2h0m2-1h0m1 2h0m1 2h0m0 0h0m2-2h0m3-3h0m7 6h0m1 0h0m0 1h0m1-4h0m1-1h0m1-2h0m0 1h0m3 4h0m6-5h0m5 3h0m3 4h0m3-5h0m2 1h0m2 2h0m8-2h0m13 0h0m5 2h0m-100 8h0m2 1h0m3-2h0m0-1h0m0 4h0m1-1h0m0-4h0m3 1h0m7 1h0m2 2h0m1-4h0m4 1h0m1 2h0m5-4h0m4 1h0m3 3h0m1-4h0m1 5h0m0-5h0m3 3h0m4-4h0m0 6h0m1-5h0m2 5h0m9 1h0m4-1h0m28-2h0m-88 9h0m2 1h0m4 0h0m7 0h0m16-6h0m0 1h0m2 1h0m3 3h0m0-3h0m0 5h0m0-5h0m1 4h0m5-1h0m0-5h0m1 7h0m1 0h0m1 0h0m3 0h0m14-4h0m22 4h0m-83 2h0m4 0h0m0 1h0m0 4h0m1-2h0m0-4h0m0 0h0m1 5h0m2-5h0m5 1h0m1 6h0m3-3h0m2-2h0m1-1h0m0 2h0m2 2h0m4-2h0m6 2h0m0-1h0m6 2h0m5 1h0m1-1h0m4-5h0m0 3h0m4 0h0m3 2h0m0-2h0m2-2h0m23 0h0m-79 6h0m2 0h0m6 3h0m1-3h0m0 1h0m1 0h0m3-1h0m1 3h0m0-3h0m4 0h0m3 1h0m2 1h0m17-1h0m3 1h0m4 1h0m3-3h0m3 2h0" stroke="#f3c14f" stroke-opacity="0.25" stroke-width="5.2" stroke-linecap="round" fill="none" transform="scale(.5)"/>
<path d="M209 544h0m-56 12h0m31 11h0m-132 10h0m88 5h0m54 1h0m-70 6h0m11-1h0m-25 5h0m6 3h0m3 3h0m8-3h0m27-3h0m2 1h0m-53 8h0m1 5h0m11-6h0m25 2h0m2 4h0m1-5h0m19 2h0m26-3h0m-114 12h0m13 0h0m12 2h0m12-6h0m1 4h0m3-3h0m2 0h0m8 3h0m9 1h0m13-6h0m0 2h0m7 1h0m27 0h0m-100 12h0m5-2h0m9-3h0m7 4h0m13 0h0m12-2h0m10-4h0m2 5h0m0-1h0m2 1h0m0 0h0m11-4h0m-92 10h0m23 3h0m12-5h0m2 3h0m17-2h0m1 0h0m9 2h0m6-1h0m0 3h0m9 0h0m25-5h0m-89 9h0m1-2h0m7 4h0m9-1h0m0 1h0m2-1h0m6 1h0m3 2h0m4-1h0m2 1h0m2 0h0m6-4h0m7-1h0m6 3h0m10-1h0m2-2h0m13 1h0m12 2h0m7-3h0m-123 13h0m1 0h0m19 0h0m1 0h0m1-4h0m6-2h0m3 7h0m4-3h0m2 2h0m4-4h0m5 5h0m2-3h0m2 1h0m1 1h0m1-4h0m1 2h0m2-1h0m0 2h0m13-1h0m0 3h0m2-5h0m5-1h0m3-1h0m3 4h0m3 2h0m2-5h0m1 2h0m12 2h0m3-3h0m30-2h0m11 0h0m-140 15h0m7-7h0m0 4h0m4 2h0m0-6h0m2 3h0m3 2h0m1 1h0m3-6h0m2 7h0m1 0h0m2-2h0m2-4h0m8 4h0m4 2h0m1-4h0m2 2h0m1-2h0m1 4h0m1-6h0m0 4h0m2-2h0m3 4h0m2-6h0m3 5h0m1 0h0m3-2h0m1-3h0m4 4h0m5-4h0m16 5h0m6-1h0m-91 4h0m1 2h0m1 2h0m0 2h0m3-4h0m1-3h0m3 3h0m5 1h0m2 1h0m0-3h0m1-2h0m0 3h0m2-1h0m3-2h0m0 2h0m3 1h0m7-1h0m2-1h0m7 6h0m1-4h0m0 2h0m0 1h0m7-5h0m2 5h0m5-5h0m2 1h0m2 1h0m0 4h0m4-5h0m0 3h0m5-3h0m7 0h0m2 2h0m-81 11h0m3-1h0m1 0h0m3-3h0m2 3h0m4-6h0m1 3h0m9-1h0m1-1h0m12 6h0m4-6h0m1 1h0m0 5h0m4 0h0m1-7h0m1 7h0m4 0h0m2-6h0m2 3h0m3 1h0m3-3h0m0 4h0m3 0h0m0-1h0m0-1h0m4 1h0m5 2h0m2-7h0m4 6h0m3 0h0m0-3h0m8 1h0m5-4h0m-95 8h0m2 7h0m2-6h0m0-1h0m6 2h0m2 3h0m3-1h0m0 2h0m1-4h0m1 2h0m3 2h0m7-1h0m0-3h0m2 2h0m1-4h0m6 3h0m4 4h0m4-6h0m2-1h0m0 4h0m0 1h0m6 0h0m4-1h0m14 1h0m2-3h0m20 2h0m8 1h0m10-5h0m1 7h0m47-4h0m-154 11h0m2 0h0m0-4h0m0 2h0m4 2h0m1-5h0m0 0h0m0 2h0m2-2h0m4-1h0m4 1h0m2 2h0m0-1h0m1 0h0m1 3h0m0-4h0m1 5h0m1-2h0m0 0h0m4-4h0m3 7h0m1 0h0m5-6h0m1 1h0m4 3h0m1-2h0m1-1h0m0 4h0m2 1h0m12-5h0m5-2h0m2 3h0m5-2h0m4 3h0m8-4h0m-83 10h0m2 5h0m2-2h0m0-5h0m3 4h0m1 0h0m2-3h0m0 2h0m1 4h0m1-3h0m0-3h0m2 5h0m1-3h0m2 3h0m2 1h0m1-4h0m1 3h0m0-6h0m2 1h0m0 1h0m6 3h0m2-3h0m2 0h0m0 5h0m2-6h0m1 3h0m1-4h0m1 7h0m0-4h0m3 4h0m2-3h0m7 0h0m1 1h0m2-4h0m2 6h0m6-2h0m12-4h0m0 2h0m1 1h0m7 1h0m-82 9h0m0-3h0m0-2h0m1 2h0m1 2h0m0-3h0m8 0h0m1-2h0m0 2h0m1 2h0m1-2h0m0 5h0m0-7h0m0 4h0m9-4h0m1 2h0m4 2h0m2-1h0m6 0h0m7-3h0m0 6h0m1-3h0m0-3h0m8 7h0m2-2h0m0-2h0m8-3h0m8 1h0m7 0h0m14 3h0m-92 11h0m0-4h0m3 2h0m3-1h0m1 3h0m10-4h0m0-1h0m1 5h0m2-4h0m1 2h0m2-3h0m0 1h0m2 3h0m4-3h0m1 0h0m4 4h0m1-6h0m3 0h0m3 6h0m0-4h0m0 3h0m1-6h0m2 7h0m3 0h0m7-7h0m16 4h0m0-2h0m2 5h0m14-3h0m-86 6h0m1 4h0m0-4h0m0 5h0m0-3h0m2 1h0m0-1h0m2 0h0m1 2h0m4 0h0m0 1h0m0 0h0m3-2h0m0-3h0m3 5h0m2 0h0m1-5h0m2 5h0m3-1h0m3-1h0m10 0h0m2-3h0m2 3h0m1-2h0m2 3h0m0-5h0m6 5h0m4 0h0m1-5h0m1 5h0m16-4h0m8 4h0m0 0h0m1-2h0m-81 9h0m6 0h0m1-1h0m5-3h0m0 6h0m7 0h0m0 0h0m5-3h0m3-2h0m2 3h0m1-5h0m2 7h0m2 0h0m2-2h0m2-3h0m0 3h0m8-5h0m1 0h0m7 0h0m4 6h0m9-3h0m-63 5h0m11 1h0m2-1h0m1 1h0m2-1h0m4 2h0m10 1h0m9-1h0m0 0h0m17 1h0m37-3h0" stroke="#f3c14f" stroke-opacity="0.25" stroke-width="5.2" stroke-linecap="round" fill="none" transform="scale(.5)"/>
<path d="M218 551h0m-43 14h0m-60 17h0m36-3h0m3 3h0m21-2h0m-90 5h0m83 4h0m43 1h0m-87 8h0m22-5h0m18 5h0m-87 4h0m17 3h0m3-4h0m26 5h0m6 0h0m10-3h0m39 0h0m-110 10h0m18 1h0m22 0h0m6-3h0m1 3h0m19-4h0m15 2h0m2-2h0m12 2h0m14 0h0m38-3h0m-145 10h0m11-3h0m20 5h0m10-3h0m3 2h0m2 2h0m5-1h0m6-3h0m6-1h0m0 6h0m9-2h0m6-5h0m1 1h0m2-1h0m6 1h0m14 0h0m2 5h0m20-2h0m-135 10h0m5-2h0m6-3h0m24 6h0m14-6h0m2 4h0m1 1h0m2 1h0m6-1h0m0-2h0m0 2h0m6-1h0m8-2h0m15-1h0m14 2h0m7-2h0m-114 12h0m10-4h0m11 1h0m4 1h0m3-2h0m9 4h0m3-5h0m5 6h0m3-3h0m12 2h0m0-4h0m8-2h0m3 6h0m3-1h0m2 2h0m8-4h0m10 4h0m8-4h0m5-1h0m17 3h0m3-4h0m6-1h0m5 3h0m-125 6h0m9 6h0m13-5h0m1 5h0m9 0h0m3-4h0m2-2h0m3 5h0m14-4h0m5-2h0m15 7h0m4 0h0m18-4h0m-103 10h0m6 1h0m4 1h0m2-4h0m3 2h0m4-5h0m8 7h0m3-6h0m1 4h0m0-1h0m4-3h0m2-1h0m0 4h0m1 2h0m6-2h0m2-3h0m1-1h0m6 4h0m13 1h0m5-1h0m32-4h0m-113 15h0m3-2h0m1-3h0m1-1h0m0 6h0m7-7h0m3 4h0m2 1h0m3-3h0m6 1h0m4 3h0m3-2h0m1 1h0m3-3h0m2 4h0m3-4h0m3 5h0m4-5h0m4-2h0m1 2h0m6 5h0m2-2h0m1-5h0m3 7h0m1 0h0m1-4h0m10 2h0m5-5h0m3 1h0m10 0h0m6 6h0m20-5h0m-112 8h0m2 3h0m2 2h0m7-5h0m0 3h0m2-3h0m0-1h0m2 1h0m3 5h0m3-3h0m0-4h0m4 1h0m6 4h0m7 2h0m2-3h0m0 2h0m1-6h0m1 4h0m1-2h0m0 2h0m2 2h0m1-5h0m2 6h0m2-5h0m1 2h0m3 3h0m7-2h0m0 0h0m1-2h0m2 2h0m6-4h0m1 6h0m3-5h0m5-1h0m0 1h0m8-2h0m8 1h0m-103 8h0m3 1h0m2 2h0m1-3h0m2 5h0m3-6h0m6 7h0m0-1h0m1-6h0m1 2h0m1 2h0m0 0h0m2-3h0m1 4h0m6 2h0m0-1h0m0-4h0m2-2h0m2 7h0m4 0h0m3 0h0m2-1h0m2-3h0m2 0h0m8 4h0m0-5h0m1-2h0m3 7h0m2 0h0m5-6h0m4-1h0m1 5h0m2-4h0m4 5h0m18-2h0m-94 5h0m2 6h0m3-3h0m2-4h0m1 0h0m1 3h0m1 0h0m4 0h0m5 2h0m1 1h0m3-1h0m2 2h0m0-1h0m0 0h0m6-2h0m0 1h0m1 2h0m2-6h0m0-1h0m1 4h0m2-3h0m1 1h0m3 3h0m4-2h0m2-3h0m1 3h0m3-1h0m2-2h0m2 5h0m6-2h0m6 3h0m5 0h0m2-6h0m5 1h0m0-1h0m2 0h0m1 2h0m7-2h0m5 5h0m-96 6h0m5-2h0m0 6h0m0-6h0m1 1h0m1 4h0m1-1h0m2 0h0m3 1h0m1-1h0m3-4h0m2 2h0m1-3h0m3 6h0m0 1h0m3-4h0m4 4h0m1-5h0m2 0h0m1 0h0m1 3h0m2 2h0m0-6h0m4 6h0m1-5h0m2 1h0m2 1h0m3-4h0m3 4h0m7-1h0m0 0h0m0 3h0m3 1h0m2-4h0m3-1h0m3-1h0m0 4h0m4-4h0m10 1h0m4-2h0m10 1h0m-97 12h0m2-2h0m0 0h0m0 3h0m6 0h0m1-6h0m1 1h0m0 0h0m3 0h0m0 2h0m1 4h0m1-5h0m2 2h0m3 3h0m1-2h0m1-3h0m0-1h0m1 3h0m4-1h0m2 3h0m1-3h0m1 2h0m2-1h0m6-2h0m2 5h0m14-3h0m13 2h0m19-5h0m10 5h0m35-1h0m-132 3h0m1 4h0m0 3h0m1 0h0m2-2h0m1-1h0m1 0h0m0 1h0m1 0h0m1 1h0m7-2h0m2-4h0m3 4h0m0 3h0m2-3h0m0-2h0m11 2h0m1 2h0m1-2h0m12 2h0m0 0h0m0-2h0m4-1h0m3-2h0m11 1h0m2 0h0m21 0h0m4-1h0m22 3h0m-115 10h0m2-1h0m1 1h0m0-2h0m1 1h0m1-2h0m1 0h0m4 0h0m0 4h0m2-1h0m1 1h0m1 0h0m2 0h0m0-3h0m1 1h0m3-2h0m2-2h0m0 3h0m4 1h0m6-3h0m1 2h0m2 1h0m2 1h0m4-2h0m0 1h0m10-2h0m6 1h0m18 0h0m13-4h0m-87 8h0m1 5h0m2-5h0m0 3h0m2 3h0m4 0h0m3-4h0m0 5h0m2-1h0m0-1h0m3 2h0m1-5h0m1 5h0m5 0h0m5-4h0m2 2h0m3-3h0m2-1h0m2 2h0m0 0h0m1 1h0m2 2h0m1-5h0m9 6h0m-49 3h0m3 1h0m7-3h0m2 0h0m8 1h0m17-1h0m46 0h0" stroke="#f3c14f" stroke-opacity="0.25" stroke-width="5.2" stroke-linecap="round" fill="none" transform="scale(.5)"/>
<path d="M211 530h0m-4 16h0m-3 13h0m-48 5h0m64 10h0m-114 4h0m31-1h0m24 5h0m-56 9h0m66-4h0m9 4h0m-105 1h0m23 3h0m14 1h0m13 1h0m1 1h0m12 0h0m9-2h0m4 11h0m17-4h0m11-2h0m6 3h0m-135 10h0m12-5h0m18 4h0m10 1h0m13-3h0m5-3h0m9 6h0m5 0h0m3 0h0m18 0h0m6-5h0m2 3h0m26 3h0m-100 3h0m24 5h0m8-1h0m10-2h0m14 0h0m1 0h0m0 3h0m5-5h0m17-1h0m10 4h0m25-4h0m-141 9h0m11 2h0m5 1h0m13 2h0m2-1h0m2-4h0m3 3h0m0-1h0m1-2h0m2 1h0m6-2h0m9 0h0m0 3h0m1 3h0m3-1h0m6-6h0m6 0h0m12 0h0m5 5h0m14-1h0m18-2h0m-118 11h0m13-5h0m2 6h0m16-5h0m1 3h0m4 3h0m8-2h0m1 0h0m18-5h0m0 5h0m17-5h0m7 7h0m6-6h0m5 2h0m14-2h0m10 5h0m-120 9h0m12-5h0m3 3h0m3 2h0m3-1h0m2-4h0m3 0h0m15 1h0m0 2h0m19-1h0m13 0h0m7-4h0m1 5h0m0 1h0m0-5h0m41 6h0m5-5h0m-123 13h0m9-6h0m2 1h0m8 0h0m1 5h0m3-3h0m2 0h0m5 3h0m7 0h0m4-3h0m19-1h0m2 2h0m3 0h0m2-2h0m2 1h0m1-2h0m8-1h0m27 5h0m19-2h0m-119 6h0m1 2h0m2 1h0m5 2h0m3-2h0m5 0h0m1-3h0m6 1h0m1 3h0m5-5h0m4 2h0m1 1h0m2 2h0m1-3h0m1 1h0m4-1h0m2 1h0m8 1h0m7-1h0m5-1h0m0 1h0m3 0h0m8 1h0m4-2h0m1-3h0m3 2h0m0-2h0m13 3h0m11 1h0m4 2h0m-120 8h0m2 1h0m2-6h0m3 0h0m0 0h0m3 1h0m6 4h0m5 0h0m1-5h0m0 2h0m5 3h0m3 1h0m3-2h0m2-2h0m1-1h0m2 0h0m0 0h0m1-2h0m1 5h0m2-1h0m0 2h0m13-1h0m5-4h0m3 4h0m1-4h0m3 6h0m1-6h0m3 2h0m2 2h0m17-4h0m1 1h0m4 3h0m-97 5h0m5 3h0m1 1h0m4-4h0m6 2h0m1 0h0m3-2h0m1 1h0m0-1h0m1 1h0m1-2h0m0 0h0m3 0h0m1 2h0m4 3h0m1 0h0m1-3h0m0-2h0m4 6h0m4 0h0m0-7h0m1 4h0m2-1h0m1 1h0m0 1h0m1 0h0m1-2h0m2 2h0m3 2h0m1-1h0m7 0h0m1-1h0m1 2h0m9-2h0m0-5h0m0 1h0m4 5h0m3-4h0m1 0h0m5-1h0m6 0h0m14-1h0m-101 15h0m0-2h0m0 1h0m1 1h0m4-7h0m2 0h0m2 2h0m2 3h0m0-3h0m1-2h0m2 2h0m0 5h0m1-5h0m2-2h0m0 0h0m1 0h0m0 1h0m4 5h0m1-6h0m1 4h0m4-1h0m5-1h0m1-2h0m1 2h0m1 0h0m0-1h0m6-1h0m1 2h0m5 1h0m1 4h0m5-1h0m3 1h0m1-1h0m1-3h0m1-1h0m0 1h0m1-1h0m3-2h0m4 0h0m17 1h0m0 4h0m5-2h0m0-1h0m-91 7h0m0 2h0m1 3h0m3-6h0m5 0h0m1 1h0m4 6h0m0-6h0m0-1h0m2 5h0m1-2h0m2 1h0m1 0h0m0 3h0m3-1h0m3 0h0m0-6h0m1 4h0m2 3h0m1 0h0m0-4h0m3 2h0m0-5h0m3 0h0m1 6h0m1-5h0m1 0h0m2-1h0m6 3h0m0-2h0m1 3h0m1 2h0m1-4h0m1 0h0m1 5h0m7-1h0m0-1h0m0-2h0m5-1h0m29-2h0m-96 13h0m3-2h0m1-3h0m1 3h0m1 0h0m2 4h0m1-7h0m2 1h0m0 4h0m0 2h0m1 0h0m2-1h0m3 0h0m1-4h0m0 1h0m1 1h0m2 3h0m0-5h0m8-1h0m2 4h0m2 1h0m0-6h0m1 6h0m0-4h0m1-1h0m1 2h0m2 0h0m8-3h0m2 7h0m4-3h0m0 3h0m2-1h0m2-3h0m1-3h0m1 3h0m1 3h0m7-2h0m15-2h0m-81 9h0m1 2h0m4 2h0m1-5h0m1-2h0m0 0h0m1 2h0m1 5h0m1 0h0m0-3h0m0 1h0m5 0h0m0-5h0m2 1h0m1 0h0m1 5h0m2-1h0m0-2h0m3 4h0m2-6h0m3 5h0m0 1h0m4-6h0m3-1h0m8 5h0m2 0h0m1 1h0m1-1h0m7-4h0m4 3h0m11-1h0m4 2h0m14-1h0m-87 8h0m3-3h0m1 5h0m0-2h0m1 3h0m5-5h0m2 4h0m3-5h0m4 5h0m3-2h0m4-4h0m0 0h0m1 6h0m2 0h0m5-2h0m1 0h0m1-1h0m3 2h0m0-2h0m1 3h0m1-2h0m7 2h0m9-2h0m2 1h0m5 0h0m5 1h0m18 1h0m10-6h0m-96 8h0m1 0h0m0 3h0m3-2h0m1 5h0m1-6h0m0 5h0m1-4h0m6-1h0m0 0h0m2 4h0m0 0h0m3 1h0m2-5h0m14 1h0m0 4h0m2-5h0m4 2h0m6 0h0m5-1h0m13 5h0m31-3h0m-94 4h0m0 2h0m1 0h0m0 0h0m8 0h0m10-1h0m6 1h0m4-2h0m25 1h0" stroke="#f3c14f" stroke-opacity="0.25" stroke-width="5.2" stroke-linecap="round" fill="none" transform="scale(.5)"/>
<path d="M115 560h0m25 1h0m29 11h0m5 3h0m47-5h0m-103 8h0m21 0h0m5-1h0m31 2h0m38 2h0m-124 6h0m2 3h0m8-1h0m25 1h0m10 1h0m0-5h0m14 1h0m1 2h0m49-5h0m-52 12h0m6-2h0m18 3h0m38-1h0m-128 11h0m87-7h0m4 6h0m28-2h0m-105 11h0m3-3h0m3 0h0m43 1h0m7 0h0m-96 10h0m9-3h0m24-1h0m3 2h0m0-2h0m16 4h0m10 0h0m3-2h0m1 2h0m19-7h0m13 0h0m18 1h0m-115 9h0m16 2h0m3 1h0m1-1h0m4 2h0m15 0h0m17-1h0m16-2h0m9 2h0m5-1h0m3 2h0m4-4h0m10-2h0m8 7h0m5-6h0m16 4h0m-128 5h0m7-1h0m9 6h0m12 0h0m1-1h0m0 0h0m27 1h0m2-2h0m4 1h0m2 1h0m1-5h0m1 4h0m2 0h0m7-6h0m4 2h0m1 3h0m1-1h0m0 0h0m3 0h0m23-4h0m-109 13h0m9-2h0m1 1h0m6-4h0m0 6h0m2 0h0m13-2h0m3-2h0m18-1h0m17 2h0m2 4h0m5 0h0m5-1h0m9-5h0m7 1h0m30 2h0m-131 7h0m12 1h0m1-1h0m1-3h0m2 7h0m0-5h0m5 4h0m1-2h0m0-1h0m8-2h0m2 3h0m1 1h0m2-3h0m3-1h0m6 0h0m1-1h0m2 0h0m6 5h0m1-2h0m2-3h0m3 3h0m0 4h0m10-2h0m1 1h0m3-5h0m3 2h0m5 1h0m3-4h0m2 1h0m0 2h0m12-1h0m3 3h0m9 1h0m18-5h0m-129 9h0m4 0h0m3 3h0m6 1h0m1-6h0m4 3h0m0 3h0m9-4h0m4 3h0m1 1h0m1 0h0m1 1h0m4-1h0m1 0h0m4-6h0m1 4h0m2 3h0m5 0h0m2-5h0m5 1h0m1-1h0m0 5h0m15-3h0m3 2h0m9-3h0m1 2h0m0-2h0m3 2h0m8-2h0m2 3h0m-96 9h0m4-1h0m1 0h0m7-1h0m1 1h0m2 1h0m3-1h0m1 0h0m3-1h0m1-3h0m0 5h0m2 0h0m4-2h0m1-5h0m2 1h0m1 1h0m5 4h0m4-3h0m1 0h0m3-1h0m2 3h0m0 1h0m4-3h0m1 1h0m2-1h0m4 0h0m2-1h0m9 3h0m0 0h0m5-3h0m1 2h0m3-1h0m4-1h0m3 3h0m13 0h0m28-5h0m-132 15h0m1-2h0m1-5h0m0 1h0m3 3h0m3-3h0m2 0h0m2 2h0m1-1h0m0 2h0m0-2h0m2-1h0m0 2h0m3 1h0m3-2h0m5 0h0m1 1h0m2 3h0m2 0h0m4-2h0m1 3h0m4 0h0m0-2h0m3-3h0m1 0h0m1 2h0m1-2h0m1 5h0m0-4h0m3 4h0m8-3h0m2-1h0m5-2h0m5 0h0m27 5h0m47 1h0m-139 2h0m3 3h0m0 3h0m1-2h0m4-1h0m2-2h0m0-2h0m5 7h0m5-7h0m0 1h0m2 2h0m0 1h0m1 2h0m0 0h0m2-6h0m1 0h0m1 1h0m1 4h0m1-4h0m1 5h0m2-4h0m5 5h0m2-7h0m0 5h0m4 2h0m1-5h0m3-2h0m12 2h0m2 5h0m5-2h0m1-1h0m15-3h0m4 4h0m9-1h0m6-3h0m-106 13h0m2 0h0m10-5h0m3 3h0m5-1h0m1 2h0m2 2h0m3-5h0m0 2h0m1 0h0m5 0h0m1 3h0m0-4h0m1 1h0m6-2h0m4 0h0m1-1h0m4 0h0m1-1h0m6 2h0m1 5h0m5-2h0m2-2h0m3-3h0m1 2h0m2 1h0m10-3h0m-81 12h0m1 0h0m0-1h0m1-2h0m2 5h0m1 1h0m5-2h0m0-3h0m6 0h0m2 2h0m0 2h0m3 0h0m0-3h0m4 4h0m2 0h0m1 0h0m1-7h0m5 5h0m0-2h0m2 0h0m0 3h0m1 0h0m1-2h0m2 3h0m1-3h0m2 2h0m4-5h0m1 3h0m4 1h0m2 1h0m5-2h0m1 0h0m5 0h0m15-4h0m3 3h0m1 2h0m10 0h0m15-1h0m-109 5h0m1 2h0m1-3h0m0 4h0m1 2h0m1-2h0m1 2h0m3-5h0m0 0h0m0 1h0m4-2h0m6 0h0m2 0h0m2 6h0m2-5h0m0 4h0m1 2h0m5 0h0m0-5h0m5 4h0m1-5h0m1 2h0m3 1h0m0 3h0m3-3h0m1-2h0m4 2h0m1 2h0m0 0h0m4-5h0m6 6h0m4-3h0m5-2h0m3 2h0m1-1h0m14 1h0m2 0h0m14-4h0m-102 14h0m4 0h0m2-1h0m4 1h0m1-5h0m1 3h0m4 2h0m0 1h0m1-4h0m1 4h0m0-5h0m1 0h0m4-2h0m0 7h0m5 0h0m8-6h0m3 1h0m4 0h0m2 0h0m6 0h0m11 3h0m8-5h0m1 7h0m6-1h0m-77 3h0m2-1h0m0 6h0m4 1h0m4-6h0m3 5h0m0 0h0m6-2h0m5-4h0m0 2h0m2 1h0m0-3h0m1 0h0m1 1h0m0 5h0m1-6h0m5 7h0m5-3h0m6-3h0m2 3h0m3-2h0m1-2h0m8 1h0m10-1h0m4 1h0m-72 7h0m7 1h0m21 1h0m39-2h0" stroke="#f3c14f" stroke-opacity="0.25" stroke-width="5.2" stroke-linecap="round" fill="none" transform="scale(.5)"/>
<path d="M330 481h0m-98 53h0m2 23h0m-15 10h0m72 12h0m-65 11h0m8-1h0m-69 3h0m19 12h0m-27 8h0m67 0h0m-87 4h0m50 8h0m14 3h0m25 1h0m39 2h0m-74 4h0m-108 12h0m74-6h0m-8 31h0m36 0h0m35 2h0m-116 18h0m44-2h0m83 24h0" stroke="#8c9096" stroke-opacity="0.25" stroke-width="5.2" stroke-linecap="round" fill="none" transform="scale(.5)"/>
<path d="M278 439h0m39 40h0m51 15h0m-162 12h0m-2 38h0m43 3h0m62-2h0m-120 14h0m167-2h0m-68 17h0m-17 3h0m-15 15h0m8 6h0m-52 5h0m31 1h0m10 4h0m-20 9h0m-48 8h0m99 2h0m-58 28h0m19-3h0m7-2h0m-50 14h0m1 13h0m-60 8h0" stroke="#8c9096" stroke-opacity="0.25" stroke-width="5.2" stroke-linecap="round" fill="none" transform="scale(.5)"/>
<path d="M252 452h0m15 47h0m34 9h0m-130 13h0m90 26h0m-68 20h0m-21 5h0m60 0h0m66 2h0m-89 3h0m8 4h0m-38 16h0m106 0h0m-113 6h0m-51 7h0m47-2h0m12 0h0m123 2h0m-55 13h0m-18 11h0m-92 11h0m79 4h0m-68 37h0m-33 25h0m19-7h0" stroke="#8c9096" stroke-opacity="0.25" stroke-width="5.2" stroke-linecap="round" fill="none" transform="scale(.5)"/>
<path d="M255 503h0m50 55h0m0 6h0m-92 17h0m139 5h0m-65 11h0m-9 7h0m-72 10h0m27 4h0m51 0h0m-42 13h0m74 0h0m-45 2h0m-160 10h0m103 4h0m-37 7h0m40-4h0m10 5h0m-68 8h0m71-6h0m-91 14h0m-6 16h0m18-4h0m61 40h0" stroke="#8c9096" stroke-opacity="0.25" stroke-width="5.2" stroke-linecap="round" fill="none" transform="scale(.5)"/>
<path d="M298 511h0m-52 28h0m16 2h0m13 11h0m26 1h0m-41 11h0m1 18h0m-88 20h0m20 1h0m39 5h0m22 16h0m-48 11h0m53 0h0m-165 5h0m82 11h0m-45 10h0m54-5h0m-32 24h0m30 7h0m-111 7h0m26-1h0m27 2h0m18 21h0m40 9h0" stroke="#8c9096" stroke-opacity="0.25" stroke-width="5.2" stroke-linecap="round" fill="none" transform="scale(.5)"/>
<path d="M356 449h0m-98 57h0m51 23h0m-86 16h0m60 5h0m-78 2h0m155 20h0m-196 19h0m27-1h0m76-6h0m-1 14h0m-110 3h0m89 3h0m-33 7h0m9 19h0m39 1h0m-47 3h0m55 4h0m-96 4h0m7 0h0m5 2h0m0 10h0m-60 24h0m66 12h0m-94 35h0" stroke="#8c9096" stroke-opacity="0.25" stroke-width="5.2" stroke-linecap="round" fill="none" transform="scale(.5)"/>
<path d="M378 487h0m-126 51h0m6 8h0m-59 22h0m122 13h0m-229 5h0m102 9h0m42 0h0m-112 11h0m1 0h0m23 6h0m23 2h0m27-4h0m46 1h0m-96 6h0m15-1h0m73 5h0m-70 31h0m-53 8h0m82 1h0m5-4h0m-6 8h0m-43 41h0" stroke="#8c9096" stroke-opacity="0.25" stroke-width="5.2" stroke-linecap="round" fill="none" transform="scale(.5)"/>
<path d="M397 424h0m-44 99h0m-124 12h0m80 2h0m-81 22h0m76-2h0m-154 7h0m167-1h0m-74 23h0m-70 6h0m50 2h0m-106 17h0m106 4h0m10-5h0m-46 21h0m23 7h0m-73 6h0m88 1h0m-23 15h0m-97 13h0m-20 12h0m36-3h0m33 39h0" stroke="#8c9096" stroke-opacity="0.25" stroke-width="5.2" stroke-linecap="round" fill="none" transform="scale(.5)"/>
<path d="M256 458h0m-17 44h0m25 16h0m-15 10h0m-42 36h0m53 10h0m-81 5h0m1 3h0m56 1h0m-85 9h0m51 1h0m63 2h0m-117 16h0m66 7h0m-1 10h0m9-2h0m-35 13h0m-44 25h0m77 6h0m-52 3h0m44 3h0" stroke="#8c9096" stroke-opacity="0.25" stroke-width="5.2" stroke-linecap="round" fill="none" transform="scale(.5)"/>
<path d="M246 434h0m88 40h0m-173 15h0m82 35h0m74 21h0m-102 19h0m43-1h0m-50 16h0m60 1h0m-11 5h0m-97 8h0m89 0h0m21 1h0m11-2h0m-69 36h0m5 8h0m15 1h0m-81 3h0m-29 13h0m69-2h0m-17 28h0m-31 3h0m1 12h0m-34 11h0" stroke="#8c9096" stroke-opacity="0.25" stroke-width="5.2" stroke-linecap="round" fill="none" transform="scale(.5)"/>
</g>
<line x1="29.60" y1="361.20" x2="195.30" y2="210.70" stroke="#a2a2a2" stroke-width="1.0"/>
<path d="M29.15 210.70H195.30V361.20H29.15" fill="none" stroke="#262626" stroke-width="0.9"/>
<path d="M29.95 210.25V361.65" fill="none" stroke="#2a2a2a" stroke-width="0.95"/>
<path d="M29.60 361.20v3M29.60 361.20h-3M53.27 361.20v3M29.60 339.70h-3M76.94 361.20v3M29.60 318.20h-3M100.61 361.20v3M29.60 296.70h-3M124.29 361.20v3M29.60 275.20h-3M147.96 361.20v3M29.60 253.70h-3M171.63 361.20v3M29.60 232.20h-3M195.30 361.20v3M29.60 210.70h-3" stroke="#262626" stroke-width="0.9" fill="none"/>
<text x="30.20" y="374.60" font-size="10.4" text-anchor="middle" fill="#111">5</text>
<text x="24.70" y="365.60" font-size="10.4" text-anchor="end" fill="#111">5</text>
<text x="53.87" y="374.60" font-size="10.4" text-anchor="middle" fill="#111">6</text>
<text x="24.70" y="344.10" font-size="10.4" text-anchor="end" fill="#111">6</text>
<text x="77.54" y="374.60" font-size="10.4" text-anchor="middle" fill="#111">7</text>
<text x="24.70" y="322.60" font-size="10.4" text-anchor="end" fill="#111">7</text>
<text x="101.21" y="374.60" font-size="10.4" text-anchor="middle" fill="#111">8</text>
<text x="24.70" y="301.10" font-size="10.4" text-anchor="end" fill="#111">8</text>
<text x="124.89" y="374.60" font-size="10.4" text-anchor="middle" fill="#111">9</text>
<text x="24.70" y="279.60" font-size="10.4" text-anchor="end" fill="#111">9</text>
<text x="148.56" y="374.60" font-size="10.4" text-anchor="middle" fill="#111">10</text>
<text x="24.70" y="258.10" font-size="10.4" text-anchor="end" fill="#111">10</text>
<text x="172.23" y="374.60" font-size="10.4" text-anchor="middle" fill="#111">11</text>
<text x="24.70" y="236.60" font-size="10.4" text-anchor="end" fill="#111">11</text>
<text x="195.90" y="374.60" font-size="10.4" text-anchor="middle" fill="#111">12</text>
<text x="24.70" y="215.10" font-size="10.4" text-anchor="end" fill="#111">12</text>
<text x="113.15" y="205.10" font-size="12.5" text-anchor="middle" fill="#111">Areal-weighted (area)</text>
<text x="112.45" y="386.30" font-size="12.5" text-anchor="middle" fill="#111">ln(Truth)</text>
<text transform="translate(9.60 285.65) rotate(-90)" font-size="12.5" text-anchor="middle" fill="#111">ln(Predicted)</text>
<text x="38.60" y="227.10" font-size="12.2" font-weight="bold" fill="#111">(d)</text>
<text x="189.10" y="338.20" font-size="12.5" text-anchor="end" fill="#111">R<tspan font-size="8.7" dy="-4.6">2</tspan><tspan dy="4.6">=0.74</tspan></text>
<text x="189.10" y="353.40" font-size="12.5" text-anchor="end" fill="#111">R<tspan font-size="8.7" dy="-4.6">2</tspan><tspan font-size="8.7" font-style="italic" dx="-4.6" dy="7.4">l</tspan><tspan dx="2.7" dy="-2.8">=0.41</tspan></text>
<g fill="#f7d27c" stroke="#b09a5a" stroke-width="0.4"><rect x="201.50" y="355.95" width="28.38" height="5.25"/><rect x="201.50" y="350.69" width="27.06" height="5.25"/><rect x="201.50" y="345.44" width="26.40" height="5.25"/><rect x="201.50" y="340.18" width="24.09" height="5.25"/><rect x="201.50" y="334.93" width="20.46" height="5.25"/><rect x="201.50" y="329.67" width="17.49" height="5.25"/><rect x="201.50" y="324.42" width="15.18" height="5.25"/><rect x="201.50" y="319.16" width="12.21" height="5.25"/><rect x="201.50" y="313.91" width="9.57" height="5.25"/><rect x="201.50" y="308.65" width="8.25" height="5.25"/><rect x="201.50" y="303.40" width="6.60" height="5.25"/><rect x="201.50" y="298.14" width="5.28" height="5.25"/><rect x="201.50" y="292.89" width="4.29" height="5.25"/><rect x="201.50" y="287.64" width="3.30" height="5.25"/><rect x="201.50" y="282.38" width="2.74" height="5.25"/><rect x="201.50" y="277.13" width="2.27" height="5.25"/><rect x="201.50" y="271.87" width="1.89" height="5.25"/><rect x="201.50" y="266.62" width="1.57" height="5.25"/><rect x="201.50" y="261.36" width="1.30" height="5.25"/><rect x="201.50" y="256.11" width="1.08" height="5.25"/><rect x="201.50" y="250.85" width="0.90" height="5.25"/><rect x="201.50" y="245.60" width="0.74" height="5.25"/><rect x="201.50" y="240.34" width="0.62" height="5.25"/><rect x="201.50" y="235.09" width="0.51" height="5.25"/><rect x="201.50" y="229.84" width="0.42" height="5.25"/><rect x="201.50" y="224.58" width="0.35" height="5.25"/></g>
<g fill="none" stroke="#2a2a2a" stroke-width="0.42"><rect x="201.50" y="355.95" width="33.00" height="5.25"/><rect x="201.50" y="350.69" width="33.00" height="5.25"/><rect x="201.50" y="345.44" width="27.72" height="5.25"/><rect x="201.50" y="340.18" width="25.08" height="5.25"/><rect x="201.50" y="334.93" width="21.45" height="5.25"/><rect x="201.50" y="329.67" width="18.48" height="5.25"/><rect x="201.50" y="324.42" width="15.51" height="5.25"/><rect x="201.50" y="319.16" width="12.54" height="5.25"/><rect x="201.50" y="313.91" width="10.23" height="5.25"/><rect x="201.50" y="308.65" width="8.58" height="5.25"/><rect x="201.50" y="303.40" width="6.93" height="5.25"/><rect x="201.50" y="298.14" width="5.94" height="5.25"/><rect x="201.50" y="292.89" width="4.95" height="5.25"/><rect x="201.50" y="287.64" width="4.29" height="5.25"/><rect x="201.50" y="282.38" width="3.63" height="5.25"/><rect x="201.50" y="277.13" width="2.97" height="5.25"/><rect x="201.50" y="271.87" width="2.48" height="5.25"/><rect x="201.50" y="266.62" width="1.98" height="5.25"/><rect x="201.50" y="261.36" width="1.65" height="5.25"/><rect x="201.50" y="256.11" width="1.32" height="5.25"/><rect x="201.50" y="250.85" width="1.09" height="5.25"/><rect x="201.50" y="245.60" width="0.89" height="5.25"/><rect x="201.50" y="240.34" width="0.73" height="5.25"/><rect x="201.50" y="235.09" width="0.59" height="5.25"/><rect x="201.50" y="229.84" width="0.46" height="5.25"/><rect x="201.50" y="224.58" width="0.38" height="5.25"/><rect x="201.50" y="219.33" width="0.32" height="5.25"/></g>
<rect x="201.50" y="210.70" width="33.00" height="150.50" fill="none" stroke="#262626" stroke-width="0.9"/>
<clipPath id="c4"><rect x="254.60" y="210.70" width="165.70" height="150.50"/></clipPath>
<g clip-path="url(#c4)">
<polygon points="230.9,342.2 444.0,171.4 444.0,274.6 230.9,445.4" fill="#fde6cd"/>
<line x1="230.93" y1="393.84" x2="420.30" y2="241.96" stroke="#d4962c" stroke-width="1.20" stroke-dasharray="4.2,2.3"/>
<path d="M608 579h0m31 4h0m-10 13h0m-83 11h0m9 0h0m29-2h0m-4 10h0m29-3h0m-85 10h0m2-4h0m64 0h0m6 4h0m1-6h0m6 5h0m34-2h0m51 1h0m-187 5h0m51 3h0m32 3h0m0-7h0m16 6h0m3 1h0m21 0h0m17-1h0m-125 5h0m5 2h0m5-2h0m21 3h0m2-1h0m2 1h0m8 0h0m3-5h0m4 4h0m24-2h0m2 3h0m12-1h0m4-2h0m2 3h0m4 1h0m31-2h0m-130 4h0m2 5h0m10 1h0m18-1h0m9-3h0m1-3h0m12 4h0m11 2h0m0-3h0m8 4h0m5-3h0m0-3h0m8 3h0m5-4h0m15 3h0m24 3h0m11-6h0m-148 15h0m3-5h0m14-2h0m16 5h0m3-1h0m6-4h0m0 1h0m1-1h0m4 2h0m0 5h0m2 0h0m1-3h0m1-4h0m0 5h0m3-2h0m3-2h0m3 0h0m5 3h0m1 3h0m8-2h0m0-1h0m10 2h0m3-4h0m18-2h0m1 1h0m1 4h0m10-5h0m22 3h0m-137 11h0m0-1h0m1-2h0m5 2h0m10 1h0m4-4h0m13 0h0m2 5h0m1-3h0m2 1h0m5-3h0m3-1h0m5 1h0m0-2h0m1 1h0m2-1h0m3 2h0m3 3h0m1 0h0m3-4h0m12 4h0m4-4h0m1 2h0m2 3h0m1-5h0m6 6h0m3-7h0m4 5h0m6-5h0m5 1h0m3 3h0m-108 5h0m1 5h0m0-4h0m4 2h0m0 1h0m6 1h0m1 0h0m1 0h0m1 1h0m3 0h0m3-2h0m1 2h0m1-1h0m1 0h0m0-1h0m5 0h0m3-1h0m4 1h0m1 0h0m3-3h0m8 4h0m2-1h0m11-4h0m3 1h0m1-1h0m0 3h0m4 1h0m2 2h0m2-6h0m1 0h0m9 1h0m0-1h0m2 4h0m10-4h0m5 5h0m8-4h0m6 2h0m2-4h0m1 3h0m4 2h0m-131 3h0m1 7h0m6 0h0m4-5h0m0-2h0m2 7h0m1 0h0m5 0h0m3-2h0m0-2h0m1 3h0m2-6h0m1 2h0m3 2h0m1-3h0m0 2h0m1 2h0m0-2h0m1-2h0m3 3h0m0 3h0m0-5h0m1 4h0m4 0h0m0 1h0m1-1h0m1 1h0m0-2h0m1-2h0m1 2h0m0-2h0m0 2h0m1 1h0m4 1h0m1-3h0m2 3h0m1-7h0m5 6h0m1-1h0m9-3h0m4-2h0m2 4h0m1-3h0m2 2h0m3 1h0m3-1h0m1 1h0m4-1h0m1-1h0m1 5h0m7 0h0m3 0h0m0 0h0m9-4h0m-109 7h0m2 3h0m2-3h0m1 2h0m3-4h0m2 7h0m1-2h0m2-1h0m0-3h0m0 3h0m4 1h0m2 0h0m1 1h0m1-5h0m1 6h0m2-5h0m1-1h0m2 6h0m0-3h0m5-4h0m7 5h0m1 1h0m2-1h0m1 0h0m0-4h0m1 0h0m2 0h0m5-1h0m5 4h0m0 1h0m0 1h0m1-1h0m2-3h0m0 3h0m1 2h0m1 0h0m0-6h0m1 1h0m5-2h0m3 2h0m0 3h0m1-1h0m1 1h0m8 1h0m1-6h0m2 2h0m4 5h0m2-6h0m3 2h0m6 4h0m16-6h0m10 0h0m-123 11h0m2-4h0m2 5h0m0 1h0m2 1h0m1 0h0m1-6h0m4 3h0m0 1h0m1-5h0m0 3h0m1 0h0m1 2h0m2 1h0m1-4h0m1-2h0m2 0h0m2 2h0m1 4h0m1-3h0m0-3h0m1 2h0m1 5h0m2-1h0m0-3h0m2 0h0m1 3h0m1-5h0m2-1h0m0 5h0m2-5h0m0 2h0m1-2h0m1 3h0m0 4h0m1 0h0m4-5h0m1 4h0m1-3h0m1 0h0m0-2h0m2 1h0m2-2h0m1 5h0m0-2h0m2-1h0m2 0h0m3-1h0m2 0h0m2-1h0m1 2h0m2 0h0m0-2h0m3 4h0m8 2h0m0-2h0m5-4h0m15 6h0m-98 9h0m2 0h0m0-5h0m1 5h0m0-4h0m1 0h0m0 3h0m3-1h0m2 2h0m1-1h0m0-6h0m2 3h0m1-3h0m1 0h0m2 7h0m1-5h0m3 3h0m0-3h0m1-2h0m1 3h0m1 0h0m2 3h0m1-3h0m0-2h0m1 6h0m1-2h0m0 1h0m3-6h0m1 3h0m2 3h0m1 0h0m3-1h0m0 2h0m2-2h0m0 0h0m2 0h0m0 2h0m2-7h0m1 3h0m3 4h0m2-2h0m0-3h0m2 3h0m0 0h0m3 2h0m2-5h0m1 4h0m3-3h0m1 1h0m3 3h0m0-4h0m2-1h0m0-1h0m1 3h0m7 3h0m12-1h0m3-4h0m1 0h0m7-2h0m24 7h0m-118 2h0m0 3h0m2 3h0m0 0h0m1-6h0m1 1h0m0 3h0m1 0h0m4 1h0m1-2h0m1 1h0m2-5h0m1 4h0m1 1h0m1 1h0m2-2h0m0-4h0m0 7h0m0-7h0m1 7h0m0 0h0m3-1h0m1-4h0m1-2h0m2 4h0m3 2h0m3-5h0m0 2h0m1-1h0m2 3h0m1 2h0m2-6h0m2 2h0m1-1h0m0 0h0m1 3h0m0-5h0m1 6h0m2-3h0m2-2h0m1 2h0m0-3h0m0 2h0m1-1h0m2 4h0m1 2h0m1-6h0m8 1h0m3 2h0m0-1h0m3 0h0m1-3h0m4 1h0m0 4h0m5-5h0m10 3h0m5-2h0m14 0h0m1 6h0m-110 4h0m0-3h0m1 3h0m0 4h0m0-4h0m0-1h0m3 5h0m1-7h0m6 2h0m0 3h0m1-2h0m0 4h0m0-1h0m1-6h0m0 3h0m1 0h0m2 4h0m2-2h0m1 1h0m1-4h0m4-2h0m3 3h0m0-2h0m0 5h0m3-5h0m1 2h0m0-3h0m0 7h0m1 0h0m0-5h0m0 2h0m0-3h0m1 3h0m0 3h0m4-6h0m0 6h0m2-4h0m4-1h0m0-1h0m5-1h0m0 1h0m4 2h0m1 4h0m13-6h0m4 2h0m40 2h0m-108 9h0m1-1h0m2-3h0m2-1h0m1 5h0m1-2h0m0 2h0m3-2h0m1 1h0m2-4h0m0 1h0m1-1h0m0 0h0m0 4h0m1-2h0m1-2h0m0 2h0m1-1h0m2 3h0m2-1h0m4 0h0m1-4h0m0 7h0m2-4h0m1 0h0m6 2h0m4-5h0m2 7h0m1-1h0m1-5h0m3 4h0m14-3h0m3 4h0m5-4h0m9 1h0m1 0h0m-81 8h0m10-3h0m6 0h0m6 3h0m0-1h0m10-1h0m4 1h0m1-2h0m28 2h0m10-2h0m7 1h0" stroke="#f7961f" stroke-opacity="0.32" stroke-width="5.2" stroke-linecap="round" fill="none" transform="scale(.5)"/>
<path d="M590 603h0m7 4h0m29-1h0m10-5h0m54 0h0m-90 11h0m10-3h0m17 5h0m13-6h0m7 2h0m-117 13h0m0-4h0m21-1h0m45 1h0m12 0h0m7-3h0m6 5h0m27-4h0m27 3h0m-115 9h0m2 1h0m20 1h0m2-7h0m10 3h0m12 0h0m15 0h0m16 2h0m-63 8h0m18-3h0m28 5h0m-101 8h0m11-4h0m3 4h0m9-2h0m4-1h0m1 1h0m0 2h0m4-6h0m1 5h0m1-4h0m3-1h0m2 0h0m4-1h0m2 5h0m3-5h0m3 6h0m2-4h0m1 3h0m1-4h0m9 3h0m5-1h0m2 0h0m11-3h0m3 6h0m4-1h0m17 1h0m1-2h0m13-4h0m-128 12h0m2-3h0m3 2h0m11 4h0m4-5h0m17-2h0m6 0h0m2 3h0m2-3h0m9 5h0m10 0h0m0 2h0m9 0h0m3-1h0m0 1h0m2 0h0m3-4h0m3 0h0m7 1h0m33-3h0m-134 14h0m4 0h0m2-5h0m1 3h0m3 0h0m8 1h0m1-1h0m9-3h0m4 2h0m2-1h0m6 2h0m3 0h0m3 0h0m1 1h0m2-5h0m5 2h0m2-2h0m0 3h0m2 1h0m3 0h0m1 0h0m1 1h0m5-6h0m5 2h0m2 5h0m0-6h0m3 0h0m3 1h0m1 3h0m1-2h0m1 3h0m4 0h0m5-2h0m26 0h0m21-4h0m-133 8h0m2 6h0m11-6h0m2 3h0m4 2h0m2 2h0m0-6h0m4 2h0m2-1h0m0 2h0m3 3h0m0-5h0m0 3h0m3-2h0m0-1h0m2-2h0m0 5h0m5-1h0m6 1h0m1 1h0m1-1h0m0 1h0m5-3h0m5-2h0m1 2h0m0-2h0m6 0h0m5-1h0m5 0h0m7 2h0m10-2h0m4 1h0m5 0h0m3 6h0m18-4h0m-132 7h0m1 3h0m2-5h0m1 6h0m1-2h0m5 2h0m2-4h0m3-1h0m1 1h0m1 1h0m1-2h0m2 4h0m1 2h0m2 0h0m0-5h0m1 2h0m5 1h0m1 0h0m1 2h0m2 0h0m1-4h0m1 3h0m1-5h0m2 4h0m2-1h0m0-4h0m3 3h0m2-2h0m1 5h0m1 1h0m2-2h0m0 1h0m0 0h0m1-3h0m1-3h0m2 0h0m1 7h0m1-5h0m5 3h0m4 2h0m1-3h0m0 2h0m1-1h0m5-4h0m6 2h0m1 0h0m2-2h0m1 1h0m1 2h0m5-3h0m5 4h0m1 1h0m4-4h0m29 2h0m5-1h0m10-3h0m-141 10h0m5-1h0m3 1h0m1-2h0m0 1h0m3 5h0m0-6h0m0 4h0m4-3h0m3 3h0m1 3h0m0-7h0m0 1h0m2 0h0m2 5h0m3-4h0m0-1h0m1 1h0m3 0h0m0 3h0m0-4h0m1 5h0m4 1h0m0-5h0m1 4h0m1-4h0m0-2h0m0 0h0m3 1h0m2 4h0m1 0h0m0-5h0m1 1h0m0 3h0m2-2h0m2 5h0m0-2h0m0 2h0m2-1h0m1-5h0m6 5h0m1-2h0m3-4h0m2 4h0m3 2h0m3-1h0m1 2h0m8-6h0m0 3h0m2 3h0m3 0h0m15-5h0m2 5h0m22-3h0m7-2h0m-130 12h0m2 0h0m2-6h0m0 7h0m2-7h0m0 3h0m1-3h0m0 2h0m1 4h0m0-6h0m0 2h0m2-1h0m0-1h0m1 0h0m1 5h0m0-4h0m0 0h0m1 4h0m1 2h0m0-1h0m2-3h0m1-2h0m2 4h0m0-1h0m3 1h0m1-2h0m0 4h0m1-3h0m1-3h0m2 6h0m0-2h0m3-3h0m0-2h0m2 5h0m2 2h0m1-6h0m2 5h0m0-1h0m1 1h0m0-4h0m2-2h0m0 4h0m3 0h0m0 0h0m3 1h0m1-4h0m1 2h0m2 0h0m0 3h0m4-5h0m0 5h0m3-4h0m2 3h0m0 0h0m1-4h0m1 2h0m0-3h0m2 6h0m3-6h0m1 3h0m3-1h0m2-2h0m2 3h0m4 4h0m1-5h0m3 2h0m1 0h0m3 1h0m1 0h0m7-3h0m5 1h0m-97 8h0m0 1h0m1-1h0m2 4h0m1-4h0m1 0h0m2 4h0m0-4h0m1-2h0m2 2h0m2 2h0m1-2h0m2 4h0m1-3h0m0 3h0m3-2h0m2 2h0m1-5h0m1 3h0m1-4h0m0 5h0m1-2h0m0 2h0m0-2h0m4 0h0m3-3h0m0 6h0m0-6h0m0 4h0m2 0h0m2-5h0m3 2h0m2 1h0m2-2h0m1 4h0m0 2h0m1-7h0m4 0h0m0 5h0m1-2h0m0-2h0m0-1h0m1 6h0m1-4h0m8 3h0m1 2h0m4-7h0m8 2h0m0 0h0m3-2h0m8 2h0m1 5h0m1-1h0m7-6h0m5 4h0m8-3h0m19 0h0m5 1h0m-132 9h0m1 3h0m0 0h0m1-2h0m1 3h0m1-7h0m0 5h0m1-1h0m0-4h0m0 5h0m1 0h0m0-2h0m1 0h0m1 0h0m2 0h0m2 4h0m1-3h0m1-2h0m0-1h0m0-1h0m4 1h0m1 5h0m0-6h0m1 7h0m1-7h0m1 5h0m5 1h0m1-2h0m0 1h0m1-2h0m1-3h0m2 0h0m2 4h0m2 0h0m1-3h0m1 2h0m0-2h0m1-1h0m1 6h0m1 0h0m1 0h0m1-3h0m2-1h0m1 2h0m1-4h0m1 1h0m1 1h0m3 4h0m2-4h0m3 2h0m4 1h0m0-1h0m5-4h0m11 0h0m0 7h0m-76 5h0m1 1h0m3-5h0m2 7h0m0-1h0m0-4h0m2-2h0m0 1h0m1 6h0m2-7h0m0 7h0m1 0h0m0-2h0m2 0h0m0-3h0m3 0h0m1-1h0m0 2h0m4 3h0m0-4h0m1 5h0m1-3h0m0 3h0m1-3h0m1-2h0m1-2h0m1 6h0m1-4h0m1 5h0m5-7h0m0 3h0m1 2h0m1-3h0m0 1h0m3-3h0m2 5h0m1-4h0m3-1h0m0 7h0m6-6h0m1-1h0m3 3h0m0 4h0m7-7h0m6 4h0m6-3h0m10 0h0m10-1h0m-96 14h0m1-4h0m1 5h0m2-3h0m2-4h0m1 0h0m1 6h0m2-1h0m0-3h0m2 3h0m0-5h0m1 6h0m1-5h0m1 6h0m3-5h0m7 3h0m2-4h0m2 2h0m1 4h0m2-1h0m1-3h0m2 1h0m4-2h0m0-2h0m5 1h0m1 2h0m1 0h0m5 0h0m0-3h0m2 4h0m3-4h0m6 0h0m8 5h0m24-1h0m-89 4h0m1 1h0m10 1h0m6-1h0m6-1h0m6 1h0m5 0h0m0 1h0m16 1h0" stroke="#f7961f" stroke-opacity="0.32" stroke-width="5.2" stroke-linecap="round" fill="none" transform="scale(.5)"/>
<path d="M606 582h0m-56 23h0m49 1h0m82 1h0m-94 2h0m45 3h0m54 2h0m-77 3h0m2 3h0m6-2h0m1 0h0m37 4h0m-86 7h0m3-1h0m11-3h0m2 6h0m2-5h0m1 0h0m11-1h0m36 3h0m25-1h0m1 2h0m14-4h0m-153 12h0m5-2h0m30 0h0m8 3h0m8-4h0m1 0h0m2-2h0m5 3h0m2 1h0m7 1h0m9-4h0m4 2h0m8 3h0m1-1h0m15-5h0m48 1h0m-144 14h0m6-5h0m2 1h0m9-2h0m12 2h0m5 1h0m0 0h0m9 0h0m1-4h0m2 7h0m0 0h0m3-1h0m11 0h0m9 1h0m3-5h0m2 4h0m3-2h0m3 1h0m2-1h0m20 0h0m6 1h0m-118 7h0m9-3h0m3 6h0m1 0h0m2-7h0m6 0h0m5 2h0m5 4h0m1-2h0m3-1h0m5-3h0m2 5h0m7 2h0m2 0h0m3-4h0m2 2h0m2-1h0m2-4h0m2 6h0m0-3h0m8 3h0m10-5h0m1 3h0m13 0h0m9 1h0m16-4h0m12 6h0m-151 3h0m7-2h0m5 0h0m1 5h0m3 2h0m0-3h0m0 2h0m1-1h0m2-3h0m1 5h0m9 0h0m7-6h0m3 6h0m2-2h0m0-3h0m1 5h0m0-2h0m2-4h0m2-1h0m1 2h0m2 5h0m6-2h0m1 0h0m0-5h0m2 5h0m3-5h0m1 3h0m0 2h0m2-5h0m3 6h0m8-2h0m2-3h0m5 5h0m6-6h0m3 6h0m2-6h0m7 7h0m7-4h0m3 3h0m3-4h0m-112 8h0m8 3h0m4-2h0m5-2h0m0 3h0m4-4h0m0 1h0m2 6h0m4-3h0m3-2h0m1 3h0m0 2h0m3-3h0m1-4h0m0 2h0m1-1h0m1 1h0m2 4h0m5-4h0m1 3h0m0 0h0m1-1h0m6 0h0m0 1h0m1-3h0m4-1h0m0-1h0m0 1h0m0 6h0m2-4h0m0-3h0m1 1h0m2-1h0m1 5h0m2-1h0m2-4h0m2 1h0m1 0h0m2 4h0m2-2h0m1 2h0m4 2h0m0-5h0m5-1h0m0 4h0m1 0h0m2-2h0m0 4h0m2-4h0m1 2h0m3-3h0m1-2h0m3 7h0m1-3h0m1-4h0m28 4h0m0-3h0m-128 14h0m4 0h0m5-6h0m1 5h0m2-4h0m1 5h0m1-2h0m0-1h0m0 1h0m1-2h0m2-1h0m3 1h0m0-3h0m1 4h0m1 0h0m2 3h0m1-4h0m0-2h0m0 1h0m1 0h0m0 4h0m3-2h0m3-4h0m3 5h0m1-5h0m1 0h0m1 0h0m0 3h0m1 2h0m2-4h0m0 4h0m0-4h0m2 3h0m3 1h0m2-1h0m0-3h0m2 6h0m3-3h0m3 2h0m2-2h0m5-4h0m0 3h0m1 0h0m0 4h0m7-3h0m1 0h0m0 0h0m0 1h0m3 0h0m1-3h0m6 0h0m1-1h0m0 6h0m1-7h0m1 3h0m6 1h0m0 0h0m2 2h0m0 0h0m9-4h0m7 0h0m11 0h0m24 0h0m-143 6h0m1 2h0m3 4h0m2-2h0m3-2h0m2-2h0m2 6h0m1-5h0m2 6h0m0 0h0m0-2h0m2 0h0m2 0h0m0 0h0m2-3h0m1 1h0m1 0h0m1-1h0m1 1h0m1 3h0m1-1h0m3-4h0m0 0h0m1 0h0m1 3h0m3 0h0m2 3h0m0-1h0m0-4h0m4 5h0m0-1h0m0-4h0m2 3h0m6-2h0m2 0h0m1 3h0m1 1h0m0-3h0m3-4h0m1 0h0m8 5h0m2-3h0m2 2h0m3-1h0m2 0h0m1-2h0m0 4h0m2 0h0m7-1h0m9 0h0m2 1h0m7-4h0m5 4h0m11-2h0m-120 9h0m2 0h0m0-1h0m0-3h0m3 3h0m0 3h0m5-3h0m2-1h0m0 1h0m1-3h0m1 2h0m1 4h0m0-2h0m3-4h0m3 3h0m0 0h0m1-3h0m3 4h0m0-4h0m1 7h0m0 0h0m0-4h0m2-1h0m5-2h0m1 0h0m0 6h0m8-1h0m1-2h0m1-3h0m0 2h0m1 4h0m0-4h0m8 0h0m4 5h0m1-1h0m2-3h0m4 0h0m1-3h0m2 0h0m6 2h0m1 1h0m0 4h0m1 0h0m3 0h0m6-2h0m1-4h0m2 5h0m1-2h0m0-4h0m6 2h0m5 5h0m5-7h0m-105 8h0m1 3h0m0-1h0m1-2h0m1 7h0m2-2h0m0 0h0m0 1h0m0-4h0m1-2h0m0 1h0m1-1h0m3 3h0m0-1h0m1-1h0m1 4h0m1-5h0m1 3h0m0 0h0m0 4h0m1-7h0m2 7h0m0-2h0m0-4h0m4 0h0m0 6h0m1 0h0m0-4h0m0 3h0m0 1h0m0-3h0m2-4h0m1 0h0m1 3h0m1-1h0m4-2h0m1 5h0m3-4h0m2 2h0m1 3h0m0-5h0m1 4h0m1-4h0m1 6h0m1-7h0m4 7h0m2-3h0m1 3h0m1 0h0m2-5h0m0 2h0m1-3h0m0-1h0m0 3h0m1 4h0m0-3h0m2 3h0m4-7h0m4 0h0m7 7h0m1-5h0m2 1h0m8 2h0m12 2h0m6-1h0m-100 3h0m1 5h0m0 0h0m2 0h0m2-1h0m1-3h0m0 2h0m3-1h0m1 3h0m0-4h0m2 3h0m3-1h0m2 0h0m0 0h0m1-2h0m0 1h0m2 4h0m4 0h0m2 0h0m1-5h0m2-2h0m0 4h0m0 2h0m1 1h0m1-3h0m0-4h0m3 4h0m1 0h0m1-1h0m1-2h0m1 0h0m5 6h0m0 0h0m1-5h0m2 0h0m1 2h0m2 1h0m1-4h0m4 0h0m2-1h0m1 2h0m1 3h0m1-4h0m3 1h0m2-2h0m2 5h0m0-2h0m3-1h0m4 0h0m0 1h0m2 2h0m20-2h0m9 3h0m-104 2h0m0 6h0m0-6h0m0 1h0m2-1h0m0 4h0m1-3h0m0 2h0m5 2h0m1 0h0m0-4h0m1 0h0m4 0h0m1 3h0m1-1h0m0 0h0m2 1h0m1-3h0m0 5h0m3-4h0m1 5h0m2-6h0m5 4h0m0-3h0m1 1h0m0 1h0m3 1h0m1-1h0m1 0h0m1 1h0m1 2h0m0-7h0m2 6h0m0-4h0m5 4h0m0-4h0m2 3h0m5 0h0m1-1h0m3 1h0m3-3h0m3 3h0m1-3h0m6 3h0m0-4h0m4 5h0m6-1h0m5-4h0m0 4h0m3-4h0m2 1h0m12 1h0m-100 12h0m1-7h0m1 2h0m1 1h0m2 4h0m1 0h0m1-2h0m1-1h0m2 3h0m1-4h0m0 2h0m1-1h0m0 1h0m5-3h0m0 5h0m0-7h0m0 6h0m3-5h0m0 0h0m1 5h0m1-2h0m0-3h0m2-1h0m1 4h0m1-1h0m0 4h0m0-1h0m3 0h0m2-2h0m0-1h0m2 0h0m8 3h0m0 0h0m3-2h0m1-4h0m1 3h0m0-3h0m4 1h0m5 0h0m2 1h0m8 5h0m5-5h0m-63 9h0m2-3h0m3 0h0m5 3h0m3-1h0m7 0h0m3-2h0m0 1h0m3 0h0m18 1h0m22-2h0" stroke="#f7961f" stroke-opacity="0.32" stroke-width="5.2" stroke-linecap="round" fill="none" transform="scale(.5)"/>
<path d="M604 577h0m-23 18h0m4 4h0m64 2h0m10 1h0m-129 11h0m29-2h0m5-1h0m2 2h0m31 0h0m8 1h0m5-1h0m-65 9h0m23 2h0m58-3h0m19 3h0m-105 7h0m11 0h0m1 0h0m27 0h0m23-2h0m7 3h0m1-2h0m3 1h0m2-5h0m0 1h0m7 4h0m44-4h0m-141 13h0m19-2h0m1 2h0m21-6h0m3 1h0m0 4h0m12 0h0m6-5h0m4 6h0m9-3h0m11 1h0m9 0h0m13 0h0m-123 8h0m24-4h0m1 0h0m10-1h0m6 7h0m5 0h0m2-2h0m13 0h0m2-5h0m2 7h0m12-3h0m1-4h0m4 0h0m2 0h0m3 1h0m1 6h0m19-6h0m23 4h0m5 0h0m1 1h0m3-3h0m-135 7h0m6 5h0m12-2h0m0-1h0m2 0h0m3 2h0m2-1h0m2 2h0m4-1h0m4 1h0m1-6h0m7 6h0m2-1h0m0 1h0m2-1h0m0-2h0m1-3h0m2 6h0m1-2h0m2-2h0m8-2h0m5-1h0m1 3h0m2 3h0m3-1h0m3-5h0m2 3h0m1 4h0m1-3h0m20 2h0m29-1h0m-139 6h0m8-1h0m3-2h0m3 7h0m5-2h0m8 0h0m1-1h0m2 1h0m1-3h0m6 2h0m1 0h0m5 3h0m0-7h0m1 2h0m0-1h0m1 3h0m1 1h0m6 1h0m1 0h0m0-2h0m2-4h0m2 0h0m2 3h0m1-3h0m2 2h0m1 1h0m2-1h0m2 0h0m2 2h0m5 1h0m5 0h0m6 1h0m24 0h0m4-2h0m21-1h0m33 2h0m-168 7h0m6 0h0m1-2h0m1 2h0m1-1h0m10 3h0m1-5h0m1 2h0m8 1h0m4 3h0m4-7h0m0 6h0m2 1h0m1-1h0m1 1h0m4-5h0m1 3h0m1 2h0m0-5h0m3 0h0m0 4h0m3-2h0m6 2h0m6-5h0m0 3h0m2 0h0m2 2h0m3-3h0m0-1h0m2 1h0m1 1h0m1 3h0m1-3h0m0 1h0m1-3h0m4 4h0m1 1h0m4-7h0m2 2h0m7-2h0m13 7h0m1-2h0m3-2h0m20 4h0m-134 4h0m2 0h0m4 3h0m7-6h0m0 1h0m1 5h0m6-3h0m1-1h0m2 4h0m0-4h0m2 3h0m2-4h0m1 4h0m0-2h0m2 4h0m0-3h0m1 2h0m0-2h0m4-4h0m0 7h0m1-4h0m4 1h0m3-2h0m2 1h0m3-1h0m2-2h0m5 5h0m0 2h0m1-7h0m0 3h0m1 2h0m4-3h0m1 4h0m2-3h0m0 0h0m1 4h0m2-4h0m2 4h0m4-5h0m1 4h0m11-1h0m1-5h0m0 1h0m1 5h0m10-6h0m17 6h0m29-3h0m-143 12h0m7-4h0m0 2h0m4-5h0m3 7h0m1-4h0m2 3h0m0-4h0m2 4h0m3-2h0m1 2h0m0-5h0m6-1h0m1 4h0m1-4h0m0 1h0m1 3h0m1 0h0m2-3h0m0 6h0m2-6h0m0 0h0m1 0h0m1 5h0m2-3h0m0-2h0m0-1h0m1 5h0m2 0h0m1 1h0m0-5h0m0 5h0m1-5h0m1 3h0m0 1h0m2-1h0m0-2h0m4 1h0m3 1h0m1 1h0m3 0h0m3 0h0m2 1h0m1-5h0m1 2h0m0-2h0m2 1h0m1 1h0m2 1h0m2-3h0m0-1h0m0 2h0m0-1h0m1 0h0m3 6h0m0-3h0m6 0h0m4-1h0m12 2h0m5-3h0m13-1h0m13 4h0m-131 6h0m1 3h0m1 0h0m0-6h0m1 3h0m1 2h0m1 2h0m3-3h0m2 2h0m4-2h0m1-4h0m1 6h0m2-5h0m0 6h0m2-4h0m3 0h0m1 1h0m1 1h0m3-1h0m1 2h0m0 1h0m1-2h0m0 0h0m2-4h0m0 4h0m2 1h0m2-5h0m1 1h0m1 5h0m1 0h0m0-5h0m0-2h0m1 5h0m1 2h0m1-6h0m1 6h0m0-4h0m0-2h0m1 3h0m3 3h0m4-5h0m0 0h0m0 0h0m1-2h0m1 5h0m1-1h0m0 3h0m2-3h0m3-2h0m1 5h0m0-6h0m2 2h0m0 0h0m1-2h0m4-1h0m4 5h0m6-5h0m3 7h0m2-5h0m0 4h0m8-6h0m1 5h0m4-2h0m26-1h0m-122 12h0m0 1h0m1-7h0m2 3h0m4 0h0m2-1h0m5 5h0m0 0h0m1-6h0m1-1h0m3 5h0m0-2h0m1 1h0m4 3h0m1-7h0m0 3h0m2 4h0m0-3h0m1-4h0m0 2h0m1-1h0m1 2h0m0 2h0m1-2h0m0 0h0m1 0h0m1 3h0m0 1h0m0-2h0m2-4h0m0 2h0m1 4h0m5-6h0m0 4h0m1 2h0m1-6h0m0 2h0m2 2h0m0-4h0m0 0h0m1 0h0m0 5h0m0-6h0m1 6h0m1-3h0m6 3h0m0-4h0m1 0h0m2 2h0m1 3h0m1-5h0m2 5h0m2-2h0m1-4h0m4 3h0m2 0h0m1 1h0m0-3h0m4 4h0m3-5h0m2-1h0m7 2h0m7-1h0m8 5h0m-101 2h0m4 3h0m0 4h0m1-6h0m2-1h0m1 4h0m0-1h0m0-3h0m2 0h0m0 2h0m0 1h0m2 0h0m1-1h0m1 0h0m2 0h0m0 3h0m2 2h0m0-7h0m4 5h0m1 2h0m0-4h0m1 0h0m5 4h0m0-6h0m1 6h0m0-7h0m1 3h0m0 2h0m4 1h0m1-3h0m1-2h0m0 0h0m2 4h0m0 2h0m1-2h0m3-2h0m0 2h0m2 2h0m1-5h0m0 5h0m5-2h0m1-2h0m3-3h0m2 6h0m2-1h0m11-1h0m9-4h0m2 3h0m-78 12h0m1-3h0m0-2h0m2 4h0m0-2h0m1 0h0m2 1h0m0-5h0m1 7h0m1-7h0m0 5h0m1-3h0m1-1h0m1-1h0m2 5h0m0 0h0m0-5h0m3 4h0m1 3h0m0-4h0m0 1h0m1-4h0m0 2h0m5-1h0m2 6h0m0-5h0m2 5h0m1-5h0m0 1h0m2-2h0m1 5h0m0-4h0m3-2h0m1 4h0m8 3h0m0 0h0m9-6h0m1 0h0m4-1h0m1 2h0m1-1h0m4 6h0m6-5h0m3 4h0m0-3h0m20-3h0m-95 11h0m0-3h0m1 4h0m1-2h0m1 0h0m2-2h0m1 3h0m1-2h0m2 6h0m0 0h0m1-2h0m7-1h0m4 3h0m0-6h0m2 3h0m0 1h0m1 2h0m2-2h0m1 1h0m1-1h0m2-4h0m2 5h0m0-4h0m0 2h0m1 2h0m0-2h0m4-4h0m1 4h0m0-3h0m0-1h0m2 6h0m0-2h0m3-3h0m2 1h0m4 1h0m1 4h0m0-6h0m3 1h0m2 0h0m13-1h0m0 3h0m-69 4h0m1 1h0m1 0h0m1 1h0m8 0h0m1-1h0m2-1h0m3 0h0m7 0h0m3 0h0m1 2h0m2 1h0m4-2h0m2 2h0m1 0h0m2-1h0m10-2h0m5 2h0m0-2h0m33 2h0" stroke="#f7961f" stroke-opacity="0.32" stroke-width="5.2" stroke-linecap="round" fill="none" transform="scale(.5)"/>
<path d="M666 587h0m-41 12h0m15-1h0m-93 6h0m47 1h0m-36 9h0m19-4h0m45 0h0m21-1h0m3 6h0m-93 1h0m1 3h0m68-3h0m3 2h0m49 0h0m-139 10h0m6 1h0m3-5h0m28 6h0m8-4h0m0 5h0m1-5h0m1 1h0m6 2h0m2-4h0m5 2h0m1 3h0m0-1h0m3-4h0m7 1h0m38 2h0m26 3h0m-157 1h0m12 7h0m4-7h0m19 4h0m3 3h0m9-7h0m20 2h0m18 1h0m0-2h0m0-1h0m1 6h0m6-1h0m14 0h0m8 1h0m17-1h0m-131 5h0m13 5h0m17-2h0m8-1h0m1 2h0m3 1h0m2-1h0m0 0h0m13-4h0m0 0h0m26-1h0m4 0h0m30 0h0m3 5h0m1-1h0m15 0h0m-125 5h0m3-2h0m5 0h0m7 0h0m3 3h0m3 4h0m0-2h0m1 1h0m1-5h0m2-1h0m2 7h0m1-2h0m0 0h0m1 0h0m8-1h0m15-4h0m1 0h0m3 2h0m2-1h0m2 2h0m6 0h0m4-1h0m5-2h0m1 7h0m4 0h0m6-3h0m1-3h0m4 5h0m2-2h0m4-4h0m2 6h0m3-6h0m21 0h0m-140 11h0m13 1h0m4 1h0m1-3h0m0-2h0m7 2h0m4 1h0m0-2h0m1 4h0m0 0h0m1-3h0m1 1h0m2 2h0m11-5h0m2 4h0m4-3h0m4 0h0m8-1h0m4 6h0m4-5h0m2 4h0m1 2h0m1-2h0m1 0h0m2 2h0m0-6h0m2 4h0m1 2h0m1-5h0m3 1h0m4-3h0m4 0h0m1 6h0m2 0h0m23 1h0m9-3h0m-135 10h0m13 1h0m2 0h0m1 0h0m0-6h0m4 0h0m0 0h0m4 1h0m2 0h0m0 1h0m7 3h0m0-5h0m1-1h0m1 0h0m0 5h0m3-1h0m3-1h0m0-2h0m2 3h0m1 0h0m3-3h0m1 4h0m5 1h0m0-2h0m1-3h0m1-1h0m2 1h0m4 2h0m2 4h0m1-4h0m1 0h0m0 1h0m6-1h0m3 3h0m2-3h0m7 1h0m1 3h0m5-4h0m1 3h0m0 1h0m3-6h0m1 2h0m2-3h0m4 2h0m3 5h0m23-7h0m7 5h0m-131 4h0m1-1h0m1 6h0m4-1h0m6-2h0m1 2h0m1-4h0m6 1h0m0 3h0m1 1h0m2-3h0m3 0h0m1 2h0m7-5h0m2 4h0m2-3h0m0 2h0m1-1h0m2 5h0m2-5h0m3 2h0m3-2h0m0 2h0m3-4h0m8 3h0m3 1h0m1 1h0m0-4h0m2 1h0m2 2h0m4-1h0m1 2h0m2 2h0m7-7h0m4 1h0m0-1h0m0 1h0m14 5h0m0-4h0m1-1h0m4 2h0m12 1h0m25 0h0m-144 9h0m1 1h0m7-2h0m1 3h0m5-5h0m0 4h0m1-3h0m0 3h0m2 1h0m2-1h0m1 0h0m0-2h0m2 3h0m1-6h0m2 4h0m1 0h0m0-5h0m2 6h0m2 1h0m0-1h0m1-6h0m1 7h0m0-6h0m3-1h0m1 7h0m2 0h0m2-4h0m0-2h0m1 5h0m1 0h0m1 0h0m1-1h0m2 1h0m1-5h0m1 2h0m2 1h0m1-2h0m0 1h0m1-1h0m3 3h0m2-4h0m0 5h0m3-3h0m1 2h0m1-1h0m1 3h0m3 0h0m4 0h0m0 0h0m2-2h0m4-2h0m2 1h0m5-3h0m3 1h0m5 2h0m9-3h0m3 6h0m-103 3h0m2 3h0m1 2h0m0-7h0m3 1h0m2 5h0m3-6h0m2 5h0m4 1h0m3 0h0m0-2h0m0 3h0m3-2h0m3-4h0m1-1h0m0 6h0m3-1h0m1-4h0m1 5h0m1 0h0m0-3h0m3 2h0m2-4h0m1-1h0m4 0h0m4 5h0m0-1h0m4-4h0m2 5h0m4 1h0m2 0h0m2 0h0m1-3h0m6-2h0m0 6h0m2-2h0m7-4h0m3 3h0m1 1h0m9-4h0m42 2h0m-130 8h0m2 1h0m1-1h0m0 2h0m1-1h0m0 2h0m0-2h0m6 2h0m1-5h0m1 3h0m2 2h0m1-5h0m0 4h0m1 0h0m0-2h0m2 3h0m1 0h0m0-3h0m0 3h0m1-6h0m1 0h0m0 4h0m0 1h0m0 0h0m1-4h0m0 2h0m1 4h0m0 0h0m0-1h0m0 1h0m3-1h0m3 1h0m0 0h0m0-6h0m0 4h0m1-5h0m3 0h0m1 1h0m1 5h0m0-6h0m3 4h0m1-3h0m1 3h0m2 2h0m0-1h0m3 0h0m2-5h0m5 6h0m1-2h0m11 1h0m0-1h0m0-4h0m1 5h0m2-1h0m1-3h0m8 2h0m2-1h0m11 1h0m1 4h0m5-7h0m9 6h0m-106 4h0m2 5h0m2-4h0m0 1h0m2-3h0m1 0h0m0 5h0m1-3h0m8-2h0m0 0h0m1-1h0m0 3h0m1 1h0m0 3h0m1 0h0m1 0h0m1-2h0m1-2h0m0 2h0m1-1h0m0-3h0m0-1h0m2 4h0m0-1h0m1 1h0m0 3h0m0-7h0m2 5h0m4 2h0m1-5h0m1 2h0m1 0h0m0 2h0m1-2h0m2 0h0m0 2h0m0 1h0m2-3h0m0-3h0m1 2h0m1-1h0m0-1h0m2-1h0m1 4h0m4-3h0m4 0h0m5 3h0m0-2h0m0-2h0m3 3h0m5-3h0m1 6h0m8-2h0m19 0h0m-94 4h0m1 7h0m1-1h0m0 0h0m1-3h0m2 2h0m0 2h0m2-7h0m2 7h0m1-1h0m2-2h0m0-1h0m0 1h0m0 0h0m1-3h0m3 6h0m0-1h0m0 0h0m0 0h0m1-2h0m0 0h0m1-4h0m4 4h0m1 0h0m0 1h0m1 1h0m3 0h0m2 0h0m2 1h0m0 0h0m4-6h0m3 1h0m1-1h0m5 4h0m2-1h0m0-4h0m3 7h0m0-6h0m1-1h0m2 3h0m1-2h0m1 5h0m2-6h0m1 6h0m0-1h0m12 1h0m10-4h0m-78 9h0m1-1h0m1 2h0m0-3h0m0 5h0m1-3h0m2 3h0m0-2h0m5-4h0m2 3h0m0 2h0m1-5h0m0 6h0m1-6h0m0 1h0m0-1h0m3 0h0m4 2h0m1 1h0m3-1h0m2 0h0m1-2h0m5 4h0m1 3h0m0-7h0m2 1h0m1-1h0m6 1h0m3-1h0m5 1h0m4 0h0m0-1h0m6 2h0m8 0h0m2-1h0m25 5h0m-92 4h0m5-1h0m8-1h0m7 0h0m2 1h0m3 0h0m7 0h0m0 1h0m1-1h0m2-1h0m1 2h0m2-2h0m2 2h0m0-1h0m1 1h0m4 0h0m0-2h0m2 1h0m2 1h0m9 0h0m17 1h0" stroke="#f7961f" stroke-opacity="0.32" stroke-width="5.2" stroke-linecap="round" fill="none" transform="scale(.5)"/>
<path d="M641 581h0m80-2h0m-149 18h0m97-2h0m-148 9h0m54 3h0m53-4h0m0-2h0m13 3h0m-49 10h0m22-4h0m4 1h0m-93 10h0m23-3h0m5 2h0m2-2h0m26-2h0m42 6h0m-67 8h0m3-6h0m4 5h0m26-2h0m9 1h0m7-2h0m9 1h0m17-3h0m-111 13h0m7-3h0m11 0h0m15-1h0m8 4h0m15 0h0m3 0h0m10 0h0m5-4h0m4-1h0m1 6h0m2-5h0m4 4h0m4-4h0m2 6h0m1-2h0m1 1h0m14-6h0m11 1h0m16 3h0m-131 11h0m12-5h0m3 5h0m1-7h0m1 1h0m0-1h0m1 5h0m8-3h0m6 4h0m8 1h0m5 0h0m11-5h0m4 4h0m1 1h0m13-1h0m3-2h0m2 3h0m6-2h0m6-2h0m2 3h0m18-4h0m13-1h0m24 0h0m-167 8h0m6 0h0m3 2h0m2 4h0m12-6h0m22 6h0m7-1h0m3-6h0m5 4h0m1-4h0m5 6h0m3-6h0m3 7h0m4-4h0m8 1h0m2 1h0m0-3h0m4 5h0m17-1h0m0-1h0m7 1h0m34-1h0m-147 8h0m3-4h0m4 6h0m16-2h0m2-1h0m6-2h0m0-2h0m1 2h0m3 1h0m1 0h0m0-3h0m4 4h0m0 3h0m4 0h0m1 0h0m3-2h0m1-2h0m2 1h0m1-1h0m4 1h0m0 0h0m5 2h0m2-6h0m0 7h0m3-1h0m0-1h0m2-1h0m1-3h0m4 2h0m0 3h0m1-1h0m3 0h0m0-5h0m3 3h0m1 4h0m8-2h0m0 2h0m1-1h0m0-2h0m5 2h0m1-6h0m2 5h0m9-1h0m13-3h0m-118 9h0m2 5h0m2-4h0m1-3h0m2 5h0m4-1h0m3 1h0m3 0h0m2 0h0m7 1h0m1 0h0m0-4h0m0 0h0m4 4h0m4-3h0m3 4h0m0-3h0m2 3h0m0-1h0m6-5h0m7 1h0m1-1h0m3 2h0m0-3h0m4 2h0m9-2h0m5 2h0m3-2h0m2 1h0m1 4h0m0 1h0m0-6h0m2 2h0m2 3h0m3-3h0m2-2h0m3 0h0m1 1h0m8 5h0m12-5h0m3 2h0m13-1h0m33-2h0m-169 10h0m12 0h0m0-1h0m3 0h0m2-1h0m1 0h0m3 3h0m6-1h0m1-1h0m2 1h0m4 0h0m1 4h0m5-4h0m3 3h0m1-2h0m1-3h0m2 3h0m3 3h0m0-3h0m1 4h0m4-4h0m0-1h0m4 0h0m1 4h0m1-4h0m1-1h0m1-1h0m1 7h0m1-5h0m5-1h0m0 4h0m3-2h0m8 4h0m2-1h0m11-6h0m2 1h0m9 2h0m0 2h0m4-5h0m1 4h0m65-3h0m-173 7h0m2 2h0m2-1h0m5-1h0m0 7h0m2-2h0m0-3h0m1-2h0m2 2h0m1 5h0m1-5h0m2 4h0m2 0h0m0-2h0m2 2h0m1-2h0m0-3h0m7 1h0m0 1h0m7 3h0m2 1h0m3 0h0m2-5h0m2 3h0m0 1h0m2-1h0m3 0h0m0-1h0m2-4h0m2 1h0m0-1h0m0 5h0m1-3h0m1 3h0m1-4h0m5 0h0m1-1h0m1 2h0m2 4h0m0 1h0m6 0h0m1-2h0m1-4h0m4 2h0m5-3h0m2 3h0m11-1h0m-97 11h0m0-4h0m1 5h0m1-4h0m0 3h0m1-1h0m0-4h0m1 3h0m1 2h0m0-4h0m4 6h0m1 0h0m1-4h0m1 2h0m2 0h0m1-1h0m1 3h0m1-4h0m3-3h0m4 0h0m1 2h0m0 3h0m0 0h0m2-1h0m0 1h0m1-1h0m0-3h0m1 6h0m0-2h0m2-5h0m5 2h0m3 4h0m1-1h0m3-5h0m0 1h0m4 5h0m1-4h0m2 0h0m1 4h0m1-4h0m0 2h0m0-3h0m0 2h0m3 1h0m1-1h0m2 1h0m0 0h0m1-1h0m1 4h0m5-6h0m1 2h0m4-3h0m1 3h0m2-1h0m2-2h0m5 7h0m4-2h0m4 2h0m6-7h0m4 0h0m-99 9h0m1 2h0m1 1h0m2-3h0m2 5h0m1-3h0m1-3h0m0 3h0m0-1h0m1 1h0m1 1h0m2-1h0m0-1h0m0 1h0m1 2h0m0-3h0m1-2h0m2 0h0m0 5h0m3 0h0m0 0h0m1 1h0m3 1h0m0-1h0m3-1h0m0-3h0m2 3h0m4-5h0m2 1h0m2 5h0m2-2h0m0 3h0m1-2h0m1-5h0m2 2h0m1 5h0m0-2h0m1-4h0m4 3h0m0-3h0m1 1h0m1 2h0m0 0h0m2-1h0m1 3h0m2-6h0m2 1h0m1 4h0m1 0h0m4 2h0m2-5h0m2 2h0m4 3h0m4-2h0m19-1h0m3 0h0m3-3h0m-102 13h0m1-2h0m0-1h0m1-2h0m1 3h0m3 3h0m1-3h0m0-4h0m0 2h0m1 5h0m0-1h0m0-2h0m1-1h0m0 3h0m2 1h0m2-7h0m0 3h0m1 2h0m1-4h0m0 2h0m0-2h0m2 3h0m2-3h0m0 0h0m1 3h0m0 3h0m0-4h0m0 0h0m2 3h0m0-3h0m1 1h0m0 0h0m0 2h0m2-4h0m1 4h0m0-6h0m0 6h0m0-5h0m6 0h0m0 4h0m1 2h0m0-7h0m2 7h0m0-5h0m1 4h0m1 0h0m6-1h0m0-3h0m0 0h0m0 0h0m1 3h0m1-4h0m7 6h0m0-1h0m2-4h0m4-2h0m0 0h0m0 6h0m6-6h0m4 7h0m3-7h0m1 4h0m9-2h0m-81 9h0m2 1h0m1 3h0m1-1h0m0-6h0m3 6h0m2-2h0m0-3h0m3-1h0m2 5h0m0-1h0m2 0h0m3 3h0m0-5h0m0 0h0m0 1h0m1 2h0m0 1h0m1 1h0m1-5h0m2 1h0m4-2h0m1 5h0m0 0h0m1-2h0m0-3h0m2 0h0m2 0h0m6 5h0m1-1h0m2 0h0m2-4h0m1 6h0m5-2h0m0 0h0m3 0h0m3 2h0m0-6h0m4 0h0m0 1h0m10 2h0m4-3h0m26 5h0m-101 2h0m1 5h0m1 1h0m0 0h0m2-6h0m1 6h0m1-4h0m1 5h0m2-6h0m1-1h0m0 5h0m1-3h0m1-1h0m1 3h0m2-1h0m1-1h0m0 1h0m2-1h0m4 4h0m1 0h0m2-3h0m2 2h0m2-1h0m1 0h0m4-1h0m0 2h0m1 1h0m3 0h0m7-2h0m1-3h0m15 1h0m3 0h0m2-1h0m8 1h0m10 4h0m-84 2h0m6 2h0m1 0h0m4-2h0m1 0h0m4 0h0m8 0h0m4 0h0m5 0h0m6 2h0m1 0h0m5 1h0m3-2h0m26 0h0" stroke="#f7961f" stroke-opacity="0.32" stroke-width="5.2" stroke-linecap="round" fill="none" transform="scale(.5)"/>
<path d="M612 573h0m64 2h0m9 1h0m-67 21h0m22-2h0m-68 7h0m-2 13h0m43-2h0m6 0h0m-84 6h0m68 2h0m3-4h0m19-1h0m6 7h0m16-4h0m-129 8h0m38 1h0m19 2h0m3-2h0m22 3h0m1-7h0m2 0h0m9 7h0m24-5h0m34-2h0m-163 13h0m21 0h0m2-5h0m2 2h0m17 0h0m16 4h0m19-6h0m0 0h0m3 2h0m3-1h0m0 0h0m3 3h0m5 2h0m2-5h0m7 6h0m36-3h0m-122 4h0m7 6h0m3-2h0m5 2h0m13-1h0m12 1h0m26-5h0m1 4h0m3-5h0m3 2h0m3-2h0m4 1h0m20 5h0m2-4h0m-96 13h0m5-1h0m1-1h0m3-5h0m18 1h0m4 5h0m3-2h0m1-3h0m0 0h0m10 5h0m2-3h0m6 4h0m0 0h0m2 0h0m3-1h0m2-5h0m9-1h0m1 3h0m-92 5h0m6 6h0m3-4h0m5 0h0m8 5h0m10 0h0m2-5h0m2 0h0m6 1h0m4 4h0m2-6h0m0 2h0m1 2h0m0 0h0m9-1h0m2-2h0m3 2h0m1-1h0m1-1h0m0 3h0m1-1h0m14-1h0m2-2h0m2 5h0m6-3h0m2 4h0m0-1h0m0 0h0m8-1h0m1 2h0m1-3h0m3 0h0m4 3h0m2 0h0m1-5h0m-112 13h0m2-3h0m4 2h0m2-1h0m0 0h0m3 1h0m3 1h0m2-1h0m5-4h0m1 0h0m1 4h0m1-6h0m1 6h0m5-2h0m2 3h0m1-2h0m3 2h0m1-5h0m1 1h0m3 1h0m5-4h0m1 3h0m0 0h0m1-2h0m2 1h0m3 1h0m3-3h0m2 7h0m0-6h0m0 0h0m2 4h0m4 0h0m1-3h0m3 4h0m22-3h0m0 2h0m3-2h0m0 2h0m1 1h0m3-6h0m3 0h0m7 7h0m0-7h0m12 3h0m6 1h0m-128 8h0m9 1h0m3 2h0m1-1h0m4-2h0m3-4h0m7 3h0m2 1h0m1 0h0m1-2h0m4 3h0m0 1h0m0-4h0m2 3h0m2 1h0m1 1h0m1-6h0m1 5h0m1-5h0m5 4h0m0 0h0m0-2h0m0 2h0m0 0h0m0 2h0m1-4h0m4 0h0m0 3h0m0-5h0m1 4h0m1-3h0m0 2h0m1 0h0m0-2h0m2 3h0m0-3h0m5 1h0m1-2h0m0 0h0m4 2h0m3 0h0m3-1h0m0 2h0m2-2h0m1 2h0m1-2h0m1-2h0m0 7h0m6-6h0m2 6h0m1-2h0m0 1h0m0-3h0m1 1h0m20 3h0m-110 3h0m9 5h0m1-5h0m0 4h0m1 0h0m3 1h0m1-2h0m2 2h0m1-5h0m1 4h0m1-3h0m4 4h0m0-1h0m1 1h0m3-1h0m3-5h0m0 1h0m0-2h0m3 7h0m4-3h0m3-4h0m6 7h0m1-4h0m0 0h0m2 4h0m1-3h0m3 3h0m1-5h0m1 4h0m1-1h0m2-2h0m2-3h0m1 2h0m0-1h0m2-1h0m2 7h0m3 0h0m1-7h0m5 2h0m2 3h0m3 0h0m1 2h0m0-6h0m1 6h0m6-5h0m4-2h0m4 5h0m5 0h0m12-4h0m3-1h0m12 2h0m-126 12h0m3-6h0m1 5h0m2-3h0m0 1h0m1-1h0m1 5h0m2-6h0m1 3h0m0-3h0m1 1h0m0 4h0m1-1h0m1-2h0m0 0h0m0-2h0m1 2h0m1 3h0m4-6h0m2 0h0m1 6h0m3-3h0m2-2h0m1 1h0m0 3h0m0 1h0m3-4h0m0 3h0m1-4h0m1 3h0m2 3h0m1 0h0m1-1h0m0-6h0m1 0h0m0 6h0m5-3h0m0-1h0m1 0h0m2-2h0m1 2h0m0 1h0m1 2h0m0-3h0m1 5h0m5-5h0m3 3h0m1-2h0m1 2h0m1 1h0m8 0h0m2 0h0m1-4h0m0-2h0m2 2h0m5 4h0m9-3h0m4 0h0m1 2h0m9-1h0m-104 11h0m0-5h0m3 5h0m1 0h0m2-6h0m0 0h0m2 4h0m1-1h0m1 2h0m3-1h0m1 1h0m1-6h0m1 1h0m1-1h0m0 6h0m5-3h0m3-2h0m0-1h0m0 6h0m1-5h0m1 4h0m1 0h0m0-4h0m1-1h0m0 5h0m0-5h0m0 4h0m1-2h0m4-1h0m0 6h0m6-7h0m3 5h0m2 1h0m0-4h0m1 2h0m0 0h0m0 1h0m1 1h0m0-6h0m0 7h0m3-4h0m0-3h0m1 3h0m0-3h0m2 1h0m9 2h0m2 1h0m1 0h0m0-2h0m0-1h0m6-1h0m0 6h0m13-2h0m3-4h0m17 5h0m-104 10h0m1-1h0m1 1h0m0-6h0m0 1h0m3 5h0m2-5h0m2 5h0m0-2h0m0-4h0m1 2h0m3 1h0m4-1h0m2 0h0m1 2h0m1 1h0m0-3h0m2 2h0m0 2h0m1 0h0m2-1h0m0-2h0m1-1h0m0-1h0m1 5h0m1 0h0m1-5h0m1-2h0m1 5h0m0-1h0m0 0h0m1 0h0m0-3h0m2 4h0m1-4h0m1 3h0m3-2h0m1 5h0m0-1h0m2-2h0m0 2h0m4 1h0m1-5h0m0 3h0m1 0h0m4 0h0m1-5h0m2 7h0m9 0h0m0-7h0m3 3h0m3-3h0m2 0h0m32 1h0m3 6h0m-107 1h0m1 1h0m1 1h0m1 1h0m1 2h0m0 0h0m4-1h0m0-2h0m0 4h0m1-6h0m0 4h0m1 3h0m2-7h0m0 1h0m1 3h0m0 2h0m0-4h0m2-1h0m1 3h0m0-1h0m1-2h0m2 3h0m0-4h0m4 7h0m3-2h0m1-1h0m1-3h0m1 6h0m0-2h0m3-5h0m2 5h0m1 1h0m0-6h0m2 7h0m1-4h0m1-3h0m3 7h0m0-2h0m0-2h0m1 1h0m3 3h0m0-5h0m0 3h0m4 2h0m1 0h0m1-2h0m1-2h0m4-3h0m12 0h0m32 6h0m-103 8h0m0-6h0m0 0h0m1 1h0m0 0h0m0 3h0m1-2h0m2 5h0m0 0h0m0-5h0m1 4h0m0-5h0m1 3h0m0-2h0m1 5h0m1-6h0m5 6h0m1-1h0m8-6h0m1 7h0m1-6h0m2 3h0m1-1h0m3-1h0m0 5h0m1-1h0m1-3h0m3 3h0m1-2h0m1-4h0m1 1h0m3-1h0m2 1h0m1-1h0m6 4h0m2 1h0m5-3h0m9 2h0m0 1h0m8 1h0m4 1h0m5-5h0m16 5h0m13-6h0m-111 9h0m1 1h0m1 0h0m0 0h0m1-2h0m0 0h0m2-1h0m4 2h0m0-1h0m10 1h0m1-2h0m7 2h0m5-2h0m2 3h0m2-2h0m34-1h0" stroke="#f7961f" stroke-opacity="0.32" stroke-width="5.2" stroke-linecap="round" fill="none" transform="scale(.5)"/>
<path d="M597 571h0m22 11h0m90-6h0m-116 15h0m106 7h0m-124 6h0m39-1h0m8 4h0m-34 3h0m6 5h0m4 0h0m4 0h0m10 0h0m13-1h0m18-6h0m51 5h0m-153 9h0m50-3h0m11 0h0m15 4h0m15 0h0m-92 2h0m6 2h0m10 3h0m8-6h0m21 7h0m2 0h0m5 0h0m2-1h0m11-2h0m15 0h0m20 3h0m28 0h0m-134 8h0m21-1h0m15 1h0m12 0h0m4-7h0m5 7h0m2-6h0m7 0h0m1-1h0m3 6h0m6 0h0m6-6h0m-90 10h0m19 3h0m17 1h0m1-5h0m1-1h0m6 4h0m1-2h0m3 2h0m15 3h0m2-4h0m5-3h0m19 6h0m2-1h0m1-4h0m8 5h0m-95 7h0m13-4h0m6 5h0m1-1h0m4 2h0m2-7h0m4 4h0m0 2h0m5-6h0m5 6h0m1-4h0m2 3h0m0-1h0m3 1h0m6-1h0m2-1h0m2-3h0m1 2h0m1 0h0m4-1h0m7 3h0m9-2h0m4 3h0m0 2h0m12-3h0m1 3h0m-122 3h0m8-2h0m6 5h0m3 2h0m5 0h0m2-1h0m7-3h0m2-3h0m3 6h0m2-3h0m2 2h0m0 1h0m9-3h0m1 1h0m8-3h0m2 0h0m2 3h0m4-4h0m1 7h0m2 0h0m1-7h0m4 3h0m2 2h0m2 2h0m8-1h0m7-5h0m1-1h0m3 6h0m58-4h0m-156 10h0m2 3h0m15-1h0m1-1h0m1 2h0m1-7h0m0 4h0m2-4h0m2 7h0m4-7h0m0 5h0m1 1h0m3-5h0m3 2h0m0 2h0m3 2h0m2-4h0m4 0h0m0 0h0m2 4h0m0-2h0m5-5h0m4 1h0m0 3h0m1-2h0m0 5h0m6 0h0m2-1h0m2-2h0m1-3h0m0 5h0m4-2h0m0-4h0m1 1h0m0 4h0m5-2h0m0 4h0m6-2h0m6-4h0m1 0h0m7 4h0m15-4h0m6 4h0m-118 8h0m8 0h0m0-3h0m1 1h0m3 0h0m0 1h0m1 3h0m3-7h0m4 6h0m1-3h0m2 1h0m1 2h0m1 1h0m0-1h0m1-5h0m0 4h0m3-5h0m1 2h0m1 0h0m3-2h0m4 6h0m0-1h0m2 0h0m2-2h0m4 0h0m0 4h0m2-5h0m0 5h0m2-2h0m3-2h0m0-1h0m0 4h0m2 0h0m1 0h0m2-1h0m2-3h0m1 2h0m4-1h0m0-3h0m1 7h0m9-4h0m2 3h0m3-1h0m4-1h0m1 2h0m2-3h0m1 2h0m0 1h0m8-2h0m1 1h0m26-5h0m-126 8h0m6 6h0m2 0h0m3 1h0m2-2h0m2-1h0m2-3h0m2 1h0m1 1h0m1 0h0m3-1h0m2 0h0m0 4h0m0-4h0m0 0h0m1 4h0m1 0h0m0-6h0m2 1h0m4 0h0m1 0h0m0 0h0m1 3h0m0-1h0m2 2h0m0-3h0m1 0h0m0-2h0m0 6h0m0 1h0m1 0h0m0-7h0m3 6h0m1-3h0m0 3h0m3-3h0m2 3h0m0 0h0m3-2h0m2 3h0m0-6h0m0-1h0m4 6h0m0-6h0m5 0h0m0 1h0m1 3h0m0-3h0m1 0h0m2 2h0m1 2h0m4-2h0m16 3h0m1-5h0m0 6h0m2-4h0m3 2h0m5-4h0m1 3h0m14 1h0m8-3h0m-121 8h0m4 0h0m1 4h0m1-3h0m0-2h0m1 0h0m4 5h0m4 0h0m3-6h0m1 5h0m1-5h0m0 1h0m0 4h0m1-5h0m0 5h0m1 1h0m4 0h0m0-1h0m1-4h0m2 2h0m2 1h0m1-2h0m0 2h0m5-3h0m1 4h0m0 1h0m0 0h0m1-6h0m4 7h0m3-2h0m1 1h0m0-2h0m1 3h0m2-6h0m6 1h0m3 1h0m2 4h0m0 0h0m1-4h0m1 1h0m4-2h0m2 1h0m2 3h0m4 1h0m2-7h0m12 2h0m2 3h0m2 1h0m9-5h0m-100 14h0m0-6h0m1 0h0m0 6h0m2-7h0m1 6h0m1-4h0m0-1h0m1 0h0m0-1h0m1 1h0m0 4h0m0-3h0m1-2h0m3 3h0m0 2h0m1-2h0m0 1h0m1 3h0m1-2h0m0-3h0m3 1h0m1-2h0m0 5h0m2 1h0m0-5h0m5 3h0m0-2h0m0 2h0m1 2h0m0 0h0m2-6h0m3 3h0m0 3h0m1 0h0m0-2h0m1-2h0m1-3h0m1 7h0m0-6h0m0 6h0m1-6h0m1 3h0m6 1h0m1 2h0m0-1h0m0-6h0m1 4h0m5 3h0m1-3h0m0 1h0m4 1h0m1 0h0m3 0h0m3-4h0m2 3h0m3 2h0m4-1h0m1-3h0m6 3h0m12 1h0m2-7h0m19 4h0m-110 10h0m1-4h0m2 3h0m3 0h0m1-1h0m0-3h0m0 1h0m0 4h0m4 0h0m1-6h0m4 6h0m1-5h0m0 0h0m0 6h0m0-6h0m1 2h0m0 3h0m0-2h0m1 2h0m0 1h0m1-1h0m1-3h0m0-2h0m0 6h0m1-4h0m0-1h0m1-1h0m0 2h0m1-2h0m1 2h0m0 4h0m2-1h0m0-6h0m0 3h0m4-2h0m0 6h0m1-3h0m0 1h0m1 0h0m0-5h0m4 3h0m0 0h0m1 3h0m0-2h0m1 1h0m1-2h0m1 4h0m0-1h0m1 0h0m1-5h0m3 6h0m0-3h0m2 3h0m2-7h0m1 6h0m1-1h0m2 0h0m0-5h0m5 3h0m2 1h0m1 3h0m3 0h0m5-7h0m6 6h0m1-2h0m-78 7h0m1 0h0m0-1h0m1 0h0m3-1h0m0 2h0m0 2h0m1-4h0m0 4h0m3-1h0m0 3h0m0-6h0m1 2h0m0-2h0m1 0h0m1 1h0m0 4h0m0 0h0m2 1h0m3-6h0m0 2h0m2 3h0m0-1h0m0-5h0m2 5h0m3-5h0m0 5h0m1-5h0m0 0h0m0 3h0m2 4h0m1 0h0m0-1h0m1 1h0m0-1h0m8-5h0m2-1h0m1 5h0m0 0h0m3-3h0m3 3h0m3-3h0m3 4h0m1-2h0m3-2h0m9 4h0m5-3h0m6-1h0m2 1h0m-81 12h0m2-4h0m1-1h0m2 2h0m0 2h0m3-4h0m1 4h0m0-5h0m1 5h0m0 0h0m1-2h0m2-2h0m3 3h0m2 0h0m1 2h0m2-6h0m2 5h0m2-5h0m0 4h0m1-5h0m1 5h0m5-1h0m0 2h0m1 0h0m0-6h0m3 6h0m2-4h0m4-1h0m1 3h0m3 3h0m6-5h0m5-1h0m13 6h0m7-5h0m17-1h0m-94 9h0m0 0h0m2 0h0m0-1h0m2 0h0m1 2h0m2 0h0m5-1h0m3 1h0m0-2h0m2 0h0m0 1h0m10 1h0m0-2h0m1 0h0m1 2h0m3 0h0m2 0h0m11-3h0m4 1h0m2 0h0" stroke="#f7961f" stroke-opacity="0.32" stroke-width="5.2" stroke-linecap="round" fill="none" transform="scale(.5)"/>
<path d="M575 577h0m6 21h0m15-2h0m18 2h0m35 1h0m-93 9h0m57 1h0m-47 10h0m1 0h0m20 3h0m17-3h0m2-3h0m34 1h0m-60 12h0m7 0h0m12 2h0m10 0h0m19-4h0m16 4h0m3-2h0m-122 10h0m14-5h0m3 2h0m12 2h0m2-5h0m1 6h0m18-1h0m5-2h0m9 0h0m0 0h0m49 1h0m-123 3h0m9 7h0m0-5h0m1 5h0m9-5h0m1 2h0m3 1h0m8 1h0m4-3h0m0 0h0m1-2h0m9 4h0m16 2h0m8-6h0m2 1h0m7 0h0m0 5h0m1-6h0m9 5h0m20-3h0m-108 8h0m13 0h0m1 4h0m13-1h0m5-6h0m9 2h0m11-2h0m4 6h0m1-5h0m7 3h0m0 1h0m2-4h0m0-1h0m1 7h0m4-3h0m4-3h0m5 5h0m1-3h0m5 4h0m1-3h0m5-3h0m6 2h0m0 0h0m5 2h0m2-1h0m1-3h0m5 6h0m-105 8h0m12-5h0m1-2h0m4 0h0m11 6h0m5-2h0m0-2h0m0 1h0m2 0h0m4 1h0m2 3h0m0 0h0m4-6h0m7-1h0m1 7h0m1-5h0m0 4h0m1-1h0m0-2h0m0-2h0m4 3h0m4 0h0m21-1h0m2 0h0m2 4h0m0-3h0m8-4h0m0 1h0m-107 7h0m3 1h0m2 1h0m4 2h0m0 1h0m3 2h0m3-1h0m0-4h0m2 2h0m6 0h0m5-3h0m2 3h0m17 0h0m1 2h0m0-2h0m1 3h0m5-4h0m1-2h0m2 2h0m4 0h0m3 0h0m0 1h0m1 3h0m2 0h0m0-6h0m1 4h0m2-5h0m6 2h0m2 2h0m2 2h0m17-3h0m4 3h0m1 0h0m9-2h0m1-1h0m-121 6h0m1 6h0m6-2h0m6 0h0m1 2h0m1-1h0m5-5h0m1-1h0m2 2h0m3-1h0m9-1h0m0 4h0m1 3h0m2-4h0m0 0h0m6-2h0m1 1h0m1-2h0m1 7h0m0-7h0m4 7h0m4-6h0m1 6h0m1-1h0m0-1h0m1-1h0m8-2h0m4 5h0m2-5h0m3 0h0m0 3h0m0 2h0m5 0h0m0-5h0m1 0h0m3-1h0m2 5h0m3-1h0m11 2h0m4-1h0m28 1h0m-133 4h0m4 2h0m0 1h0m1-4h0m1 1h0m1 4h0m2-3h0m0 3h0m3-3h0m4 3h0m1-4h0m2 4h0m4-2h0m1 0h0m0-5h0m0 0h0m3 6h0m1 0h0m5-3h0m1 1h0m1-2h0m1 2h0m0 3h0m0 0h0m3-7h0m1 6h0m1-5h0m2 3h0m3-2h0m1 0h0m1 4h0m1 0h0m0-2h0m3-1h0m1 4h0m1-6h0m5 6h0m1-1h0m0-4h0m7-2h0m0 1h0m6 1h0m4-2h0m8 7h0m3-3h0m0 1h0m2-2h0m5-2h0m4 4h0m8-1h0m13-2h0m-118 6h0m0 4h0m1 3h0m1-4h0m1-1h0m2 0h0m1 5h0m0-4h0m1 3h0m3-4h0m0 0h0m2 1h0m0 4h0m1-6h0m1 5h0m1 1h0m1-4h0m4 2h0m0-1h0m1 2h0m0-2h0m1 2h0m1-2h0m0-1h0m2 1h0m1-1h0m1 3h0m1-2h0m6 2h0m1-2h0m4-4h0m0 5h0m2 2h0m0-4h0m1 2h0m3-4h0m0 6h0m2-6h0m0 0h0m3 6h0m0-3h0m3-1h0m2-2h0m1 6h0m3-4h0m0 2h0m1 1h0m0-5h0m2 1h0m1 5h0m4-4h0m1-1h0m2 4h0m2-5h0m14 5h0m11-4h0m3 0h0m-101 7h0m1 6h0m2 0h0m0-2h0m1-1h0m2 0h0m1-4h0m1 3h0m0 0h0m0-3h0m0 0h0m0 5h0m1-1h0m0 1h0m3-2h0m8-3h0m0 1h0m1 0h0m0 2h0m0 1h0m0 1h0m1-2h0m0 3h0m1-2h0m1-1h0m0 3h0m1-5h0m1 0h0m0 4h0m1-5h0m3 2h0m0-1h0m0 2h0m0 1h0m0 1h0m1 1h0m0-4h0m1 3h0m1-3h0m0 1h0m1 4h0m3-2h0m2-4h0m1 3h0m2 3h0m6-6h0m2 3h0m5-4h0m2 6h0m4-2h0m1 1h0m3-4h0m3 4h0m6 2h0m1-1h0m6-5h0m9-1h0m2 1h0m2 0h0m3 4h0m7 1h0m12-3h0m9-2h0m-125 9h0m2 0h0m0-1h0m1 6h0m0-3h0m1 1h0m3-2h0m1 0h0m1 4h0m2-5h0m1 0h0m2-2h0m0 2h0m1 4h0m1-4h0m1 5h0m1 0h0m2-3h0m2-3h0m0 1h0m2 4h0m4-4h0m0 5h0m2-4h0m2 0h0m0 4h0m0-2h0m1-3h0m0-2h0m0 0h0m1 6h0m1-1h0m0-4h0m0 2h0m0-3h0m2 0h0m1 1h0m2 4h0m5-3h0m1 4h0m1-6h0m3 5h0m0-5h0m2 0h0m2 0h0m3 5h0m15-4h0m3 1h0m17 4h0m-93 9h0m2-7h0m1 7h0m0-4h0m1 4h0m1-6h0m0-1h0m2 6h0m1-3h0m0 1h0m1 3h0m0-4h0m0 1h0m1-3h0m0 1h0m0 3h0m2-4h0m1 6h0m3-1h0m1-5h0m0-1h0m0 1h0m2 5h0m1-4h0m2 2h0m5 2h0m3 1h0m2 0h0m1-2h0m4-3h0m2 4h0m1 1h0m1-4h0m3 0h0m0-2h0m6 1h0m0 3h0m1-2h0m2 2h0m11-1h0m14 2h0m16-2h0m-94 6h0m3 5h0m1-3h0m2 0h0m1-2h0m1 2h0m2-3h0m0-1h0m4 1h0m2 3h0m1 0h0m4-4h0m0 7h0m0 0h0m0-1h0m1-4h0m3 4h0m1-3h0m1 0h0m0 4h0m2-3h0m0-2h0m1-2h0m4 0h0m2 0h0m1 1h0m1 0h0m2 3h0m2-4h0m12 4h0m3-1h0m5-3h0m9 3h0m0 1h0m4-2h0m9 0h0m-83 6h0m1 3h0m5-1h0m5-1h0m3-1h0m4 1h0m0 0h0m7-1h0m3 0h0m8 0h0m5 0h0m5 0h0m9 0h0m8 2h0m2-2h0" stroke="#f7961f" stroke-opacity="0.32" stroke-width="5.2" stroke-linecap="round" fill="none" transform="scale(.5)"/>
<path d="M617 544h0m2 44h0m-78 17h0m76-3h0m9 1h0m-63 6h0m62-1h0m1 2h0m22 0h0m-76 8h0m22 5h0m18-2h0m16-2h0m12-1h0m-108 7h0m6-1h0m15 1h0m6 4h0m35 1h0m7-1h0m2-2h0m21 3h0m-85 2h0m14 6h0m6 0h0m6 0h0m1-2h0m2 0h0m0 0h0m1-2h0m31 2h0m9 0h0m10 2h0m8-2h0m-123 10h0m1-6h0m23 4h0m0-4h0m10 0h0m1 3h0m9 1h0m1 1h0m20-2h0m0 4h0m5-7h0m1 5h0m8-2h0m11 4h0m1-3h0m33-2h0m4 1h0m1 0h0m1 1h0m-134 11h0m16-2h0m17-5h0m15 7h0m6-3h0m0-3h0m1 2h0m1 4h0m1-5h0m1 3h0m0-5h0m1 5h0m6 0h0m1 0h0m3-3h0m5 4h0m1-3h0m4 3h0m8-6h0m8 3h0m6 3h0m2-5h0m9 5h0m2-6h0m8 7h0m11 0h0m3 0h0m3 0h0m-119 5h0m1 2h0m3-4h0m4 4h0m2-2h0m7-3h0m2 6h0m2-4h0m3 1h0m1 2h0m2 1h0m3-7h0m2 5h0m0 1h0m5-2h0m1 0h0m2 2h0m1-1h0m4 0h0m1 1h0m2-4h0m5 3h0m6-4h0m0 6h0m2-4h0m1-3h0m4 5h0m2 1h0m1-1h0m3 2h0m4-1h0m25-5h0m23 2h0m-143 6h0m0 6h0m3-5h0m0-1h0m1 0h0m5 0h0m1 3h0m2 0h0m8-1h0m2 0h0m3 0h0m16 3h0m2-6h0m1 7h0m3 0h0m3-5h0m1 0h0m0-1h0m5 4h0m0 0h0m0 0h0m0-1h0m2 3h0m1-7h0m6 0h0m1 6h0m4 0h0m2-4h0m1 1h0m2 3h0m3 0h0m4-2h0m3 3h0m5-7h0m1 7h0m6-2h0m4 2h0m1-1h0m5-3h0m24-2h0m24 5h0m-156 5h0m2-2h0m3 6h0m4 0h0m0-3h0m1-1h0m4-1h0m1-2h0m0 5h0m1 0h0m8-2h0m0 1h0m5 2h0m0-4h0m5 0h0m1 1h0m1 1h0m8 2h0m1-3h0m3 1h0m0-3h0m4-1h0m1 4h0m4-3h0m0 6h0m0-6h0m1 5h0m1-5h0m1 3h0m1-1h0m1-2h0m1 6h0m0-3h0m0 3h0m2-4h0m2-2h0m3 3h0m1-2h0m12 3h0m3 1h0m19 0h0m1-1h0m14-4h0m1 6h0m8-4h0m-129 6h0m1 1h0m2 3h0m2 0h0m1 2h0m0-7h0m4 0h0m1 4h0m4 2h0m1 0h0m1-1h0m0-2h0m0 1h0m1 0h0m3-1h0m4 1h0m0-4h0m2 6h0m0-5h0m0 3h0m3-2h0m1-1h0m0 0h0m1 0h0m2 1h0m1 0h0m2 3h0m4-2h0m1 1h0m1 0h0m1 1h0m0-3h0m1 5h0m1-3h0m0-4h0m0 5h0m2-1h0m3 0h0m1-2h0m1 1h0m0 3h0m0-6h0m2 2h0m1 1h0m4 0h0m8 1h0m0 0h0m3-1h0m0-1h0m2 3h0m1-1h0m2-4h0m4 2h0m0 2h0m1-3h0m0 6h0m2-2h0m1 0h0m2 2h0m4-3h0m7-4h0m21 1h0m-118 13h0m1 1h0m0-1h0m2 1h0m2-4h0m3-2h0m0 4h0m1-2h0m0 3h0m1-2h0m2 0h0m2 2h0m3-1h0m0-3h0m0 4h0m3 1h0m0-6h0m2 4h0m1-5h0m1 7h0m3-5h0m0-2h0m2 2h0m0-2h0m3 3h0m0 4h0m1-6h0m1-1h0m1 1h0m0 1h0m2-1h0m0 4h0m3-1h0m0-2h0m2 3h0m1-3h0m0 1h0m0 3h0m1-5h0m2 1h0m2 0h0m1 3h0m0-2h0m0-2h0m2 1h0m3-2h0m2 1h0m0 5h0m1-2h0m6 2h0m6 1h0m1-3h0m2 1h0m3 1h0m5-4h0m3 5h0m4-2h0m27 1h0m-112 6h0m0 0h0m1 1h0m1 2h0m2-5h0m1 4h0m1-2h0m4-1h0m1 4h0m1-2h0m2 1h0m0-4h0m1 3h0m0-3h0m1 4h0m1 1h0m1-2h0m0-4h0m1-1h0m1 0h0m0 6h0m0 1h0m4-3h0m3 3h0m0-2h0m2 2h0m0-2h0m2-3h0m0 2h0m1-3h0m3 5h0m2-3h0m1-1h0m0 5h0m0-2h0m0-1h0m1-2h0m7 5h0m1 0h0m1-2h0m0-2h0m0 1h0m4-3h0m0 1h0m1-2h0m2 1h0m2 6h0m1-1h0m7 1h0m1-1h0m3-4h0m1 2h0m0-2h0m3 5h0m3-1h0m1-2h0m1-1h0m5 3h0m1-5h0m0-1h0m2 4h0m4-1h0m7-1h0m3-2h0m8 4h0m6 3h0m-115 1h0m0 5h0m3-3h0m0 0h0m1-1h0m0 3h0m5 3h0m8-3h0m1-1h0m2-1h0m1 2h0m1-4h0m1 5h0m0-1h0m2-2h0m1-2h0m1 0h0m1 5h0m2-3h0m1-1h0m0 5h0m1-2h0m0-2h0m1-1h0m5 2h0m0 1h0m2-3h0m1 3h0m0-3h0m2 2h0m0 0h0m1-2h0m1 3h0m3 1h0m0-5h0m1 2h0m1 1h0m1 0h0m1-3h0m0 5h0m1 0h0m0 0h0m2-4h0m1 4h0m0-2h0m0 0h0m4 2h0m3 2h0m8-1h0m4 0h0m2-3h0m8-1h0m6 1h0m6 4h0m12-2h0m9-3h0m-116 6h0m1 6h0m0 1h0m1-4h0m2-1h0m0 5h0m1 0h0m0-4h0m1-2h0m2 4h0m1 1h0m0 0h0m2-2h0m1-4h0m0 4h0m1 2h0m0-1h0m1-2h0m0-3h0m1 7h0m1-1h0m1-4h0m0 0h0m4-2h0m0 2h0m0-1h0m0 2h0m0 2h0m1-1h0m3 2h0m0 0h0m1-4h0m0 2h0m1-3h0m1 3h0m0 2h0m1-6h0m1 2h0m2 4h0m0-5h0m3 2h0m1 2h0m6-2h0m1 4h0m0-5h0m1-2h0m5 3h0m1 3h0m2-2h0m1 1h0m2-2h0m1-1h0m1 0h0m2-2h0m1 1h0m4 4h0m1 2h0m8-7h0m14 0h0m-87 12h0m1-1h0m0 2h0m1 0h0m1-2h0m1-1h0m0 1h0m4-2h0m1 1h0m0 3h0m1-3h0m1-2h0m0 1h0m0-1h0m2 7h0m1-5h0m1-2h0m0 0h0m0 3h0m1-3h0m1 3h0m0-3h0m1 2h0m1-2h0m0 2h0m2 3h0m1-3h0m7-1h0m3 2h0m1-1h0m3 2h0m2 3h0m1-6h0m3 2h0m3-2h0m0-1h0m3 5h0m4-3h0m5-1h0m5 6h0m0 0h0m19-4h0m-79 6h0m1 0h0m2 1h0m5 1h0m17-1h0m1-2h0m5 1h0m7 0h0m0 0h0m4-1h0m11 1h0m2-1h0" stroke="#f7961f" stroke-opacity="0.32" stroke-width="5.2" stroke-linecap="round" fill="none" transform="scale(.5)"/>
<path d="M729 539h0m-55 6h0m65 3h0m17 9h0m-2 6h0m-81 6h0m40 13h0m-91 6h0m70 3h0m-69 8h0m-9 8h0m13 16h0m4-2h0m18 1h0m20-4h0m33 1h0m-109 6h0m23-1h0m14 3h0m3 0h0m3 0h0m74 0h0m-104 8h0m62 2h0m-77 10h0m36-1h0m19 0h0m1-3h0m58-2h0m-147 14h0m16-2h0m17-3h0m2-1h0m-30 14h0m40-3h0m23 3h0m1-1h0m9-5h0m5 1h0m14-1h0m-83 8h0m23 0h0m5 1h0m-17 12h0m21-1h0m1-4h0m4 2h0m10 1h0m-58 7h0m1 2h0m4-3h0m0 3h0m9-4h0m13 1h0m13 0h0m4 2h0m1 0h0m51-4h0m-87 8h0m23 4h0m30 3h0m-68 4h0m2-3h0m-4 9h0m26 3h0m13-4h0m-51 8h0m66 1h0m12 6h0m-84 1h0m12 0h0m43 6h0m-31 4h0m10 0h0" stroke="#f7961f" stroke-opacity="0.28" stroke-width="5.2" stroke-linecap="round" fill="none" transform="scale(.5)"/>
<path d="M790 489h0m-65 29h0m44 24h0m-75 40h0m10-6h0m15 3h0m-93 16h0m9 4h0m5 5h0m62-3h0m-55 22h0m22-3h0m10-3h0m-77 12h0m28-2h0m50 2h0m-75 7h0m38-3h0m-58 9h0m36 2h0m3-1h0m21-2h0m-82 10h0m11-3h0m20 7h0m9-6h0m22 0h0m3-1h0m26 6h0m-80 8h0m1-4h0m9 0h0m43 5h0m4-4h0m22 2h0m-98 7h0m15 3h0m53-6h0m-49 7h0m18 2h0m1 1h0m53-3h0m-77 14h0m7-2h0m3-2h0m13-2h0m1 7h0m5-5h0m13 0h0m-20 11h0m1-3h0m29-1h0m1 0h0m-50 12h0m15 2h0m1-4h0m14-2h0m-42 9h0m26 3h0m2-1h0m7 3h0m3-3h0m6 1h0m-47 4h0m9 4h0m3-1h0m10-2h0m-38 6h0m11 1h0m10 5h0m9-2h0m8-4h0m-26 11h0" stroke="#f7961f" stroke-opacity="0.28" stroke-width="5.2" stroke-linecap="round" fill="none" transform="scale(.5)"/>
<path d="M840 431h0m-47 35h0m-62 60h0m48 10h0m-41 12h0m-6 5h0m-32 20h0m4 3h0m31 15h0m-85 5h0m44-3h0m1-1h0m11 4h0m47 0h0m-131 9h0m21 2h0m15 0h0m3-5h0m-48 9h0m29 2h0m37-3h0m8 11h0m-58 10h0m8-7h0m34 6h0m-79 4h0m20 3h0m-19 5h0m-6 12h0m2-1h0m53-5h0m5 7h0m-57 6h0m15 1h0m1-3h0m0 3h0m7-4h0m54 0h0m-97 11h0m21-3h0m24 4h0m-50 2h0m3 5h0m22-5h0m5 7h0m18-7h0m21 5h0m-54 8h0m0 1h0m5-3h0m15-3h0m9 2h0m5 0h0m2 1h0m-63 11h0m9-6h0m4 0h0m6 3h0m1-1h0m0-2h0m13 0h0m3 1h0m22-1h0m-59 9h0m5 2h0m26 1h0m2-1h0m22 0h0m-35 8h0m9 1h0m-45 10h0m5-4h0m15 1h0m14-1h0m35 2h0m-61 8h0m8 2h0m1-2h0m2 2h0m4-4h0m57 3h0" stroke="#f7961f" stroke-opacity="0.28" stroke-width="5.2" stroke-linecap="round" fill="none" transform="scale(.5)"/>
<path d="M793 514h0m-29 24h0m0 3h0m-136 39h0m87-2h0m7 5h0m-55 5h0m24 3h0m-13 4h0m0-2h0m2 4h0m-32 10h0m3-3h0m66 1h0m-126 8h0m58-2h0m47 3h0m-106 5h0m30 3h0m20 1h0m-59 7h0m77-1h0m-46 9h0m47-1h0m-68 5h0m51-2h0m5 4h0m0-1h0m10 3h0m-104 8h0m28-3h0m17-3h0m41 2h0m11 1h0m6-1h0m-45 12h0m2 0h0m0-3h0m13 4h0m-81 8h0m0 0h0m33-5h0m9 2h0m38 0h0m33 1h0m-66 5h0m7 2h0m52 0h0m-82 6h0m0 5h0m18-5h0m23 1h0m24-2h0m-60 8h0m6 3h0m3-4h0m18 3h0m-32 5h0m1 4h0m11 3h0m8-2h0m-29 7h0m2 1h0m7-3h0m15 3h0m1-4h0m2 5h0m8 0h0m-52 7h0m7 2h0m11-6h0m0 4h0m-2 4h0m6 0h0m-25 9h0" stroke="#f7961f" stroke-opacity="0.28" stroke-width="5.2" stroke-linecap="round" fill="none" transform="scale(.5)"/>
<path d="M739 516h0m-63 9h0m51 1h0m9 14h0m74-4h0m-75 16h0m36 5h0m-70 15h0m24 11h0m-34 7h0m16 5h0m-96 7h0m84 1h0m-56 6h0m-11 17h0m27-1h0m12 6h0m-107 3h0m37 3h0m11-2h0m1-1h0m5 5h0m27-3h0m25-2h0m-55 8h0m4-1h0m3 2h0m20 2h0m-95 9h0m16 0h0m60-6h0m-70 10h0m44 2h0m2 3h0m12-1h0m14-2h0m7 2h0m-42 5h0m28-3h0m1 6h0m-61 9h0m9-7h0m18 0h0m0 6h0m25-5h0m11 1h0m17 4h0m2-6h0m-75 12h0m0 1h0m46-2h0m-39 10h0m19 0h0m27-2h0m3 1h0m-73 4h0m41 2h0m4-1h0m-29 7h0m18 3h0m1 2h0m14 0h0m22-1h0m-63 11h0m21-4h0m2 2h0m8 0h0m-46 10h0m13-5h0m4 1h0m5 4h0m58-3h0m-73 6h0" stroke="#f7961f" stroke-opacity="0.28" stroke-width="5.2" stroke-linecap="round" fill="none" transform="scale(.5)"/>
<path d="M826 488h0m-94 18h0m33 1h0m40-3h0m-85 14h0m96 14h0m-120 10h0m32-3h0m-74 20h0m8 16h0m3 7h0m48-3h0m-35 6h0m88-1h0m-107 21h0m1 1h0m47 0h0m-106 8h0m15-6h0m53 5h0m48 1h0m6-3h0m-111 5h0m37 6h0m-52 8h0m16 0h0m29-2h0m7 2h0m54-6h0m-137 11h0m3 4h0m39 0h0m40-5h0m-79 11h0m39-2h0m59 2h0m-72 5h0m7 5h0m7-3h0m12-4h0m1 3h0m12-3h0m9 7h0m-97 8h0m23-2h0m23 0h0m48-4h0m-56 7h0m32 7h0m18-4h0m-80 9h0m14-2h0m19 3h0m17-4h0m5 1h0m38 3h0m-68 6h0m12 3h0m1-5h0m6 5h0m4-4h0m-55 12h0m22-3h0m9 0h0m7 3h0m8-4h0m22-2h0m11 6h0m-31 14h0m-56 9h0m14-4h0m1 5h0m2-2h0m9 14h0" stroke="#f7961f" stroke-opacity="0.28" stroke-width="5.2" stroke-linecap="round" fill="none" transform="scale(.5)"/>
<path d="M744 543h0m63-7h0m-59 10h0m16 13h0m-92 11h0m71-1h0m-101 14h0m36-5h0m18 5h0m21 8h0m-43 7h0m6 0h0m-67 17h0m49-7h0m-54 8h0m38 7h0m-34 4h0m10 0h0m-26 7h0m8 2h0m10 3h0m18-7h0m15 3h0m-38 10h0m-15 6h0m1-1h0m13 1h0m3-3h0m38 2h0m7-2h0m-81 11h0m4 2h0m10-3h0m15 3h0m10 1h0m5-5h0m13 5h0m-56 5h0m19 1h0m6 3h0m25 0h0m11-7h0m-84 9h0m54 6h0m13-1h0m-42 5h0m28 0h0m9 3h0m-47 6h0m0-3h0m17 3h0m29-2h0m-1 11h0m8-3h0m-63 8h0m8 0h0m0 4h0m2 1h0m1-2h0m20-3h0m22 1h0m-65 11h0m5-6h0m16 7h0m15-6h0m-12 7h0m-23 8h0m9 1h0m32 2h0" stroke="#f7961f" stroke-opacity="0.28" stroke-width="5.2" stroke-linecap="round" fill="none" transform="scale(.5)"/>
<path d="M837 447h0m-16 19h0m-24 27h0m-136 74h0m90-7h0m-47 10h0m27 1h0m-85 15h0m42 11h0m28-4h0m22 1h0m-81 13h0m11 0h0m18-5h0m-25 13h0m6-2h0m12-1h0m-68 9h0m-9 10h0m3-3h0m34-3h0m18 8h0m54 2h0m-133 8h0m61 0h0m5 4h0m-62 7h0m3-6h0m-21 11h0m5-3h0m28 1h0m3 2h0m1 1h0m10-3h0m32 1h0m-70 8h0m8 0h0m66-1h0m4-1h0m-91 15h0m10-1h0m3-4h0m7 3h0m4 2h0m46-7h0m-53 9h0m44 5h0m-56 6h0m1 2h0m34-1h0m8-4h0m5 5h0m-74 2h0m33 3h0m1 3h0m2-5h0m6 0h0m29 0h0m0 1h0m6 0h0m-74 13h0m8 1h0m34 2h0m7-1h0m-53 10h0m18-3h0m18 2h0m13 0h0m-34 6h0m44 0h0" stroke="#f7961f" stroke-opacity="0.28" stroke-width="5.2" stroke-linecap="round" fill="none" transform="scale(.5)"/>
<path d="M821 481h0m-30 48h0m-67 23h0m-78 9h0m-9 8h0m9 2h0m83 2h0m-32 7h0m35 3h0m-37 4h0m40 3h0m-89 7h0m1 0h0m41-5h0m59 3h0m-133 10h0m1-2h0m63-1h0m37 0h0m-62 10h0m31-3h0m-30 10h0m-48 9h0m36-4h0m-95 13h0m43-2h0m44-2h0m23 6h0m21-6h0m-123 14h0m44-4h0m1 1h0m73-3h0m-133 13h0m84-2h0m-49 7h0m19 2h0m17-3h0m11 3h0m11 0h0m10-1h0m6 3h0m4-7h0m-97 15h0m11-7h0m40 6h0m9-4h0m-31 7h0m1 6h0m-8 2h0m19 5h0m6 0h0m-47 8h0m9-1h0m16-4h0m-1 10h0m5-1h0m2-1h0m11 0h0m-48 14h0m14-1h0m34 1h0m-62 3h0m30 1h0m8 1h0m19 0h0m-48 7h0m4-1h0m10 0h0m1 4h0m7-5h0m-24 7h0m41 2h0" stroke="#f7961f" stroke-opacity="0.28" stroke-width="5.2" stroke-linecap="round" fill="none" transform="scale(.5)"/>
<path d="M839 488h0m2 31h0m-103 15h0m31-5h0m-86 32h0m-6 12h0m10 4h0m49 0h0m-80 8h0m45 6h0m-98 7h0m15 4h0m69 4h0m52-3h0m-108 7h0m-49 16h0m42 1h0m12-2h0m3 3h0m19-2h0m45 2h0m-101 4h0m10 6h0m2-5h0m8-1h0m1 5h0m5-4h0m9 1h0m9 0h0m-72 6h0m33 6h0m22 0h0m8-2h0m23 5h0m-85 14h0m11-2h0m4-3h0m38 0h0m-62 8h0m24-1h0m3 4h0m5 1h0m13-5h0m0 1h0m3 3h0m21-3h0m-67 9h0m24 0h0m17-1h0m5-2h0m-56 8h0m5 0h0m12 1h0m31 0h0m-32 12h0m7-5h0m8 0h0m-42 9h0m9 4h0m39 1h0m13 0h0m-59 6h0m18-1h0m15 3h0m4 0h0m13-2h0m-35 7h0m5 4h0m0-4h0m9 1h0m8 0h0m-43 11h0m38-5h0m-35 7h0m2 0h0" stroke="#f7961f" stroke-opacity="0.28" stroke-width="5.2" stroke-linecap="round" fill="none" transform="scale(.5)"/>
<path d="M614 508h0m24 17h0m45-3h0m-104 36h0m11 14h0m13-1h0m26-2h0m-80 12h0m34 1h0m5-3h0m71 3h0m-101 12h0m1-1h0m1 6h0m31-5h0m31 2h0m-91 9h0m6 0h0m4 1h0m-3 5h0m117-3h0m-72 13h0m44-5h0m-80 22h0m16-3h0m54 1h0m-106 8h0m33-4h0m-7 15h0m35-3h0m-72 8h0m71 12h0m-68 8h0" stroke="#8c9096" stroke-opacity="0.17" stroke-width="5.2" stroke-linecap="round" fill="none" transform="scale(.5)"/>
<path d="M709 437h0m-72 67h0m1 15h0m34-3h0m-80 23h0m14 2h0m88 1h0m-65 13h0m-20 18h0m38-5h0m-23 11h0m-24 9h0m36 0h0m-42 4h0m15 1h0m25 9h0m-100 10h0m2 7h0m25 4h0m5-1h0m10 1h0m39-1h0m-64 8h0m35-5h0m-28 16h0m4-1h0m13 5h0m-72 7h0m10 1h0m121 2h0m-121 13h0m36-3h0m-39 16h0m17 11h0" stroke="#8c9096" stroke-opacity="0.17" stroke-width="5.2" stroke-linecap="round" fill="none" transform="scale(.5)"/>
<path d="M680 538h0m-63 10h0m11 0h0m-41 8h0m15 1h0m5-1h0m24 2h0m-6 7h0m7 18h0m-74 8h0m49-3h0m-75 8h0m2 2h0m11-3h0m53 1h0m3-4h0m32 3h0m-65 7h0m15 3h0m-59 6h0m17 2h0m13-4h0m0 9h0m-4 11h0m26 0h0m5 1h0m-53 4h0m-16 7h0m11 11h0m33 5h0m-11 24h0m14 0h0" stroke="#8c9096" stroke-opacity="0.17" stroke-width="5.2" stroke-linecap="round" fill="none" transform="scale(.5)"/>
<path d="M673 491h0m-72 39h0m-38 24h0m6 2h0m13-1h0m48 6h0m-30 13h0m18 9h0m4-2h0m43 1h0m-52 7h0m-79 9h0m45-1h0m1-5h0m30 6h0m13-2h0m-81 9h0m13-5h0m-45 10h0m71 1h0m2 4h0m9-7h0m47 4h0m-127 8h0m50-2h0m-32 26h0m41-3h0m-28 12h0m4 2h0m4-1h0m12-2h0m18-4h0m4 7h0m-63 28h0" stroke="#8c9096" stroke-opacity="0.17" stroke-width="5.2" stroke-linecap="round" fill="none" transform="scale(.5)"/>
<path d="M661 508h0m-84 5h0m56 12h0m-43 5h0m7 12h0m38 5h0m-9 6h0m-29 14h0m45 8h0m-16 7h0m-59 10h0m-10 17h0m82-1h0m-93 22h0m16-1h0m-57 8h0m90-4h0m-79 12h0m49-1h0m-51 7h0m0 0h0m1 3h0m19-4h0m5 0h0m52 2h0m-74 5h0m12 6h0m27-4h0m49 1h0m-99 10h0m22-3h0m13 25h0" stroke="#8c9096" stroke-opacity="0.17" stroke-width="5.2" stroke-linecap="round" fill="none" transform="scale(.5)"/>
<path d="M612 518h0m-17 13h0m-8 11h0m46 4h0m7 3h0m-49 10h0m15-5h0m9 8h0m3-2h0m26 4h0m-92 11h0m16-3h0m78 1h0m-38 5h0m5 3h0m52-1h0m-76 4h0m11 5h0m1-1h0m-38 10h0m3-3h0m-20 18h0m90-3h0m-127 6h0m54 5h0m48-4h0m-29 11h0m31 2h0m-85 6h0m15-4h0m-15 13h0m24-3h0m48 1h0m-26 12h0m22-2h0m-40 8h0m41 0h0m-42 5h0m-26 14h0" stroke="#8c9096" stroke-opacity="0.17" stroke-width="5.2" stroke-linecap="round" fill="none" transform="scale(.5)"/>
<path d="M658 482h0m-55 41h0m66 3h0m45 16h0m-106 9h0m19-1h0m89-4h0m-158 21h0m28-2h0m10 6h0m25 10h0m-58 5h0m19 3h0m44-5h0m-99 9h0m44 2h0m43-2h0m-20 10h0m4 0h0m14 3h0m-11 3h0m14 0h0m-70 13h0m17-6h0m10 7h0m29-7h0m-70 13h0m9 1h0m13-2h0m17 0h0m22 6h0m19 0h0m-3 15h0m-102 13h0m107 32h0m-51 14h0" stroke="#8c9096" stroke-opacity="0.17" stroke-width="5.2" stroke-linecap="round" fill="none" transform="scale(.5)"/>
<path d="M614 514h0m-71 35h0m112 2h0m-73 6h0m6 2h0m32-2h0m-19 6h0m47-1h0m-50 7h0m-61 7h0m65 19h0m-51 9h0m36-3h0m-51 11h0m-2 18h0m18 1h0m18-1h0m4-4h0m13 0h0m30 0h0m4 3h0m-97 7h0m10-3h0m32 5h0m-40 4h0m29 2h0m24 1h0m-27 6h0m-33 19h0m32-2h0m47 20h0" stroke="#8c9096" stroke-opacity="0.17" stroke-width="5.2" stroke-linecap="round" fill="none" transform="scale(.5)"/>
<path d="M673 483h0m-8 26h0m-25 27h0m-68 27h0m26 4h0m17 0h0m-88 1h0m48 0h0m17 7h0m4-1h0m2 0h0m-4 8h0m8 3h0m40 5h0m-73 4h0m24 2h0m-35 4h0m28 7h0m0-1h0m-85 4h0m18-1h0m41 5h0m7-4h0m7-2h0m37 6h0m-97 4h0m-12 25h0m19 1h0m12 0h0m24-1h0m8-3h0m-14 13h0m52 9h0m15 1h0m-55 3h0" stroke="#8c9096" stroke-opacity="0.17" stroke-width="5.2" stroke-linecap="round" fill="none" transform="scale(.5)"/>
<path d="M625 519h0m43 20h0m4 10h0m-102 23h0m-14 5h0m20 7h0m6 3h0m-33 6h0m15 0h0m51 5h0m2-6h0m-68 10h0m19-1h0m11-1h0m45 1h0m-96 13h0m-14 3h0m40 14h0m7-5h0m30 1h0m-71 5h0m4 3h0m24-1h0m-32 20h0m15-3h0m3 0h0m24-3h0m12 6h0m-51 9h0m44-7h0m36 1h0m-42 7h0m7 8h0m-40 8h0m2 49h0" stroke="#8c9096" stroke-opacity="0.17" stroke-width="5.2" stroke-linecap="round" fill="none" transform="scale(.5)"/>
</g>
<line x1="254.60" y1="361.20" x2="420.30" y2="210.70" stroke="#a2a2a2" stroke-width="1.0"/>
<path d="M254.15 210.70H420.30V361.20H254.15" fill="none" stroke="#262626" stroke-width="0.9"/>
<path d="M254.95 210.25V361.65" fill="none" stroke="#2a2a2a" stroke-width="0.95"/>
<path d="M254.60 361.20v3M254.60 361.20h-3M278.27 361.20v3M254.60 339.70h-3M301.94 361.20v3M254.60 318.20h-3M325.61 361.20v3M254.60 296.70h-3M349.29 361.20v3M254.60 275.20h-3M372.96 361.20v3M254.60 253.70h-3M396.63 361.20v3M254.60 232.20h-3M420.30 361.20v3M254.60 210.70h-3" stroke="#262626" stroke-width="0.9" fill="none"/>
<text x="255.20" y="374.60" font-size="10.4" text-anchor="middle" fill="#111">5</text>
<text x="249.70" y="365.60" font-size="10.4" text-anchor="end" fill="#111">5</text>
<text x="278.87" y="374.60" font-size="10.4" text-anchor="middle" fill="#111">6</text>
<text x="249.70" y="344.10" font-size="10.4" text-anchor="end" fill="#111">6</text>
<text x="302.54" y="374.60" font-size="10.4" text-anchor="middle" fill="#111">7</text>
<text x="249.70" y="322.60" font-size="10.4" text-anchor="end" fill="#111">7</text>
<text x="326.21" y="374.60" font-size="10.4" text-anchor="middle" fill="#111">8</text>
<text x="249.70" y="301.10" font-size="10.4" text-anchor="end" fill="#111">8</text>
<text x="349.89" y="374.60" font-size="10.4" text-anchor="middle" fill="#111">9</text>
<text x="249.70" y="279.60" font-size="10.4" text-anchor="end" fill="#111">9</text>
<text x="373.56" y="374.60" font-size="10.4" text-anchor="middle" fill="#111">10</text>
<text x="249.70" y="258.10" font-size="10.4" text-anchor="end" fill="#111">10</text>
<text x="397.23" y="374.60" font-size="10.4" text-anchor="middle" fill="#111">11</text>
<text x="249.70" y="236.60" font-size="10.4" text-anchor="end" fill="#111">11</text>
<text x="420.90" y="374.60" font-size="10.4" text-anchor="middle" fill="#111">12</text>
<text x="249.70" y="215.10" font-size="10.4" text-anchor="end" fill="#111">12</text>
<text x="338.15" y="205.10" font-size="12.5" text-anchor="middle" fill="#111">XGBoost (MV)</text>
<text x="337.45" y="386.30" font-size="12.5" text-anchor="middle" fill="#111">ln(Truth)</text>
<text x="263.60" y="227.10" font-size="12.2" font-weight="bold" fill="#111">(e)</text>
<text x="414.10" y="338.20" font-size="12.5" text-anchor="end" fill="#111">R<tspan font-size="8.7" dy="-4.6">2</tspan><tspan dy="4.6">=0.81</tspan></text>
<text x="414.10" y="353.40" font-size="12.5" text-anchor="end" fill="#111">R<tspan font-size="8.7" dy="-4.6">2</tspan><tspan font-size="8.7" font-style="italic" dx="-4.6" dy="7.4">l</tspan><tspan dx="2.7" dy="-2.8">=0.74</tspan></text>
<g fill="#f7aa4a" stroke="#a86a20" stroke-width="0.4"><rect x="426.50" y="355.95" width="33.00" height="5.25"/><rect x="426.50" y="350.69" width="30.36" height="5.25"/><rect x="426.50" y="345.44" width="26.73" height="5.25"/><rect x="426.50" y="340.18" width="23.43" height="5.25"/><rect x="426.50" y="334.93" width="19.47" height="5.25"/><rect x="426.50" y="329.67" width="15.18" height="5.25"/><rect x="426.50" y="324.42" width="11.55" height="5.25"/><rect x="426.50" y="319.16" width="9.57" height="5.25"/><rect x="426.50" y="313.91" width="7.92" height="5.25"/><rect x="426.50" y="308.65" width="6.60" height="5.25"/><rect x="426.50" y="303.40" width="5.28" height="5.25"/><rect x="426.50" y="298.14" width="4.29" height="5.25"/><rect x="426.50" y="292.89" width="3.63" height="5.25"/><rect x="426.50" y="287.64" width="3.01" height="5.25"/><rect x="426.50" y="282.38" width="2.50" height="5.25"/><rect x="426.50" y="277.13" width="2.08" height="5.25"/><rect x="426.50" y="271.87" width="1.72" height="5.25"/><rect x="426.50" y="266.62" width="1.43" height="5.25"/><rect x="426.50" y="261.36" width="1.19" height="5.25"/><rect x="426.50" y="256.11" width="0.99" height="5.25"/><rect x="426.50" y="250.85" width="0.82" height="5.25"/><rect x="426.50" y="245.60" width="0.68" height="5.25"/><rect x="426.50" y="240.34" width="0.56" height="5.25"/><rect x="426.50" y="235.09" width="0.47" height="5.25"/><rect x="426.50" y="229.84" width="0.39" height="5.25"/><rect x="426.50" y="224.58" width="0.32" height="5.25"/></g>
<g fill="none" stroke="#2a2a2a" stroke-width="0.42"><rect x="426.50" y="355.95" width="33.00" height="5.25"/><rect x="426.50" y="350.69" width="33.00" height="5.25"/><rect x="426.50" y="345.44" width="27.72" height="5.25"/><rect x="426.50" y="340.18" width="25.08" height="5.25"/><rect x="426.50" y="334.93" width="21.45" height="5.25"/><rect x="426.50" y="329.67" width="18.48" height="5.25"/><rect x="426.50" y="324.42" width="15.51" height="5.25"/><rect x="426.50" y="319.16" width="12.54" height="5.25"/><rect x="426.50" y="313.91" width="10.23" height="5.25"/><rect x="426.50" y="308.65" width="8.58" height="5.25"/><rect x="426.50" y="303.40" width="6.93" height="5.25"/><rect x="426.50" y="298.14" width="5.94" height="5.25"/><rect x="426.50" y="292.89" width="4.95" height="5.25"/><rect x="426.50" y="287.64" width="4.29" height="5.25"/><rect x="426.50" y="282.38" width="3.63" height="5.25"/><rect x="426.50" y="277.13" width="2.97" height="5.25"/><rect x="426.50" y="271.87" width="2.48" height="5.25"/><rect x="426.50" y="266.62" width="1.98" height="5.25"/><rect x="426.50" y="261.36" width="1.65" height="5.25"/><rect x="426.50" y="256.11" width="1.32" height="5.25"/><rect x="426.50" y="250.85" width="1.09" height="5.25"/><rect x="426.50" y="245.60" width="0.89" height="5.25"/><rect x="426.50" y="240.34" width="0.73" height="5.25"/><rect x="426.50" y="235.09" width="0.59" height="5.25"/><rect x="426.50" y="229.84" width="0.46" height="5.25"/><rect x="426.50" y="224.58" width="0.38" height="5.25"/><rect x="426.50" y="219.33" width="0.32" height="5.25"/></g>
<rect x="426.50" y="210.70" width="33.00" height="150.50" fill="none" stroke="#262626" stroke-width="0.9"/>
<clipPath id="c5"><rect x="479.60" y="210.70" width="165.70" height="150.50"/></clipPath>
<g clip-path="url(#c5)">
<polygon points="455.9,295.8 669.0,50.1 669.0,219.1 455.9,464.8" fill="#fcd6d6"/>
<line x1="455.93" y1="378.83" x2="645.30" y2="160.39" stroke="#c83a52" stroke-width="1.10" stroke-dasharray="4.2,2.3"/>
<path d="M1123 574h0m-57 8h0m-33 9h0m70 0h0m-80 1h0m4 4h0m37 0h0m-27 5h0m-24 7h0m52 3h0m-92 12h0m-7 2h0m9 6h0m40 0h0m9-4h0m40-3h0m-77 9h0m23 3h0m1 1h0m-61 10h0m14 0h0m21-6h0m2 3h0m1 1h0m2 0h0m14-1h0m32-1h0m-82 6h0m2 4h0m8-3h0m6 1h0m18 0h0m14 0h0m6-2h0m22 4h0m2 2h0m36-4h0m-94 10h0m9 0h0m1 1h0m3-4h0m2-1h0m27 1h0m7 4h0m4-4h0m-77 12h0m1-4h0m1 1h0m8 0h0m5 0h0m4 2h0m3 0h0m8-5h0m1 1h0m3 4h0m6-1h0m1 1h0m0-3h0m3 5h0m12-5h0m3 2h0m2-3h0m1 2h0m4-1h0m3 2h0m28 1h0m2-2h0m-94 7h0m2 4h0m7 0h0m2-4h0m6 1h0m1 4h0m1 0h0m18-4h0m3 2h0m11-3h0m5-2h0m4 0h0m4 2h0m0-1h0m-69 10h0m1-3h0m2 5h0m6-3h0m1 2h0m3-2h0m16 3h0m2-4h0m12 6h0m7-6h0m1 2h0m9-1h0m21 1h0m-78 7h0m0 2h0m6 3h0m5-3h0m6-2h0m4 2h0m7 0h0m7 3h0m1 0h0m1-6h0m4 3h0m1 1h0m5-2h0m1-1h0m4-1h0m7 1h0m5-2h0m4 5h0m15-3h0m-75 10h0m6 1h0m3-4h0m3 3h0m5-1h0m0 3h0m1-1h0m1 0h0m2-5h0m2 0h0m7 4h0m19 2h0m-55 4h0m1-2h0m17 7h0m1-1h0m8 1h0m6-4h0m2 4h0m8-6h0m1 0h0m17 1h0m6-1h0m15 5h0m-86 2h0m4 3h0m8 3h0m1-1h0m3 2h0m1-1h0m3-1h0m12-3h0m14 5h0m4-6h0m3-1h0m-52 10h0m0 3h0m4-3h0m5 0h0m0 0h0m4 2h0m2 0h0m1-3h0m1 5h0m3-5h0m22 2h0m-44 5h0m8 0h0m9 1h0m13 1h0" stroke="#f04a4a" stroke-opacity="0.40" stroke-width="6.4" stroke-linecap="round" fill="none" transform="scale(.5)"/>
<path d="M1125 545h0m-98 22h0m-33 23h0m-12 4h0m31 0h0m3 0h0m2 4h0m-32 6h0m14 0h0m9 0h0m-37 11h0m35 0h0m-49 11h0m5 2h0m16 0h0m3-3h0m13 5h0m9-1h0m0-2h0m27 4h0m-69 2h0m59 1h0m15 4h0m45 1h0m-86 7h0m1 1h0m6-3h0m-46 6h0m10 5h0m9-2h0m8-5h0m10 5h0m4-3h0m2 0h0m6 3h0m6-2h0m37 0h0m-81 6h0m3 5h0m9-3h0m2 4h0m9-3h0m14-2h0m3 3h0m13-5h0m-51 10h0m6 4h0m1-2h0m0-3h0m4 4h0m16-2h0m2-3h0m5 0h0m43 1h0m-92 7h0m4 4h0m3-4h0m2 5h0m3-4h0m3 0h0m1 4h0m1 0h0m7-2h0m2 2h0m9-5h0m3 1h0m7 6h0m7 0h0m8-4h0m15 2h0m8 2h0m0-1h0m-71 8h0m2-5h0m6-1h0m0 7h0m11-6h0m4 2h0m1-3h0m9 0h0m2 5h0m1-3h0m5 5h0m50-4h0m-91 10h0m15 0h0m1-2h0m2 4h0m11-2h0m1-1h0m3 3h0m5-5h0m2 5h0m3-5h0m3 4h0m2-5h0m0-1h0m-63 8h0m4 6h0m3 0h0m6-5h0m5 2h0m3 4h0m2 0h0m4-7h0m21 5h0m12-3h0m-58 7h0m4 2h0m2 3h0m0-1h0m4-5h0m1 0h0m3 1h0m1 0h0m1 4h0m4 2h0m2-7h0m3 6h0m6-3h0m12-2h0m0 4h0m7-5h0m6 0h0m20 7h0m-78 7h0m4-6h0m2 2h0m6 1h0m5 0h0m22 0h0m4 2h0m4-5h0m56 2h0m-103 10h0m6 0h0m2-3h0m14 0h0m1-1h0m1 4h0m2-3h0m26 0h0m-51 8h0m10 0h0m8 1h0m0-1h0" stroke="#f04a4a" stroke-opacity="0.40" stroke-width="6.4" stroke-linecap="round" fill="none" transform="scale(.5)"/>
<path d="M1029 555h0m75 10h0m-12 18h0m-85 4h0m21 2h0m-41 11h0m92 1h0m-79 14h0m91-3h0m-126 10h0m12 0h0m20 0h0m39-5h0m6 3h0m1-2h0m12 2h0m4 3h0m-46 4h0m44 2h0m-105 10h0m5-4h0m0 0h0m15 0h0m59 4h0m22-2h0m-92 10h0m2 0h0m9-3h0m12 3h0m6 0h0m1-7h0m17 5h0m5-5h0m15 6h0m22-2h0m3-2h0m4 0h0m-81 11h0m9-3h0m6 1h0m3 2h0m8-3h0m4 2h0m7 1h0m27-3h0m28 4h0m-115 5h0m11-1h0m1 5h0m0 0h0m12-3h0m5-3h0m22 1h0m-50 10h0m5 3h0m4-4h0m0 2h0m1 1h0m1 0h0m3-5h0m10 5h0m12 0h0m15-6h0m27 1h0m43 4h0m-124 6h0m9 2h0m1 2h0m7 0h0m2-1h0m4 0h0m2-1h0m4-4h0m0-1h0m7 1h0m9 6h0m2 0h0m20-2h0m12-5h0m-80 15h0m5 0h0m11-3h0m1-4h0m2 3h0m10-3h0m1 5h0m1-1h0m5 1h0m1 2h0m8-5h0m3 5h0m18-1h0m6-5h0m44 4h0m-100 10h0m9-3h0m4 3h0m2-2h0m1-2h0m0 4h0m30 0h0m25-6h0m-82 12h0m2-2h0m8 4h0m4-3h0m0 2h0m5 0h0m4-6h0m1 6h0m8 0h0m6-2h0m15 1h0m2-2h0m21 2h0m-80 9h0m8-1h0m0-4h0m2 4h0m24-2h0m3 1h0m16 0h0m15-2h0m-68 7h0m1 2h0m10-1h0m13 0h0m1-1h0m1-1h0m3 1h0m4 0h0m1-1h0m4 4h0m15-4h0m0 4h0m3 0h0m1 2h0m1-6h0m20 1h0m-77 10h0m3-2h0m1 5h0m8 1h0m8-2h0m11-2h0m7 0h0m8-2h0m12 0h0m8 5h0m31 1h0m-99 3h0m9-1h0m3 1h0m13-1h0" stroke="#f04a4a" stroke-opacity="0.40" stroke-width="6.4" stroke-linecap="round" fill="none" transform="scale(.5)"/>
<path d="M1105 594h0m15 0h0m-93 12h0m4-1h0m12 0h0m3-1h0m-12 8h0m-58 11h0m13-7h0m35 0h0m5 6h0m9 5h0m30-1h0m-87 8h0m1 1h0m19 0h0m29 1h0m-64 5h0m21 1h0m0-1h0m7 4h0m1 1h0m6-6h0m25 2h0m41-1h0m-104 13h0m4-5h0m1 2h0m3-1h0m7 3h0m0 2h0m5-4h0m54-2h0m17 0h0m-102 12h0m7-1h0m2 3h0m5-2h0m7-1h0m5 2h0m1 0h0m11-2h0m3-4h0m1 0h0m2 7h0m2-1h0m5-4h0m7-1h0m10 6h0m13-2h0m7-5h0m11 6h0m10-6h0m-103 11h0m7-1h0m0-2h0m16 3h0m8-2h0m9 0h0m8 4h0m4 1h0m19-3h0m32-1h0m-110 6h0m7 1h0m1 0h0m16 3h0m12 2h0m3-6h0m3 3h0m1-1h0m5 1h0m1 1h0m1-2h0m10 4h0m4-5h0m0 6h0m4-5h0m16 0h0m31-1h0m13 2h0m-123 12h0m7-4h0m4 2h0m1-1h0m15 3h0m4-4h0m4-1h0m9-1h0m2 3h0m3-2h0m1-1h0m0 4h0m12-4h0m10 6h0m1-4h0m-76 8h0m6 0h0m0-3h0m0 5h0m2-3h0m3 1h0m1 1h0m3-4h0m1 7h0m4-2h0m4-3h0m17-1h0m34 4h0m15 0h0m-91 10h0m0-7h0m9 6h0m6-4h0m0 2h0m4 2h0m2-2h0m1 0h0m0 1h0m5 0h0m1-3h0m1 1h0m1 3h0m4 1h0m2-2h0m7 1h0m15-4h0m22 3h0m-76 7h0m2 2h0m1 0h0m1-3h0m2 1h0m11-2h0m6-2h0m11 1h0m1 1h0m3 4h0m1-2h0m5-2h0m8 5h0m-55 6h0m5-3h0m3 2h0m14 0h0m6-4h0m0 6h0m3-2h0m9 3h0m2-4h0m-45 9h0m1 3h0m6-3h0m2 3h0m1-5h0m2 1h0m0 1h0m2-2h0m5 0h0m18-1h0m6 3h0m1 2h0m29 0h0m5-4h0m-63 8h0m5-1h0" stroke="#f04a4a" stroke-opacity="0.40" stroke-width="6.4" stroke-linecap="round" fill="none" transform="scale(.5)"/>
<path d="M1042 562h0m-9 15h0m-48 7h0m2 13h0m25 0h0m44-1h0m-60 8h0m16 0h0m30 2h0m-20 6h0m28-1h0m-47 6h0m15 5h0m23-1h0m11-1h0m-10 5h0m-48 9h0m24 5h0m23-6h0m-90 10h0m1-2h0m14 0h0m1 6h0m19-4h0m23 2h0m27-2h0m-68 7h0m7 4h0m18-3h0m1 3h0m25 1h0m36-1h0m-105 2h0m6 3h0m0-3h0m5 1h0m5-1h0m24 1h0m3 3h0m0 0h0m0-4h0m5 2h0m3 3h0m8-3h0m41 1h0m2 0h0m-80 5h0m1 7h0m4-1h0m12-4h0m9 5h0m22-6h0m0 6h0m-67 3h0m3 3h0m1-5h0m9 6h0m13-3h0m1-2h0m2 0h0m1 3h0m4 3h0m12 0h0m2-3h0m23-4h0m6 1h0m2 0h0m-76 13h0m2-3h0m3-2h0m13-1h0m6 7h0m2-7h0m5 0h0m3 1h0m2-1h0m1 2h0m11 4h0m3-1h0m4-1h0m3 0h0m9 0h0m1 2h0m3-3h0m1 0h0m5 3h0m12-3h0m-90 7h0m3-1h0m1 2h0m1 1h0m4 3h0m2-3h0m15 0h0m3 1h0m3-4h0m1 3h0m1-4h0m1 0h0m4 7h0m3-2h0m8 2h0m3-5h0m17 0h0m20 2h0m-94 9h0m3-3h0m1 3h0m3 0h0m4-3h0m2 0h0m9 4h0m0-5h0m7 3h0m4 0h0m29-3h0m53 0h0m-114 9h0m4 3h0m5-1h0m1 3h0m3-5h0m0 5h0m1-2h0m2-3h0m4 2h0m1-4h0m3 2h0m3-1h0m6 2h0m3-2h0m7 3h0m5-4h0m2 4h0m21-2h0m-63 8h0m1 1h0m3 0h0m6-1h0m8-1h0m3 0h0m2 1h0m6 2h0m17-1h0m11-3h0m17 3h0m1 1h0m-81 6h0m1 0h0m2 0h0m1 1h0m2 1h0m6 1h0m2-5h0m6 6h0m20-6h0m60 7h0m-89 1h0m1 0h0m20 3h0m48-1h0" stroke="#f04a4a" stroke-opacity="0.40" stroke-width="6.4" stroke-linecap="round" fill="none" transform="scale(.5)"/>
<path d="M1005 557h0m45 21h0m-36 20h0m17-3h0m12 3h0m-81 7h0m20 0h0m21 2h0m9 0h0m79-4h0m27 11h0m-139 8h0m0-2h0m22-3h0m12 6h0m25-3h0m22-4h0m18 1h0m-120 14h0m11-4h0m26 1h0m3 0h0m2-2h0m49-1h0m29 5h0m-99 9h0m9 0h0m7-1h0m3 1h0m9-2h0m26-3h0m-65 9h0m9 1h0m9 3h0m19-1h0m2-1h0m12-2h0m-54 12h0m10-7h0m8 5h0m17-2h0m29-2h0m13 3h0m41-4h0m-129 12h0m2 3h0m3-5h0m5 4h0m4-5h0m5 2h0m10 3h0m1 1h0m20-6h0m6 5h0m3-4h0m19 1h0m4 3h0m1-2h0m-71 7h0m3 1h0m0 0h0m0-4h0m1 7h0m7-7h0m3 2h0m3 1h0m6 3h0m0 1h0m1 0h0m6 0h0m0-2h0m12-5h0m14 4h0m1 2h0m18-2h0m27-2h0m20-1h0m-132 7h0m0 2h0m4 3h0m2 0h0m5-1h0m0 1h0m1-4h0m6 5h0m15-2h0m15-4h0m19 5h0m1-1h0m14-2h0m-83 12h0m4-5h0m0 1h0m1-2h0m4 2h0m3 1h0m3 4h0m2 0h0m4-3h0m4 3h0m0-4h0m7 3h0m20-1h0m7-5h0m-58 8h0m1 4h0m6 2h0m6-1h0m8-3h0m1 2h0m3 2h0m0-5h0m0 2h0m13 2h0m15 0h0m8-5h0m-65 11h0m0 0h0m7 0h0m5-1h0m6 0h0m3 5h0m0-1h0m1-5h0m12 1h0m1-2h0m1 1h0m13 2h0m12 0h0m4-3h0m9 7h0m-71 1h0m2 0h0m3 5h0m1-1h0m4-1h0m1 3h0m2-3h0m8-2h0m0 3h0m4 2h0m4-3h0m1 2h0m19-1h0m-53 10h0m15-6h0m0 2h0m2 1h0m1 0h0m1 2h0m8-1h0m8 1h0m2 1h0m4-1h0m1-2h0m-39 9h0m7 0h0m1-1h0m0-3h0m1 2h0m8 1h0m4-3h0m0 6h0m6-4h0m3-2h0m8 0h0m6 5h0m-42 3h0m11 1h0m11 1h0" stroke="#f04a4a" stroke-opacity="0.40" stroke-width="6.4" stroke-linecap="round" fill="none" transform="scale(.5)"/>
<path d="M1084 543h0m15 21h0m-34 22h0m-104 10h0m11 18h0m8-3h0m5-2h0m37 9h0m9 4h0m-31 4h0m7 3h0m17-5h0m10 2h0m47 2h0m-110 9h0m34-3h0m-46 12h0m23-3h0m8 1h0m5 2h0m6-4h0m6 5h0m0-5h0m31 1h0m-69 8h0m13 3h0m5-2h0m5 3h0m1-6h0m1 0h0m4 6h0m8-5h0m4 3h0m1 1h0m6 1h0m0-7h0m7 5h0m31-4h0m-95 10h0m8 4h0m5-1h0m0-5h0m2 3h0m9-4h0m14 7h0m5-3h0m5 0h0m10 3h0m22-7h0m-83 10h0m2 4h0m10-1h0m5 2h0m9 0h0m14-7h0m3 6h0m2-5h0m12 0h0m32 6h0m37-3h0m-120 4h0m8 6h0m8-4h0m9-1h0m7-1h0m8 4h0m1-4h0m5 7h0m2-5h0m10 4h0m0-6h0m9 2h0m2 4h0m16-1h0m17 2h0m-110 4h0m6-3h0m3 0h0m1 0h0m0 2h0m5 3h0m5-1h0m1-2h0m4 3h0m1-1h0m6 1h0m0-2h0m2-1h0m8 2h0m0-1h0m8-3h0m18 2h0m2 2h0m1-4h0m17 4h0m-92 7h0m4-1h0m0-1h0m4 3h0m4 3h0m1-4h0m5-1h0m3 1h0m2 3h0m15-6h0m3 3h0m6 4h0m5-3h0m17-2h0m6 5h0m8-6h0m-76 13h0m7 0h0m17-5h0m9 0h0m2 1h0m9 4h0m3 0h0m10 1h0m24-3h0m10-4h0m1 1h0m-100 7h0m2 5h0m0 0h0m17-5h0m1 3h0m2 2h0m3-3h0m1 1h0m2-1h0m3 2h0m5 1h0m4-4h0m6 1h0m0 5h0m-46 6h0m13-3h0m1-2h0m8 7h0m1-2h0m0-1h0m17 3h0m2-4h0m0 0h0m7 1h0m3 0h0m-52 9h0m4-1h0m10 1h0m3 2h0m4-5h0m0-1h0m2 1h0m4 4h0m19-1h0m-31 5h0m2 1h0m14-3h0" stroke="#f04a4a" stroke-opacity="0.40" stroke-width="6.4" stroke-linecap="round" fill="none" transform="scale(.5)"/>
<path d="M1027 558h0m-68 22h0m40 0h0m41 4h0m-27 23h0m82-1h0m-49 5h0m-51 11h0m17-1h0m1-3h0m-62 8h0m1 3h0m7 0h0m4-3h0m12 5h0m28-4h0m6 3h0m4 0h0m10-2h0m-64 6h0m25 1h0m6 3h0m3-5h0m0 6h0m2-6h0m13 6h0m28-3h0m2-4h0m2 3h0m7 2h0m18-4h0m-89 13h0m8-5h0m9-1h0m32 4h0m7 3h0m39-4h0m-118 8h0m57-3h0m11 3h0m29 0h0m-89 11h0m4-1h0m0 2h0m10-1h0m4 0h0m5-4h0m36-2h0m30 4h0m-95 8h0m13 1h0m5-1h0m5 0h0m7-2h0m6 3h0m4 1h0m0-5h0m3 3h0m12-2h0m10 4h0m-61 2h0m4 3h0m2 1h0m4-3h0m2-1h0m14 6h0m8 1h0m1-6h0m1 0h0m14 3h0m17 3h0m4-3h0m-74 9h0m1-1h0m2 3h0m1 0h0m1-2h0m3 2h0m1-4h0m6 2h0m1 0h0m5 1h0m6-1h0m0 1h0m0-2h0m9 2h0m6-3h0m6-1h0m4-2h0m3 5h0m3-5h0m6 3h0m18-3h0m-82 11h0m4 0h0m0 4h0m3-3h0m8-2h0m4 0h0m10 0h0m17-2h0m2 7h0m2-5h0m0 1h0m5 3h0m5 0h0m11 1h0m-70 6h0m4-4h0m1 3h0m1-3h0m6 1h0m1 5h0m11-4h0m1 2h0m5-1h0m8 3h0m22 0h0m26-5h0m-91 13h0m0-1h0m1-6h0m1 2h0m2 4h0m7-2h0m1 2h0m11-3h0m1 4h0m1-2h0m14-4h0m0-1h0m1 1h0m12-1h0m-52 12h0m1-1h0m1 1h0m11 3h0m9-6h0m3 4h0m8-2h0m3 2h0m2-1h0m0-3h0m8 6h0m12-6h0m9 1h0m1-1h0m-70 8h0m2 2h0m4 2h0m5-3h0m0 3h0m4-1h0m-5 5h0m7 2h0m13-1h0" stroke="#f04a4a" stroke-opacity="0.40" stroke-width="6.4" stroke-linecap="round" fill="none" transform="scale(.5)"/>
<path d="M1036 591h0m-39 4h0m-25 9h0m48 2h0m8-1h0m-17 9h0m1-5h0m0-1h0m-45 8h0m38 6h0m5-1h0m31 2h0m20-2h0m-58 9h0m19-6h0m5 1h0m3 1h0m3 0h0m2 3h0m-72 6h0m11 0h0m23-2h0m4 4h0m5 0h0m-39 6h0m5-3h0m13 6h0m1-6h0m4 7h0m13-7h0m7 1h0m1 1h0m2-1h0m10 1h0m-73 6h0m3 7h0m3 0h0m16-3h0m13-3h0m9 3h0m32-3h0m13-1h0m4 2h0m5-1h0m11 3h0m10 3h0m-66 2h0m20 2h0m7-2h0m4 4h0m-82 7h0m6-3h0m2 2h0m2 3h0m7-4h0m2-2h0m3 7h0m4-5h0m5 3h0m8-2h0m6 1h0m0-1h0m8 2h0m8-1h0m44 2h0m8-6h0m-113 10h0m4 2h0m1 2h0m0-6h0m3 4h0m2-3h0m10 0h0m1 6h0m2-3h0m1-2h0m12-2h0m1 2h0m2 4h0m1-4h0m15-2h0m13 0h0m-64 9h0m0 1h0m7-1h0m1 4h0m2-5h0m5 2h0m2-1h0m8 2h0m4-2h0m2 1h0m5 4h0m5-4h0m2 4h0m-43 5h0m9-1h0m1 4h0m3 0h0m4-3h0m9 3h0m1-3h0m0-1h0m0 1h0m1-2h0m8 5h0m15-3h0m0-1h0m2-2h0m-59 11h0m2 2h0m0 1h0m1-4h0m2 5h0m3-4h0m4-1h0m1 0h0m1 3h0m6-2h0m4 0h0m2-1h0m7-1h0m1 1h0m3-2h0m14 0h0m32 1h0m-59 12h0m15 2h0m10-7h0m-46 14h0m8-5h0m3 3h0m4 1h0m7 1h0m12-2h0m1 3h0m4-6h0m3 0h0m6-1h0m-51 14h0m3-5h0m2 4h0m0-5h0m3 5h0m0-5h0m3 6h0m2-2h0m5-1h0m3 1h0m0 2h0m2-6h0m3 7h0m1-6h0m15 5h0m3-6h0m5 6h0m-17 4h0" stroke="#f04a4a" stroke-opacity="0.40" stroke-width="6.4" stroke-linecap="round" fill="none" transform="scale(.5)"/>
<path d="M980 591h0m37-2h0m7 0h0m-12 6h0m-48 16h0m35 4h0m16-2h0m17-3h0m64 2h0m-116 7h0m50-2h0m13-1h0m3 7h0m49-6h0m-114 13h0m19 0h0m11-5h0m53 1h0m-100 10h0m2-4h0m15 6h0m16 1h0m9-6h0m38 5h0m-83 6h0m17-1h0m3-1h0m9 5h0m11-7h0m14 0h0m-45 9h0m14 6h0m23-3h0m10 2h0m5-3h0m1 2h0m14-4h0m-67 13h0m0-3h0m10 2h0m1-1h0m2-4h0m8 1h0m8 2h0m6 4h0m2-5h0m0 5h0m6-1h0m9-4h0m6 0h0m1-2h0m39 6h0m-99 8h0m7-6h0m14 2h0m2 2h0m6-2h0m28 4h0m13-3h0m11 2h0m-94 8h0m1 2h0m6-5h0m3 1h0m17-2h0m26 1h0m4-2h0m0 2h0m-61 8h0m4 5h0m3-5h0m7-1h0m0 0h0m4 1h0m5 5h0m3-3h0m1 2h0m5-4h0m1 3h0m1 2h0m2-6h0m2 5h0m0-4h0m13 2h0m9 3h0m2-6h0m4 3h0m1 0h0m14 3h0m2-5h0m5 3h0m3 0h0m7-3h0m7 4h0m18 1h0m-115 6h0m2-4h0m5 6h0m21-3h0m17 1h0m0-5h0m4 6h0m4 0h0m-58 3h0m0 3h0m0 2h0m11-6h0m1 1h0m3 3h0m9-3h0m1 6h0m3-4h0m2-2h0m5 5h0m1-2h0m12-1h0m33 3h0m1-6h0m5 6h0m47-3h0m-139 8h0m1 3h0m1-4h0m2 5h0m2-2h0m4-3h0m7-2h0m2 6h0m5-3h0m1 2h0m25-2h0m21-1h0m-62 11h0m2-3h0m8 3h0m2-4h0m3 0h0m1 5h0m1-1h0m2-3h0m8-2h0m1 6h0m4-4h0m8 3h0m10-1h0m19-3h0m17 0h0m-95 8h0m4 0h0m5 0h0m3 4h0m12-1h0m1-3h0m3 4h0m1-4h0m6 4h0m1 0h0m2 0h0m10-4h0m6 1h0m-22 6h0" stroke="#f04a4a" stroke-opacity="0.40" stroke-width="6.4" stroke-linecap="round" fill="none" transform="scale(.5)"/>
<path d="M1080 508h0m20 41h0m-53 19h0m-48 10h0m16 4h0m13-2h0m60 8h0m41 11h0m-70 7h0m5 15h0m4 1h0m-96 41h0m43 11h0m9-2h0m-29 13h0m11 14h0m-14 5h0m90 1h0" stroke="#f04a4a" stroke-opacity="0.35" stroke-width="6.4" stroke-linecap="round" fill="none" transform="scale(.5)"/>
<path d="M1106 518h0m-65 72h0m-29 5h0m-26 19h0m47-3h0m26 11h0m-18 17h0m-56 1h0m69 6h0m30-2h0m-131 18h0m75-1h0m-45 8h0m50 7h0m15 9h0m-38 6h0" stroke="#f04a4a" stroke-opacity="0.35" stroke-width="6.4" stroke-linecap="round" fill="none" transform="scale(.5)"/>
<path d="M1086 569h0m-54 7h0m47 27h0m-33 42h0m-29 12h0m3-1h0m-62 10h0m68 12h0m-68 6h0m28 1h0m11 21h0m-31 18h0m17 3h0" stroke="#f04a4a" stroke-opacity="0.35" stroke-width="6.4" stroke-linecap="round" fill="none" transform="scale(.5)"/>
<path d="M988 583h0m60-6h0m95 20h0m-101 9h0m9-2h0m-33 18h0m43 8h0m-29 2h0m-38 25h0m37 4h0m-14 8h0m16-2h0m-68 5h0m27 3h0m24 9h0m-22 42h0m60-6h0" stroke="#f04a4a" stroke-opacity="0.35" stroke-width="6.4" stroke-linecap="round" fill="none" transform="scale(.5)"/>
<path d="M1072 543h0m-4 9h0m102 4h0m-109 5h0m82 15h0m-96 8h0m20 30h0m-117 17h0m33 14h0m51 6h0m-53 19h0m32 1h0m-17 10h0m-35 26h0m3-2h0m106 5h0m-114 11h0" stroke="#f04a4a" stroke-opacity="0.35" stroke-width="6.4" stroke-linecap="round" fill="none" transform="scale(.5)"/>
<path d="M1096 533h0m-57 73h0m-30 21h0m14 3h0m39 2h0m-40 22h0m-30 6h0m48 1h0m-17 6h0m-20 9h0m13 11h0m6 0h0m-19 13h0m-2 12h0m6 6h0m19-3h0m-42 12h0" stroke="#f04a4a" stroke-opacity="0.35" stroke-width="6.4" stroke-linecap="round" fill="none" transform="scale(.5)"/>
<path d="M1118 506h0m-26 98h0m1-3h0m8 5h0m-80 8h0m-31 3h0m-34 14h0m58-1h0m34 16h0m-2 5h0m-14 36h0m21-3h0m-52 19h0m-10 3h0m-37 14h0" stroke="#f04a4a" stroke-opacity="0.35" stroke-width="6.4" stroke-linecap="round" fill="none" transform="scale(.5)"/>
<path d="M1156 468h0m-35 80h0m-142 51h0m13 25h0m-17 14h0m67 15h0m21-3h0m-84 17h0m30-3h0m-53 13h0m41 16h0m-19 14h0m-9 8h0m-1 7h0m5 5h0" stroke="#f04a4a" stroke-opacity="0.35" stroke-width="6.4" stroke-linecap="round" fill="none" transform="scale(.5)"/>
<path d="M1081 531h0m-44 16h0m-86 76h0m60 6h0m8 14h0m-52 13h0m41 26h0m-18 16h0m-34 6h0m26 3h0m10-3h0m17 11h0m-34 11h0m41-1h0" stroke="#f04a4a" stroke-opacity="0.35" stroke-width="6.4" stroke-linecap="round" fill="none" transform="scale(.5)"/>
<path d="M1073 569h0m33 1h0m-90 27h0m13 3h0m13 5h0m-23 10h0m55-6h0m-52 7h0m62 10h0m-29 16h0m-56 7h0m3 10h0m-6 39h0m23 5h0m-52 18h0" stroke="#f04a4a" stroke-opacity="0.35" stroke-width="6.4" stroke-linecap="round" fill="none" transform="scale(.5)"/>
<path d="M1264 415h0m-15 26h0m5 9h0m-97 15h0m4-1h0m18 10h0m-176 14h0m198 5h0m-108 10h0m47-5h0m-36 8h0m72 0h0m-27 7h0m29 4h0m-27 13h0m17 1h0m-39 9h0m21 3h0m-120 4h0m54 2h0m23 1h0m4-4h0m39 8h0m-2 8h0m-65 8h0m42-1h0m-48 13h0m65-4h0m-60 12h0m88 0h0m-204 5h0m108-3h0m-101 15h0m80-5h0m26 4h0m77 1h0m17 6h0m-138 9h0m24 1h0m-48 3h0m45 4h0m35-4h0m27-1h0m-162 10h0m9 0h0m3 2h0m25-1h0m93 3h0m-65 6h0m15-1h0m4 3h0m-48 8h0m45-6h0m10 10h0m54 0h0m23 4h0m-52 4h0m2 3h0m-74 5h0m5 0h0m44 3h0m70-4h0m-139 8h0m-21 18h0m62 0h0m-41 6h0m63 5h0m-41 2h0m50 6h0" stroke="#8a8a8a" stroke-opacity="0.13" stroke-width="5.6" stroke-linecap="round" fill="none" transform="scale(.5)"/>
<path d="M1177 443h0m-47 51h0m-45 14h0m141-4h0m1 9h0m-168 11h0m15-4h0m-42 13h0m97-5h0m14 11h0m-107 11h0m119-4h0m-28 9h0m12-2h0m-127 8h0m52 0h0m21 5h0m24-4h0m-41 11h0m32-3h0m117-2h0m-182 14h0m62-3h0m5 2h0m22 1h0m1-5h0m-77 10h0m114-3h0m90 6h0m-191 10h0m46 7h0m60-2h0m-178 4h0m27 2h0m8-2h0m75 6h0m10-3h0m28-3h0m-165 10h0m69 0h0m40 0h0m-95 6h0m13 2h0m73 1h0m14 1h0m6-3h0m33 1h0m-63 9h0m8-3h0m-52 10h0m51 0h0m-4 6h0m62 4h0m-34 6h0m-133 5h0m127 0h0m11 5h0m-100 10h0m83-3h0m67-3h0m-125 9h0m37-1h0m-103 13h0m50-5h0m38 3h0m32 3h0m31 4h0m-57 20h0m19 3h0" stroke="#8a8a8a" stroke-opacity="0.13" stroke-width="5.6" stroke-linecap="round" fill="none" transform="scale(.5)"/>
<path d="M1134 448h0m97 3h0m14 16h0m-99 20h0m85 0h0m6 8h0m-78 5h0m0 1h0m-25 9h0m27-2h0m13 0h0m24-1h0m-158 16h0m104-2h0m6 3h0m11 0h0m6 3h0m-106 16h0m74 3h0m-67 12h0m36-3h0m22 4h0m5 0h0m-49 3h0m20-1h0m130 0h0m-97 12h0m90-4h0m-117 11h0m4 2h0m39-1h0m55-1h0m-87 6h0m25-2h0m-73 10h0m40 3h0m66-3h0m-178 8h0m39 4h0m37-2h0m27 2h0m-50 10h0m22 2h0m7 3h0m16-1h0m27 11h0m-153 8h0m29-4h0m57 0h0m53-2h0m-71 7h0m-80 9h0m185-1h0m-102 13h0m0-2h0m2 0h0m29 15h0m6-2h0m5 5h0m-95 4h0m15 1h0m0 5h0m-31 1h0m26 4h0m17 11h0m22 6h0m29-2h0m-111 17h0" stroke="#8a8a8a" stroke-opacity="0.13" stroke-width="5.6" stroke-linecap="round" fill="none" transform="scale(.5)"/>
<path d="M1234 437h0m-14 7h0m33 1h0m19 9h0m-191 28h0m98 4h0m35-3h0m-167 6h0m44 2h0m86 2h0m-71 8h0m47 1h0m82-3h0m-75 26h0m12-5h0m-95 12h0m173 0h0m-125 4h0m-115 23h0m0-4h0m44-1h0m10 5h0m16-3h0m72 1h0m35-2h0m-178 7h0m40-2h0m56 5h0m-102 4h0m102 14h0m0-5h0m41 0h0m-66 9h0m16 8h0m-51 7h0m37 4h0m87-6h0m-163 12h0m10-2h0m38 3h0m-46 8h0m22-2h0m44-3h0m10 0h0m31 7h0m22-3h0m-103 5h0m59 0h0m-82 20h0m28-1h0m5 2h0m13 5h0m89 1h0m58 0h0m-145 27h0m23-1h0m-108 16h0m67-3h0m-69 10h0m56-3h0m25 5h0m61-1h0m-122 9h0m-11 11h0m33-1h0m9 4h0m48-4h0" stroke="#8a8a8a" stroke-opacity="0.13" stroke-width="5.6" stroke-linecap="round" fill="none" transform="scale(.5)"/>
<path d="M1245 422h0m-68 15h0m19 16h0m-57 19h0m5 2h0m36 2h0m21 3h0m68 3h0m-91 20h0m-97 3h0m81 0h0m-40 11h0m-101 7h0m121-2h0m-57 11h0m58-2h0m-46 13h0m75 0h0m45-4h0m-146 6h0m87 6h0m39-5h0m17 5h0m27-2h0m-155 7h0m-29 9h0m79 2h0m18 1h0m-80 8h0m22 7h0m-86 3h0m85 3h0m-117 4h0m178 4h0m34 1h0m-107 2h0m17 8h0m38 4h0m-129 9h0m31-4h0m33 3h0m16 4h0m34 2h0m-11 11h0m15 0h0m-105 10h0m62-2h0m-83 4h0m3 1h0m55 5h0m-32 8h0m96-4h0m23 0h0m-118 7h0m14 5h0m-87 9h0m98 4h0m23-1h0m-95 5h0m13 5h0m-30 25h0m86-2h0m11-2h0m5-2h0m-17 9h0" stroke="#8a8a8a" stroke-opacity="0.13" stroke-width="5.6" stroke-linecap="round" fill="none" transform="scale(.5)"/>
<path d="M1140 458h0m3 6h0m42 26h0m-90 16h0m38 8h0m2 5h0m53-3h0m6-1h0m31 2h0m-139 19h0m1 3h0m16 2h0m114 1h0m-47 2h0m50 2h0m-171 10h0m51 0h0m27 2h0m-25 6h0m22-3h0m-55 20h0m16-5h0m9 7h0m-67 3h0m18 1h0m12 3h0m20-4h0m16 0h0m57 5h0m-126 1h0m-48 12h0m61-1h0m7 4h0m57 7h0m9-1h0m-103 4h0m87 0h0m-43 8h0m6 3h0m49 3h0m17-5h0m-123 9h0m58-3h0m-103 9h0m89 2h0m48 1h0m-30 6h0m25 3h0m-50 6h0m13-2h0m128 5h0m-99 4h0m39 3h0m-114 6h0m67 0h0m-57 5h0m30 5h0m-59 6h0m17 4h0m100-5h0m-113 11h0m40 6h0" stroke="#8a8a8a" stroke-opacity="0.13" stroke-width="5.6" stroke-linecap="round" fill="none" transform="scale(.5)"/>
<path d="M1103 465h0m91 19h0m-124 23h0m101 4h0m-29 3h0m17-2h0m19 1h0m-138 14h0m65 0h0m-63 12h0m103 2h0m15 1h0m29 1h0m-117 7h0m95-6h0m-110 9h0m60 1h0m1-1h0m-95 14h0m55-3h0m24-4h0m-38 10h0m-65 15h0m60 3h0m15-4h0m19 3h0m18-3h0m-143 11h0m143-2h0m17 1h0m7 5h0m-101 5h0m50-4h0m8 2h0m40 7h0m-79 8h0m9 1h0m37-1h0m63 2h0m-94 10h0m15-3h0m22 0h0m52 4h0m-145 5h0m6 2h0m81-1h0m-39 7h0m-28 11h0m66-5h0m-115 7h0m-6 20h0m17-3h0m-16 7h0m68 7h0m90 0h0m-78 6h0m-47 3h0m-60 13h0m8-2h0m204-3h0m-159 14h0m34-1h0m-66 13h0m70 0h0" stroke="#8a8a8a" stroke-opacity="0.13" stroke-width="5.6" stroke-linecap="round" fill="none" transform="scale(.5)"/>
<path d="M1113 430h0m114 4h0m-67 28h0m5 10h0m4 4h0m24 25h0m25 0h0m17-2h0m-76 9h0m11-4h0m55 0h0m-135 12h0m82 15h0m-25 7h0m-9 10h0m-87 7h0m2 2h0m128-2h0m-108 6h0m13 3h0m30-1h0m5-1h0m46 8h0m-131 7h0m64 6h0m-83 7h0m47 0h0m19 0h0m4-2h0m32 1h0m-15 5h0m17 2h0m-52 11h0m11-2h0m83-3h0m-128 10h0m17 0h0m7-4h0m18 4h0m20-4h0m14 5h0m-65 10h0m67-5h0m-108 12h0m50-1h0m9 0h0m3 1h0m17-5h0m6 6h0m50 2h0m-134 14h0m1-6h0m73 8h0m-71 10h0m-17 6h0m72 0h0m65 1h0m-165 10h0m73 1h0m-41 6h0m46 3h0m42-1h0m-17 3h0m54 0h0m-131 9h0m41 6h0m5-4h0m-60 20h0m37 5h0m-2 5h0" stroke="#8a8a8a" stroke-opacity="0.13" stroke-width="5.6" stroke-linecap="round" fill="none" transform="scale(.5)"/>
<path d="M1113 481h0m-7 17h0m27 12h0m63-5h0m-96 19h0m37-1h0m-3 9h0m101 9h0m-157 4h0m19 1h0m2 2h0m28 0h0m46-4h0m-119 15h0m33-4h0m-5 11h0m-49 4h0m2 4h0m64-1h0m27 1h0m-69 3h0m2 2h0m101 0h0m-124 12h0m10-3h0m79 3h0m52-5h0m-196 8h0m62 3h0m26-5h0m111 0h0m-54 11h0m-114 5h0m34 4h0m35-4h0m129 2h0m-228 13h0m111-6h0m34 4h0m13-1h0m-150 11h0m26-1h0m50-1h0m18 1h0m42 1h0m1-1h0m-105 4h0m15 0h0m2 0h0m18 5h0m38-6h0m-98 11h0m54-1h0m16-1h0m1 5h0m68-1h0m-150 12h0m46 3h0m5-5h0m-43 22h0m8-5h0m36 4h0m28-5h0m24 10h0m42-1h0m-108 15h0m-49 21h0" stroke="#8a8a8a" stroke-opacity="0.13" stroke-width="5.6" stroke-linecap="round" fill="none" transform="scale(.5)"/>
<path d="M1164 423h0m118 40h0m-99 8h0m-14 4h0m37 2h0m-50 10h0m-14 11h0m-150 6h0m62 19h0m92 4h0m26-2h0m-30 3h0m3 15h0m27 5h0m-96 9h0m76-5h0m-68 9h0m73 0h0m-92 13h0m85 1h0m-165 11h0m77 3h0m2-5h0m49 7h0m40-1h0m-140 9h0m5-1h0m15 0h0m52-3h0m-27 9h0m15 0h0m47-1h0m1 4h0m62-2h0m-153 9h0m39-6h0m7 0h0m27 2h0m18 2h0m-144 5h0m34 5h0m69-4h0m42 1h0m35-2h0m-163 7h0m73 4h0m9-2h0m-81 20h0m94-4h0m19 0h0m-75 11h0m52-1h0m19 4h0m-68 8h0m-19 15h0m5 0h0m13 0h0m27-3h0m31-4h0m9 15h0m-56 1h0m-58 17h0m0 16h0" stroke="#8a8a8a" stroke-opacity="0.13" stroke-width="5.6" stroke-linecap="round" fill="none" transform="scale(.5)"/>
</g>
<line x1="479.60" y1="361.20" x2="645.30" y2="210.70" stroke="#a2a2a2" stroke-width="1.0"/>
<path d="M479.15 210.70H645.30V361.20H479.15" fill="none" stroke="#262626" stroke-width="0.9"/>
<path d="M479.95 210.25V361.65" fill="none" stroke="#2a2a2a" stroke-width="0.95"/>
<path d="M479.60 361.20v3M479.60 361.20h-3M503.27 361.20v3M479.60 339.70h-3M526.94 361.20v3M479.60 318.20h-3M550.61 361.20v3M479.60 296.70h-3M574.29 361.20v3M479.60 275.20h-3M597.96 361.20v3M479.60 253.70h-3M621.63 361.20v3M479.60 232.20h-3M645.30 361.20v3M479.60 210.70h-3" stroke="#262626" stroke-width="0.9" fill="none"/>
<text x="480.20" y="374.60" font-size="10.4" text-anchor="middle" fill="#111">5</text>
<text x="474.70" y="365.60" font-size="10.4" text-anchor="end" fill="#111">5</text>
<text x="503.87" y="374.60" font-size="10.4" text-anchor="middle" fill="#111">6</text>
<text x="474.70" y="344.10" font-size="10.4" text-anchor="end" fill="#111">6</text>
<text x="527.54" y="374.60" font-size="10.4" text-anchor="middle" fill="#111">7</text>
<text x="474.70" y="322.60" font-size="10.4" text-anchor="end" fill="#111">7</text>
<text x="551.21" y="374.60" font-size="10.4" text-anchor="middle" fill="#111">8</text>
<text x="474.70" y="301.10" font-size="10.4" text-anchor="end" fill="#111">8</text>
<text x="574.89" y="374.60" font-size="10.4" text-anchor="middle" fill="#111">9</text>
<text x="474.70" y="279.60" font-size="10.4" text-anchor="end" fill="#111">9</text>
<text x="598.56" y="374.60" font-size="10.4" text-anchor="middle" fill="#111">10</text>
<text x="474.70" y="258.10" font-size="10.4" text-anchor="end" fill="#111">10</text>
<text x="622.23" y="374.60" font-size="10.4" text-anchor="middle" fill="#111">11</text>
<text x="474.70" y="236.60" font-size="10.4" text-anchor="end" fill="#111">11</text>
<text x="645.90" y="374.60" font-size="10.4" text-anchor="middle" fill="#111">12</text>
<text x="474.70" y="215.10" font-size="10.4" text-anchor="end" fill="#111">12</text>
<text x="563.15" y="205.10" font-size="12.5" text-anchor="middle" fill="#111">DNN (MV)</text>
<text x="562.45" y="386.30" font-size="12.5" text-anchor="middle" fill="#111">ln(Truth)</text>
<text x="488.60" y="227.10" font-size="12.2" font-weight="bold" fill="#111">(f)</text>
<text x="639.10" y="338.20" font-size="12.5" text-anchor="end" fill="#111">R<tspan font-size="8.7" dy="-4.6">2</tspan><tspan dy="4.6">=0.65</tspan></text>
<text x="639.10" y="353.40" font-size="12.5" text-anchor="end" fill="#111">R<tspan font-size="8.7" dy="-4.6">2</tspan><tspan font-size="8.7" font-style="italic" dx="-4.6" dy="7.4">l</tspan><tspan dx="2.7" dy="-2.8">=0.29</tspan></text>
<g fill="#f06a6a" stroke="#a83a3a" stroke-width="0.4"><rect x="651.50" y="355.95" width="23.76" height="5.25"/><rect x="651.50" y="350.69" width="23.10" height="5.25"/><rect x="651.50" y="345.44" width="20.46" height="5.25"/><rect x="651.50" y="340.18" width="21.45" height="5.25"/><rect x="651.50" y="334.93" width="20.13" height="5.25"/><rect x="651.50" y="329.67" width="17.82" height="5.25"/><rect x="651.50" y="324.42" width="15.18" height="5.25"/><rect x="651.50" y="319.16" width="12.87" height="5.25"/><rect x="651.50" y="313.91" width="10.23" height="5.25"/><rect x="651.50" y="308.65" width="8.58" height="5.25"/><rect x="651.50" y="303.40" width="7.26" height="5.25"/><rect x="651.50" y="298.14" width="5.94" height="5.25"/><rect x="651.50" y="292.89" width="4.95" height="5.25"/><rect x="651.50" y="287.64" width="3.96" height="5.25"/><rect x="651.50" y="282.38" width="3.29" height="5.25"/><rect x="651.50" y="277.13" width="2.73" height="5.25"/><rect x="651.50" y="271.87" width="2.26" height="5.25"/><rect x="651.50" y="266.62" width="1.88" height="5.25"/><rect x="651.50" y="261.36" width="1.56" height="5.25"/><rect x="651.50" y="256.11" width="1.29" height="5.25"/><rect x="651.50" y="250.85" width="1.07" height="5.25"/><rect x="651.50" y="245.60" width="0.89" height="5.25"/><rect x="651.50" y="240.34" width="0.74" height="5.25"/><rect x="651.50" y="235.09" width="0.61" height="5.25"/><rect x="651.50" y="229.84" width="0.51" height="5.25"/><rect x="651.50" y="224.58" width="0.42" height="5.25"/><rect x="651.50" y="219.33" width="0.35" height="5.25"/></g>
<g fill="none" stroke="#2a2a2a" stroke-width="0.42"><rect x="651.50" y="355.95" width="33.00" height="5.25"/><rect x="651.50" y="350.69" width="33.00" height="5.25"/><rect x="651.50" y="345.44" width="27.72" height="5.25"/><rect x="651.50" y="340.18" width="25.08" height="5.25"/><rect x="651.50" y="334.93" width="21.45" height="5.25"/><rect x="651.50" y="329.67" width="18.48" height="5.25"/><rect x="651.50" y="324.42" width="15.51" height="5.25"/><rect x="651.50" y="319.16" width="12.54" height="5.25"/><rect x="651.50" y="313.91" width="10.23" height="5.25"/><rect x="651.50" y="308.65" width="8.58" height="5.25"/><rect x="651.50" y="303.40" width="6.93" height="5.25"/><rect x="651.50" y="298.14" width="5.94" height="5.25"/><rect x="651.50" y="292.89" width="4.95" height="5.25"/><rect x="651.50" y="287.64" width="4.29" height="5.25"/><rect x="651.50" y="282.38" width="3.63" height="5.25"/><rect x="651.50" y="277.13" width="2.97" height="5.25"/><rect x="651.50" y="271.87" width="2.48" height="5.25"/><rect x="651.50" y="266.62" width="1.98" height="5.25"/><rect x="651.50" y="261.36" width="1.65" height="5.25"/><rect x="651.50" y="256.11" width="1.32" height="5.25"/><rect x="651.50" y="250.85" width="1.09" height="5.25"/><rect x="651.50" y="245.60" width="0.89" height="5.25"/><rect x="651.50" y="240.34" width="0.73" height="5.25"/><rect x="651.50" y="235.09" width="0.59" height="5.25"/><rect x="651.50" y="229.84" width="0.46" height="5.25"/><rect x="651.50" y="224.58" width="0.38" height="5.25"/><rect x="651.50" y="219.33" width="0.32" height="5.25"/></g>
<rect x="651.50" y="210.70" width="33.00" height="150.50" fill="none" stroke="#262626" stroke-width="0.9"/>
</svg></body></html>
